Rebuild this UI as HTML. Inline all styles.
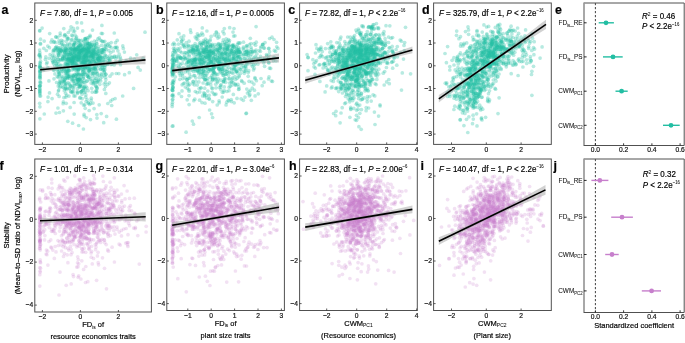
<!DOCTYPE html><html><head><meta charset="utf-8"><style>
html,body{margin:0;padding:0;background:#fff;}
svg{display:block;will-change:transform;filter:blur(0.25px);}
.t,.p{filter:blur(0.25px);}
text{font-family:"Liberation Sans",sans-serif;fill:#000;stroke:#000;stroke-width:0.18px;}
tspan.s{stroke-width:0.04px;}
.tk{font-size:6.7px;fill:#222;}
.an{font-size:8px;fill:#000;}
.at{font-size:7.5px;fill:#000;}
.lb{font-size:6.4px;fill:#111;stroke-width:0.06px;}
.pl{font-size:12.5px;font-weight:bold;fill:#000;}
.t circle{r:1.85px;fill:rgb(35,190,163);fill-opacity:0.33;}
.p circle{r:1.85px;fill:rgb(199,127,204);fill-opacity:0.23;}
</style></head><body>
<svg width="685" height="343" viewBox="0 0 685 343">
<g class="t">
<circle cx="55.5" cy="48.0"/><circle cx="85.4" cy="39.7"/><circle cx="65.6" cy="93.3"/><circle cx="83.6" cy="67.8"/><circle cx="78.6" cy="40.2"/><circle cx="96.9" cy="54.5"/><circle cx="67.1" cy="45.3"/><circle cx="85.6" cy="53.3"/><circle cx="81.2" cy="44.7"/><circle cx="114.9" cy="47.7"/><circle cx="87.1" cy="37.8"/><circle cx="88.5" cy="73.9"/><circle cx="76.9" cy="51.8"/><circle cx="85.0" cy="62.4"/><circle cx="104.7" cy="67.5"/><circle cx="71.4" cy="48.6"/><circle cx="89.2" cy="71.3"/><circle cx="109.4" cy="82.8"/><circle cx="77.2" cy="56.8"/><circle cx="70.2" cy="61.3"/><circle cx="118.2" cy="57.1"/><circle cx="88.3" cy="103.0"/><circle cx="42.1" cy="28.1"/><circle cx="69.3" cy="59.8"/><circle cx="71.7" cy="63.0"/><circle cx="77.1" cy="58.8"/><circle cx="80.6" cy="43.7"/><circle cx="80.5" cy="84.5"/><circle cx="64.4" cy="45.6"/><circle cx="73.3" cy="62.7"/><circle cx="97.1" cy="88.6"/><circle cx="85.6" cy="88.7"/><circle cx="40.2" cy="56.6"/><circle cx="98.1" cy="50.6"/><circle cx="95.6" cy="47.2"/><circle cx="82.0" cy="52.4"/><circle cx="90.4" cy="60.3"/><circle cx="58.6" cy="90.1"/><circle cx="81.5" cy="52.7"/><circle cx="101.6" cy="45.4"/><circle cx="60.2" cy="33.1"/><circle cx="59.2" cy="84.2"/><circle cx="80.8" cy="92.1"/><circle cx="59.0" cy="47.8"/><circle cx="71.1" cy="92.2"/><circle cx="84.1" cy="114.4"/><circle cx="47.1" cy="62.3"/><circle cx="61.3" cy="50.3"/><circle cx="57.4" cy="52.9"/><circle cx="67.1" cy="88.1"/><circle cx="101.3" cy="73.9"/><circle cx="44.3" cy="114.0"/><circle cx="58.8" cy="52.8"/><circle cx="82.6" cy="51.4"/><circle cx="68.1" cy="76.4"/><circle cx="82.1" cy="67.8"/><circle cx="82.7" cy="71.8"/><circle cx="65.1" cy="75.0"/><circle cx="78.4" cy="51.4"/><circle cx="80.0" cy="97.4"/><circle cx="70.4" cy="64.3"/><circle cx="87.6" cy="76.2"/><circle cx="66.1" cy="63.8"/><circle cx="124.4" cy="52.1"/><circle cx="72.7" cy="59.1"/><circle cx="78.9" cy="69.2"/><circle cx="78.0" cy="83.8"/><circle cx="82.9" cy="62.1"/><circle cx="85.3" cy="74.3"/><circle cx="86.7" cy="67.3"/><circle cx="115.3" cy="47.4"/><circle cx="88.0" cy="53.1"/><circle cx="78.1" cy="40.7"/><circle cx="103.9" cy="48.4"/><circle cx="67.4" cy="78.5"/><circle cx="88.7" cy="37.4"/><circle cx="77.2" cy="91.6"/><circle cx="82.5" cy="50.4"/><circle cx="88.2" cy="60.5"/><circle cx="81.2" cy="62.4"/><circle cx="112.0" cy="57.4"/><circle cx="99.6" cy="57.5"/><circle cx="91.6" cy="42.3"/><circle cx="39.9" cy="62.9"/><circle cx="53.8" cy="57.9"/><circle cx="50.1" cy="54.7"/><circle cx="53.1" cy="61.8"/><circle cx="101.0" cy="64.4"/><circle cx="110.8" cy="52.5"/><circle cx="68.9" cy="96.1"/><circle cx="84.6" cy="44.6"/><circle cx="85.8" cy="56.3"/><circle cx="105.2" cy="59.7"/><circle cx="73.1" cy="60.4"/><circle cx="75.1" cy="80.5"/><circle cx="98.3" cy="59.0"/><circle cx="101.9" cy="25.4"/><circle cx="59.7" cy="70.5"/><circle cx="75.1" cy="96.0"/><circle cx="72.3" cy="50.7"/><circle cx="71.7" cy="40.2"/><circle cx="136.7" cy="54.8"/><circle cx="76.1" cy="69.9"/><circle cx="79.9" cy="40.7"/><circle cx="60.2" cy="35.3"/><circle cx="101.3" cy="33.4"/><circle cx="87.3" cy="76.1"/><circle cx="87.4" cy="55.5"/><circle cx="83.3" cy="51.7"/><circle cx="88.8" cy="76.8"/><circle cx="63.9" cy="69.2"/><circle cx="40.3" cy="78.7"/><circle cx="85.3" cy="61.1"/><circle cx="77.4" cy="93.4"/><circle cx="61.7" cy="42.7"/><circle cx="63.1" cy="44.5"/><circle cx="75.9" cy="75.5"/><circle cx="87.4" cy="39.3"/><circle cx="92.2" cy="92.1"/><circle cx="102.8" cy="62.1"/><circle cx="89.1" cy="56.9"/><circle cx="64.1" cy="69.7"/><circle cx="40.3" cy="71.1"/><circle cx="64.0" cy="81.9"/><circle cx="72.6" cy="35.8"/><circle cx="117.9" cy="50.8"/><circle cx="73.4" cy="58.2"/><circle cx="47.8" cy="67.7"/><circle cx="97.8" cy="38.9"/><circle cx="63.4" cy="110.8"/><circle cx="93.8" cy="67.3"/><circle cx="87.8" cy="45.7"/><circle cx="89.2" cy="43.7"/><circle cx="72.0" cy="53.4"/><circle cx="86.6" cy="60.1"/><circle cx="54.6" cy="50.0"/><circle cx="89.6" cy="104.5"/><circle cx="114.3" cy="33.0"/><circle cx="88.6" cy="77.2"/><circle cx="77.9" cy="70.2"/><circle cx="88.7" cy="70.3"/><circle cx="77.0" cy="22.7"/><circle cx="90.5" cy="55.4"/><circle cx="87.4" cy="65.9"/><circle cx="89.9" cy="52.2"/><circle cx="77.2" cy="49.9"/><circle cx="78.7" cy="125.5"/><circle cx="45.4" cy="59.4"/><circle cx="81.2" cy="102.8"/><circle cx="95.6" cy="63.3"/><circle cx="60.6" cy="50.2"/><circle cx="106.6" cy="116.4"/><circle cx="82.7" cy="65.9"/><circle cx="84.6" cy="72.6"/><circle cx="87.9" cy="52.9"/><circle cx="71.9" cy="47.6"/><circle cx="71.9" cy="55.4"/><circle cx="102.2" cy="57.0"/><circle cx="83.5" cy="76.4"/><circle cx="74.9" cy="83.6"/><circle cx="95.1" cy="54.0"/><circle cx="86.1" cy="54.4"/><circle cx="114.2" cy="57.1"/><circle cx="84.7" cy="55.6"/><circle cx="67.5" cy="59.6"/><circle cx="57.0" cy="49.1"/><circle cx="110.0" cy="76.2"/><circle cx="66.0" cy="59.6"/><circle cx="102.7" cy="57.7"/><circle cx="79.7" cy="87.3"/><circle cx="98.8" cy="48.9"/><circle cx="72.9" cy="53.4"/><circle cx="40.3" cy="71.9"/><circle cx="86.6" cy="57.3"/><circle cx="65.9" cy="77.5"/><circle cx="49.4" cy="47.7"/><circle cx="91.5" cy="54.3"/><circle cx="109.2" cy="46.3"/><circle cx="66.0" cy="57.0"/><circle cx="42.5" cy="68.9"/><circle cx="89.1" cy="48.3"/><circle cx="59.2" cy="50.7"/><circle cx="86.9" cy="62.2"/><circle cx="72.8" cy="91.4"/><circle cx="104.9" cy="69.7"/><circle cx="57.7" cy="61.7"/><circle cx="62.7" cy="58.7"/><circle cx="91.3" cy="57.0"/><circle cx="39.7" cy="103.3"/><circle cx="71.1" cy="54.1"/><circle cx="116.3" cy="73.5"/><circle cx="71.9" cy="58.7"/><circle cx="62.5" cy="48.8"/><circle cx="39.8" cy="75.9"/><circle cx="95.2" cy="52.8"/><circle cx="81.2" cy="91.7"/><circle cx="64.6" cy="81.5"/><circle cx="75.1" cy="53.3"/><circle cx="73.5" cy="57.7"/><circle cx="75.7" cy="43.2"/><circle cx="39.6" cy="85.8"/><circle cx="80.3" cy="57.1"/><circle cx="40.4" cy="67.6"/><circle cx="78.9" cy="53.1"/><circle cx="98.1" cy="58.5"/><circle cx="87.6" cy="74.9"/><circle cx="95.0" cy="50.9"/><circle cx="72.9" cy="86.0"/><circle cx="40.2" cy="66.6"/><circle cx="75.8" cy="65.6"/><circle cx="88.1" cy="45.5"/><circle cx="90.7" cy="45.8"/><circle cx="97.1" cy="64.7"/><circle cx="94.0" cy="49.7"/><circle cx="77.0" cy="59.5"/><circle cx="83.7" cy="45.2"/><circle cx="103.3" cy="69.1"/><circle cx="74.8" cy="48.5"/><circle cx="100.8" cy="63.7"/><circle cx="78.8" cy="74.4"/><circle cx="71.7" cy="35.2"/><circle cx="96.8" cy="91.4"/><circle cx="93.3" cy="82.0"/><circle cx="100.9" cy="57.0"/><circle cx="101.7" cy="40.8"/><circle cx="89.6" cy="55.8"/><circle cx="59.6" cy="87.6"/><circle cx="65.7" cy="48.1"/><circle cx="88.4" cy="51.8"/><circle cx="81.5" cy="55.4"/><circle cx="108.1" cy="58.3"/><circle cx="67.3" cy="71.3"/><circle cx="62.6" cy="81.3"/><circle cx="83.5" cy="49.2"/><circle cx="88.0" cy="43.7"/><circle cx="97.7" cy="59.2"/><circle cx="69.6" cy="83.9"/><circle cx="79.2" cy="83.3"/><circle cx="76.4" cy="57.4"/><circle cx="74.3" cy="68.9"/><circle cx="89.9" cy="70.0"/><circle cx="68.8" cy="58.7"/><circle cx="69.3" cy="52.6"/><circle cx="91.6" cy="53.3"/><circle cx="84.8" cy="64.0"/><circle cx="80.6" cy="49.9"/><circle cx="89.9" cy="79.6"/><circle cx="72.7" cy="79.1"/><circle cx="92.7" cy="49.7"/><circle cx="91.2" cy="53.9"/><circle cx="80.6" cy="66.3"/><circle cx="56.5" cy="63.2"/><circle cx="39.6" cy="89.5"/><circle cx="82.2" cy="74.6"/><circle cx="97.1" cy="73.0"/><circle cx="97.1" cy="82.1"/><circle cx="65.9" cy="97.1"/><circle cx="104.6" cy="51.4"/><circle cx="43.8" cy="48.3"/><circle cx="95.2" cy="67.2"/><circle cx="69.9" cy="85.2"/><circle cx="72.6" cy="123.2"/><circle cx="112.1" cy="57.4"/><circle cx="71.5" cy="58.7"/><circle cx="79.8" cy="65.5"/><circle cx="39.8" cy="93.7"/><circle cx="143.1" cy="58.3"/><circle cx="122.7" cy="96.0"/><circle cx="62.8" cy="41.0"/><circle cx="88.1" cy="90.7"/><circle cx="87.6" cy="45.4"/><circle cx="87.5" cy="49.4"/><circle cx="83.3" cy="69.5"/><circle cx="88.4" cy="51.0"/><circle cx="72.8" cy="64.9"/><circle cx="70.0" cy="60.5"/><circle cx="87.3" cy="48.8"/><circle cx="95.4" cy="62.8"/><circle cx="99.2" cy="104.8"/><circle cx="58.3" cy="77.2"/><circle cx="78.6" cy="42.7"/><circle cx="39.8" cy="66.3"/><circle cx="83.7" cy="105.2"/><circle cx="52.3" cy="55.5"/><circle cx="89.0" cy="71.0"/><circle cx="78.0" cy="69.8"/><circle cx="83.7" cy="49.4"/><circle cx="104.8" cy="41.4"/><circle cx="83.8" cy="82.6"/><circle cx="73.2" cy="75.7"/><circle cx="54.0" cy="78.8"/><circle cx="94.6" cy="45.4"/><circle cx="94.4" cy="41.0"/><circle cx="60.1" cy="52.3"/><circle cx="81.3" cy="60.2"/><circle cx="91.2" cy="55.7"/><circle cx="72.4" cy="75.2"/><circle cx="74.2" cy="50.8"/><circle cx="59.5" cy="112.5"/><circle cx="73.4" cy="45.0"/><circle cx="70.3" cy="53.8"/><circle cx="71.0" cy="26.8"/><circle cx="83.8" cy="41.5"/><circle cx="64.8" cy="34.5"/><circle cx="78.0" cy="81.7"/><circle cx="89.2" cy="69.9"/><circle cx="45.8" cy="56.9"/><circle cx="97.3" cy="57.4"/><circle cx="98.7" cy="65.8"/><circle cx="81.1" cy="46.6"/><circle cx="120.7" cy="59.2"/><circle cx="85.1" cy="68.8"/><circle cx="97.1" cy="58.1"/><circle cx="71.8" cy="58.1"/><circle cx="97.1" cy="62.2"/><circle cx="59.5" cy="73.8"/><circle cx="73.3" cy="51.6"/><circle cx="94.1" cy="73.4"/><circle cx="68.3" cy="32.5"/><circle cx="78.2" cy="68.7"/><circle cx="76.0" cy="53.9"/><circle cx="77.9" cy="80.1"/><circle cx="83.0" cy="90.3"/><circle cx="57.7" cy="37.4"/><circle cx="94.7" cy="51.7"/><circle cx="57.5" cy="94.2"/><circle cx="102.5" cy="33.6"/><circle cx="79.2" cy="57.4"/><circle cx="66.8" cy="83.9"/><circle cx="80.1" cy="50.8"/><circle cx="83.1" cy="74.4"/><circle cx="73.0" cy="60.1"/><circle cx="102.0" cy="67.9"/><circle cx="67.5" cy="64.7"/><circle cx="67.0" cy="75.0"/><circle cx="87.9" cy="68.1"/><circle cx="82.1" cy="90.5"/><circle cx="62.7" cy="71.8"/><circle cx="102.0" cy="52.1"/><circle cx="76.1" cy="70.8"/><circle cx="82.1" cy="98.7"/><circle cx="91.4" cy="62.7"/><circle cx="70.2" cy="58.3"/><circle cx="80.4" cy="45.4"/><circle cx="81.8" cy="50.8"/><circle cx="59.2" cy="73.9"/><circle cx="82.8" cy="48.6"/><circle cx="94.0" cy="54.0"/><circle cx="99.2" cy="37.9"/><circle cx="47.9" cy="101.6"/><circle cx="70.7" cy="51.5"/><circle cx="93.7" cy="83.3"/><circle cx="83.4" cy="129.0"/><circle cx="40.1" cy="70.2"/><circle cx="75.5" cy="58.3"/><circle cx="93.2" cy="56.1"/><circle cx="80.2" cy="85.5"/><circle cx="85.6" cy="50.9"/><circle cx="61.3" cy="44.0"/><circle cx="73.6" cy="89.1"/><circle cx="104.3" cy="71.9"/><circle cx="107.7" cy="61.4"/><circle cx="69.4" cy="70.7"/><circle cx="89.0" cy="47.3"/><circle cx="73.2" cy="92.9"/><circle cx="87.3" cy="49.2"/><circle cx="75.8" cy="76.8"/><circle cx="74.6" cy="42.4"/><circle cx="66.3" cy="49.1"/><circle cx="69.1" cy="63.5"/><circle cx="84.3" cy="53.6"/><circle cx="83.2" cy="63.4"/><circle cx="78.6" cy="53.0"/><circle cx="111.4" cy="47.8"/><circle cx="90.3" cy="68.4"/><circle cx="106.3" cy="46.8"/><circle cx="58.2" cy="59.0"/><circle cx="84.9" cy="82.6"/><circle cx="107.7" cy="84.5"/><circle cx="99.4" cy="55.8"/><circle cx="80.0" cy="51.6"/><circle cx="85.9" cy="51.8"/><circle cx="80.2" cy="59.5"/><circle cx="57.3" cy="57.3"/><circle cx="46.3" cy="50.5"/><circle cx="65.5" cy="78.3"/><circle cx="104.1" cy="84.0"/><circle cx="72.2" cy="61.5"/><circle cx="84.9" cy="58.4"/><circle cx="68.3" cy="58.2"/><circle cx="62.3" cy="78.6"/><circle cx="71.2" cy="86.1"/><circle cx="75.3" cy="56.5"/><circle cx="105.0" cy="49.1"/><circle cx="81.7" cy="63.0"/><circle cx="70.2" cy="30.0"/><circle cx="103.8" cy="50.8"/><circle cx="87.3" cy="60.6"/><circle cx="58.8" cy="72.2"/><circle cx="68.2" cy="54.3"/><circle cx="83.7" cy="57.9"/><circle cx="75.2" cy="47.7"/><circle cx="76.2" cy="38.2"/><circle cx="118.8" cy="73.6"/><circle cx="52.9" cy="62.1"/><circle cx="87.2" cy="67.6"/><circle cx="80.6" cy="78.0"/><circle cx="92.1" cy="51.4"/><circle cx="105.8" cy="93.4"/><circle cx="109.0" cy="62.2"/><circle cx="52.3" cy="60.6"/><circle cx="57.9" cy="66.3"/><circle cx="88.1" cy="49.0"/><circle cx="82.4" cy="59.1"/><circle cx="66.2" cy="41.4"/><circle cx="85.3" cy="55.3"/><circle cx="95.2" cy="69.3"/><circle cx="84.5" cy="67.4"/><circle cx="86.0" cy="55.4"/><circle cx="83.3" cy="89.2"/><circle cx="88.7" cy="52.8"/><circle cx="100.7" cy="68.9"/><circle cx="85.9" cy="50.0"/><circle cx="83.0" cy="66.7"/><circle cx="56.1" cy="50.4"/><circle cx="95.5" cy="69.2"/><circle cx="129.3" cy="72.7"/><circle cx="40.7" cy="82.7"/><circle cx="97.8" cy="58.6"/><circle cx="82.7" cy="30.9"/><circle cx="123.3" cy="48.4"/><circle cx="86.8" cy="81.3"/><circle cx="65.0" cy="77.9"/><circle cx="114.2" cy="65.0"/><circle cx="78.0" cy="81.8"/><circle cx="91.3" cy="98.2"/><circle cx="82.6" cy="48.1"/><circle cx="107.6" cy="64.0"/><circle cx="67.7" cy="39.2"/><circle cx="63.1" cy="103.7"/><circle cx="113.3" cy="51.0"/><circle cx="95.6" cy="54.5"/><circle cx="83.5" cy="57.3"/><circle cx="84.8" cy="38.5"/><circle cx="93.6" cy="47.4"/><circle cx="88.9" cy="61.8"/><circle cx="76.1" cy="78.5"/><circle cx="39.8" cy="65.2"/><circle cx="54.3" cy="41.7"/><circle cx="73.9" cy="63.9"/><circle cx="64.6" cy="65.1"/><circle cx="102.4" cy="41.6"/><circle cx="56.5" cy="46.5"/><circle cx="60.4" cy="47.8"/><circle cx="91.2" cy="61.4"/><circle cx="87.3" cy="42.6"/><circle cx="75.7" cy="76.1"/><circle cx="74.0" cy="57.0"/><circle cx="82.4" cy="82.3"/><circle cx="85.5" cy="62.5"/><circle cx="101.0" cy="58.6"/><circle cx="78.2" cy="56.2"/><circle cx="66.3" cy="62.3"/><circle cx="104.5" cy="61.3"/><circle cx="73.5" cy="59.6"/><circle cx="80.4" cy="57.0"/><circle cx="93.6" cy="50.4"/><circle cx="100.3" cy="40.1"/><circle cx="40.3" cy="75.7"/><circle cx="84.1" cy="49.2"/><circle cx="138.1" cy="67.4"/><circle cx="68.7" cy="52.7"/><circle cx="85.8" cy="59.1"/><circle cx="78.6" cy="54.7"/><circle cx="83.4" cy="88.2"/><circle cx="74.6" cy="85.9"/><circle cx="86.2" cy="117.6"/><circle cx="79.7" cy="49.5"/><circle cx="59.0" cy="40.9"/><circle cx="62.3" cy="59.4"/><circle cx="77.0" cy="65.5"/><circle cx="58.8" cy="66.6"/><circle cx="92.6" cy="53.7"/><circle cx="79.8" cy="50.3"/><circle cx="74.7" cy="31.0"/><circle cx="99.7" cy="61.0"/><circle cx="59.2" cy="51.6"/><circle cx="80.0" cy="85.1"/><circle cx="86.7" cy="64.8"/><circle cx="78.5" cy="46.2"/><circle cx="57.3" cy="49.8"/><circle cx="72.9" cy="56.8"/><circle cx="92.2" cy="55.9"/><circle cx="72.0" cy="91.8"/><circle cx="86.1" cy="101.5"/><circle cx="78.2" cy="79.9"/><circle cx="68.3" cy="48.1"/><circle cx="58.4" cy="55.5"/><circle cx="114.5" cy="56.0"/><circle cx="40.0" cy="74.7"/><circle cx="101.2" cy="113.6"/><circle cx="78.5" cy="59.1"/><circle cx="60.6" cy="59.5"/><circle cx="92.4" cy="57.4"/><circle cx="84.4" cy="87.5"/><circle cx="79.3" cy="57.8"/><circle cx="77.1" cy="67.5"/><circle cx="89.0" cy="64.7"/><circle cx="85.6" cy="44.8"/><circle cx="64.7" cy="52.2"/><circle cx="73.3" cy="80.7"/><circle cx="102.4" cy="49.6"/><circle cx="77.5" cy="28.1"/><circle cx="93.1" cy="84.0"/><circle cx="94.8" cy="82.6"/><circle cx="71.3" cy="58.5"/><circle cx="108.5" cy="43.5"/><circle cx="62.2" cy="56.2"/><circle cx="94.1" cy="108.6"/><circle cx="89.2" cy="70.8"/><circle cx="74.7" cy="48.9"/><circle cx="73.5" cy="66.6"/><circle cx="90.2" cy="36.6"/><circle cx="63.8" cy="50.4"/><circle cx="75.9" cy="55.8"/><circle cx="40.4" cy="44.2"/><circle cx="99.5" cy="56.4"/><circle cx="110.2" cy="60.5"/><circle cx="70.2" cy="107.4"/><circle cx="85.4" cy="38.9"/><circle cx="90.0" cy="35.3"/><circle cx="97.9" cy="63.6"/><circle cx="56.8" cy="65.7"/><circle cx="100.6" cy="53.2"/><circle cx="66.9" cy="58.3"/><circle cx="39.7" cy="91.1"/><circle cx="64.8" cy="52.9"/><circle cx="76.7" cy="55.9"/><circle cx="66.2" cy="73.7"/><circle cx="116.9" cy="47.2"/><circle cx="63.8" cy="28.6"/><circle cx="61.5" cy="65.3"/><circle cx="73.3" cy="28.4"/><circle cx="76.1" cy="49.8"/><circle cx="93.5" cy="68.3"/><circle cx="95.1" cy="63.4"/><circle cx="87.0" cy="51.0"/><circle cx="103.4" cy="58.0"/><circle cx="74.8" cy="50.4"/><circle cx="68.1" cy="71.3"/><circle cx="98.2" cy="81.3"/><circle cx="39.7" cy="55.3"/><circle cx="57.7" cy="69.0"/><circle cx="78.3" cy="59.3"/><circle cx="100.4" cy="65.1"/><circle cx="98.2" cy="54.0"/><circle cx="39.9" cy="68.4"/><circle cx="73.7" cy="45.7"/><circle cx="105.5" cy="86.5"/><circle cx="40.0" cy="92.7"/><circle cx="79.9" cy="54.8"/><circle cx="58.8" cy="74.2"/><circle cx="74.6" cy="56.6"/><circle cx="120.2" cy="61.4"/><circle cx="95.2" cy="49.1"/><circle cx="62.9" cy="50.2"/><circle cx="65.1" cy="79.9"/><circle cx="72.4" cy="49.8"/><circle cx="100.7" cy="69.3"/><circle cx="95.8" cy="86.3"/><circle cx="72.9" cy="58.3"/><circle cx="95.1" cy="92.2"/><circle cx="89.9" cy="51.9"/><circle cx="76.6" cy="60.5"/><circle cx="71.7" cy="79.3"/><circle cx="86.7" cy="60.8"/><circle cx="100.2" cy="59.2"/><circle cx="40.5" cy="61.2"/><circle cx="101.6" cy="74.9"/><circle cx="77.8" cy="47.0"/><circle cx="65.7" cy="87.6"/><circle cx="96.7" cy="87.0"/><circle cx="68.2" cy="59.9"/><circle cx="87.1" cy="99.6"/><circle cx="96.8" cy="47.9"/><circle cx="83.3" cy="54.6"/><circle cx="105.8" cy="74.3"/><circle cx="87.2" cy="80.8"/><circle cx="64.5" cy="51.6"/><circle cx="83.3" cy="61.1"/><circle cx="77.6" cy="73.6"/><circle cx="91.7" cy="88.3"/><circle cx="68.3" cy="56.9"/><circle cx="119.2" cy="54.2"/><circle cx="68.9" cy="58.8"/><circle cx="84.4" cy="61.6"/><circle cx="40.0" cy="81.7"/><circle cx="74.5" cy="67.9"/><circle cx="96.1" cy="90.5"/><circle cx="55.5" cy="59.1"/><circle cx="91.1" cy="44.7"/><circle cx="60.0" cy="80.1"/><circle cx="61.3" cy="40.3"/><circle cx="72.4" cy="61.5"/><circle cx="96.3" cy="44.0"/><circle cx="65.5" cy="66.2"/><circle cx="58.4" cy="91.0"/><circle cx="79.6" cy="51.7"/><circle cx="78.5" cy="45.9"/><circle cx="90.8" cy="50.7"/><circle cx="71.2" cy="54.4"/><circle cx="74.1" cy="49.4"/><circle cx="48.1" cy="97.1"/><circle cx="105.8" cy="79.6"/><circle cx="59.0" cy="55.5"/><circle cx="79.5" cy="79.9"/><circle cx="39.9" cy="30.8"/><circle cx="91.1" cy="83.1"/><circle cx="72.3" cy="66.3"/><circle cx="39.6" cy="67.0"/><circle cx="97.0" cy="118.1"/><circle cx="105.4" cy="82.6"/><circle cx="104.4" cy="72.4"/><circle cx="88.5" cy="50.8"/><circle cx="57.9" cy="108.0"/><circle cx="77.5" cy="64.9"/><circle cx="102.8" cy="70.1"/><circle cx="78.4" cy="57.2"/><circle cx="62.7" cy="45.9"/><circle cx="83.5" cy="58.5"/><circle cx="62.4" cy="58.2"/><circle cx="140.3" cy="70.1"/><circle cx="67.3" cy="44.7"/><circle cx="93.0" cy="71.5"/><circle cx="98.3" cy="55.9"/><circle cx="79.9" cy="79.1"/><circle cx="85.1" cy="66.7"/><circle cx="83.4" cy="77.7"/><circle cx="57.1" cy="76.7"/><circle cx="115.1" cy="98.6"/><circle cx="72.0" cy="49.4"/><circle cx="40.1" cy="90.0"/><circle cx="66.6" cy="53.2"/><circle cx="68.6" cy="48.9"/><circle cx="78.6" cy="70.0"/><circle cx="86.5" cy="56.9"/><circle cx="98.8" cy="62.1"/><circle cx="55.4" cy="42.5"/><circle cx="88.3" cy="68.0"/><circle cx="92.5" cy="64.1"/><circle cx="94.0" cy="57.4"/><circle cx="49.5" cy="92.9"/><circle cx="116.9" cy="47.9"/><circle cx="94.3" cy="62.1"/><circle cx="39.8" cy="95.9"/><circle cx="85.1" cy="60.1"/><circle cx="70.3" cy="52.7"/><circle cx="74.0" cy="81.2"/><circle cx="88.4" cy="51.5"/><circle cx="59.1" cy="49.4"/><circle cx="78.5" cy="47.6"/><circle cx="90.7" cy="48.5"/><circle cx="74.4" cy="58.0"/><circle cx="119.3" cy="61.9"/><circle cx="56.0" cy="113.1"/><circle cx="39.9" cy="106.8"/><circle cx="88.2" cy="102.8"/><circle cx="79.6" cy="78.4"/><circle cx="87.3" cy="60.1"/><circle cx="97.9" cy="76.3"/><circle cx="51.0" cy="42.1"/><circle cx="72.0" cy="80.9"/><circle cx="98.5" cy="46.9"/><circle cx="61.5" cy="71.5"/><circle cx="81.1" cy="91.7"/><circle cx="66.7" cy="95.4"/><circle cx="78.7" cy="73.0"/><circle cx="69.2" cy="77.2"/><circle cx="85.0" cy="49.7"/><circle cx="69.4" cy="88.8"/><circle cx="77.0" cy="84.4"/><circle cx="77.6" cy="57.5"/><circle cx="97.1" cy="43.8"/><circle cx="39.9" cy="77.7"/><circle cx="92.9" cy="57.3"/><circle cx="72.7" cy="63.4"/><circle cx="93.5" cy="50.8"/><circle cx="68.7" cy="38.7"/><circle cx="87.6" cy="53.4"/><circle cx="70.5" cy="60.1"/><circle cx="76.0" cy="56.4"/><circle cx="64.3" cy="90.7"/><circle cx="40.2" cy="67.6"/><circle cx="81.1" cy="48.9"/><circle cx="81.8" cy="74.2"/><circle cx="83.0" cy="71.6"/><circle cx="84.1" cy="116.0"/><circle cx="72.1" cy="57.4"/><circle cx="83.8" cy="59.9"/><circle cx="53.7" cy="49.8"/><circle cx="77.6" cy="92.5"/><circle cx="64.3" cy="68.0"/><circle cx="96.7" cy="59.0"/><circle cx="77.6" cy="79.9"/><circle cx="53.3" cy="50.5"/><circle cx="105.4" cy="55.6"/><circle cx="73.3" cy="77.0"/><circle cx="80.1" cy="59.3"/><circle cx="81.9" cy="63.1"/><circle cx="105.8" cy="74.2"/><circle cx="115.7" cy="58.5"/><circle cx="71.0" cy="65.7"/><circle cx="98.2" cy="51.4"/><circle cx="94.6" cy="44.6"/><circle cx="97.6" cy="68.8"/><circle cx="74.4" cy="53.1"/><circle cx="86.8" cy="48.2"/><circle cx="68.2" cy="63.3"/><circle cx="79.0" cy="86.4"/><circle cx="69.6" cy="50.1"/><circle cx="91.4" cy="45.9"/><circle cx="40.3" cy="57.7"/><circle cx="69.1" cy="78.3"/><circle cx="49.0" cy="58.3"/><circle cx="66.2" cy="103.3"/><circle cx="67.1" cy="69.7"/><circle cx="85.4" cy="38.6"/><circle cx="66.4" cy="60.1"/><circle cx="91.1" cy="100.3"/><circle cx="77.6" cy="77.3"/><circle cx="78.4" cy="79.2"/><circle cx="61.2" cy="51.1"/><circle cx="95.0" cy="47.3"/><circle cx="91.8" cy="58.8"/><circle cx="61.7" cy="69.6"/><circle cx="89.2" cy="110.5"/><circle cx="76.7" cy="61.3"/><circle cx="101.8" cy="60.5"/><circle cx="73.1" cy="76.1"/><circle cx="89.4" cy="60.9"/><circle cx="120.5" cy="64.7"/><circle cx="103.3" cy="61.0"/><circle cx="99.8" cy="84.3"/><circle cx="80.0" cy="58.6"/><circle cx="54.2" cy="55.8"/><circle cx="107.5" cy="64.4"/><circle cx="73.6" cy="44.9"/><circle cx="59.1" cy="96.4"/><circle cx="108.6" cy="58.2"/><circle cx="89.3" cy="47.2"/><circle cx="85.8" cy="69.1"/><circle cx="74.0" cy="48.2"/><circle cx="115.5" cy="42.7"/><circle cx="89.2" cy="48.6"/><circle cx="70.2" cy="47.1"/><circle cx="67.0" cy="54.6"/><circle cx="69.3" cy="76.2"/><circle cx="115.5" cy="62.7"/><circle cx="84.3" cy="56.8"/><circle cx="94.4" cy="80.4"/><circle cx="96.3" cy="65.8"/><circle cx="93.6" cy="59.3"/><circle cx="92.7" cy="53.1"/><circle cx="67.4" cy="73.9"/><circle cx="69.9" cy="59.6"/><circle cx="65.6" cy="51.9"/><circle cx="64.5" cy="57.5"/><circle cx="98.7" cy="60.2"/><circle cx="73.8" cy="60.7"/><circle cx="85.3" cy="67.8"/><circle cx="89.2" cy="64.5"/><circle cx="82.9" cy="57.7"/><circle cx="122.8" cy="45.9"/><circle cx="95.8" cy="85.6"/><circle cx="68.0" cy="59.4"/><circle cx="63.8" cy="67.8"/><circle cx="57.5" cy="47.9"/><circle cx="68.1" cy="82.6"/><circle cx="84.3" cy="92.5"/><circle cx="90.6" cy="103.4"/><circle cx="89.4" cy="44.4"/><circle cx="65.9" cy="88.4"/><circle cx="39.9" cy="52.7"/><circle cx="79.2" cy="53.1"/><circle cx="60.3" cy="53.3"/><circle cx="69.3" cy="76.2"/><circle cx="69.7" cy="44.7"/><circle cx="84.7" cy="47.6"/><circle cx="64.4" cy="56.1"/><circle cx="60.4" cy="86.2"/><circle cx="70.7" cy="91.2"/><circle cx="39.7" cy="54.4"/><circle cx="68.9" cy="55.3"/><circle cx="92.7" cy="53.7"/><circle cx="72.1" cy="63.8"/><circle cx="51.9" cy="58.1"/><circle cx="65.8" cy="50.6"/><circle cx="39.9" cy="118.8"/><circle cx="76.8" cy="74.0"/><circle cx="62.3" cy="77.3"/><circle cx="79.6" cy="86.6"/><circle cx="77.0" cy="50.1"/><circle cx="81.6" cy="22.9"/><circle cx="78.4" cy="60.7"/><circle cx="87.0" cy="87.8"/><circle cx="68.4" cy="76.6"/><circle cx="79.2" cy="56.7"/><circle cx="58.2" cy="71.6"/><circle cx="39.8" cy="91.9"/><circle cx="85.2" cy="66.1"/><circle cx="97.3" cy="73.8"/><circle cx="80.4" cy="55.8"/><circle cx="102.5" cy="65.1"/><circle cx="67.2" cy="49.9"/><circle cx="96.5" cy="63.3"/><circle cx="70.7" cy="61.3"/><circle cx="84.3" cy="48.0"/><circle cx="89.5" cy="51.6"/><circle cx="81.5" cy="75.2"/><circle cx="81.6" cy="40.3"/><circle cx="84.2" cy="62.8"/><circle cx="86.3" cy="57.8"/><circle cx="64.3" cy="35.9"/><circle cx="78.0" cy="60.0"/><circle cx="105.2" cy="45.9"/><circle cx="39.0" cy="55.2"/><circle cx="61.4" cy="68.9"/><circle cx="93.8" cy="68.7"/><circle cx="90.5" cy="119.6"/><circle cx="130.6" cy="58.2"/><circle cx="67.3" cy="64.5"/><circle cx="88.3" cy="47.7"/><circle cx="40.6" cy="95.9"/><circle cx="59.2" cy="59.9"/><circle cx="88.2" cy="59.2"/><circle cx="90.6" cy="67.4"/><circle cx="92.3" cy="76.2"/><circle cx="61.7" cy="76.2"/><circle cx="73.7" cy="54.8"/><circle cx="95.9" cy="78.5"/><circle cx="47.8" cy="46.1"/><circle cx="72.8" cy="87.7"/><circle cx="74.2" cy="58.9"/><circle cx="65.7" cy="50.3"/><circle cx="66.9" cy="36.8"/><circle cx="133.6" cy="88.4"/><circle cx="43.9" cy="69.8"/><circle cx="111.2" cy="42.6"/><circle cx="54.2" cy="70.0"/><circle cx="98.7" cy="60.8"/><circle cx="60.2" cy="49.9"/><circle cx="86.1" cy="43.5"/><circle cx="65.2" cy="35.2"/><circle cx="80.5" cy="86.3"/><circle cx="100.7" cy="81.0"/><circle cx="81.2" cy="50.3"/><circle cx="104.5" cy="75.4"/><circle cx="74.9" cy="53.1"/><circle cx="75.2" cy="49.5"/><circle cx="83.1" cy="62.2"/><circle cx="75.1" cy="35.1"/><circle cx="82.4" cy="55.8"/><circle cx="100.6" cy="60.6"/><circle cx="92.8" cy="73.4"/><circle cx="92.9" cy="60.6"/><circle cx="80.4" cy="80.1"/><circle cx="59.2" cy="43.2"/><circle cx="40.1" cy="85.8"/><circle cx="111.7" cy="105.5"/><circle cx="101.7" cy="52.9"/><circle cx="39.6" cy="30.7"/><circle cx="70.5" cy="86.1"/><circle cx="93.9" cy="53.2"/><circle cx="84.0" cy="65.1"/><circle cx="74.9" cy="68.0"/><circle cx="90.0" cy="63.2"/><circle cx="145.0" cy="32.2"/><circle cx="84.0" cy="50.0"/><circle cx="91.4" cy="73.8"/><circle cx="104.9" cy="57.6"/><circle cx="69.3" cy="56.7"/><circle cx="78.2" cy="74.5"/><circle cx="52.1" cy="98.6"/><circle cx="94.4" cy="44.3"/><circle cx="55.9" cy="36.8"/><circle cx="97.4" cy="80.5"/><circle cx="81.5" cy="50.4"/><circle cx="64.1" cy="80.8"/><circle cx="101.6" cy="49.9"/><circle cx="97.7" cy="59.3"/><circle cx="104.7" cy="54.5"/><circle cx="85.9" cy="94.9"/><circle cx="82.1" cy="49.8"/><circle cx="82.1" cy="69.8"/><circle cx="69.6" cy="88.1"/><circle cx="103.5" cy="49.8"/><circle cx="74.2" cy="114.1"/><circle cx="77.0" cy="66.5"/><circle cx="106.3" cy="49.4"/><circle cx="77.4" cy="68.6"/><circle cx="76.5" cy="84.1"/><circle cx="97.4" cy="51.8"/><circle cx="91.2" cy="46.0"/><circle cx="101.7" cy="64.8"/><circle cx="74.8" cy="74.3"/><circle cx="75.7" cy="64.9"/><circle cx="85.7" cy="97.2"/><circle cx="81.9" cy="46.3"/><circle cx="93.5" cy="52.4"/><circle cx="66.9" cy="67.6"/><circle cx="86.8" cy="56.1"/><circle cx="46.6" cy="63.8"/><circle cx="99.0" cy="50.7"/><circle cx="81.6" cy="50.6"/><circle cx="66.3" cy="70.3"/><circle cx="93.9" cy="50.9"/><circle cx="74.9" cy="52.5"/><circle cx="53.4" cy="70.1"/><circle cx="94.1" cy="69.1"/><circle cx="40.3" cy="85.5"/><circle cx="66.7" cy="89.6"/><circle cx="75.5" cy="48.9"/><circle cx="84.1" cy="41.1"/><circle cx="65.0" cy="59.0"/><circle cx="62.9" cy="57.0"/><circle cx="76.1" cy="55.7"/><circle cx="93.6" cy="55.9"/><circle cx="79.4" cy="43.5"/><circle cx="96.5" cy="41.4"/><circle cx="79.7" cy="53.0"/><circle cx="124.6" cy="74.7"/><circle cx="39.9" cy="88.2"/><circle cx="111.9" cy="64.2"/><circle cx="85.4" cy="57.3"/><circle cx="63.4" cy="101.8"/><circle cx="80.5" cy="68.1"/><circle cx="59.3" cy="83.1"/><circle cx="77.8" cy="51.1"/><circle cx="40.3" cy="63.4"/><circle cx="98.9" cy="58.0"/><circle cx="55.6" cy="47.6"/><circle cx="80.1" cy="66.8"/><circle cx="85.5" cy="72.5"/><circle cx="72.6" cy="60.1"/><circle cx="68.4" cy="60.5"/><circle cx="76.4" cy="49.4"/><circle cx="91.0" cy="55.7"/><circle cx="74.8" cy="63.2"/><circle cx="77.3" cy="59.4"/><circle cx="100.5" cy="78.8"/><circle cx="53.6" cy="42.2"/><circle cx="65.0" cy="88.8"/><circle cx="94.6" cy="66.1"/><circle cx="86.3" cy="53.6"/><circle cx="73.1" cy="56.5"/><circle cx="85.0" cy="55.1"/><circle cx="90.0" cy="59.5"/><circle cx="103.9" cy="69.9"/><circle cx="69.9" cy="54.7"/><circle cx="74.5" cy="62.7"/><circle cx="67.5" cy="62.8"/><circle cx="82.2" cy="62.8"/><circle cx="78.0" cy="48.6"/><circle cx="86.7" cy="52.6"/><circle cx="96.8" cy="114.5"/><circle cx="64.7" cy="56.1"/><circle cx="116.4" cy="56.6"/><circle cx="65.3" cy="54.6"/><circle cx="117.2" cy="40.4"/><circle cx="78.1" cy="49.5"/><circle cx="65.8" cy="71.6"/><circle cx="98.4" cy="53.6"/><circle cx="85.8" cy="55.9"/><circle cx="109.8" cy="55.8"/><circle cx="89.8" cy="43.4"/><circle cx="61.0" cy="82.4"/><circle cx="108.3" cy="62.9"/><circle cx="67.1" cy="54.7"/><circle cx="112.6" cy="99.5"/><circle cx="68.3" cy="64.3"/><circle cx="88.4" cy="49.6"/><circle cx="39.6" cy="86.5"/><circle cx="91.7" cy="64.7"/><circle cx="70.4" cy="49.9"/><circle cx="82.6" cy="51.8"/><circle cx="92.5" cy="30.1"/><circle cx="62.7" cy="86.9"/><circle cx="103.8" cy="65.4"/><circle cx="96.6" cy="71.6"/><circle cx="84.7" cy="104.8"/><circle cx="69.0" cy="74.1"/><circle cx="91.4" cy="46.9"/><circle cx="63.2" cy="87.6"/><circle cx="95.9" cy="60.5"/><circle cx="109.6" cy="60.4"/><circle cx="84.6" cy="63.5"/><circle cx="87.3" cy="42.1"/><circle cx="55.8" cy="60.8"/><circle cx="81.5" cy="81.4"/><circle cx="86.4" cy="48.5"/><circle cx="80.3" cy="75.0"/><circle cx="91.7" cy="69.5"/><circle cx="85.3" cy="91.9"/><circle cx="78.6" cy="68.8"/><circle cx="75.7" cy="39.0"/><circle cx="40.1" cy="71.0"/><circle cx="68.5" cy="66.0"/><circle cx="56.9" cy="69.7"/><circle cx="69.2" cy="70.5"/><circle cx="86.3" cy="51.3"/><circle cx="73.0" cy="68.8"/><circle cx="104.9" cy="65.9"/><circle cx="75.3" cy="61.5"/><circle cx="126.1" cy="60.6"/><circle cx="77.8" cy="47.2"/><circle cx="56.6" cy="82.5"/><circle cx="85.9" cy="51.6"/><circle cx="105.6" cy="77.3"/><circle cx="76.3" cy="63.5"/><circle cx="74.0" cy="58.4"/><circle cx="79.3" cy="60.4"/><circle cx="90.3" cy="56.5"/><circle cx="92.3" cy="55.2"/><circle cx="72.4" cy="61.3"/><circle cx="99.3" cy="75.4"/><circle cx="67.7" cy="73.4"/><circle cx="83.9" cy="60.4"/><circle cx="102.2" cy="77.0"/><circle cx="110.6" cy="101.2"/><circle cx="67.4" cy="38.3"/><circle cx="88.6" cy="57.0"/><circle cx="59.2" cy="76.0"/><circle cx="100.1" cy="57.9"/><circle cx="54.6" cy="61.2"/><circle cx="89.5" cy="67.4"/><circle cx="72.1" cy="76.5"/><circle cx="68.2" cy="69.9"/><circle cx="39.8" cy="77.3"/><circle cx="78.9" cy="57.2"/><circle cx="77.4" cy="79.5"/><circle cx="100.2" cy="63.5"/><circle cx="103.7" cy="122.7"/><circle cx="65.5" cy="48.9"/><circle cx="80.0" cy="98.2"/><circle cx="107.8" cy="103.5"/><circle cx="72.4" cy="77.7"/><circle cx="104.4" cy="89.4"/><circle cx="68.7" cy="67.9"/><circle cx="65.0" cy="71.6"/><circle cx="97.0" cy="82.3"/><circle cx="73.5" cy="31.7"/><circle cx="98.4" cy="79.5"/><circle cx="39.6" cy="50.1"/><circle cx="61.3" cy="83.4"/><circle cx="75.0" cy="44.6"/><circle cx="83.5" cy="54.9"/><circle cx="93.1" cy="59.4"/><circle cx="101.9" cy="49.9"/><circle cx="105.5" cy="44.8"/><circle cx="65.3" cy="48.1"/><circle cx="95.0" cy="68.5"/><circle cx="116.4" cy="119.2"/><circle cx="111.0" cy="64.6"/><circle cx="95.5" cy="72.7"/><circle cx="53.3" cy="52.2"/><circle cx="76.1" cy="67.8"/><circle cx="63.9" cy="80.4"/><circle cx="65.5" cy="85.0"/><circle cx="76.1" cy="49.1"/><circle cx="106.6" cy="56.3"/><circle cx="72.0" cy="61.5"/><circle cx="63.9" cy="97.6"/><circle cx="97.0" cy="87.9"/><circle cx="74.1" cy="102.5"/><circle cx="74.4" cy="50.2"/><circle cx="54.9" cy="73.9"/><circle cx="83.6" cy="57.0"/><circle cx="65.7" cy="83.9"/><circle cx="39.9" cy="73.2"/><circle cx="75.2" cy="74.7"/><circle cx="83.9" cy="61.6"/><circle cx="73.1" cy="44.5"/><circle cx="80.2" cy="62.8"/><circle cx="66.4" cy="50.8"/><circle cx="91.9" cy="54.9"/><circle cx="80.7" cy="68.0"/><circle cx="75.9" cy="40.7"/><circle cx="72.8" cy="64.6"/><circle cx="112.1" cy="73.8"/><circle cx="80.3" cy="50.2"/><circle cx="80.4" cy="45.7"/><circle cx="76.7" cy="79.0"/><circle cx="92.2" cy="44.6"/><circle cx="120.3" cy="57.1"/><circle cx="88.4" cy="56.9"/><circle cx="82.3" cy="86.1"/><circle cx="77.5" cy="54.9"/><circle cx="91.6" cy="52.1"/><circle cx="85.2" cy="108.3"/><circle cx="79.5" cy="46.6"/><circle cx="90.9" cy="49.7"/><circle cx="71.8" cy="61.6"/><circle cx="108.9" cy="50.7"/><circle cx="102.1" cy="66.7"/><circle cx="101.2" cy="52.1"/><circle cx="68.4" cy="70.1"/><circle cx="110.0" cy="46.1"/><circle cx="71.9" cy="61.3"/><circle cx="83.3" cy="70.2"/><circle cx="85.8" cy="86.2"/><circle cx="76.1" cy="49.9"/><circle cx="84.1" cy="86.4"/><circle cx="58.7" cy="63.5"/><circle cx="91.0" cy="78.9"/><circle cx="81.2" cy="51.6"/><circle cx="85.0" cy="47.1"/><circle cx="54.7" cy="65.8"/><circle cx="73.1" cy="60.7"/><circle cx="83.0" cy="49.8"/><circle cx="67.8" cy="121.3"/><circle cx="90.9" cy="69.8"/><circle cx="82.1" cy="94.2"/><circle cx="73.1" cy="67.8"/><circle cx="87.8" cy="52.7"/><circle cx="77.5" cy="88.5"/><circle cx="93.0" cy="103.1"/><circle cx="51.9" cy="39.9"/><circle cx="92.9" cy="72.8"/><circle cx="60.7" cy="60.3"/><circle cx="79.8" cy="67.0"/><circle cx="109.6" cy="59.2"/><circle cx="102.8" cy="52.6"/><circle cx="73.9" cy="96.0"/><circle cx="94.3" cy="61.1"/><circle cx="94.8" cy="78.5"/><circle cx="94.9" cy="75.2"/><circle cx="44.2" cy="41.1"/><circle cx="49.7" cy="33.6"/><circle cx="69.9" cy="61.7"/><circle cx="90.7" cy="64.0"/><circle cx="96.1" cy="54.3"/><circle cx="85.9" cy="63.2"/><circle cx="74.0" cy="83.7"/><circle cx="48.9" cy="80.9"/><circle cx="63.5" cy="54.9"/><circle cx="79.1" cy="79.3"/><circle cx="80.1" cy="53.0"/><circle cx="94.2" cy="60.6"/><circle cx="78.4" cy="47.5"/><circle cx="58.5" cy="54.4"/><circle cx="67.5" cy="65.2"/><circle cx="40.4" cy="43.3"/><circle cx="70.8" cy="48.5"/><circle cx="70.0" cy="43.1"/><circle cx="83.7" cy="49.8"/><circle cx="40.1" cy="82.9"/><circle cx="105.0" cy="65.4"/><circle cx="62.7" cy="51.5"/><circle cx="90.9" cy="62.7"/><circle cx="84.3" cy="73.8"/><circle cx="60.4" cy="65.7"/><circle cx="84.5" cy="80.0"/><circle cx="66.2" cy="72.2"/><circle cx="39.7" cy="71.8"/><circle cx="74.4" cy="42.8"/><circle cx="100.2" cy="56.3"/><circle cx="67.4" cy="77.6"/><circle cx="84.9" cy="55.4"/><circle cx="65.3" cy="63.6"/><circle cx="74.4" cy="56.8"/><circle cx="92.4" cy="81.0"/><circle cx="76.7" cy="65.0"/><circle cx="79.2" cy="52.8"/><circle cx="81.1" cy="81.4"/><circle cx="96.2" cy="92.2"/><circle cx="63.6" cy="60.5"/><circle cx="56.3" cy="64.1"/><circle cx="72.2" cy="70.0"/><circle cx="80.2" cy="52.1"/><circle cx="96.9" cy="53.0"/><circle cx="64.4" cy="84.3"/><circle cx="86.0" cy="54.7"/><circle cx="80.2" cy="54.6"/><circle cx="82.8" cy="78.7"/><circle cx="97.5" cy="56.2"/><circle cx="56.0" cy="37.0"/><circle cx="78.5" cy="54.2"/><circle cx="107.6" cy="44.7"/><circle cx="134.4" cy="59.2"/><circle cx="88.9" cy="65.1"/><circle cx="40.5" cy="39.2"/><circle cx="76.6" cy="36.9"/><circle cx="88.6" cy="77.4"/><circle cx="72.2" cy="55.5"/><circle cx="78.8" cy="75.3"/><circle cx="72.1" cy="39.7"/><circle cx="59.8" cy="81.8"/><circle cx="58.2" cy="86.0"/><circle cx="103.4" cy="41.6"/><circle cx="83.1" cy="59.5"/><circle cx="78.4" cy="81.1"/><circle cx="53.5" cy="63.8"/><circle cx="99.4" cy="60.3"/><circle cx="62.9" cy="58.8"/><circle cx="93.8" cy="56.5"/><circle cx="89.8" cy="63.1"/><circle cx="94.1" cy="57.2"/><circle cx="88.2" cy="43.8"/>
</g>
<path d="M40.2 66.9 L44.6 66.7 L49.0 66.6 L53.4 66.4 L57.8 66.2 L62.1 65.9 L66.5 65.7 L70.9 65.4 L75.3 65.1 L79.7 64.7 L84.1 64.3 L88.5 63.8 L92.8 63.3 L97.2 62.7 L101.6 62.1 L106.0 61.5 L110.4 60.9 L114.8 60.2 L119.2 59.6 L123.6 58.9 L127.9 58.3 L132.3 57.6 L136.7 56.9 L141.1 56.3 L145.5 55.6 L145.5 64.2 L141.1 64.3 L136.7 64.5 L132.3 64.6 L127.9 64.8 L123.6 65.0 L119.2 65.1 L114.8 65.3 L110.4 65.5 L106.0 65.7 L101.6 65.9 L97.2 66.1 L92.8 66.3 L88.5 66.6 L84.1 66.9 L79.7 67.3 L75.3 67.8 L70.9 68.3 L66.5 68.8 L62.1 69.4 L57.8 70.0 L53.4 70.6 L49.0 71.2 L44.6 71.9 L40.2 72.5 Z" fill="#999" fill-opacity="0.45"/>
<line x1="40.2" y1="69.7" x2="145.5" y2="59.9" stroke="#000" stroke-width="1.6"/>
<rect x="34.8" y="3.0" width="116.6" height="141.4" fill="none" stroke="#505050" stroke-width="1"/>
<line x1="42.4" y1="144.4" x2="42.4" y2="142.4" stroke="#333" stroke-width="0.8"/>
<text class="tk" transform="translate(42.40,151.60) scale(1,1.080)" text-anchor="middle">−2</text>
<line x1="80.4" y1="144.4" x2="80.4" y2="142.4" stroke="#333" stroke-width="0.8"/>
<text class="tk" transform="translate(80.40,151.60) scale(1,1.080)" text-anchor="middle">0</text>
<line x1="118.4" y1="144.4" x2="118.4" y2="142.4" stroke="#333" stroke-width="0.8"/>
<text class="tk" transform="translate(118.40,151.60) scale(1,1.080)" text-anchor="middle">2</text>
<line x1="34.8" y1="20.3" x2="36.8" y2="20.3" stroke="#333" stroke-width="0.8"/>
<text class="tk" transform="translate(33.20,22.60) scale(1,1.080)" text-anchor="end">2</text>
<line x1="34.8" y1="43.0" x2="36.8" y2="43.0" stroke="#333" stroke-width="0.8"/>
<text class="tk" transform="translate(33.20,45.35) scale(1,1.080)" text-anchor="end">1</text>
<line x1="34.8" y1="65.8" x2="36.8" y2="65.8" stroke="#333" stroke-width="0.8"/>
<text class="tk" transform="translate(33.20,68.10) scale(1,1.080)" text-anchor="end">0</text>
<line x1="34.8" y1="88.5" x2="36.8" y2="88.5" stroke="#333" stroke-width="0.8"/>
<text class="tk" transform="translate(33.20,90.85) scale(1,1.080)" text-anchor="end">−1</text>
<line x1="34.8" y1="111.3" x2="36.8" y2="111.3" stroke="#333" stroke-width="0.8"/>
<text class="tk" transform="translate(33.20,113.60) scale(1,1.080)" text-anchor="end">−2</text>
<line x1="34.8" y1="134.1" x2="36.8" y2="134.1" stroke="#333" stroke-width="0.8"/>
<text class="tk" transform="translate(33.20,136.35) scale(1,1.080)" text-anchor="end">−3</text>
<g class="t">
<circle cx="233.1" cy="82.6"/><circle cx="203.4" cy="63.0"/><circle cx="231.4" cy="68.3"/><circle cx="197.1" cy="46.6"/><circle cx="183.8" cy="57.5"/><circle cx="274.0" cy="39.5"/><circle cx="206.8" cy="67.4"/><circle cx="265.0" cy="42.6"/><circle cx="173.4" cy="96.2"/><circle cx="237.8" cy="61.1"/><circle cx="193.8" cy="100.7"/><circle cx="207.5" cy="51.1"/><circle cx="203.0" cy="59.6"/><circle cx="223.0" cy="75.2"/><circle cx="194.5" cy="61.3"/><circle cx="217.4" cy="60.7"/><circle cx="181.7" cy="43.6"/><circle cx="222.8" cy="57.1"/><circle cx="210.0" cy="68.9"/><circle cx="206.6" cy="46.7"/><circle cx="182.7" cy="73.6"/><circle cx="201.6" cy="64.1"/><circle cx="223.8" cy="81.1"/><circle cx="252.5" cy="66.4"/><circle cx="186.6" cy="79.6"/><circle cx="178.5" cy="44.1"/><circle cx="205.5" cy="39.1"/><circle cx="220.5" cy="45.8"/><circle cx="216.3" cy="59.5"/><circle cx="238.7" cy="49.7"/><circle cx="241.1" cy="98.8"/><circle cx="220.4" cy="47.0"/><circle cx="216.0" cy="94.0"/><circle cx="199.3" cy="55.1"/><circle cx="229.7" cy="27.7"/><circle cx="246.0" cy="68.1"/><circle cx="246.8" cy="51.0"/><circle cx="199.3" cy="68.1"/><circle cx="233.5" cy="51.5"/><circle cx="229.6" cy="72.0"/><circle cx="208.0" cy="42.2"/><circle cx="172.4" cy="67.4"/><circle cx="212.7" cy="78.5"/><circle cx="199.0" cy="69.5"/><circle cx="174.7" cy="48.8"/><circle cx="219.5" cy="50.2"/><circle cx="200.9" cy="88.3"/><circle cx="253.5" cy="69.9"/><circle cx="176.8" cy="61.0"/><circle cx="226.2" cy="59.1"/><circle cx="192.5" cy="63.8"/><circle cx="251.8" cy="82.1"/><circle cx="173.0" cy="64.5"/><circle cx="253.9" cy="64.9"/><circle cx="217.4" cy="81.2"/><circle cx="238.3" cy="50.3"/><circle cx="176.0" cy="54.0"/><circle cx="193.6" cy="67.3"/><circle cx="232.3" cy="46.1"/><circle cx="218.2" cy="34.0"/><circle cx="200.8" cy="74.4"/><circle cx="172.2" cy="106.4"/><circle cx="223.3" cy="39.9"/><circle cx="189.3" cy="56.3"/><circle cx="201.5" cy="59.5"/><circle cx="251.5" cy="64.7"/><circle cx="197.4" cy="54.7"/><circle cx="246.3" cy="54.4"/><circle cx="199.0" cy="71.7"/><circle cx="236.1" cy="48.1"/><circle cx="220.8" cy="62.2"/><circle cx="237.3" cy="64.5"/><circle cx="226.7" cy="102.2"/><circle cx="182.7" cy="78.6"/><circle cx="264.6" cy="66.3"/><circle cx="179.1" cy="63.4"/><circle cx="248.2" cy="72.6"/><circle cx="180.5" cy="58.2"/><circle cx="202.0" cy="59.5"/><circle cx="264.0" cy="82.2"/><circle cx="195.6" cy="59.4"/><circle cx="182.5" cy="75.4"/><circle cx="225.6" cy="44.0"/><circle cx="210.7" cy="50.8"/><circle cx="204.9" cy="71.5"/><circle cx="204.5" cy="96.1"/><circle cx="193.9" cy="59.5"/><circle cx="228.8" cy="78.8"/><circle cx="176.9" cy="59.6"/><circle cx="224.0" cy="53.1"/><circle cx="230.3" cy="59.5"/><circle cx="241.6" cy="80.7"/><circle cx="205.9" cy="66.4"/><circle cx="275.6" cy="51.4"/><circle cx="225.1" cy="50.6"/><circle cx="215.3" cy="60.8"/><circle cx="207.2" cy="47.1"/><circle cx="219.2" cy="102.7"/><circle cx="181.1" cy="58.4"/><circle cx="209.9" cy="41.0"/><circle cx="209.6" cy="51.3"/><circle cx="179.0" cy="93.7"/><circle cx="271.4" cy="81.0"/><circle cx="232.8" cy="65.1"/><circle cx="241.5" cy="67.3"/><circle cx="213.5" cy="58.9"/><circle cx="200.3" cy="62.0"/><circle cx="201.8" cy="47.5"/><circle cx="194.0" cy="57.7"/><circle cx="204.6" cy="95.0"/><circle cx="203.8" cy="51.1"/><circle cx="222.2" cy="97.0"/><circle cx="203.2" cy="56.5"/><circle cx="195.9" cy="54.6"/><circle cx="186.0" cy="64.3"/><circle cx="181.6" cy="52.6"/><circle cx="258.3" cy="93.8"/><circle cx="210.3" cy="77.7"/><circle cx="276.7" cy="46.8"/><circle cx="223.4" cy="70.3"/><circle cx="240.9" cy="58.5"/><circle cx="215.1" cy="59.8"/><circle cx="260.5" cy="56.4"/><circle cx="193.5" cy="71.4"/><circle cx="233.5" cy="55.7"/><circle cx="207.1" cy="66.2"/><circle cx="189.0" cy="41.2"/><circle cx="219.0" cy="59.7"/><circle cx="232.3" cy="48.5"/><circle cx="189.1" cy="91.2"/><circle cx="235.2" cy="83.8"/><circle cx="220.7" cy="63.5"/><circle cx="221.5" cy="55.0"/><circle cx="192.9" cy="83.8"/><circle cx="229.1" cy="46.1"/><circle cx="218.7" cy="68.8"/><circle cx="204.2" cy="49.7"/><circle cx="182.0" cy="90.9"/><circle cx="172.2" cy="104.3"/><circle cx="243.4" cy="47.2"/><circle cx="223.5" cy="59.1"/><circle cx="201.0" cy="87.5"/><circle cx="202.9" cy="52.5"/><circle cx="225.1" cy="54.4"/><circle cx="198.2" cy="59.1"/><circle cx="231.6" cy="60.6"/><circle cx="172.1" cy="89.8"/><circle cx="239.1" cy="52.1"/><circle cx="205.0" cy="103.2"/><circle cx="218.3" cy="43.7"/><circle cx="230.3" cy="86.3"/><circle cx="215.0" cy="44.7"/><circle cx="202.9" cy="77.5"/><circle cx="216.3" cy="31.8"/><circle cx="256.9" cy="53.9"/><circle cx="194.3" cy="50.6"/><circle cx="198.7" cy="35.9"/><circle cx="236.4" cy="71.0"/><circle cx="221.6" cy="57.6"/><circle cx="207.8" cy="91.0"/><circle cx="185.4" cy="71.8"/><circle cx="172.4" cy="75.8"/><circle cx="186.1" cy="132.2"/><circle cx="235.9" cy="71.9"/><circle cx="192.9" cy="49.6"/><circle cx="253.8" cy="57.9"/><circle cx="196.1" cy="58.5"/><circle cx="203.8" cy="67.3"/><circle cx="232.9" cy="73.4"/><circle cx="206.9" cy="31.0"/><circle cx="210.5" cy="70.7"/><circle cx="190.8" cy="46.3"/><circle cx="203.5" cy="40.7"/><circle cx="182.1" cy="84.8"/><circle cx="243.8" cy="50.2"/><circle cx="197.4" cy="50.6"/><circle cx="200.0" cy="57.5"/><circle cx="231.8" cy="69.5"/><circle cx="238.4" cy="51.7"/><circle cx="259.1" cy="50.7"/><circle cx="198.1" cy="47.2"/><circle cx="226.4" cy="71.5"/><circle cx="201.4" cy="44.3"/><circle cx="195.1" cy="45.9"/><circle cx="233.9" cy="69.7"/><circle cx="268.7" cy="57.9"/><circle cx="209.8" cy="44.4"/><circle cx="235.1" cy="76.6"/><circle cx="235.0" cy="35.8"/><circle cx="211.7" cy="88.0"/><circle cx="224.3" cy="86.9"/><circle cx="185.4" cy="58.4"/><circle cx="237.9" cy="84.3"/><circle cx="193.8" cy="62.4"/><circle cx="187.3" cy="53.9"/><circle cx="222.7" cy="63.6"/><circle cx="219.7" cy="67.1"/><circle cx="209.0" cy="69.4"/><circle cx="237.7" cy="55.2"/><circle cx="237.7" cy="50.0"/><circle cx="188.9" cy="89.7"/><circle cx="206.5" cy="57.8"/><circle cx="213.2" cy="64.9"/><circle cx="202.0" cy="102.6"/><circle cx="209.3" cy="60.1"/><circle cx="225.0" cy="60.0"/><circle cx="172.9" cy="71.2"/><circle cx="260.0" cy="58.5"/><circle cx="206.0" cy="49.4"/><circle cx="232.0" cy="62.3"/><circle cx="256.3" cy="42.2"/><circle cx="210.9" cy="52.1"/><circle cx="199.0" cy="54.0"/><circle cx="188.1" cy="45.0"/><circle cx="236.6" cy="71.3"/><circle cx="204.6" cy="61.0"/><circle cx="237.3" cy="57.3"/><circle cx="215.9" cy="58.5"/><circle cx="221.1" cy="84.6"/><circle cx="177.7" cy="56.1"/><circle cx="232.8" cy="45.2"/><circle cx="202.3" cy="27.9"/><circle cx="204.4" cy="52.4"/><circle cx="262.2" cy="60.5"/><circle cx="207.2" cy="80.5"/><circle cx="225.2" cy="58.6"/><circle cx="232.5" cy="58.3"/><circle cx="262.8" cy="44.5"/><circle cx="212.5" cy="45.7"/><circle cx="174.2" cy="80.2"/><circle cx="243.4" cy="48.3"/><circle cx="196.7" cy="47.0"/><circle cx="216.5" cy="36.0"/><circle cx="174.8" cy="44.7"/><circle cx="225.4" cy="52.9"/><circle cx="241.0" cy="69.9"/><circle cx="227.3" cy="57.7"/><circle cx="209.1" cy="57.8"/><circle cx="246.4" cy="51.1"/><circle cx="234.7" cy="51.9"/><circle cx="219.2" cy="55.9"/><circle cx="243.5" cy="42.2"/><circle cx="251.4" cy="49.3"/><circle cx="245.2" cy="71.3"/><circle cx="214.4" cy="34.9"/><circle cx="190.9" cy="32.5"/><circle cx="250.2" cy="90.4"/><circle cx="208.1" cy="55.7"/><circle cx="209.6" cy="60.2"/><circle cx="188.7" cy="62.6"/><circle cx="229.5" cy="56.9"/><circle cx="172.2" cy="83.0"/><circle cx="235.0" cy="69.1"/><circle cx="214.3" cy="67.7"/><circle cx="236.1" cy="53.6"/><circle cx="231.5" cy="101.6"/><circle cx="173.4" cy="62.9"/><circle cx="210.8" cy="51.3"/><circle cx="203.2" cy="43.7"/><circle cx="201.7" cy="48.2"/><circle cx="248.4" cy="55.2"/><circle cx="172.2" cy="69.9"/><circle cx="191.4" cy="60.7"/><circle cx="195.8" cy="77.8"/><circle cx="203.3" cy="63.2"/><circle cx="232.2" cy="52.2"/><circle cx="202.8" cy="43.5"/><circle cx="234.2" cy="102.8"/><circle cx="220.0" cy="71.1"/><circle cx="211.8" cy="75.7"/><circle cx="224.3" cy="28.6"/><circle cx="208.3" cy="83.6"/><circle cx="178.3" cy="50.0"/><circle cx="232.0" cy="72.5"/><circle cx="247.9" cy="64.0"/><circle cx="230.9" cy="52.2"/><circle cx="223.2" cy="73.4"/><circle cx="249.3" cy="95.8"/><circle cx="199.1" cy="88.5"/><circle cx="172.8" cy="87.6"/><circle cx="172.2" cy="59.9"/><circle cx="195.2" cy="43.5"/><circle cx="196.4" cy="56.6"/><circle cx="212.5" cy="77.4"/><circle cx="232.5" cy="48.3"/><circle cx="212.9" cy="70.3"/><circle cx="214.7" cy="79.9"/><circle cx="233.6" cy="36.1"/><circle cx="233.9" cy="60.1"/><circle cx="172.7" cy="73.7"/><circle cx="216.2" cy="58.9"/><circle cx="202.2" cy="67.3"/><circle cx="228.6" cy="64.1"/><circle cx="218.0" cy="51.9"/><circle cx="211.2" cy="59.8"/><circle cx="238.9" cy="55.0"/><circle cx="269.7" cy="38.5"/><circle cx="194.6" cy="84.9"/><circle cx="183.2" cy="39.3"/><circle cx="181.7" cy="69.4"/><circle cx="217.5" cy="55.4"/><circle cx="246.4" cy="113.2"/><circle cx="190.8" cy="70.4"/><circle cx="210.8" cy="46.1"/><circle cx="229.6" cy="78.6"/><circle cx="216.0" cy="66.9"/><circle cx="237.8" cy="57.3"/><circle cx="211.9" cy="58.6"/><circle cx="220.0" cy="48.0"/><circle cx="173.9" cy="50.6"/><circle cx="201.6" cy="45.0"/><circle cx="229.0" cy="55.2"/><circle cx="196.3" cy="38.7"/><circle cx="220.9" cy="53.8"/><circle cx="172.6" cy="68.3"/><circle cx="238.2" cy="56.9"/><circle cx="239.1" cy="75.8"/><circle cx="183.8" cy="35.9"/><circle cx="195.9" cy="50.9"/><circle cx="172.8" cy="88.2"/><circle cx="267.5" cy="59.4"/><circle cx="207.3" cy="78.4"/><circle cx="184.5" cy="83.1"/><circle cx="216.2" cy="49.8"/><circle cx="193.5" cy="48.0"/><circle cx="172.8" cy="70.5"/><circle cx="193.5" cy="124.2"/><circle cx="236.3" cy="56.0"/><circle cx="249.9" cy="94.7"/><circle cx="175.3" cy="76.8"/><circle cx="226.0" cy="47.7"/><circle cx="189.6" cy="84.1"/><circle cx="203.1" cy="83.0"/><circle cx="209.1" cy="98.6"/><circle cx="237.1" cy="71.2"/><circle cx="216.6" cy="74.1"/><circle cx="191.4" cy="48.7"/><circle cx="237.5" cy="44.4"/><circle cx="196.6" cy="66.9"/><circle cx="245.7" cy="51.9"/><circle cx="225.4" cy="63.1"/><circle cx="272.5" cy="81.4"/><circle cx="225.0" cy="45.0"/><circle cx="246.4" cy="62.2"/><circle cx="222.7" cy="71.6"/><circle cx="188.8" cy="51.6"/><circle cx="261.0" cy="78.5"/><circle cx="262.9" cy="59.4"/><circle cx="255.2" cy="56.4"/><circle cx="192.8" cy="62.8"/><circle cx="243.4" cy="54.1"/><circle cx="209.2" cy="95.3"/><circle cx="209.6" cy="110.0"/><circle cx="195.5" cy="59.8"/><circle cx="195.7" cy="67.1"/><circle cx="201.7" cy="53.2"/><circle cx="196.2" cy="63.7"/><circle cx="172.3" cy="90.1"/><circle cx="231.3" cy="82.3"/><circle cx="220.7" cy="69.5"/><circle cx="208.6" cy="71.5"/><circle cx="214.4" cy="72.1"/><circle cx="172.8" cy="54.9"/><circle cx="177.8" cy="48.5"/><circle cx="197.6" cy="66.0"/><circle cx="204.9" cy="58.0"/><circle cx="222.4" cy="92.3"/><circle cx="238.6" cy="47.7"/><circle cx="219.0" cy="69.0"/><circle cx="212.5" cy="79.5"/><circle cx="200.1" cy="52.6"/><circle cx="268.5" cy="48.5"/><circle cx="269.0" cy="62.9"/><circle cx="173.5" cy="58.8"/><circle cx="192.4" cy="46.0"/><circle cx="213.3" cy="68.2"/><circle cx="207.1" cy="42.5"/><circle cx="186.2" cy="42.7"/><circle cx="240.9" cy="63.9"/><circle cx="212.8" cy="79.8"/><circle cx="208.7" cy="53.4"/><circle cx="174.5" cy="60.2"/><circle cx="221.4" cy="59.2"/><circle cx="197.1" cy="59.9"/><circle cx="255.1" cy="95.9"/><circle cx="172.8" cy="99.2"/><circle cx="180.6" cy="57.4"/><circle cx="210.4" cy="55.3"/><circle cx="247.7" cy="57.9"/><circle cx="201.7" cy="68.8"/><circle cx="189.4" cy="78.2"/><circle cx="264.4" cy="61.1"/><circle cx="185.0" cy="59.0"/><circle cx="223.9" cy="75.5"/><circle cx="204.0" cy="52.1"/><circle cx="199.7" cy="60.3"/><circle cx="205.1" cy="79.8"/><circle cx="172.3" cy="95.7"/><circle cx="227.1" cy="69.4"/><circle cx="248.1" cy="52.3"/><circle cx="179.7" cy="69.5"/><circle cx="240.0" cy="51.7"/><circle cx="199.9" cy="63.3"/><circle cx="267.5" cy="59.5"/><circle cx="256.4" cy="80.7"/><circle cx="232.7" cy="77.8"/><circle cx="269.5" cy="68.2"/><circle cx="209.9" cy="56.7"/><circle cx="198.8" cy="73.8"/><circle cx="195.2" cy="37.0"/><circle cx="208.1" cy="58.9"/><circle cx="172.6" cy="84.3"/><circle cx="228.9" cy="53.4"/><circle cx="248.2" cy="76.3"/><circle cx="199.3" cy="53.4"/><circle cx="207.1" cy="65.4"/><circle cx="179.6" cy="71.4"/><circle cx="219.7" cy="61.9"/><circle cx="235.2" cy="84.9"/><circle cx="209.7" cy="62.8"/><circle cx="254.0" cy="43.7"/><circle cx="173.1" cy="55.4"/><circle cx="229.5" cy="59.0"/><circle cx="247.0" cy="45.5"/><circle cx="190.0" cy="60.8"/><circle cx="203.3" cy="73.8"/><circle cx="221.1" cy="51.9"/><circle cx="222.1" cy="73.5"/><circle cx="206.3" cy="95.4"/><circle cx="239.6" cy="49.2"/><circle cx="239.1" cy="88.9"/><circle cx="180.3" cy="75.4"/><circle cx="211.0" cy="61.9"/><circle cx="195.7" cy="52.4"/><circle cx="194.4" cy="60.2"/><circle cx="175.1" cy="52.2"/><circle cx="173.7" cy="82.6"/><circle cx="243.4" cy="65.7"/><circle cx="229.0" cy="45.0"/><circle cx="229.9" cy="52.4"/><circle cx="190.8" cy="50.8"/><circle cx="188.8" cy="66.0"/><circle cx="194.9" cy="52.1"/><circle cx="181.4" cy="41.3"/><circle cx="239.7" cy="63.6"/><circle cx="244.2" cy="67.8"/><circle cx="205.4" cy="52.9"/><circle cx="198.4" cy="51.4"/><circle cx="264.3" cy="48.1"/><circle cx="217.5" cy="50.6"/><circle cx="269.0" cy="76.9"/><circle cx="186.0" cy="52.6"/><circle cx="194.0" cy="66.6"/><circle cx="190.4" cy="51.7"/><circle cx="206.9" cy="57.5"/><circle cx="225.6" cy="74.5"/><circle cx="188.7" cy="85.5"/><circle cx="234.0" cy="59.6"/><circle cx="219.8" cy="64.9"/><circle cx="173.5" cy="48.3"/><circle cx="255.1" cy="78.7"/><circle cx="193.4" cy="54.2"/><circle cx="214.9" cy="94.6"/><circle cx="213.5" cy="67.9"/><circle cx="179.4" cy="73.4"/><circle cx="204.9" cy="75.7"/><circle cx="201.1" cy="69.5"/><circle cx="186.8" cy="68.1"/><circle cx="250.3" cy="38.3"/><circle cx="192.0" cy="62.7"/><circle cx="196.0" cy="81.7"/><circle cx="179.0" cy="33.7"/><circle cx="218.6" cy="52.8"/><circle cx="224.2" cy="58.4"/><circle cx="210.8" cy="44.8"/><circle cx="247.0" cy="47.2"/><circle cx="254.4" cy="90.2"/><circle cx="237.2" cy="49.5"/><circle cx="188.5" cy="62.6"/><circle cx="188.0" cy="66.8"/><circle cx="224.2" cy="79.7"/><circle cx="222.9" cy="51.9"/><circle cx="207.0" cy="51.1"/><circle cx="211.5" cy="50.4"/><circle cx="187.0" cy="46.3"/><circle cx="208.5" cy="49.8"/><circle cx="224.2" cy="90.5"/><circle cx="199.6" cy="69.9"/><circle cx="233.7" cy="57.8"/><circle cx="212.2" cy="92.0"/><circle cx="240.5" cy="73.5"/><circle cx="173.0" cy="58.7"/><circle cx="222.1" cy="69.2"/><circle cx="238.8" cy="86.9"/><circle cx="203.8" cy="73.2"/><circle cx="234.2" cy="64.5"/><circle cx="245.1" cy="54.7"/><circle cx="268.6" cy="62.5"/><circle cx="205.5" cy="45.6"/><circle cx="242.0" cy="81.5"/><circle cx="218.4" cy="62.5"/><circle cx="213.5" cy="52.2"/><circle cx="200.8" cy="54.0"/><circle cx="198.2" cy="49.4"/><circle cx="200.1" cy="35.2"/><circle cx="172.3" cy="126.2"/><circle cx="220.0" cy="54.1"/><circle cx="198.9" cy="81.9"/><circle cx="222.0" cy="48.0"/><circle cx="231.2" cy="99.6"/><circle cx="187.7" cy="84.4"/><circle cx="243.0" cy="55.6"/><circle cx="203.6" cy="50.3"/><circle cx="183.3" cy="83.7"/><circle cx="246.8" cy="51.6"/><circle cx="201.5" cy="50.0"/><circle cx="262.2" cy="85.7"/><circle cx="200.5" cy="42.4"/><circle cx="224.4" cy="49.0"/><circle cx="190.4" cy="29.9"/><circle cx="249.1" cy="81.3"/><circle cx="192.3" cy="121.0"/><circle cx="240.3" cy="52.5"/><circle cx="211.0" cy="81.8"/><circle cx="228.9" cy="60.7"/><circle cx="173.5" cy="73.2"/><circle cx="174.0" cy="61.4"/><circle cx="188.2" cy="78.3"/><circle cx="238.2" cy="62.9"/><circle cx="216.4" cy="49.3"/><circle cx="217.9" cy="38.1"/><circle cx="211.4" cy="53.6"/><circle cx="233.0" cy="58.6"/><circle cx="237.0" cy="98.4"/><circle cx="262.6" cy="44.4"/><circle cx="210.4" cy="56.4"/><circle cx="172.7" cy="44.4"/><circle cx="172.5" cy="74.0"/><circle cx="246.3" cy="46.0"/><circle cx="174.7" cy="60.5"/><circle cx="217.6" cy="82.3"/><circle cx="233.8" cy="45.2"/><circle cx="172.9" cy="80.9"/><circle cx="199.4" cy="77.7"/><circle cx="250.2" cy="51.9"/><circle cx="236.0" cy="85.0"/><circle cx="226.2" cy="38.8"/><circle cx="239.5" cy="56.6"/><circle cx="269.0" cy="54.8"/><circle cx="172.2" cy="71.9"/><circle cx="176.8" cy="61.0"/><circle cx="201.0" cy="55.9"/><circle cx="224.5" cy="78.6"/><circle cx="220.8" cy="80.2"/><circle cx="223.4" cy="67.6"/><circle cx="204.3" cy="62.7"/><circle cx="193.2" cy="60.6"/><circle cx="215.4" cy="73.9"/><circle cx="217.5" cy="57.4"/><circle cx="183.3" cy="67.5"/><circle cx="244.7" cy="58.7"/><circle cx="212.2" cy="53.2"/><circle cx="219.2" cy="64.1"/><circle cx="230.6" cy="61.3"/><circle cx="207.1" cy="40.6"/><circle cx="260.7" cy="47.8"/><circle cx="210.6" cy="47.0"/><circle cx="206.3" cy="51.6"/><circle cx="193.1" cy="81.9"/><circle cx="227.2" cy="47.6"/><circle cx="234.0" cy="57.9"/><circle cx="222.1" cy="53.4"/><circle cx="199.7" cy="63.9"/><circle cx="219.1" cy="100.8"/><circle cx="200.4" cy="63.9"/><circle cx="187.3" cy="79.7"/><circle cx="209.8" cy="51.1"/><circle cx="201.1" cy="60.5"/><circle cx="207.7" cy="68.5"/><circle cx="246.8" cy="89.1"/><circle cx="225.4" cy="64.3"/><circle cx="228.9" cy="100.9"/><circle cx="191.2" cy="64.5"/><circle cx="225.6" cy="78.9"/><circle cx="226.9" cy="91.5"/><circle cx="207.7" cy="51.4"/><circle cx="218.9" cy="46.9"/><circle cx="246.6" cy="64.0"/><circle cx="211.9" cy="52.8"/><circle cx="260.4" cy="51.3"/><circle cx="266.6" cy="55.9"/><circle cx="188.6" cy="61.2"/><circle cx="226.1" cy="104.9"/><circle cx="248.6" cy="53.3"/><circle cx="196.0" cy="62.1"/><circle cx="251.7" cy="54.1"/><circle cx="215.9" cy="79.1"/><circle cx="205.5" cy="55.7"/><circle cx="226.7" cy="73.5"/><circle cx="235.1" cy="65.3"/><circle cx="194.7" cy="59.9"/><circle cx="228.8" cy="60.3"/><circle cx="207.0" cy="61.9"/><circle cx="223.2" cy="58.7"/><circle cx="253.3" cy="59.1"/><circle cx="217.8" cy="44.8"/><circle cx="227.3" cy="49.1"/><circle cx="211.1" cy="36.4"/><circle cx="243.9" cy="71.3"/><circle cx="208.6" cy="46.2"/><circle cx="274.1" cy="57.3"/><circle cx="251.0" cy="47.3"/><circle cx="231.8" cy="50.6"/><circle cx="211.6" cy="113.8"/><circle cx="172.5" cy="102.4"/><circle cx="204.9" cy="79.7"/><circle cx="205.4" cy="75.5"/><circle cx="211.0" cy="61.8"/><circle cx="222.5" cy="56.5"/><circle cx="223.6" cy="92.1"/><circle cx="262.9" cy="44.7"/><circle cx="204.6" cy="55.2"/><circle cx="188.2" cy="49.0"/><circle cx="245.0" cy="97.1"/><circle cx="219.6" cy="57.0"/><circle cx="194.6" cy="59.2"/><circle cx="214.0" cy="74.2"/><circle cx="173.1" cy="67.6"/><circle cx="206.7" cy="52.8"/><circle cx="237.9" cy="62.0"/><circle cx="218.3" cy="78.9"/><circle cx="172.9" cy="94.5"/><circle cx="192.9" cy="53.0"/><circle cx="213.6" cy="52.1"/><circle cx="219.2" cy="61.8"/><circle cx="208.5" cy="53.0"/><circle cx="222.1" cy="69.2"/><circle cx="199.0" cy="62.4"/><circle cx="213.5" cy="58.2"/><circle cx="217.2" cy="105.0"/><circle cx="254.2" cy="51.7"/><circle cx="214.3" cy="65.1"/><circle cx="229.0" cy="90.7"/><circle cx="190.5" cy="65.6"/><circle cx="237.1" cy="63.5"/><circle cx="240.7" cy="59.2"/><circle cx="202.6" cy="95.9"/><circle cx="256.5" cy="57.9"/><circle cx="221.8" cy="53.8"/><circle cx="199.5" cy="43.2"/><circle cx="218.7" cy="62.2"/><circle cx="236.7" cy="57.9"/><circle cx="220.2" cy="72.4"/><circle cx="234.0" cy="68.7"/><circle cx="192.8" cy="51.3"/><circle cx="177.4" cy="57.8"/><circle cx="232.0" cy="85.0"/><circle cx="228.1" cy="48.2"/><circle cx="208.5" cy="63.7"/><circle cx="221.9" cy="67.6"/><circle cx="199.8" cy="91.9"/><circle cx="244.3" cy="58.5"/><circle cx="187.7" cy="71.7"/><circle cx="198.1" cy="50.3"/><circle cx="219.5" cy="58.2"/><circle cx="248.0" cy="53.8"/><circle cx="175.9" cy="58.0"/><circle cx="199.6" cy="100.2"/><circle cx="227.7" cy="49.6"/><circle cx="172.3" cy="68.3"/><circle cx="205.8" cy="61.8"/><circle cx="231.1" cy="49.4"/><circle cx="256.1" cy="26.6"/><circle cx="196.0" cy="71.0"/><circle cx="205.8" cy="79.2"/><circle cx="210.3" cy="46.7"/><circle cx="237.5" cy="73.1"/><circle cx="211.3" cy="62.7"/><circle cx="189.5" cy="74.0"/><circle cx="184.3" cy="45.7"/><circle cx="197.0" cy="71.0"/><circle cx="195.9" cy="49.0"/><circle cx="251.3" cy="100.3"/><circle cx="256.0" cy="50.1"/><circle cx="193.2" cy="50.0"/><circle cx="203.5" cy="69.5"/><circle cx="252.1" cy="62.2"/><circle cx="229.0" cy="42.2"/><circle cx="228.9" cy="67.6"/><circle cx="179.2" cy="67.1"/><circle cx="220.5" cy="44.9"/><circle cx="211.7" cy="61.7"/><circle cx="227.1" cy="54.1"/><circle cx="222.5" cy="54.7"/><circle cx="240.2" cy="42.8"/><circle cx="236.0" cy="50.6"/><circle cx="234.7" cy="47.8"/><circle cx="172.6" cy="90.4"/><circle cx="269.0" cy="48.4"/><circle cx="212.6" cy="117.5"/><circle cx="213.0" cy="69.4"/><circle cx="246.3" cy="54.7"/><circle cx="172.9" cy="52.6"/><circle cx="212.4" cy="44.4"/><circle cx="236.3" cy="61.9"/><circle cx="229.1" cy="87.2"/><circle cx="213.3" cy="47.3"/><circle cx="172.3" cy="74.7"/><circle cx="213.9" cy="53.7"/><circle cx="252.3" cy="88.1"/><circle cx="230.1" cy="56.0"/><circle cx="209.0" cy="64.1"/><circle cx="194.4" cy="66.4"/><circle cx="213.4" cy="64.4"/><circle cx="246.0" cy="113.6"/><circle cx="172.9" cy="86.9"/><circle cx="246.2" cy="60.4"/><circle cx="236.1" cy="65.5"/><circle cx="224.7" cy="49.4"/><circle cx="173.1" cy="81.8"/><circle cx="182.3" cy="63.3"/><circle cx="172.7" cy="66.1"/><circle cx="219.3" cy="87.5"/><circle cx="253.9" cy="84.1"/><circle cx="201.2" cy="64.0"/><circle cx="187.0" cy="69.2"/><circle cx="172.8" cy="65.5"/><circle cx="194.5" cy="69.4"/><circle cx="233.1" cy="54.1"/><circle cx="205.8" cy="56.9"/><circle cx="217.2" cy="66.5"/><circle cx="216.3" cy="32.7"/><circle cx="188.8" cy="68.9"/><circle cx="229.9" cy="54.4"/><circle cx="236.5" cy="61.2"/><circle cx="250.5" cy="56.1"/><circle cx="224.1" cy="33.8"/><circle cx="187.2" cy="99.8"/><circle cx="206.8" cy="66.7"/><circle cx="218.8" cy="58.1"/><circle cx="209.8" cy="52.4"/><circle cx="210.8" cy="84.9"/><circle cx="194.7" cy="69.2"/><circle cx="238.7" cy="68.3"/><circle cx="223.6" cy="81.9"/><circle cx="214.1" cy="51.2"/><circle cx="207.8" cy="47.1"/><circle cx="215.4" cy="77.7"/><circle cx="173.1" cy="58.9"/><circle cx="235.9" cy="60.7"/><circle cx="220.5" cy="85.5"/><circle cx="212.6" cy="88.4"/><circle cx="207.7" cy="83.7"/><circle cx="223.6" cy="65.4"/><circle cx="241.2" cy="54.0"/><circle cx="243.3" cy="100.3"/><circle cx="199.2" cy="117.5"/><circle cx="233.8" cy="46.7"/><circle cx="266.5" cy="54.6"/><circle cx="213.8" cy="93.9"/><circle cx="268.5" cy="79.0"/><circle cx="222.5" cy="42.6"/><circle cx="193.6" cy="45.8"/><circle cx="228.2" cy="100.2"/><circle cx="176.5" cy="65.6"/><circle cx="240.4" cy="59.6"/><circle cx="201.2" cy="72.1"/><circle cx="233.2" cy="46.1"/><circle cx="225.8" cy="60.0"/><circle cx="227.8" cy="49.7"/><circle cx="215.3" cy="54.7"/><circle cx="254.9" cy="77.7"/><circle cx="238.0" cy="63.0"/><circle cx="236.3" cy="46.7"/><circle cx="217.9" cy="49.0"/><circle cx="209.9" cy="53.1"/><circle cx="184.2" cy="57.2"/><circle cx="232.4" cy="45.4"/><circle cx="238.2" cy="42.8"/><circle cx="219.1" cy="68.4"/><circle cx="202.1" cy="59.6"/><circle cx="213.2" cy="52.9"/><circle cx="192.2" cy="49.7"/><circle cx="223.0" cy="60.9"/><circle cx="237.5" cy="60.8"/><circle cx="206.5" cy="49.4"/><circle cx="224.7" cy="59.8"/><circle cx="173.0" cy="125.9"/><circle cx="219.3" cy="50.7"/><circle cx="220.2" cy="48.2"/><circle cx="212.2" cy="66.1"/><circle cx="202.6" cy="72.0"/><circle cx="255.6" cy="45.2"/><circle cx="206.1" cy="45.2"/><circle cx="250.9" cy="43.6"/><circle cx="177.3" cy="39.8"/><circle cx="172.3" cy="62.9"/><circle cx="214.1" cy="68.0"/><circle cx="242.1" cy="63.3"/><circle cx="207.4" cy="73.0"/><circle cx="222.4" cy="65.9"/><circle cx="205.8" cy="67.4"/><circle cx="277.9" cy="48.4"/><circle cx="225.2" cy="53.3"/><circle cx="172.2" cy="95.4"/><circle cx="188.1" cy="52.1"/><circle cx="175.6" cy="70.4"/><circle cx="193.6" cy="49.7"/><circle cx="172.1" cy="72.4"/><circle cx="244.2" cy="83.2"/><circle cx="235.0" cy="54.6"/><circle cx="197.4" cy="33.8"/><circle cx="225.2" cy="55.6"/><circle cx="203.4" cy="71.1"/><circle cx="173.7" cy="64.9"/><circle cx="258.2" cy="58.9"/><circle cx="187.9" cy="62.1"/><circle cx="228.7" cy="75.6"/><circle cx="215.4" cy="54.5"/><circle cx="220.8" cy="86.9"/><circle cx="248.8" cy="70.7"/><circle cx="215.9" cy="46.6"/><circle cx="231.8" cy="81.2"/><circle cx="199.2" cy="72.5"/><circle cx="231.7" cy="53.4"/><circle cx="180.1" cy="48.0"/><circle cx="207.4" cy="54.1"/><circle cx="227.0" cy="71.5"/><circle cx="229.2" cy="61.1"/><circle cx="219.5" cy="48.2"/><circle cx="209.9" cy="58.8"/><circle cx="206.2" cy="70.8"/><circle cx="172.4" cy="60.3"/><circle cx="225.5" cy="64.7"/><circle cx="239.1" cy="43.2"/><circle cx="224.9" cy="70.1"/><circle cx="187.5" cy="59.6"/><circle cx="212.7" cy="101.6"/><circle cx="226.3" cy="43.4"/><circle cx="210.3" cy="39.7"/><circle cx="238.3" cy="63.7"/><circle cx="203.4" cy="51.7"/><circle cx="185.2" cy="77.9"/><circle cx="264.1" cy="58.6"/><circle cx="234.0" cy="28.5"/><circle cx="209.4" cy="99.2"/><circle cx="224.0" cy="44.7"/><circle cx="208.2" cy="64.2"/><circle cx="222.9" cy="31.6"/><circle cx="187.5" cy="82.0"/><circle cx="197.1" cy="92.6"/><circle cx="202.2" cy="74.1"/><circle cx="229.4" cy="72.5"/><circle cx="211.2" cy="64.2"/><circle cx="244.7" cy="52.7"/><circle cx="199.8" cy="52.3"/><circle cx="199.0" cy="53.4"/><circle cx="213.4" cy="61.9"/><circle cx="273.4" cy="60.8"/><circle cx="249.0" cy="91.8"/><circle cx="233.3" cy="94.4"/><circle cx="228.4" cy="39.7"/><circle cx="263.7" cy="62.8"/><circle cx="270.7" cy="68.4"/><circle cx="215.8" cy="84.2"/><circle cx="220.9" cy="44.9"/><circle cx="226.5" cy="61.9"/><circle cx="227.4" cy="49.0"/><circle cx="208.0" cy="53.6"/><circle cx="209.0" cy="56.7"/><circle cx="205.5" cy="42.2"/><circle cx="189.1" cy="55.0"/><circle cx="227.3" cy="58.2"/><circle cx="179.9" cy="79.3"/><circle cx="195.8" cy="49.4"/><circle cx="194.5" cy="67.7"/><circle cx="249.4" cy="44.7"/><circle cx="186.7" cy="57.8"/><circle cx="257.5" cy="60.3"/><circle cx="199.2" cy="59.0"/><circle cx="204.2" cy="52.7"/><circle cx="172.4" cy="69.5"/><circle cx="255.3" cy="64.1"/><circle cx="236.2" cy="53.1"/><circle cx="233.0" cy="32.1"/><circle cx="172.9" cy="90.6"/><circle cx="192.5" cy="49.1"/><circle cx="231.2" cy="51.0"/><circle cx="276.0" cy="61.0"/><circle cx="179.0" cy="55.8"/><circle cx="181.3" cy="71.9"/><circle cx="186.7" cy="62.7"/><circle cx="172.7" cy="84.2"/><circle cx="214.7" cy="56.6"/><circle cx="227.7" cy="60.2"/><circle cx="218.6" cy="66.7"/><circle cx="178.7" cy="67.1"/><circle cx="233.9" cy="58.7"/><circle cx="227.2" cy="50.9"/><circle cx="207.8" cy="55.7"/><circle cx="234.1" cy="66.1"/><circle cx="194.9" cy="66.6"/><circle cx="192.0" cy="59.7"/><circle cx="197.1" cy="36.3"/><circle cx="224.8" cy="41.9"/><circle cx="238.9" cy="52.3"/><circle cx="194.7" cy="75.6"/><circle cx="210.7" cy="61.9"/><circle cx="238.6" cy="89.5"/><circle cx="201.9" cy="33.2"/><circle cx="189.5" cy="51.0"/><circle cx="172.4" cy="99.8"/><circle cx="219.3" cy="36.9"/><circle cx="180.2" cy="57.4"/><circle cx="194.8" cy="99.2"/><circle cx="193.8" cy="75.6"/><circle cx="172.3" cy="72.0"/><circle cx="203.4" cy="70.2"/><circle cx="245.7" cy="66.2"/><circle cx="220.5" cy="69.7"/><circle cx="180.5" cy="64.8"/><circle cx="206.6" cy="84.2"/><circle cx="276.6" cy="42.3"/><circle cx="239.1" cy="56.9"/><circle cx="233.8" cy="56.0"/><circle cx="244.3" cy="73.3"/><circle cx="199.6" cy="44.9"/><circle cx="217.4" cy="49.7"/><circle cx="178.1" cy="58.1"/><circle cx="202.5" cy="62.1"/><circle cx="251.2" cy="59.5"/><circle cx="220.8" cy="89.6"/><circle cx="204.5" cy="79.0"/><circle cx="196.6" cy="64.3"/><circle cx="227.9" cy="45.9"/><circle cx="209.3" cy="55.0"/><circle cx="272.0" cy="37.2"/><circle cx="204.1" cy="48.8"/><circle cx="191.0" cy="59.3"/><circle cx="193.1" cy="65.3"/><circle cx="195.3" cy="63.1"/><circle cx="211.9" cy="69.0"/><circle cx="248.3" cy="50.8"/><circle cx="219.7" cy="63.3"/><circle cx="203.1" cy="56.5"/><circle cx="191.8" cy="52.5"/><circle cx="255.2" cy="51.4"/><circle cx="274.3" cy="50.4"/><circle cx="236.6" cy="52.5"/><circle cx="213.4" cy="71.1"/><circle cx="172.5" cy="56.0"/><circle cx="197.3" cy="85.1"/><circle cx="238.5" cy="51.8"/><circle cx="181.5" cy="96.5"/><circle cx="254.2" cy="68.2"/><circle cx="213.7" cy="72.6"/><circle cx="190.9" cy="76.7"/><circle cx="251.2" cy="60.7"/><circle cx="213.9" cy="48.9"/><circle cx="220.1" cy="59.3"/><circle cx="181.1" cy="37.3"/><circle cx="202.6" cy="50.9"/><circle cx="185.3" cy="87.0"/><circle cx="227.1" cy="46.4"/><circle cx="191.9" cy="62.8"/><circle cx="203.6" cy="65.1"/><circle cx="204.5" cy="41.5"/><circle cx="232.2" cy="79.0"/><circle cx="203.0" cy="77.1"/><circle cx="212.3" cy="61.5"/><circle cx="212.9" cy="73.8"/><circle cx="198.1" cy="49.4"/><circle cx="183.1" cy="59.9"/><circle cx="217.9" cy="52.0"/><circle cx="174.6" cy="51.2"/><circle cx="189.0" cy="95.6"/><circle cx="217.7" cy="74.6"/><circle cx="216.0" cy="62.7"/><circle cx="213.8" cy="66.6"/><circle cx="226.7" cy="53.8"/><circle cx="269.6" cy="51.7"/><circle cx="258.0" cy="64.1"/><circle cx="229.5" cy="83.1"/><circle cx="234.8" cy="68.1"/><circle cx="187.3" cy="88.4"/><circle cx="172.7" cy="63.7"/><circle cx="226.9" cy="56.5"/><circle cx="226.1" cy="74.1"/><circle cx="225.0" cy="47.0"/><circle cx="180.2" cy="51.4"/><circle cx="204.7" cy="93.6"/><circle cx="252.2" cy="52.3"/><circle cx="181.8" cy="40.5"/><circle cx="240.0" cy="69.7"/><circle cx="201.0" cy="55.3"/><circle cx="229.5" cy="40.5"/><circle cx="227.0" cy="41.3"/><circle cx="260.7" cy="60.6"/><circle cx="233.1" cy="53.8"/><circle cx="200.1" cy="56.8"/><circle cx="261.2" cy="46.6"/><circle cx="249.7" cy="59.0"/><circle cx="251.3" cy="51.7"/><circle cx="183.3" cy="46.1"/><circle cx="206.7" cy="97.9"/><circle cx="235.1" cy="65.6"/><circle cx="192.8" cy="69.7"/><circle cx="225.6" cy="82.3"/><circle cx="217.6" cy="61.1"/><circle cx="188.7" cy="46.0"/><circle cx="204.8" cy="58.2"/><circle cx="245.2" cy="66.2"/><circle cx="205.2" cy="48.4"/><circle cx="189.0" cy="59.8"/><circle cx="208.7" cy="58.8"/><circle cx="205.7" cy="49.2"/><circle cx="218.9" cy="68.8"/><circle cx="208.9" cy="56.0"/><circle cx="229.1" cy="46.0"/><circle cx="197.6" cy="70.6"/><circle cx="180.8" cy="58.1"/><circle cx="187.6" cy="70.4"/><circle cx="202.9" cy="34.9"/><circle cx="207.6" cy="43.6"/><circle cx="176.7" cy="50.8"/><circle cx="212.8" cy="55.7"/><circle cx="209.6" cy="55.5"/><circle cx="240.0" cy="52.2"/><circle cx="237.1" cy="78.2"/><circle cx="200.0" cy="60.7"/><circle cx="213.5" cy="57.8"/><circle cx="203.0" cy="42.7"/><circle cx="252.7" cy="51.2"/><circle cx="183.5" cy="44.6"/><circle cx="172.6" cy="70.7"/><circle cx="223.3" cy="81.5"/><circle cx="184.3" cy="54.4"/><circle cx="204.7" cy="88.2"/><circle cx="239.0" cy="76.8"/><circle cx="231.0" cy="50.6"/><circle cx="195.2" cy="60.2"/><circle cx="172.5" cy="66.7"/><circle cx="214.1" cy="72.1"/><circle cx="195.3" cy="91.5"/><circle cx="236.2" cy="51.9"/><circle cx="172.9" cy="87.1"/><circle cx="235.7" cy="79.5"/><circle cx="193.2" cy="81.4"/><circle cx="206.5" cy="75.1"/><circle cx="202.0" cy="58.5"/><circle cx="245.9" cy="70.1"/><circle cx="199.5" cy="59.1"/><circle cx="206.2" cy="56.5"/><circle cx="197.7" cy="39.6"/><circle cx="225.9" cy="52.6"/><circle cx="173.5" cy="74.3"/><circle cx="174.6" cy="62.1"/><circle cx="226.7" cy="66.1"/><circle cx="203.5" cy="61.0"/><circle cx="197.7" cy="70.7"/><circle cx="219.1" cy="44.2"/><circle cx="184.6" cy="52.5"/><circle cx="209.6" cy="69.6"/><circle cx="223.0" cy="48.6"/><circle cx="203.8" cy="92.8"/><circle cx="214.5" cy="64.4"/><circle cx="173.9" cy="43.0"/><circle cx="225.7" cy="61.8"/><circle cx="247.4" cy="93.1"/><circle cx="211.2" cy="69.7"/><circle cx="216.0" cy="87.8"/><circle cx="189.1" cy="104.6"/><circle cx="184.7" cy="47.4"/><circle cx="249.3" cy="62.0"/><circle cx="263.8" cy="47.9"/><circle cx="234.8" cy="51.5"/><circle cx="188.6" cy="61.4"/><circle cx="214.0" cy="50.7"/><circle cx="197.1" cy="46.2"/><circle cx="210.2" cy="49.8"/>
</g>
<path d="M172.2 67.5 L176.6 67.3 L181.1 67.0 L185.5 66.7 L190.0 66.4 L194.4 66.1 L198.9 65.8 L203.3 65.4 L207.8 65.0 L212.2 64.5 L216.7 64.0 L221.1 63.4 L225.6 62.7 L230.0 62.0 L234.5 61.3 L238.9 60.6 L243.4 59.8 L247.8 59.0 L252.3 58.2 L256.8 57.4 L261.2 56.6 L265.6 55.8 L270.1 55.0 L274.6 54.2 L279.0 53.4 L279.0 62.4 L274.6 62.6 L270.1 62.9 L265.6 63.2 L261.2 63.4 L256.8 63.7 L252.3 63.9 L247.8 64.2 L243.4 64.5 L238.9 64.8 L234.5 65.1 L230.0 65.4 L225.6 65.8 L221.1 66.2 L216.7 66.6 L212.2 67.1 L207.8 67.7 L203.3 68.4 L198.9 69.1 L194.4 69.8 L190.0 70.5 L185.5 71.3 L181.1 72.1 L176.6 72.9 L172.2 73.6 Z" fill="#999" fill-opacity="0.45"/>
<line x1="172.2" y1="70.6" x2="279.0" y2="57.9" stroke="#000" stroke-width="1.6"/>
<rect x="166.8" y="3.0" width="117.6" height="141.4" fill="none" stroke="#505050" stroke-width="1"/>
<line x1="187.8" y1="144.4" x2="187.8" y2="142.4" stroke="#333" stroke-width="0.8"/>
<text class="tk" transform="translate(187.80,151.60) scale(1,1.080)" text-anchor="middle">−1</text>
<line x1="211.2" y1="144.4" x2="211.2" y2="142.4" stroke="#333" stroke-width="0.8"/>
<text class="tk" transform="translate(211.20,151.60) scale(1,1.080)" text-anchor="middle">0</text>
<line x1="234.6" y1="144.4" x2="234.6" y2="142.4" stroke="#333" stroke-width="0.8"/>
<text class="tk" transform="translate(234.60,151.60) scale(1,1.080)" text-anchor="middle">1</text>
<line x1="258.0" y1="144.4" x2="258.0" y2="142.4" stroke="#333" stroke-width="0.8"/>
<text class="tk" transform="translate(258.00,151.60) scale(1,1.080)" text-anchor="middle">2</text>
<line x1="281.4" y1="144.4" x2="281.4" y2="142.4" stroke="#333" stroke-width="0.8"/>
<text class="tk" transform="translate(281.40,151.60) scale(1,1.080)" text-anchor="middle">3</text>
<line x1="166.8" y1="20.3" x2="168.8" y2="20.3" stroke="#333" stroke-width="0.8"/>
<text class="tk" transform="translate(165.20,22.60) scale(1,1.080)" text-anchor="end">2</text>
<line x1="166.8" y1="43.0" x2="168.8" y2="43.0" stroke="#333" stroke-width="0.8"/>
<text class="tk" transform="translate(165.20,45.35) scale(1,1.080)" text-anchor="end">1</text>
<line x1="166.8" y1="65.8" x2="168.8" y2="65.8" stroke="#333" stroke-width="0.8"/>
<text class="tk" transform="translate(165.20,68.10) scale(1,1.080)" text-anchor="end">0</text>
<line x1="166.8" y1="88.5" x2="168.8" y2="88.5" stroke="#333" stroke-width="0.8"/>
<text class="tk" transform="translate(165.20,90.85) scale(1,1.080)" text-anchor="end">−1</text>
<line x1="166.8" y1="111.3" x2="168.8" y2="111.3" stroke="#333" stroke-width="0.8"/>
<text class="tk" transform="translate(165.20,113.60) scale(1,1.080)" text-anchor="end">−2</text>
<line x1="166.8" y1="134.1" x2="168.8" y2="134.1" stroke="#333" stroke-width="0.8"/>
<text class="tk" transform="translate(165.20,136.35) scale(1,1.080)" text-anchor="end">−3</text>
<g class="t">
<circle cx="374.5" cy="53.3"/><circle cx="348.7" cy="88.6"/><circle cx="388.6" cy="37.1"/><circle cx="353.1" cy="90.3"/><circle cx="359.4" cy="52.1"/><circle cx="349.5" cy="55.6"/><circle cx="350.7" cy="107.4"/><circle cx="353.8" cy="61.2"/><circle cx="337.7" cy="63.9"/><circle cx="375.0" cy="57.5"/><circle cx="351.4" cy="56.7"/><circle cx="346.3" cy="60.9"/><circle cx="368.8" cy="27.2"/><circle cx="373.9" cy="24.5"/><circle cx="363.0" cy="49.4"/><circle cx="374.6" cy="42.2"/><circle cx="357.4" cy="59.4"/><circle cx="374.4" cy="35.9"/><circle cx="365.5" cy="56.8"/><circle cx="355.6" cy="52.7"/><circle cx="308.0" cy="57.6"/><circle cx="361.2" cy="50.2"/><circle cx="356.0" cy="50.0"/><circle cx="367.8" cy="59.7"/><circle cx="360.9" cy="95.5"/><circle cx="360.3" cy="62.5"/><circle cx="365.2" cy="62.6"/><circle cx="327.8" cy="70.5"/><circle cx="368.9" cy="64.5"/><circle cx="365.0" cy="56.1"/><circle cx="356.1" cy="64.2"/><circle cx="365.6" cy="66.1"/><circle cx="357.7" cy="59.0"/><circle cx="335.1" cy="52.8"/><circle cx="351.5" cy="84.8"/><circle cx="354.8" cy="67.7"/><circle cx="337.6" cy="65.7"/><circle cx="365.1" cy="60.6"/><circle cx="325.3" cy="63.5"/><circle cx="368.7" cy="49.6"/><circle cx="370.1" cy="81.4"/><circle cx="363.2" cy="52.0"/><circle cx="353.4" cy="41.9"/><circle cx="366.5" cy="47.1"/><circle cx="340.9" cy="37.0"/><circle cx="370.1" cy="59.0"/><circle cx="349.8" cy="42.3"/><circle cx="362.1" cy="58.8"/><circle cx="371.8" cy="27.5"/><circle cx="340.6" cy="69.6"/><circle cx="336.7" cy="70.3"/><circle cx="345.9" cy="55.3"/><circle cx="343.2" cy="71.8"/><circle cx="357.5" cy="66.8"/><circle cx="372.0" cy="50.5"/><circle cx="365.7" cy="71.8"/><circle cx="369.1" cy="63.9"/><circle cx="371.8" cy="27.4"/><circle cx="373.1" cy="53.3"/><circle cx="380.1" cy="62.2"/><circle cx="351.4" cy="79.5"/><circle cx="354.9" cy="41.0"/><circle cx="361.9" cy="75.9"/><circle cx="346.0" cy="64.9"/><circle cx="369.9" cy="47.5"/><circle cx="388.8" cy="79.5"/><circle cx="358.5" cy="83.8"/><circle cx="327.6" cy="69.8"/><circle cx="308.0" cy="70.7"/><circle cx="351.8" cy="45.7"/><circle cx="376.4" cy="49.1"/><circle cx="371.8" cy="28.5"/><circle cx="388.6" cy="42.5"/><circle cx="353.8" cy="53.4"/><circle cx="376.1" cy="61.3"/><circle cx="369.4" cy="57.9"/><circle cx="331.2" cy="68.0"/><circle cx="365.1" cy="64.2"/><circle cx="323.7" cy="64.6"/><circle cx="318.8" cy="51.1"/><circle cx="361.4" cy="86.0"/><circle cx="361.9" cy="60.3"/><circle cx="382.0" cy="48.9"/><circle cx="346.5" cy="66.8"/><circle cx="365.6" cy="88.9"/><circle cx="361.5" cy="51.4"/><circle cx="356.8" cy="60.3"/><circle cx="365.7" cy="49.9"/><circle cx="396.1" cy="49.5"/><circle cx="371.6" cy="47.6"/><circle cx="377.7" cy="54.8"/><circle cx="321.1" cy="49.3"/><circle cx="358.6" cy="58.5"/><circle cx="360.1" cy="75.1"/><circle cx="344.2" cy="61.8"/><circle cx="358.6" cy="53.6"/><circle cx="352.2" cy="39.4"/><circle cx="366.4" cy="50.1"/><circle cx="347.0" cy="79.9"/><circle cx="367.0" cy="56.7"/><circle cx="330.8" cy="41.8"/><circle cx="361.8" cy="84.8"/><circle cx="340.7" cy="71.0"/><circle cx="371.7" cy="26.7"/><circle cx="370.3" cy="26.5"/><circle cx="381.2" cy="43.4"/><circle cx="385.3" cy="53.5"/><circle cx="360.8" cy="86.3"/><circle cx="360.2" cy="46.0"/><circle cx="341.8" cy="69.7"/><circle cx="365.8" cy="51.0"/><circle cx="366.2" cy="73.8"/><circle cx="361.1" cy="34.9"/><circle cx="359.0" cy="95.8"/><circle cx="315.4" cy="68.1"/><circle cx="343.0" cy="53.1"/><circle cx="356.8" cy="67.7"/><circle cx="338.0" cy="72.4"/><circle cx="361.9" cy="61.8"/><circle cx="343.0" cy="76.7"/><circle cx="367.5" cy="80.7"/><circle cx="361.4" cy="64.4"/><circle cx="350.1" cy="75.5"/><circle cx="371.0" cy="71.0"/><circle cx="340.6" cy="88.9"/><circle cx="358.0" cy="79.0"/><circle cx="385.1" cy="38.5"/><circle cx="345.7" cy="102.8"/><circle cx="367.5" cy="59.3"/><circle cx="397.3" cy="46.5"/><circle cx="355.2" cy="57.9"/><circle cx="360.9" cy="52.4"/><circle cx="349.5" cy="73.1"/><circle cx="357.9" cy="63.3"/><circle cx="348.0" cy="75.2"/><circle cx="371.4" cy="80.1"/><circle cx="346.1" cy="59.0"/><circle cx="341.8" cy="63.0"/><circle cx="356.7" cy="75.4"/><circle cx="352.2" cy="54.6"/><circle cx="359.0" cy="48.2"/><circle cx="367.7" cy="61.7"/><circle cx="355.7" cy="80.5"/><circle cx="336.4" cy="50.7"/><circle cx="353.6" cy="47.3"/><circle cx="353.7" cy="47.1"/><circle cx="368.7" cy="56.1"/><circle cx="365.6" cy="43.5"/><circle cx="353.4" cy="50.1"/><circle cx="331.3" cy="88.0"/><circle cx="338.5" cy="58.3"/><circle cx="349.7" cy="58.9"/><circle cx="357.3" cy="60.5"/><circle cx="363.8" cy="60.6"/><circle cx="331.2" cy="47.2"/><circle cx="368.4" cy="56.3"/><circle cx="353.7" cy="76.5"/><circle cx="379.8" cy="51.5"/><circle cx="364.2" cy="44.8"/><circle cx="369.4" cy="65.0"/><circle cx="363.2" cy="27.0"/><circle cx="360.6" cy="68.0"/><circle cx="348.5" cy="45.9"/><circle cx="359.8" cy="67.3"/><circle cx="316.5" cy="60.7"/><circle cx="343.2" cy="67.3"/><circle cx="364.8" cy="86.1"/><circle cx="356.3" cy="61.4"/><circle cx="345.9" cy="57.6"/><circle cx="340.9" cy="82.3"/><circle cx="360.4" cy="57.0"/><circle cx="357.9" cy="49.5"/><circle cx="338.7" cy="91.6"/><circle cx="371.2" cy="47.6"/><circle cx="355.0" cy="73.4"/><circle cx="366.5" cy="59.0"/><circle cx="357.3" cy="41.3"/><circle cx="354.3" cy="71.6"/><circle cx="341.1" cy="72.3"/><circle cx="373.9" cy="62.6"/><circle cx="364.5" cy="61.4"/><circle cx="373.4" cy="42.0"/><circle cx="336.0" cy="111.3"/><circle cx="357.8" cy="67.7"/><circle cx="361.8" cy="69.5"/><circle cx="341.9" cy="66.7"/><circle cx="366.9" cy="51.3"/><circle cx="381.7" cy="58.4"/><circle cx="357.0" cy="76.2"/><circle cx="313.8" cy="63.5"/><circle cx="361.5" cy="73.3"/><circle cx="394.6" cy="57.7"/><circle cx="374.3" cy="58.8"/><circle cx="367.9" cy="58.8"/><circle cx="351.2" cy="59.9"/><circle cx="358.9" cy="56.4"/><circle cx="363.8" cy="81.3"/><circle cx="372.7" cy="52.8"/><circle cx="348.3" cy="52.7"/><circle cx="339.2" cy="42.9"/><circle cx="333.3" cy="81.4"/><circle cx="358.4" cy="117.6"/><circle cx="365.5" cy="49.3"/><circle cx="379.7" cy="35.9"/><circle cx="352.7" cy="60.8"/><circle cx="397.5" cy="56.8"/><circle cx="374.8" cy="69.1"/><circle cx="366.3" cy="76.0"/><circle cx="392.6" cy="51.5"/><circle cx="377.1" cy="39.0"/><circle cx="351.0" cy="48.1"/><circle cx="346.9" cy="65.4"/><circle cx="337.1" cy="77.1"/><circle cx="362.8" cy="75.0"/><circle cx="386.9" cy="54.3"/><circle cx="342.4" cy="58.3"/><circle cx="359.8" cy="113.3"/><circle cx="348.8" cy="76.5"/><circle cx="341.8" cy="88.7"/><circle cx="347.2" cy="62.6"/><circle cx="351.6" cy="68.1"/><circle cx="354.8" cy="58.1"/><circle cx="366.4" cy="51.1"/><circle cx="355.9" cy="60.3"/><circle cx="339.6" cy="46.8"/><circle cx="327.9" cy="56.5"/><circle cx="362.1" cy="99.2"/><circle cx="375.7" cy="75.2"/><circle cx="374.3" cy="65.3"/><circle cx="330.7" cy="56.6"/><circle cx="374.4" cy="44.2"/><circle cx="389.8" cy="57.1"/><circle cx="364.6" cy="62.7"/><circle cx="352.7" cy="63.0"/><circle cx="378.8" cy="69.2"/><circle cx="379.2" cy="38.1"/><circle cx="378.6" cy="43.6"/><circle cx="342.0" cy="78.1"/><circle cx="357.6" cy="43.3"/><circle cx="358.0" cy="71.8"/><circle cx="343.3" cy="68.2"/><circle cx="368.3" cy="57.4"/><circle cx="344.0" cy="68.4"/><circle cx="382.8" cy="54.9"/><circle cx="340.2" cy="72.9"/><circle cx="374.4" cy="112.1"/><circle cx="357.7" cy="77.8"/><circle cx="346.4" cy="71.4"/><circle cx="332.6" cy="54.5"/><circle cx="360.7" cy="52.1"/><circle cx="345.9" cy="67.0"/><circle cx="370.6" cy="34.3"/><circle cx="384.0" cy="52.1"/><circle cx="375.5" cy="72.6"/><circle cx="355.9" cy="73.3"/><circle cx="376.2" cy="35.1"/><circle cx="320.1" cy="48.6"/><circle cx="360.2" cy="64.3"/><circle cx="338.6" cy="47.4"/><circle cx="357.4" cy="74.9"/><circle cx="374.5" cy="42.8"/><circle cx="351.0" cy="93.5"/><circle cx="332.8" cy="46.4"/><circle cx="368.0" cy="49.7"/><circle cx="345.9" cy="62.5"/><circle cx="359.5" cy="85.1"/><circle cx="365.1" cy="83.9"/><circle cx="367.5" cy="88.4"/><circle cx="402.3" cy="72.9"/><circle cx="376.2" cy="70.0"/><circle cx="387.8" cy="63.4"/><circle cx="366.9" cy="53.2"/><circle cx="356.5" cy="61.7"/><circle cx="371.8" cy="49.6"/><circle cx="357.3" cy="75.6"/><circle cx="371.1" cy="70.3"/><circle cx="351.6" cy="51.6"/><circle cx="383.9" cy="34.8"/><circle cx="356.6" cy="120.3"/><circle cx="361.2" cy="56.1"/><circle cx="359.3" cy="84.9"/><circle cx="346.7" cy="50.7"/><circle cx="356.3" cy="46.6"/><circle cx="357.1" cy="70.6"/><circle cx="372.7" cy="38.2"/><circle cx="360.0" cy="50.7"/><circle cx="356.9" cy="79.8"/><circle cx="361.5" cy="37.1"/><circle cx="375.3" cy="49.5"/><circle cx="377.9" cy="43.0"/><circle cx="341.3" cy="61.7"/><circle cx="350.3" cy="77.3"/><circle cx="351.2" cy="52.7"/><circle cx="358.9" cy="78.8"/><circle cx="349.7" cy="99.8"/><circle cx="373.8" cy="29.0"/><circle cx="378.6" cy="27.9"/><circle cx="374.9" cy="57.7"/><circle cx="366.2" cy="107.5"/><circle cx="355.0" cy="52.4"/><circle cx="338.3" cy="75.7"/><circle cx="354.1" cy="57.9"/><circle cx="349.8" cy="78.2"/><circle cx="353.6" cy="59.8"/><circle cx="361.6" cy="50.7"/><circle cx="335.5" cy="88.3"/><circle cx="368.8" cy="46.1"/><circle cx="356.3" cy="52.4"/><circle cx="339.6" cy="53.9"/><circle cx="350.6" cy="57.4"/><circle cx="348.4" cy="89.7"/><circle cx="355.7" cy="51.4"/><circle cx="307.1" cy="54.6"/><circle cx="365.7" cy="53.8"/><circle cx="331.2" cy="80.6"/><circle cx="340.1" cy="122.8"/><circle cx="365.9" cy="73.0"/><circle cx="355.5" cy="83.1"/><circle cx="344.3" cy="88.0"/><circle cx="346.3" cy="49.7"/><circle cx="370.5" cy="55.0"/><circle cx="361.4" cy="71.0"/><circle cx="351.0" cy="61.9"/><circle cx="354.8" cy="44.8"/><circle cx="347.7" cy="37.0"/><circle cx="360.6" cy="45.7"/><circle cx="352.1" cy="45.7"/><circle cx="349.3" cy="42.1"/><circle cx="382.5" cy="54.5"/><circle cx="339.1" cy="58.4"/><circle cx="361.7" cy="55.8"/><circle cx="364.6" cy="65.0"/><circle cx="370.9" cy="50.2"/><circle cx="353.8" cy="46.8"/><circle cx="348.3" cy="72.3"/><circle cx="346.2" cy="59.7"/><circle cx="365.7" cy="34.5"/><circle cx="356.7" cy="46.4"/><circle cx="353.4" cy="66.4"/><circle cx="355.5" cy="50.3"/><circle cx="378.1" cy="61.4"/><circle cx="360.6" cy="57.8"/><circle cx="384.6" cy="57.7"/><circle cx="383.0" cy="56.2"/><circle cx="319.3" cy="57.5"/><circle cx="344.0" cy="56.4"/><circle cx="362.4" cy="99.1"/><circle cx="350.4" cy="54.5"/><circle cx="322.6" cy="56.7"/><circle cx="354.8" cy="64.9"/><circle cx="368.2" cy="57.1"/><circle cx="364.9" cy="53.2"/><circle cx="371.6" cy="52.4"/><circle cx="350.4" cy="57.3"/><circle cx="340.8" cy="65.9"/><circle cx="334.8" cy="62.2"/><circle cx="336.5" cy="51.2"/><circle cx="368.6" cy="68.2"/><circle cx="360.0" cy="53.2"/><circle cx="351.1" cy="65.3"/><circle cx="362.1" cy="80.2"/><circle cx="356.7" cy="110.3"/><circle cx="347.8" cy="74.3"/><circle cx="377.8" cy="54.7"/><circle cx="356.3" cy="80.2"/><circle cx="393.4" cy="61.3"/><circle cx="354.9" cy="51.3"/><circle cx="361.5" cy="42.9"/><circle cx="340.8" cy="87.9"/><circle cx="363.6" cy="59.3"/><circle cx="329.2" cy="73.9"/><circle cx="370.9" cy="52.6"/><circle cx="359.1" cy="81.6"/><circle cx="339.9" cy="55.7"/><circle cx="367.9" cy="48.3"/><circle cx="360.1" cy="58.9"/><circle cx="372.9" cy="73.1"/><circle cx="345.0" cy="62.6"/><circle cx="355.7" cy="68.3"/><circle cx="347.4" cy="89.9"/><circle cx="337.6" cy="54.8"/><circle cx="371.8" cy="64.7"/><circle cx="357.9" cy="75.6"/><circle cx="378.7" cy="50.0"/><circle cx="356.8" cy="64.8"/><circle cx="365.3" cy="55.6"/><circle cx="354.1" cy="50.0"/><circle cx="362.2" cy="54.8"/><circle cx="338.1" cy="62.9"/><circle cx="368.1" cy="65.3"/><circle cx="387.4" cy="62.5"/><circle cx="354.9" cy="43.1"/><circle cx="358.8" cy="72.7"/><circle cx="351.2" cy="55.2"/><circle cx="325.4" cy="48.6"/><circle cx="379.9" cy="39.8"/><circle cx="359.7" cy="44.0"/><circle cx="342.8" cy="62.6"/><circle cx="347.9" cy="58.7"/><circle cx="375.4" cy="54.4"/><circle cx="358.8" cy="57.7"/><circle cx="367.4" cy="96.5"/><circle cx="332.6" cy="54.1"/><circle cx="339.6" cy="61.2"/><circle cx="371.1" cy="50.0"/><circle cx="353.4" cy="71.9"/><circle cx="353.0" cy="51.1"/><circle cx="371.2" cy="101.1"/><circle cx="369.1" cy="45.8"/><circle cx="371.4" cy="32.4"/><circle cx="334.5" cy="67.8"/><circle cx="380.3" cy="55.6"/><circle cx="337.0" cy="87.5"/><circle cx="353.8" cy="92.1"/><circle cx="340.1" cy="53.1"/><circle cx="362.6" cy="47.8"/><circle cx="366.4" cy="47.7"/><circle cx="373.9" cy="49.7"/><circle cx="349.9" cy="68.9"/><circle cx="380.7" cy="50.0"/><circle cx="341.3" cy="50.1"/><circle cx="345.1" cy="63.4"/><circle cx="334.3" cy="74.4"/><circle cx="337.3" cy="73.8"/><circle cx="358.0" cy="53.6"/><circle cx="347.3" cy="87.2"/><circle cx="359.3" cy="86.9"/><circle cx="349.1" cy="70.1"/><circle cx="363.3" cy="69.5"/><circle cx="343.8" cy="51.2"/><circle cx="362.3" cy="64.3"/><circle cx="384.2" cy="85.0"/><circle cx="370.4" cy="85.1"/><circle cx="368.0" cy="72.0"/><circle cx="358.6" cy="53.3"/><circle cx="353.8" cy="50.5"/><circle cx="349.8" cy="52.5"/><circle cx="362.5" cy="38.3"/><circle cx="372.7" cy="26.6"/><circle cx="373.1" cy="68.6"/><circle cx="366.2" cy="48.7"/><circle cx="354.2" cy="59.9"/><circle cx="355.3" cy="46.9"/><circle cx="382.6" cy="48.3"/><circle cx="350.9" cy="49.4"/><circle cx="356.2" cy="54.4"/><circle cx="342.9" cy="57.6"/><circle cx="347.7" cy="69.1"/><circle cx="382.2" cy="41.8"/><circle cx="356.2" cy="54.3"/><circle cx="361.8" cy="25.9"/><circle cx="339.2" cy="60.6"/><circle cx="353.7" cy="54.1"/><circle cx="331.2" cy="45.5"/><circle cx="374.1" cy="28.7"/><circle cx="347.7" cy="52.1"/><circle cx="361.8" cy="45.8"/><circle cx="349.2" cy="87.9"/><circle cx="361.5" cy="53.0"/><circle cx="359.1" cy="42.3"/><circle cx="348.2" cy="98.8"/><circle cx="331.7" cy="60.9"/><circle cx="355.7" cy="55.2"/><circle cx="364.0" cy="97.9"/><circle cx="366.0" cy="56.8"/><circle cx="367.2" cy="59.3"/><circle cx="376.2" cy="84.6"/><circle cx="365.1" cy="60.2"/><circle cx="382.0" cy="42.4"/><circle cx="353.5" cy="65.4"/><circle cx="375.8" cy="54.9"/><circle cx="357.3" cy="51.1"/><circle cx="393.8" cy="57.9"/><circle cx="354.4" cy="85.6"/><circle cx="331.6" cy="47.2"/><circle cx="359.1" cy="50.2"/><circle cx="374.7" cy="61.0"/><circle cx="346.0" cy="43.6"/><circle cx="349.5" cy="54.6"/><circle cx="348.9" cy="57.7"/><circle cx="361.8" cy="54.6"/><circle cx="329.4" cy="63.2"/><circle cx="349.4" cy="56.1"/><circle cx="354.3" cy="46.4"/><circle cx="358.1" cy="69.5"/><circle cx="327.7" cy="43.6"/><circle cx="365.4" cy="73.7"/><circle cx="410.6" cy="73.8"/><circle cx="354.2" cy="48.8"/><circle cx="347.5" cy="56.8"/><circle cx="345.0" cy="90.8"/><circle cx="354.7" cy="40.7"/><circle cx="340.9" cy="55.5"/><circle cx="374.3" cy="58.3"/><circle cx="365.7" cy="82.9"/><circle cx="336.2" cy="60.8"/><circle cx="342.6" cy="70.0"/><circle cx="354.7" cy="77.4"/><circle cx="381.4" cy="42.2"/><circle cx="353.7" cy="38.0"/><circle cx="358.9" cy="51.1"/><circle cx="342.4" cy="93.0"/><circle cx="367.2" cy="59.2"/><circle cx="377.1" cy="54.5"/><circle cx="393.4" cy="52.7"/><circle cx="350.4" cy="71.0"/><circle cx="378.6" cy="39.7"/><circle cx="346.7" cy="71.3"/><circle cx="366.4" cy="74.4"/><circle cx="359.2" cy="75.9"/><circle cx="354.9" cy="52.6"/><circle cx="373.7" cy="51.0"/><circle cx="382.0" cy="44.4"/><circle cx="368.7" cy="63.0"/><circle cx="364.7" cy="57.9"/><circle cx="365.2" cy="53.3"/><circle cx="367.9" cy="51.2"/><circle cx="353.7" cy="66.1"/><circle cx="352.5" cy="46.5"/><circle cx="358.9" cy="126.7"/><circle cx="342.4" cy="60.3"/><circle cx="355.0" cy="48.5"/><circle cx="404.3" cy="50.6"/><circle cx="316.9" cy="48.4"/><circle cx="357.1" cy="79.8"/><circle cx="349.9" cy="117.3"/><circle cx="364.5" cy="47.3"/><circle cx="348.7" cy="76.7"/><circle cx="368.8" cy="26.6"/><circle cx="376.3" cy="41.6"/><circle cx="335.7" cy="115.7"/><circle cx="359.4" cy="44.0"/><circle cx="369.1" cy="84.4"/><circle cx="348.0" cy="49.4"/><circle cx="377.4" cy="59.3"/><circle cx="373.6" cy="44.4"/><circle cx="396.8" cy="65.2"/><circle cx="358.4" cy="48.7"/><circle cx="362.5" cy="45.8"/><circle cx="372.3" cy="79.4"/><circle cx="378.9" cy="41.7"/><circle cx="366.3" cy="44.9"/><circle cx="368.6" cy="39.1"/><circle cx="371.7" cy="51.9"/><circle cx="364.0" cy="64.5"/><circle cx="329.9" cy="52.2"/><circle cx="363.0" cy="26.0"/><circle cx="335.5" cy="69.7"/><circle cx="336.7" cy="72.1"/><circle cx="326.2" cy="67.5"/><circle cx="315.3" cy="62.2"/><circle cx="345.4" cy="83.4"/><circle cx="338.7" cy="71.5"/><circle cx="358.8" cy="86.9"/><circle cx="370.7" cy="67.6"/><circle cx="361.2" cy="32.6"/><circle cx="342.7" cy="52.6"/><circle cx="356.3" cy="104.2"/><circle cx="359.6" cy="69.4"/><circle cx="373.1" cy="94.8"/><circle cx="401.4" cy="41.2"/><circle cx="375.8" cy="34.6"/><circle cx="312.9" cy="59.7"/><circle cx="343.6" cy="53.5"/><circle cx="376.0" cy="46.6"/><circle cx="352.3" cy="65.3"/><circle cx="356.5" cy="115.3"/><circle cx="356.1" cy="85.9"/><circle cx="360.2" cy="54.2"/><circle cx="344.8" cy="41.7"/><circle cx="364.6" cy="73.9"/><circle cx="355.3" cy="48.3"/><circle cx="351.0" cy="98.4"/><circle cx="348.9" cy="59.8"/><circle cx="373.4" cy="53.3"/><circle cx="354.0" cy="86.6"/><circle cx="403.5" cy="59.1"/><circle cx="365.3" cy="53.4"/><circle cx="339.0" cy="55.6"/><circle cx="374.0" cy="54.3"/><circle cx="368.3" cy="27.4"/><circle cx="315.0" cy="74.4"/><circle cx="357.4" cy="62.5"/><circle cx="362.0" cy="51.6"/><circle cx="361.8" cy="67.5"/><circle cx="352.1" cy="46.4"/><circle cx="333.8" cy="61.3"/><circle cx="368.0" cy="47.1"/><circle cx="378.1" cy="38.9"/><circle cx="351.8" cy="49.9"/><circle cx="345.8" cy="59.4"/><circle cx="357.3" cy="58.3"/><circle cx="358.9" cy="54.4"/><circle cx="372.5" cy="69.6"/><circle cx="357.4" cy="51.1"/><circle cx="370.4" cy="34.3"/><circle cx="346.5" cy="74.8"/><circle cx="368.7" cy="53.4"/><circle cx="338.6" cy="62.6"/><circle cx="374.0" cy="45.2"/><circle cx="378.0" cy="41.6"/><circle cx="359.8" cy="105.1"/><circle cx="365.0" cy="40.9"/><circle cx="356.6" cy="50.9"/><circle cx="361.7" cy="55.2"/><circle cx="359.4" cy="70.4"/><circle cx="362.9" cy="66.5"/><circle cx="350.8" cy="87.4"/><circle cx="375.3" cy="52.2"/><circle cx="365.4" cy="66.3"/><circle cx="338.5" cy="56.8"/><circle cx="373.7" cy="50.8"/><circle cx="372.2" cy="49.5"/><circle cx="360.5" cy="67.7"/><circle cx="361.3" cy="93.9"/><circle cx="333.6" cy="113.5"/><circle cx="354.6" cy="69.3"/><circle cx="336.0" cy="54.2"/><circle cx="374.8" cy="40.9"/><circle cx="335.4" cy="57.3"/><circle cx="345.9" cy="80.4"/><circle cx="321.0" cy="47.2"/><circle cx="354.8" cy="66.9"/><circle cx="361.8" cy="76.4"/><circle cx="347.4" cy="74.4"/><circle cx="348.5" cy="50.5"/><circle cx="372.9" cy="24.9"/><circle cx="373.7" cy="52.4"/><circle cx="376.4" cy="23.6"/><circle cx="330.4" cy="56.1"/><circle cx="342.7" cy="49.4"/><circle cx="376.0" cy="43.3"/><circle cx="372.2" cy="49.7"/><circle cx="346.9" cy="57.9"/><circle cx="332.7" cy="54.5"/><circle cx="368.0" cy="60.1"/><circle cx="332.1" cy="86.9"/><circle cx="375.2" cy="63.9"/><circle cx="383.4" cy="61.4"/><circle cx="352.3" cy="68.0"/><circle cx="338.1" cy="59.8"/><circle cx="339.8" cy="64.6"/><circle cx="373.5" cy="61.4"/><circle cx="345.8" cy="80.4"/><circle cx="363.3" cy="86.5"/><circle cx="371.7" cy="63.3"/><circle cx="340.2" cy="59.3"/><circle cx="372.1" cy="45.5"/><circle cx="352.0" cy="46.4"/><circle cx="378.8" cy="38.5"/><circle cx="354.0" cy="98.1"/><circle cx="355.6" cy="51.6"/><circle cx="361.2" cy="129.3"/><circle cx="344.9" cy="45.7"/><circle cx="367.3" cy="31.5"/><circle cx="392.0" cy="51.3"/><circle cx="372.3" cy="71.9"/><circle cx="356.5" cy="74.0"/><circle cx="361.2" cy="50.3"/><circle cx="338.3" cy="80.9"/><circle cx="346.8" cy="93.3"/><circle cx="378.5" cy="63.6"/><circle cx="384.6" cy="58.7"/><circle cx="342.1" cy="78.1"/><circle cx="401.5" cy="90.1"/><circle cx="361.4" cy="109.6"/><circle cx="376.5" cy="65.1"/><circle cx="364.7" cy="82.6"/><circle cx="349.7" cy="101.8"/><circle cx="343.0" cy="50.6"/><circle cx="355.6" cy="87.0"/><circle cx="332.2" cy="67.0"/><circle cx="352.7" cy="98.3"/><circle cx="352.7" cy="53.3"/><circle cx="371.5" cy="39.1"/><circle cx="372.3" cy="54.2"/><circle cx="352.0" cy="63.0"/><circle cx="372.3" cy="62.2"/><circle cx="360.7" cy="65.8"/><circle cx="358.5" cy="61.3"/><circle cx="384.7" cy="71.5"/><circle cx="366.2" cy="49.3"/><circle cx="344.8" cy="72.3"/><circle cx="373.3" cy="60.7"/><circle cx="349.9" cy="50.4"/><circle cx="342.2" cy="107.7"/><circle cx="360.7" cy="45.8"/><circle cx="346.7" cy="67.4"/><circle cx="366.9" cy="72.4"/><circle cx="372.0" cy="56.1"/><circle cx="351.7" cy="49.9"/><circle cx="372.6" cy="63.9"/><circle cx="369.8" cy="54.6"/><circle cx="334.2" cy="78.5"/><circle cx="347.4" cy="85.9"/><circle cx="345.2" cy="49.6"/><circle cx="332.0" cy="56.9"/><circle cx="358.9" cy="73.0"/><circle cx="348.0" cy="48.7"/><circle cx="366.3" cy="34.7"/><circle cx="354.6" cy="73.5"/><circle cx="343.0" cy="51.1"/><circle cx="352.5" cy="67.4"/><circle cx="365.7" cy="62.5"/><circle cx="342.4" cy="66.3"/><circle cx="348.8" cy="80.1"/><circle cx="349.3" cy="95.7"/><circle cx="392.3" cy="50.2"/><circle cx="357.2" cy="92.0"/><circle cx="388.1" cy="58.8"/><circle cx="354.7" cy="52.7"/><circle cx="339.8" cy="53.4"/><circle cx="359.7" cy="33.2"/><circle cx="352.3" cy="56.6"/><circle cx="351.5" cy="60.8"/><circle cx="357.1" cy="77.2"/><circle cx="369.1" cy="39.1"/><circle cx="339.6" cy="74.1"/><circle cx="356.3" cy="49.7"/><circle cx="350.5" cy="40.0"/><circle cx="358.6" cy="98.6"/><circle cx="376.0" cy="73.9"/><circle cx="354.5" cy="79.5"/><circle cx="366.4" cy="90.0"/><circle cx="382.9" cy="33.7"/><circle cx="366.7" cy="49.7"/><circle cx="386.6" cy="62.9"/><circle cx="342.7" cy="65.3"/><circle cx="365.3" cy="85.3"/><circle cx="361.6" cy="50.4"/><circle cx="354.5" cy="68.9"/><circle cx="378.6" cy="116.1"/><circle cx="341.9" cy="84.3"/><circle cx="348.7" cy="95.2"/><circle cx="373.6" cy="53.9"/><circle cx="364.9" cy="88.1"/><circle cx="363.4" cy="80.9"/><circle cx="329.5" cy="72.4"/><circle cx="371.0" cy="28.0"/><circle cx="355.8" cy="81.0"/><circle cx="353.6" cy="64.9"/><circle cx="358.1" cy="50.2"/><circle cx="347.8" cy="62.7"/><circle cx="374.8" cy="95.9"/><circle cx="353.3" cy="95.2"/><circle cx="359.8" cy="61.9"/><circle cx="366.4" cy="37.0"/><circle cx="358.8" cy="90.2"/><circle cx="380.7" cy="56.7"/><circle cx="359.3" cy="82.5"/><circle cx="353.9" cy="58.2"/><circle cx="368.6" cy="108.0"/><circle cx="361.8" cy="58.7"/><circle cx="360.0" cy="53.3"/><circle cx="343.2" cy="85.5"/><circle cx="376.3" cy="54.6"/><circle cx="347.3" cy="59.9"/><circle cx="359.7" cy="61.9"/><circle cx="382.6" cy="48.5"/><circle cx="378.7" cy="74.0"/><circle cx="315.5" cy="53.0"/><circle cx="356.9" cy="103.2"/><circle cx="373.0" cy="59.9"/><circle cx="369.1" cy="53.4"/><circle cx="355.4" cy="60.4"/><circle cx="361.4" cy="72.3"/><circle cx="358.7" cy="63.3"/><circle cx="339.7" cy="56.4"/><circle cx="363.0" cy="55.5"/><circle cx="371.3" cy="52.3"/><circle cx="336.1" cy="53.7"/><circle cx="392.0" cy="61.9"/><circle cx="364.7" cy="71.1"/><circle cx="359.6" cy="51.8"/><circle cx="380.2" cy="39.4"/><circle cx="363.5" cy="64.2"/><circle cx="326.7" cy="85.9"/><circle cx="365.5" cy="48.4"/><circle cx="382.1" cy="53.7"/><circle cx="353.8" cy="108.4"/><circle cx="351.2" cy="92.3"/><circle cx="343.4" cy="84.7"/><circle cx="367.7" cy="59.2"/><circle cx="324.3" cy="63.4"/><circle cx="347.0" cy="61.7"/><circle cx="372.7" cy="54.9"/><circle cx="355.1" cy="75.2"/><circle cx="354.8" cy="52.1"/><circle cx="355.1" cy="54.8"/><circle cx="351.3" cy="76.8"/><circle cx="340.4" cy="86.9"/><circle cx="384.9" cy="52.7"/><circle cx="369.9" cy="52.1"/><circle cx="377.4" cy="72.1"/><circle cx="355.2" cy="119.8"/><circle cx="354.0" cy="71.8"/><circle cx="351.4" cy="55.6"/><circle cx="370.5" cy="75.6"/><circle cx="368.0" cy="40.1"/><circle cx="365.0" cy="91.0"/><circle cx="346.9" cy="75.4"/><circle cx="346.1" cy="52.3"/><circle cx="335.8" cy="57.6"/><circle cx="341.7" cy="85.5"/><circle cx="358.0" cy="109.2"/><circle cx="360.3" cy="34.3"/><circle cx="347.5" cy="77.3"/><circle cx="372.0" cy="61.1"/><circle cx="374.4" cy="57.5"/><circle cx="379.1" cy="56.1"/><circle cx="335.5" cy="53.6"/><circle cx="367.1" cy="51.5"/><circle cx="345.2" cy="90.8"/><circle cx="358.8" cy="58.0"/><circle cx="358.1" cy="82.0"/><circle cx="356.4" cy="79.8"/><circle cx="364.0" cy="59.6"/><circle cx="338.7" cy="48.9"/><circle cx="363.7" cy="56.1"/><circle cx="354.7" cy="80.6"/><circle cx="356.2" cy="81.2"/><circle cx="391.1" cy="38.2"/><circle cx="351.5" cy="65.5"/><circle cx="361.8" cy="42.4"/><circle cx="346.4" cy="94.5"/><circle cx="371.9" cy="45.6"/><circle cx="359.0" cy="30.7"/><circle cx="359.5" cy="69.7"/><circle cx="342.0" cy="47.8"/><circle cx="328.8" cy="70.2"/><circle cx="368.1" cy="60.5"/><circle cx="354.6" cy="72.1"/><circle cx="345.5" cy="65.7"/><circle cx="371.8" cy="68.4"/><circle cx="388.0" cy="56.7"/><circle cx="368.7" cy="49.6"/><circle cx="359.1" cy="73.1"/><circle cx="348.1" cy="55.5"/><circle cx="350.2" cy="37.1"/><circle cx="363.9" cy="50.0"/><circle cx="362.1" cy="59.3"/><circle cx="359.3" cy="46.5"/><circle cx="369.4" cy="64.2"/><circle cx="338.3" cy="59.1"/><circle cx="358.7" cy="48.6"/><circle cx="336.9" cy="88.6"/><circle cx="352.7" cy="100.6"/><circle cx="365.6" cy="72.3"/><circle cx="354.6" cy="68.2"/><circle cx="323.1" cy="67.9"/><circle cx="332.0" cy="70.1"/><circle cx="359.0" cy="62.0"/><circle cx="370.8" cy="72.6"/><circle cx="349.0" cy="43.6"/><circle cx="388.3" cy="51.6"/><circle cx="379.9" cy="43.2"/><circle cx="374.0" cy="49.0"/><circle cx="358.9" cy="58.9"/><circle cx="357.0" cy="94.9"/><circle cx="335.5" cy="51.9"/><circle cx="363.6" cy="60.6"/><circle cx="358.8" cy="57.5"/><circle cx="344.6" cy="78.5"/><circle cx="327.7" cy="60.8"/><circle cx="386.6" cy="81.9"/><circle cx="392.7" cy="68.2"/><circle cx="350.1" cy="57.0"/><circle cx="343.5" cy="59.2"/><circle cx="359.7" cy="53.8"/><circle cx="352.7" cy="79.2"/><circle cx="355.9" cy="68.8"/><circle cx="354.2" cy="67.2"/><circle cx="358.4" cy="55.4"/><circle cx="363.8" cy="48.9"/><circle cx="365.1" cy="52.8"/><circle cx="370.6" cy="62.4"/><circle cx="343.3" cy="72.4"/><circle cx="359.6" cy="40.7"/><circle cx="367.2" cy="58.7"/><circle cx="372.0" cy="57.2"/><circle cx="353.0" cy="77.9"/><circle cx="348.1" cy="53.3"/><circle cx="343.8" cy="63.2"/><circle cx="354.0" cy="73.0"/><circle cx="354.7" cy="83.9"/><circle cx="372.0" cy="51.0"/><circle cx="369.7" cy="96.6"/><circle cx="363.5" cy="59.0"/><circle cx="339.2" cy="62.1"/><circle cx="347.8" cy="74.1"/><circle cx="359.7" cy="68.3"/><circle cx="355.4" cy="53.8"/><circle cx="356.8" cy="32.1"/><circle cx="360.3" cy="55.9"/><circle cx="351.5" cy="48.8"/><circle cx="358.0" cy="68.7"/><circle cx="340.2" cy="82.9"/><circle cx="333.9" cy="50.6"/><circle cx="369.2" cy="52.8"/><circle cx="361.0" cy="54.0"/><circle cx="375.2" cy="56.1"/><circle cx="352.9" cy="48.4"/><circle cx="371.4" cy="77.2"/><circle cx="364.4" cy="36.6"/><circle cx="360.6" cy="34.9"/><circle cx="354.4" cy="58.1"/><circle cx="404.7" cy="42.6"/><circle cx="405.5" cy="27.3"/><circle cx="357.9" cy="94.6"/><circle cx="367.7" cy="61.6"/><circle cx="392.6" cy="37.5"/><circle cx="323.9" cy="64.1"/><circle cx="376.2" cy="66.2"/><circle cx="380.1" cy="106.0"/><circle cx="385.2" cy="45.2"/><circle cx="371.0" cy="82.6"/><circle cx="321.3" cy="54.9"/><circle cx="350.8" cy="108.8"/><circle cx="328.6" cy="60.1"/><circle cx="364.6" cy="38.0"/><circle cx="360.4" cy="68.4"/><circle cx="353.0" cy="56.4"/><circle cx="377.9" cy="63.2"/><circle cx="355.0" cy="47.2"/><circle cx="352.2" cy="90.4"/><circle cx="386.0" cy="25.7"/><circle cx="353.6" cy="47.4"/><circle cx="360.1" cy="55.4"/><circle cx="350.0" cy="85.4"/><circle cx="336.4" cy="59.7"/><circle cx="337.5" cy="66.4"/><circle cx="400.7" cy="52.6"/><circle cx="368.0" cy="48.7"/><circle cx="357.9" cy="105.6"/><circle cx="342.6" cy="55.8"/><circle cx="364.0" cy="70.8"/><circle cx="368.5" cy="80.4"/><circle cx="344.7" cy="103.6"/><circle cx="349.3" cy="53.6"/><circle cx="367.4" cy="44.6"/><circle cx="350.9" cy="79.2"/><circle cx="308.1" cy="57.4"/><circle cx="351.4" cy="41.6"/><circle cx="366.9" cy="68.9"/><circle cx="343.4" cy="65.6"/><circle cx="349.8" cy="54.1"/><circle cx="389.8" cy="25.8"/><circle cx="361.9" cy="55.5"/><circle cx="342.9" cy="49.3"/><circle cx="339.6" cy="53.9"/><circle cx="365.4" cy="71.2"/><circle cx="368.8" cy="48.7"/><circle cx="335.9" cy="68.2"/><circle cx="331.0" cy="48.1"/><circle cx="359.6" cy="57.3"/><circle cx="351.0" cy="84.0"/><circle cx="369.3" cy="82.0"/><circle cx="320.5" cy="55.9"/><circle cx="348.7" cy="55.2"/><circle cx="345.5" cy="62.9"/><circle cx="351.9" cy="77.2"/><circle cx="350.3" cy="51.5"/><circle cx="359.2" cy="49.2"/><circle cx="360.0" cy="44.7"/><circle cx="333.3" cy="47.4"/><circle cx="351.8" cy="46.2"/><circle cx="367.2" cy="99.0"/><circle cx="362.9" cy="38.8"/><circle cx="355.6" cy="86.2"/><circle cx="346.0" cy="68.6"/><circle cx="377.1" cy="27.9"/><circle cx="350.5" cy="55.9"/><circle cx="352.8" cy="75.1"/><circle cx="343.9" cy="60.8"/><circle cx="322.3" cy="51.5"/><circle cx="383.3" cy="73.2"/><circle cx="355.3" cy="56.8"/><circle cx="356.6" cy="43.6"/><circle cx="343.3" cy="68.5"/><circle cx="367.3" cy="73.9"/><circle cx="325.7" cy="58.2"/><circle cx="355.3" cy="48.3"/><circle cx="364.3" cy="69.7"/><circle cx="363.7" cy="70.2"/><circle cx="346.8" cy="55.7"/><circle cx="331.7" cy="61.6"/><circle cx="357.2" cy="79.3"/><circle cx="316.0" cy="44.7"/><circle cx="331.2" cy="59.3"/><circle cx="363.7" cy="40.4"/><circle cx="384.5" cy="52.7"/><circle cx="347.9" cy="73.1"/><circle cx="354.7" cy="69.7"/><circle cx="334.9" cy="60.1"/><circle cx="365.5" cy="83.9"/><circle cx="371.7" cy="29.4"/><circle cx="359.2" cy="92.9"/><circle cx="367.5" cy="67.4"/><circle cx="356.0" cy="81.5"/><circle cx="361.4" cy="47.7"/><circle cx="361.2" cy="49.3"/><circle cx="371.0" cy="42.2"/><circle cx="389.9" cy="47.8"/><circle cx="366.5" cy="73.2"/><circle cx="358.6" cy="57.3"/><circle cx="340.9" cy="82.4"/><circle cx="360.2" cy="49.8"/><circle cx="356.7" cy="66.4"/><circle cx="375.1" cy="83.7"/><circle cx="353.6" cy="58.6"/><circle cx="366.1" cy="78.5"/><circle cx="333.3" cy="59.6"/><circle cx="385.5" cy="59.7"/><circle cx="393.4" cy="53.5"/><circle cx="360.0" cy="49.1"/><circle cx="366.3" cy="55.2"/><circle cx="340.0" cy="68.2"/><circle cx="367.9" cy="90.3"/><circle cx="366.7" cy="60.8"/><circle cx="377.8" cy="59.7"/><circle cx="374.5" cy="51.9"/><circle cx="361.7" cy="78.0"/><circle cx="368.9" cy="53.7"/><circle cx="350.8" cy="109.4"/><circle cx="384.0" cy="31.7"/><circle cx="344.9" cy="69.3"/><circle cx="364.7" cy="46.0"/><circle cx="371.0" cy="45.8"/><circle cx="373.3" cy="59.9"/><circle cx="346.1" cy="78.2"/><circle cx="367.4" cy="67.9"/><circle cx="356.3" cy="71.1"/><circle cx="314.0" cy="66.8"/><circle cx="377.1" cy="75.9"/><circle cx="389.3" cy="83.7"/><circle cx="354.6" cy="61.3"/><circle cx="349.3" cy="71.4"/><circle cx="353.5" cy="56.0"/><circle cx="358.7" cy="50.5"/><circle cx="370.0" cy="74.3"/><circle cx="369.0" cy="72.8"/><circle cx="351.9" cy="66.6"/><circle cx="338.2" cy="68.6"/><circle cx="347.5" cy="60.7"/><circle cx="344.1" cy="86.1"/><circle cx="344.0" cy="79.0"/><circle cx="329.2" cy="48.4"/><circle cx="368.0" cy="41.6"/><circle cx="350.0" cy="69.4"/><circle cx="366.2" cy="52.6"/><circle cx="333.9" cy="77.4"/><circle cx="340.2" cy="39.2"/><circle cx="347.8" cy="58.1"/><circle cx="348.3" cy="64.7"/><circle cx="350.7" cy="98.2"/><circle cx="366.1" cy="110.7"/><circle cx="368.5" cy="53.7"/><circle cx="335.6" cy="53.4"/><circle cx="347.9" cy="72.2"/><circle cx="362.6" cy="61.5"/><circle cx="365.4" cy="45.3"/><circle cx="372.9" cy="79.6"/><circle cx="325.5" cy="65.5"/><circle cx="319.9" cy="81.4"/><circle cx="345.1" cy="76.9"/><circle cx="370.6" cy="55.1"/><circle cx="355.8" cy="60.7"/><circle cx="362.2" cy="57.7"/><circle cx="385.3" cy="43.5"/><circle cx="340.2" cy="45.3"/><circle cx="368.9" cy="49.3"/><circle cx="353.2" cy="60.4"/><circle cx="326.3" cy="57.3"/><circle cx="371.9" cy="64.3"/><circle cx="365.6" cy="48.3"/><circle cx="343.1" cy="59.9"/><circle cx="347.9" cy="74.4"/><circle cx="344.0" cy="65.3"/><circle cx="358.4" cy="84.5"/><circle cx="360.9" cy="58.2"/><circle cx="377.0" cy="49.7"/><circle cx="368.3" cy="66.3"/><circle cx="353.2" cy="37.2"/><circle cx="353.6" cy="61.7"/><circle cx="375.0" cy="124.5"/><circle cx="357.7" cy="89.9"/><circle cx="374.0" cy="38.5"/><circle cx="379.0" cy="34.6"/><circle cx="368.3" cy="73.2"/><circle cx="352.7" cy="77.4"/><circle cx="361.4" cy="93.2"/><circle cx="349.2" cy="88.0"/><circle cx="362.2" cy="76.4"/><circle cx="355.1" cy="49.6"/><circle cx="356.9" cy="50.6"/><circle cx="351.4" cy="60.0"/><circle cx="378.5" cy="28.7"/><circle cx="358.4" cy="29.1"/><circle cx="371.1" cy="46.1"/><circle cx="336.8" cy="42.6"/><circle cx="361.3" cy="53.9"/><circle cx="389.1" cy="47.8"/><circle cx="358.0" cy="52.4"/><circle cx="354.0" cy="68.0"/><circle cx="345.8" cy="69.4"/><circle cx="370.0" cy="81.2"/><circle cx="363.1" cy="84.1"/><circle cx="346.6" cy="64.6"/><circle cx="365.1" cy="54.7"/><circle cx="354.9" cy="39.4"/><circle cx="361.0" cy="44.4"/><circle cx="350.5" cy="52.4"/><circle cx="376.8" cy="79.4"/><circle cx="357.5" cy="86.7"/><circle cx="358.6" cy="78.4"/><circle cx="378.4" cy="62.0"/><circle cx="378.5" cy="48.0"/><circle cx="384.0" cy="46.9"/><circle cx="367.6" cy="57.3"/><circle cx="400.2" cy="40.0"/><circle cx="380.5" cy="63.4"/><circle cx="345.9" cy="84.3"/><circle cx="374.0" cy="64.8"/><circle cx="376.8" cy="47.6"/><circle cx="359.9" cy="33.4"/><circle cx="391.7" cy="62.3"/><circle cx="350.3" cy="52.3"/><circle cx="351.4" cy="80.1"/><circle cx="373.4" cy="56.4"/><circle cx="357.6" cy="42.9"/><circle cx="356.0" cy="30.1"/><circle cx="344.9" cy="52.9"/><circle cx="350.3" cy="49.1"/><circle cx="369.0" cy="60.2"/><circle cx="318.8" cy="49.5"/><circle cx="376.1" cy="51.1"/><circle cx="371.2" cy="42.1"/><circle cx="360.8" cy="48.8"/><circle cx="378.4" cy="54.2"/><circle cx="343.1" cy="65.9"/><circle cx="366.6" cy="53.7"/><circle cx="347.3" cy="66.0"/><circle cx="345.5" cy="96.5"/><circle cx="343.5" cy="47.9"/><circle cx="370.1" cy="51.7"/><circle cx="361.6" cy="62.9"/><circle cx="365.3" cy="52.5"/><circle cx="363.3" cy="45.3"/><circle cx="355.0" cy="76.0"/><circle cx="345.1" cy="65.4"/><circle cx="385.5" cy="45.2"/><circle cx="357.1" cy="82.3"/><circle cx="339.5" cy="62.6"/><circle cx="360.5" cy="44.8"/><circle cx="361.5" cy="63.9"/><circle cx="363.4" cy="50.5"/><circle cx="363.8" cy="55.2"/><circle cx="367.2" cy="101.8"/><circle cx="341.0" cy="113.0"/><circle cx="351.5" cy="66.2"/><circle cx="346.0" cy="69.9"/><circle cx="375.6" cy="47.4"/><circle cx="353.0" cy="53.3"/><circle cx="343.6" cy="62.2"/><circle cx="404.0" cy="45.4"/><circle cx="362.2" cy="54.6"/><circle cx="345.7" cy="88.4"/><circle cx="367.8" cy="46.2"/><circle cx="369.2" cy="43.5"/><circle cx="383.2" cy="44.9"/><circle cx="385.3" cy="52.4"/><circle cx="368.2" cy="34.9"/><circle cx="371.9" cy="36.1"/><circle cx="371.0" cy="59.6"/><circle cx="358.1" cy="52.5"/><circle cx="366.3" cy="57.9"/><circle cx="366.3" cy="73.4"/><circle cx="366.6" cy="40.5"/><circle cx="349.1" cy="65.3"/><circle cx="341.5" cy="88.9"/><circle cx="380.0" cy="104.8"/><circle cx="347.6" cy="68.0"/><circle cx="348.8" cy="70.9"/><circle cx="369.0" cy="72.6"/><circle cx="319.0" cy="65.0"/><circle cx="392.2" cy="46.4"/><circle cx="360.2" cy="73.1"/><circle cx="380.1" cy="55.7"/><circle cx="329.0" cy="64.4"/><circle cx="342.7" cy="55.4"/><circle cx="348.8" cy="48.1"/><circle cx="354.2" cy="72.1"/><circle cx="370.5" cy="39.7"/><circle cx="368.4" cy="64.4"/><circle cx="371.4" cy="66.0"/><circle cx="344.8" cy="67.5"/><circle cx="359.7" cy="55.7"/><circle cx="362.7" cy="62.4"/><circle cx="393.8" cy="55.7"/><circle cx="360.8" cy="46.3"/><circle cx="344.2" cy="57.9"/><circle cx="372.1" cy="48.5"/><circle cx="374.0" cy="50.4"/><circle cx="382.5" cy="56.6"/><circle cx="376.1" cy="42.8"/><circle cx="386.4" cy="67.5"/><circle cx="348.9" cy="84.6"/><circle cx="354.6" cy="35.7"/><circle cx="360.3" cy="51.4"/><circle cx="358.7" cy="62.5"/><circle cx="385.5" cy="41.7"/><circle cx="371.6" cy="60.9"/><circle cx="358.0" cy="62.0"/><circle cx="376.3" cy="53.8"/><circle cx="351.8" cy="83.4"/><circle cx="325.1" cy="91.9"/><circle cx="345.7" cy="62.9"/><circle cx="348.1" cy="83.5"/><circle cx="351.5" cy="73.5"/><circle cx="319.9" cy="64.5"/><circle cx="360.9" cy="99.9"/><circle cx="360.4" cy="44.2"/><circle cx="345.2" cy="77.2"/><circle cx="362.8" cy="58.3"/><circle cx="347.6" cy="67.2"/><circle cx="355.9" cy="69.4"/><circle cx="348.1" cy="66.2"/><circle cx="356.3" cy="66.6"/><circle cx="382.2" cy="43.9"/><circle cx="358.2" cy="84.2"/><circle cx="355.3" cy="66.0"/><circle cx="346.2" cy="88.0"/><circle cx="361.1" cy="55.1"/><circle cx="351.5" cy="76.8"/><circle cx="368.2" cy="91.0"/>
</g>
<path d="M305.2 76.8 L309.7 75.8 L314.1 74.8 L318.6 73.8 L323.1 72.7 L327.5 71.7 L332.0 70.7 L336.5 69.6 L340.9 68.6 L345.4 67.5 L349.9 66.4 L354.3 65.2 L358.8 64.0 L363.3 62.7 L367.7 61.4 L372.2 60.0 L376.7 58.6 L381.1 57.1 L385.6 55.6 L390.1 54.1 L394.5 52.6 L399.0 51.1 L403.5 49.6 L407.9 48.1 L412.4 46.6 L412.4 53.2 L407.9 54.2 L403.5 55.2 L399.0 56.3 L394.5 57.3 L390.1 58.3 L385.6 59.4 L381.1 60.4 L376.7 61.5 L372.2 62.6 L367.7 63.7 L363.3 64.9 L358.8 66.2 L354.3 67.5 L349.9 68.9 L345.4 70.3 L340.9 71.8 L336.5 73.3 L332.0 74.7 L327.5 76.2 L323.1 77.7 L318.6 79.2 L314.1 80.8 L309.7 82.3 L305.2 83.8 Z" fill="#999" fill-opacity="0.45"/>
<line x1="305.2" y1="80.3" x2="412.4" y2="49.9" stroke="#000" stroke-width="1.6"/>
<rect x="299.6" y="3.0" width="117.7" height="141.4" fill="none" stroke="#505050" stroke-width="1"/>
<line x1="326.7" y1="144.4" x2="326.7" y2="142.4" stroke="#333" stroke-width="0.8"/>
<text class="tk" transform="translate(326.70,151.60) scale(1,1.080)" text-anchor="middle">−2</text>
<line x1="356.7" y1="144.4" x2="356.7" y2="142.4" stroke="#333" stroke-width="0.8"/>
<text class="tk" transform="translate(356.70,151.60) scale(1,1.080)" text-anchor="middle">0</text>
<line x1="386.7" y1="144.4" x2="386.7" y2="142.4" stroke="#333" stroke-width="0.8"/>
<text class="tk" transform="translate(386.70,151.60) scale(1,1.080)" text-anchor="middle">2</text>
<line x1="416.7" y1="144.4" x2="416.7" y2="142.4" stroke="#333" stroke-width="0.8"/>
<text class="tk" transform="translate(416.70,151.60) scale(1,1.080)" text-anchor="middle">4</text>
<line x1="299.6" y1="20.3" x2="301.6" y2="20.3" stroke="#333" stroke-width="0.8"/>
<text class="tk" transform="translate(298.00,22.60) scale(1,1.080)" text-anchor="end">2</text>
<line x1="299.6" y1="43.0" x2="301.6" y2="43.0" stroke="#333" stroke-width="0.8"/>
<text class="tk" transform="translate(298.00,45.35) scale(1,1.080)" text-anchor="end">1</text>
<line x1="299.6" y1="65.8" x2="301.6" y2="65.8" stroke="#333" stroke-width="0.8"/>
<text class="tk" transform="translate(298.00,68.10) scale(1,1.080)" text-anchor="end">0</text>
<line x1="299.6" y1="88.5" x2="301.6" y2="88.5" stroke="#333" stroke-width="0.8"/>
<text class="tk" transform="translate(298.00,90.85) scale(1,1.080)" text-anchor="end">−1</text>
<line x1="299.6" y1="111.3" x2="301.6" y2="111.3" stroke="#333" stroke-width="0.8"/>
<text class="tk" transform="translate(298.00,113.60) scale(1,1.080)" text-anchor="end">−2</text>
<line x1="299.6" y1="134.1" x2="301.6" y2="134.1" stroke="#333" stroke-width="0.8"/>
<text class="tk" transform="translate(298.00,136.35) scale(1,1.080)" text-anchor="end">−3</text>
<g class="t">
<circle cx="469.7" cy="81.0"/><circle cx="486.5" cy="57.6"/><circle cx="487.4" cy="43.8"/><circle cx="474.2" cy="107.6"/><circle cx="490.4" cy="41.8"/><circle cx="482.1" cy="71.9"/><circle cx="495.6" cy="78.2"/><circle cx="474.6" cy="64.1"/><circle cx="498.0" cy="25.0"/><circle cx="474.1" cy="39.5"/><circle cx="497.7" cy="46.8"/><circle cx="482.7" cy="60.7"/><circle cx="500.8" cy="68.4"/><circle cx="497.2" cy="68.5"/><circle cx="512.7" cy="46.4"/><circle cx="480.5" cy="52.8"/><circle cx="469.8" cy="88.4"/><circle cx="522.5" cy="48.1"/><circle cx="477.3" cy="97.8"/><circle cx="469.4" cy="98.9"/><circle cx="501.8" cy="54.1"/><circle cx="503.0" cy="47.1"/><circle cx="459.2" cy="108.5"/><circle cx="472.6" cy="84.6"/><circle cx="467.7" cy="94.4"/><circle cx="477.6" cy="56.8"/><circle cx="470.3" cy="68.8"/><circle cx="460.9" cy="99.2"/><circle cx="487.9" cy="60.9"/><circle cx="485.1" cy="54.5"/><circle cx="498.6" cy="49.5"/><circle cx="459.6" cy="104.8"/><circle cx="490.1" cy="55.5"/><circle cx="467.6" cy="76.5"/><circle cx="468.3" cy="83.4"/><circle cx="474.3" cy="75.0"/><circle cx="469.1" cy="87.2"/><circle cx="487.3" cy="55.2"/><circle cx="482.0" cy="119.9"/><circle cx="488.2" cy="57.5"/><circle cx="467.3" cy="89.6"/><circle cx="534.2" cy="41.7"/><circle cx="479.8" cy="94.6"/><circle cx="493.5" cy="63.7"/><circle cx="462.9" cy="55.0"/><circle cx="488.8" cy="54.4"/><circle cx="505.0" cy="50.3"/><circle cx="466.9" cy="101.4"/><circle cx="483.0" cy="64.2"/><circle cx="500.4" cy="49.5"/><circle cx="479.0" cy="77.7"/><circle cx="473.3" cy="119.1"/><circle cx="472.6" cy="100.4"/><circle cx="477.0" cy="30.5"/><circle cx="449.9" cy="94.4"/><circle cx="477.2" cy="64.4"/><circle cx="497.4" cy="60.6"/><circle cx="479.6" cy="90.3"/><circle cx="491.8" cy="42.6"/><circle cx="474.7" cy="100.7"/><circle cx="470.4" cy="99.6"/><circle cx="478.0" cy="79.9"/><circle cx="480.8" cy="90.4"/><circle cx="480.1" cy="91.6"/><circle cx="478.6" cy="63.9"/><circle cx="474.7" cy="102.2"/><circle cx="512.4" cy="53.6"/><circle cx="456.7" cy="31.1"/><circle cx="467.1" cy="84.5"/><circle cx="495.2" cy="40.0"/><circle cx="476.6" cy="113.8"/><circle cx="496.5" cy="45.5"/><circle cx="499.9" cy="46.2"/><circle cx="456.6" cy="93.0"/><circle cx="482.8" cy="76.2"/><circle cx="484.5" cy="66.2"/><circle cx="515.8" cy="41.7"/><circle cx="478.2" cy="74.6"/><circle cx="510.0" cy="29.4"/><circle cx="507.8" cy="51.1"/><circle cx="483.9" cy="42.6"/><circle cx="477.3" cy="80.8"/><circle cx="493.9" cy="56.3"/><circle cx="460.5" cy="36.7"/><circle cx="477.5" cy="43.8"/><circle cx="505.3" cy="48.7"/><circle cx="481.8" cy="60.3"/><circle cx="475.4" cy="79.3"/><circle cx="528.7" cy="48.4"/><circle cx="460.3" cy="73.9"/><circle cx="534.6" cy="49.1"/><circle cx="469.7" cy="85.3"/><circle cx="472.3" cy="88.7"/><circle cx="482.7" cy="109.2"/><circle cx="476.0" cy="67.7"/><circle cx="484.8" cy="61.3"/><circle cx="463.9" cy="125.6"/><circle cx="478.1" cy="87.6"/><circle cx="490.7" cy="87.2"/><circle cx="467.3" cy="64.0"/><circle cx="526.6" cy="59.8"/><circle cx="500.3" cy="47.2"/><circle cx="489.6" cy="99.9"/><circle cx="481.6" cy="90.8"/><circle cx="513.9" cy="44.9"/><circle cx="455.2" cy="69.9"/><circle cx="530.0" cy="62.5"/><circle cx="476.4" cy="53.1"/><circle cx="484.2" cy="81.8"/><circle cx="473.2" cy="39.9"/><circle cx="479.9" cy="75.4"/><circle cx="466.7" cy="42.9"/><circle cx="492.2" cy="50.6"/><circle cx="458.5" cy="74.6"/><circle cx="466.7" cy="84.3"/><circle cx="515.8" cy="46.3"/><circle cx="520.7" cy="40.1"/><circle cx="476.0" cy="68.9"/><circle cx="465.0" cy="96.8"/><circle cx="491.9" cy="85.7"/><circle cx="520.1" cy="44.6"/><circle cx="473.6" cy="100.1"/><circle cx="476.6" cy="35.1"/><circle cx="474.5" cy="48.0"/><circle cx="475.5" cy="93.5"/><circle cx="457.1" cy="58.5"/><circle cx="459.4" cy="69.4"/><circle cx="471.3" cy="79.2"/><circle cx="512.5" cy="65.0"/><circle cx="480.5" cy="80.2"/><circle cx="458.0" cy="83.9"/><circle cx="494.6" cy="48.3"/><circle cx="503.6" cy="56.6"/><circle cx="498.3" cy="58.3"/><circle cx="504.0" cy="52.8"/><circle cx="485.6" cy="67.2"/><circle cx="468.0" cy="26.9"/><circle cx="489.1" cy="53.9"/><circle cx="496.5" cy="49.6"/><circle cx="501.4" cy="41.6"/><circle cx="472.8" cy="105.8"/><circle cx="508.3" cy="62.4"/><circle cx="488.6" cy="53.1"/><circle cx="460.1" cy="60.3"/><circle cx="497.1" cy="45.1"/><circle cx="471.6" cy="81.1"/><circle cx="493.3" cy="80.0"/><circle cx="509.2" cy="56.0"/><circle cx="446.4" cy="62.7"/><circle cx="525.6" cy="29.9"/><circle cx="485.2" cy="46.2"/><circle cx="503.8" cy="62.4"/><circle cx="474.1" cy="97.4"/><circle cx="483.3" cy="64.5"/><circle cx="490.4" cy="43.3"/><circle cx="470.9" cy="83.7"/><circle cx="464.4" cy="58.3"/><circle cx="477.3" cy="93.4"/><circle cx="466.9" cy="92.6"/><circle cx="466.8" cy="74.4"/><circle cx="479.5" cy="59.2"/><circle cx="477.8" cy="64.4"/><circle cx="452.1" cy="60.3"/><circle cx="503.3" cy="63.7"/><circle cx="513.6" cy="55.2"/><circle cx="513.0" cy="60.7"/><circle cx="488.9" cy="51.2"/><circle cx="456.2" cy="87.5"/><circle cx="456.8" cy="96.2"/><circle cx="502.1" cy="54.4"/><circle cx="478.9" cy="49.5"/><circle cx="467.7" cy="50.6"/><circle cx="463.1" cy="97.7"/><circle cx="501.3" cy="35.0"/><circle cx="490.7" cy="40.3"/><circle cx="494.0" cy="72.4"/><circle cx="495.2" cy="68.1"/><circle cx="511.2" cy="40.0"/><circle cx="531.0" cy="60.6"/><circle cx="468.9" cy="77.5"/><circle cx="462.0" cy="68.1"/><circle cx="495.0" cy="88.4"/><circle cx="473.4" cy="104.3"/><circle cx="497.9" cy="62.8"/><circle cx="521.6" cy="61.6"/><circle cx="484.9" cy="41.8"/><circle cx="484.1" cy="63.0"/><circle cx="498.0" cy="31.3"/><circle cx="475.0" cy="64.5"/><circle cx="468.8" cy="87.7"/><circle cx="492.6" cy="31.5"/><circle cx="496.0" cy="48.3"/><circle cx="470.9" cy="80.1"/><circle cx="475.6" cy="63.8"/><circle cx="451.7" cy="90.8"/><circle cx="473.2" cy="61.2"/><circle cx="526.7" cy="63.4"/><circle cx="490.6" cy="45.7"/><circle cx="470.5" cy="69.0"/><circle cx="504.0" cy="44.5"/><circle cx="482.4" cy="54.6"/><circle cx="487.7" cy="101.3"/><circle cx="503.8" cy="47.7"/><circle cx="482.2" cy="97.1"/><circle cx="504.6" cy="48.9"/><circle cx="476.3" cy="46.8"/><circle cx="479.4" cy="88.8"/><circle cx="467.2" cy="68.1"/><circle cx="456.9" cy="87.9"/><circle cx="483.0" cy="76.9"/><circle cx="531.8" cy="33.9"/><circle cx="510.8" cy="41.6"/><circle cx="497.1" cy="56.0"/><circle cx="478.5" cy="96.6"/><circle cx="457.9" cy="71.0"/><circle cx="478.5" cy="70.3"/><circle cx="492.1" cy="46.9"/><circle cx="476.1" cy="51.8"/><circle cx="459.9" cy="59.6"/><circle cx="493.1" cy="45.4"/><circle cx="471.2" cy="79.1"/><circle cx="454.1" cy="77.3"/><circle cx="459.8" cy="96.6"/><circle cx="485.5" cy="53.8"/><circle cx="473.6" cy="94.2"/><circle cx="509.1" cy="51.9"/><circle cx="524.6" cy="56.4"/><circle cx="482.8" cy="81.5"/><circle cx="492.6" cy="51.5"/><circle cx="503.9" cy="51.8"/><circle cx="473.7" cy="71.0"/><circle cx="490.6" cy="56.0"/><circle cx="506.0" cy="49.3"/><circle cx="490.7" cy="61.6"/><circle cx="489.7" cy="64.4"/><circle cx="467.4" cy="95.8"/><circle cx="468.0" cy="91.3"/><circle cx="469.5" cy="77.5"/><circle cx="506.1" cy="40.1"/><circle cx="490.4" cy="48.3"/><circle cx="459.3" cy="93.9"/><circle cx="514.9" cy="63.3"/><circle cx="500.5" cy="47.5"/><circle cx="509.3" cy="30.9"/><circle cx="485.8" cy="41.8"/><circle cx="481.2" cy="68.5"/><circle cx="476.9" cy="41.0"/><circle cx="488.2" cy="83.0"/><circle cx="458.9" cy="87.4"/><circle cx="494.4" cy="56.9"/><circle cx="493.6" cy="52.4"/><circle cx="501.4" cy="52.8"/><circle cx="493.5" cy="63.1"/><circle cx="511.1" cy="30.7"/><circle cx="493.5" cy="83.6"/><circle cx="489.8" cy="52.9"/><circle cx="466.3" cy="95.7"/><circle cx="465.5" cy="31.6"/><circle cx="471.1" cy="82.6"/><circle cx="468.9" cy="116.8"/><circle cx="501.2" cy="49.4"/><circle cx="488.1" cy="79.6"/><circle cx="474.3" cy="84.2"/><circle cx="463.8" cy="93.6"/><circle cx="471.5" cy="49.7"/><circle cx="464.6" cy="75.3"/><circle cx="478.3" cy="42.2"/><circle cx="495.2" cy="38.4"/><circle cx="511.5" cy="41.5"/><circle cx="496.7" cy="37.3"/><circle cx="481.7" cy="56.8"/><circle cx="490.5" cy="57.1"/><circle cx="478.5" cy="35.2"/><circle cx="464.7" cy="102.6"/><circle cx="503.2" cy="33.7"/><circle cx="514.2" cy="41.5"/><circle cx="478.0" cy="94.1"/><circle cx="476.0" cy="73.6"/><circle cx="487.7" cy="60.7"/><circle cx="481.7" cy="84.8"/><circle cx="460.5" cy="76.9"/><circle cx="498.0" cy="49.7"/><circle cx="469.5" cy="47.8"/><circle cx="468.4" cy="83.4"/><circle cx="502.2" cy="43.3"/><circle cx="471.3" cy="80.0"/><circle cx="461.4" cy="92.1"/><circle cx="479.9" cy="62.3"/><circle cx="487.6" cy="62.1"/><circle cx="491.5" cy="64.3"/><circle cx="482.3" cy="32.1"/><circle cx="479.7" cy="105.1"/><circle cx="467.8" cy="132.5"/><circle cx="487.3" cy="56.6"/><circle cx="462.4" cy="112.8"/><circle cx="484.4" cy="90.4"/><circle cx="488.1" cy="48.0"/><circle cx="494.0" cy="62.1"/><circle cx="472.5" cy="60.7"/><circle cx="499.8" cy="24.4"/><circle cx="478.9" cy="94.8"/><circle cx="478.5" cy="78.3"/><circle cx="480.5" cy="55.6"/><circle cx="488.7" cy="84.4"/><circle cx="507.3" cy="49.6"/><circle cx="470.1" cy="72.2"/><circle cx="473.2" cy="51.7"/><circle cx="486.7" cy="77.0"/><circle cx="483.0" cy="73.0"/><circle cx="482.3" cy="51.6"/><circle cx="466.5" cy="82.9"/><circle cx="495.6" cy="89.2"/><circle cx="491.8" cy="62.9"/><circle cx="459.4" cy="54.8"/><circle cx="501.6" cy="46.0"/><circle cx="473.8" cy="63.6"/><circle cx="465.0" cy="62.1"/><circle cx="489.4" cy="74.8"/><circle cx="476.8" cy="50.3"/><circle cx="494.8" cy="60.8"/><circle cx="481.6" cy="46.4"/><circle cx="489.0" cy="101.7"/><circle cx="511.6" cy="41.5"/><circle cx="479.3" cy="79.9"/><circle cx="483.3" cy="52.2"/><circle cx="505.9" cy="64.8"/><circle cx="482.7" cy="71.5"/><circle cx="486.8" cy="79.1"/><circle cx="468.5" cy="82.5"/><circle cx="475.5" cy="68.1"/><circle cx="453.9" cy="57.7"/><circle cx="489.8" cy="44.0"/><circle cx="511.2" cy="45.0"/><circle cx="501.1" cy="39.0"/><circle cx="498.3" cy="57.0"/><circle cx="471.5" cy="95.4"/><circle cx="447.6" cy="96.4"/><circle cx="495.5" cy="53.9"/><circle cx="465.0" cy="53.5"/><circle cx="501.1" cy="42.1"/><circle cx="517.6" cy="28.0"/><circle cx="524.9" cy="35.8"/><circle cx="486.7" cy="50.5"/><circle cx="498.4" cy="64.3"/><circle cx="483.8" cy="61.7"/><circle cx="473.0" cy="79.1"/><circle cx="488.1" cy="56.1"/><circle cx="462.6" cy="79.3"/><circle cx="481.4" cy="97.3"/><circle cx="490.5" cy="57.1"/><circle cx="495.9" cy="57.4"/><circle cx="490.0" cy="46.0"/><circle cx="483.0" cy="82.1"/><circle cx="474.8" cy="95.3"/><circle cx="501.7" cy="40.5"/><circle cx="489.0" cy="77.3"/><circle cx="518.7" cy="41.8"/><circle cx="472.8" cy="84.7"/><circle cx="482.5" cy="71.1"/><circle cx="499.8" cy="43.0"/><circle cx="475.7" cy="60.9"/><circle cx="487.1" cy="56.1"/><circle cx="499.5" cy="45.9"/><circle cx="475.3" cy="80.3"/><circle cx="510.2" cy="40.2"/><circle cx="452.8" cy="78.1"/><circle cx="481.9" cy="43.2"/><circle cx="474.8" cy="101.6"/><circle cx="509.4" cy="41.1"/><circle cx="488.1" cy="58.0"/><circle cx="499.8" cy="27.9"/><circle cx="473.4" cy="82.9"/><circle cx="464.7" cy="74.4"/><circle cx="508.1" cy="43.0"/><circle cx="469.8" cy="63.2"/><circle cx="505.8" cy="62.4"/><circle cx="475.5" cy="83.5"/><circle cx="469.1" cy="92.4"/><circle cx="497.0" cy="47.1"/><circle cx="470.0" cy="85.2"/><circle cx="489.4" cy="63.9"/><circle cx="499.1" cy="97.8"/><circle cx="455.1" cy="95.7"/><circle cx="500.7" cy="42.9"/><circle cx="503.5" cy="63.7"/><circle cx="511.1" cy="26.2"/><circle cx="467.9" cy="95.8"/><circle cx="494.9" cy="49.2"/><circle cx="475.4" cy="92.6"/><circle cx="490.7" cy="53.2"/><circle cx="477.1" cy="97.7"/><circle cx="476.8" cy="95.7"/><circle cx="483.8" cy="53.3"/><circle cx="475.6" cy="86.9"/><circle cx="454.8" cy="84.8"/><circle cx="519.4" cy="61.4"/><circle cx="532.5" cy="38.2"/><circle cx="485.0" cy="52.2"/><circle cx="480.0" cy="40.2"/><circle cx="474.0" cy="67.1"/><circle cx="486.8" cy="33.8"/><circle cx="468.2" cy="83.6"/><circle cx="469.9" cy="84.9"/><circle cx="482.5" cy="53.6"/><circle cx="486.9" cy="36.9"/><circle cx="471.7" cy="98.8"/><circle cx="468.7" cy="57.5"/><circle cx="497.1" cy="37.0"/><circle cx="502.1" cy="54.0"/><circle cx="490.8" cy="31.3"/><circle cx="510.5" cy="45.4"/><circle cx="498.8" cy="39.0"/><circle cx="493.6" cy="56.2"/><circle cx="482.5" cy="65.4"/><circle cx="461.1" cy="88.8"/><circle cx="478.2" cy="82.4"/><circle cx="492.4" cy="44.0"/><circle cx="469.1" cy="97.9"/><circle cx="481.5" cy="67.1"/><circle cx="498.6" cy="60.2"/><circle cx="473.1" cy="75.7"/><circle cx="489.5" cy="90.8"/><circle cx="481.5" cy="55.4"/><circle cx="469.1" cy="87.2"/><circle cx="530.2" cy="59.1"/><circle cx="483.1" cy="77.9"/><circle cx="486.8" cy="67.2"/><circle cx="528.7" cy="46.6"/><circle cx="468.2" cy="84.5"/><circle cx="476.6" cy="84.3"/><circle cx="533.9" cy="54.7"/><circle cx="509.9" cy="44.0"/><circle cx="485.2" cy="42.1"/><circle cx="518.0" cy="46.9"/><circle cx="485.8" cy="51.1"/><circle cx="476.1" cy="50.2"/><circle cx="523.6" cy="40.0"/><circle cx="475.3" cy="95.5"/><circle cx="488.8" cy="53.3"/><circle cx="493.0" cy="52.9"/><circle cx="448.8" cy="86.8"/><circle cx="500.0" cy="40.5"/><circle cx="508.5" cy="63.5"/><circle cx="457.5" cy="86.6"/><circle cx="491.2" cy="66.3"/><circle cx="489.3" cy="66.4"/><circle cx="492.7" cy="36.5"/><circle cx="478.7" cy="84.5"/><circle cx="470.0" cy="68.6"/><circle cx="487.9" cy="85.6"/><circle cx="524.2" cy="50.6"/><circle cx="507.8" cy="35.7"/><circle cx="479.1" cy="43.8"/><circle cx="486.9" cy="34.9"/><circle cx="500.0" cy="46.2"/><circle cx="506.9" cy="48.8"/><circle cx="481.4" cy="87.5"/><circle cx="449.1" cy="90.7"/><circle cx="475.2" cy="106.8"/><circle cx="488.8" cy="53.5"/><circle cx="484.4" cy="59.7"/><circle cx="475.8" cy="89.0"/><circle cx="513.2" cy="51.0"/><circle cx="503.0" cy="42.1"/><circle cx="482.1" cy="73.9"/><circle cx="497.6" cy="58.0"/><circle cx="483.0" cy="87.0"/><circle cx="468.6" cy="34.3"/><circle cx="486.9" cy="62.0"/><circle cx="501.7" cy="54.5"/><circle cx="496.8" cy="63.8"/><circle cx="508.0" cy="49.3"/><circle cx="495.2" cy="51.0"/><circle cx="473.1" cy="60.4"/><circle cx="519.2" cy="43.5"/><circle cx="511.0" cy="50.3"/><circle cx="446.6" cy="84.1"/><circle cx="521.1" cy="37.0"/><circle cx="508.7" cy="31.3"/><circle cx="500.0" cy="32.0"/><circle cx="468.9" cy="70.6"/><circle cx="484.1" cy="69.3"/><circle cx="495.8" cy="42.0"/><circle cx="446.7" cy="82.8"/><circle cx="467.7" cy="107.7"/><circle cx="484.1" cy="40.0"/><circle cx="453.4" cy="79.9"/><circle cx="493.9" cy="52.8"/><circle cx="492.0" cy="42.6"/><circle cx="514.4" cy="46.3"/><circle cx="495.3" cy="60.4"/><circle cx="479.6" cy="44.7"/><circle cx="450.5" cy="86.3"/><circle cx="476.7" cy="75.9"/><circle cx="477.4" cy="53.6"/><circle cx="460.8" cy="109.5"/><circle cx="469.6" cy="70.3"/><circle cx="482.6" cy="76.8"/><circle cx="475.6" cy="80.8"/><circle cx="497.2" cy="47.9"/><circle cx="477.6" cy="89.0"/><circle cx="471.5" cy="67.3"/><circle cx="498.7" cy="36.4"/><circle cx="496.4" cy="63.2"/><circle cx="494.3" cy="49.5"/><circle cx="469.0" cy="67.7"/><circle cx="492.8" cy="63.7"/><circle cx="483.9" cy="24.9"/><circle cx="519.6" cy="45.1"/><circle cx="467.6" cy="75.1"/><circle cx="469.3" cy="52.9"/><circle cx="454.0" cy="65.0"/><circle cx="486.5" cy="51.6"/><circle cx="487.8" cy="98.0"/><circle cx="501.3" cy="46.9"/><circle cx="481.5" cy="75.0"/><circle cx="483.1" cy="44.8"/><circle cx="470.6" cy="74.4"/><circle cx="473.7" cy="89.3"/><circle cx="454.0" cy="98.2"/><circle cx="496.5" cy="64.6"/><circle cx="464.9" cy="113.4"/><circle cx="519.1" cy="46.5"/><circle cx="518.6" cy="33.4"/><circle cx="489.7" cy="39.3"/><circle cx="540.1" cy="58.1"/><circle cx="475.3" cy="67.3"/><circle cx="468.8" cy="62.2"/><circle cx="522.0" cy="50.2"/><circle cx="486.6" cy="27.0"/><circle cx="478.3" cy="87.0"/><circle cx="473.3" cy="93.0"/><circle cx="495.1" cy="71.2"/><circle cx="480.2" cy="60.5"/><circle cx="457.0" cy="88.5"/><circle cx="479.2" cy="82.7"/><circle cx="457.4" cy="56.7"/><circle cx="493.5" cy="52.7"/><circle cx="484.3" cy="59.4"/><circle cx="509.4" cy="50.1"/><circle cx="523.7" cy="49.7"/><circle cx="465.1" cy="68.5"/><circle cx="494.9" cy="42.8"/><circle cx="456.4" cy="99.2"/><circle cx="497.0" cy="36.6"/><circle cx="498.6" cy="55.5"/><circle cx="483.6" cy="59.8"/><circle cx="467.5" cy="55.8"/><circle cx="493.7" cy="58.0"/><circle cx="465.9" cy="71.0"/><circle cx="487.8" cy="42.7"/><circle cx="473.0" cy="66.7"/><circle cx="471.9" cy="91.1"/><circle cx="470.2" cy="58.1"/><circle cx="505.7" cy="39.8"/><circle cx="530.7" cy="41.5"/><circle cx="477.0" cy="125.9"/><circle cx="485.4" cy="49.3"/><circle cx="483.3" cy="56.6"/><circle cx="481.1" cy="71.0"/><circle cx="466.8" cy="51.6"/><circle cx="542.1" cy="46.9"/><circle cx="478.1" cy="96.7"/><circle cx="475.6" cy="58.8"/><circle cx="487.6" cy="100.1"/><circle cx="485.3" cy="86.3"/><circle cx="494.3" cy="63.9"/><circle cx="487.1" cy="38.0"/><circle cx="489.6" cy="57.0"/><circle cx="474.1" cy="62.6"/><circle cx="492.9" cy="61.8"/><circle cx="496.5" cy="71.0"/><circle cx="495.0" cy="54.8"/><circle cx="467.9" cy="68.6"/><circle cx="471.8" cy="64.6"/><circle cx="496.3" cy="71.3"/><circle cx="469.7" cy="77.5"/><circle cx="482.9" cy="61.0"/><circle cx="473.8" cy="88.2"/><circle cx="481.5" cy="52.6"/><circle cx="507.0" cy="32.8"/><circle cx="476.9" cy="75.9"/><circle cx="474.3" cy="71.4"/><circle cx="494.5" cy="64.2"/><circle cx="491.2" cy="68.7"/><circle cx="475.4" cy="69.5"/><circle cx="471.8" cy="57.4"/><circle cx="488.9" cy="56.3"/><circle cx="497.3" cy="53.5"/><circle cx="472.5" cy="46.2"/><circle cx="467.3" cy="74.8"/><circle cx="470.8" cy="45.9"/><circle cx="501.9" cy="60.9"/><circle cx="475.7" cy="81.1"/><circle cx="510.9" cy="37.0"/><circle cx="456.5" cy="35.3"/><circle cx="486.6" cy="81.3"/><circle cx="522.9" cy="51.8"/><circle cx="495.3" cy="52.0"/><circle cx="486.2" cy="57.9"/><circle cx="473.0" cy="66.0"/><circle cx="485.5" cy="54.6"/><circle cx="492.7" cy="39.1"/><circle cx="477.4" cy="58.1"/><circle cx="503.5" cy="47.9"/><circle cx="486.0" cy="73.7"/><circle cx="493.9" cy="58.0"/><circle cx="500.2" cy="61.5"/><circle cx="488.5" cy="86.5"/><circle cx="475.2" cy="84.7"/><circle cx="521.2" cy="43.5"/><circle cx="472.3" cy="68.9"/><circle cx="525.0" cy="42.4"/><circle cx="473.0" cy="52.2"/><circle cx="501.1" cy="69.4"/><circle cx="508.3" cy="38.9"/><circle cx="456.5" cy="72.1"/><circle cx="454.8" cy="106.2"/><circle cx="462.4" cy="71.7"/><circle cx="460.3" cy="101.3"/><circle cx="491.9" cy="53.9"/><circle cx="490.1" cy="65.4"/><circle cx="463.8" cy="44.5"/><circle cx="519.7" cy="46.8"/><circle cx="454.8" cy="96.4"/><circle cx="531.3" cy="60.9"/><circle cx="495.8" cy="74.2"/><circle cx="522.1" cy="57.9"/><circle cx="486.1" cy="85.0"/><circle cx="471.5" cy="64.6"/><circle cx="456.6" cy="76.6"/><circle cx="501.6" cy="47.8"/><circle cx="484.4" cy="48.8"/><circle cx="497.9" cy="25.8"/><circle cx="518.1" cy="75.5"/><circle cx="493.9" cy="43.7"/><circle cx="453.9" cy="84.2"/><circle cx="498.6" cy="32.8"/><circle cx="499.7" cy="56.4"/><circle cx="478.8" cy="36.2"/><circle cx="473.5" cy="54.8"/><circle cx="492.2" cy="39.1"/><circle cx="463.9" cy="69.9"/><circle cx="495.1" cy="48.4"/><circle cx="457.3" cy="88.7"/><circle cx="480.5" cy="87.8"/><circle cx="496.1" cy="61.3"/><circle cx="533.5" cy="47.5"/><circle cx="497.0" cy="46.3"/><circle cx="488.0" cy="80.1"/><circle cx="459.8" cy="61.6"/><circle cx="531.8" cy="50.4"/><circle cx="511.0" cy="53.6"/><circle cx="497.8" cy="77.0"/><circle cx="480.6" cy="60.0"/><circle cx="484.5" cy="71.9"/><circle cx="490.2" cy="51.4"/><circle cx="484.5" cy="49.8"/><circle cx="477.6" cy="101.4"/><circle cx="492.0" cy="76.0"/><circle cx="472.4" cy="85.3"/><circle cx="475.0" cy="44.4"/><circle cx="498.1" cy="29.2"/><circle cx="498.6" cy="58.3"/><circle cx="512.9" cy="44.1"/><circle cx="471.4" cy="91.6"/><circle cx="470.0" cy="48.4"/><circle cx="483.9" cy="68.4"/><circle cx="479.2" cy="74.9"/><circle cx="500.4" cy="51.9"/><circle cx="474.0" cy="89.8"/><circle cx="503.4" cy="47.7"/><circle cx="475.3" cy="99.2"/><circle cx="470.3" cy="99.5"/><circle cx="463.1" cy="90.0"/><circle cx="496.7" cy="42.7"/><circle cx="498.3" cy="47.0"/><circle cx="487.6" cy="56.0"/><circle cx="478.1" cy="47.6"/><circle cx="503.5" cy="37.9"/><circle cx="491.4" cy="44.8"/><circle cx="484.8" cy="73.1"/><circle cx="496.8" cy="65.6"/><circle cx="522.8" cy="55.2"/><circle cx="477.3" cy="62.8"/><circle cx="461.3" cy="96.0"/><circle cx="458.3" cy="60.1"/><circle cx="495.9" cy="45.7"/><circle cx="515.2" cy="31.0"/><circle cx="470.3" cy="70.1"/><circle cx="464.2" cy="87.8"/><circle cx="494.4" cy="63.5"/><circle cx="531.9" cy="95.3"/><circle cx="517.9" cy="39.1"/><circle cx="472.8" cy="37.0"/><circle cx="457.6" cy="95.9"/><circle cx="486.1" cy="71.2"/><circle cx="473.6" cy="50.5"/><circle cx="466.3" cy="53.1"/><circle cx="511.2" cy="48.5"/><circle cx="463.5" cy="59.6"/><circle cx="492.5" cy="41.7"/><circle cx="469.1" cy="105.2"/><circle cx="493.3" cy="58.0"/><circle cx="466.0" cy="107.6"/><circle cx="491.3" cy="44.0"/><circle cx="482.5" cy="61.5"/><circle cx="480.0" cy="108.6"/><circle cx="465.4" cy="92.2"/><circle cx="480.8" cy="89.5"/><circle cx="484.0" cy="39.7"/><circle cx="459.9" cy="85.5"/><circle cx="467.3" cy="108.6"/><circle cx="515.9" cy="48.7"/><circle cx="492.2" cy="55.0"/><circle cx="509.7" cy="45.3"/><circle cx="473.9" cy="87.3"/><circle cx="488.6" cy="66.0"/><circle cx="480.4" cy="91.9"/><circle cx="492.6" cy="42.3"/><circle cx="477.3" cy="107.3"/><circle cx="484.3" cy="43.0"/><circle cx="464.3" cy="81.6"/><circle cx="465.9" cy="79.1"/><circle cx="480.9" cy="89.2"/><circle cx="502.6" cy="57.0"/><circle cx="484.2" cy="87.1"/><circle cx="493.3" cy="53.3"/><circle cx="476.3" cy="72.3"/><circle cx="481.5" cy="42.0"/><circle cx="487.0" cy="63.4"/><circle cx="483.3" cy="50.5"/><circle cx="485.0" cy="39.4"/><circle cx="485.0" cy="38.6"/><circle cx="460.4" cy="52.9"/><circle cx="522.9" cy="67.0"/><circle cx="525.5" cy="41.5"/><circle cx="490.9" cy="64.7"/><circle cx="471.9" cy="56.3"/><circle cx="445.0" cy="53.5"/><circle cx="513.8" cy="44.0"/><circle cx="508.5" cy="56.5"/><circle cx="493.4" cy="69.0"/><circle cx="471.5" cy="74.5"/><circle cx="490.3" cy="66.1"/><circle cx="478.2" cy="61.1"/><circle cx="495.9" cy="42.9"/><circle cx="480.2" cy="45.6"/><circle cx="474.9" cy="69.6"/><circle cx="472.1" cy="61.4"/><circle cx="487.7" cy="64.0"/><circle cx="511.3" cy="41.3"/><circle cx="491.6" cy="56.9"/><circle cx="490.2" cy="66.4"/><circle cx="471.5" cy="68.7"/><circle cx="489.5" cy="71.1"/><circle cx="480.7" cy="110.0"/><circle cx="499.0" cy="74.0"/><circle cx="445.3" cy="83.2"/><circle cx="513.4" cy="44.7"/><circle cx="474.7" cy="78.0"/><circle cx="488.8" cy="63.5"/><circle cx="518.7" cy="45.8"/><circle cx="495.6" cy="46.5"/><circle cx="515.6" cy="38.5"/><circle cx="473.0" cy="68.2"/><circle cx="474.0" cy="99.0"/><circle cx="473.1" cy="115.2"/><circle cx="475.6" cy="48.1"/><circle cx="476.8" cy="83.7"/><circle cx="475.4" cy="98.4"/><circle cx="523.1" cy="61.3"/><circle cx="497.2" cy="50.0"/><circle cx="486.6" cy="50.4"/><circle cx="452.0" cy="81.8"/><circle cx="460.1" cy="105.8"/><circle cx="461.8" cy="82.4"/><circle cx="504.2" cy="46.4"/><circle cx="478.8" cy="47.9"/><circle cx="488.7" cy="49.8"/><circle cx="468.4" cy="55.7"/><circle cx="514.5" cy="62.2"/><circle cx="489.5" cy="50.7"/><circle cx="468.3" cy="74.2"/><circle cx="469.3" cy="84.2"/><circle cx="519.9" cy="42.5"/><circle cx="488.3" cy="50.6"/><circle cx="518.9" cy="58.8"/><circle cx="482.5" cy="63.2"/><circle cx="506.5" cy="64.2"/><circle cx="489.3" cy="36.5"/><circle cx="464.0" cy="98.0"/><circle cx="470.4" cy="87.4"/><circle cx="470.5" cy="102.0"/><circle cx="481.2" cy="107.3"/><circle cx="495.6" cy="75.4"/><circle cx="479.4" cy="68.9"/><circle cx="473.1" cy="103.3"/><circle cx="488.2" cy="58.6"/><circle cx="494.2" cy="49.6"/><circle cx="447.1" cy="92.7"/><circle cx="484.3" cy="43.1"/><circle cx="468.4" cy="104.0"/><circle cx="464.0" cy="87.1"/><circle cx="467.3" cy="85.0"/><circle cx="486.2" cy="73.6"/><circle cx="477.4" cy="62.5"/><circle cx="516.0" cy="44.5"/><circle cx="503.7" cy="58.9"/><circle cx="531.9" cy="71.3"/><circle cx="489.0" cy="67.0"/><circle cx="493.1" cy="60.0"/><circle cx="508.6" cy="59.1"/><circle cx="465.5" cy="102.0"/><circle cx="503.4" cy="55.0"/><circle cx="488.6" cy="26.4"/><circle cx="463.0" cy="92.6"/><circle cx="460.3" cy="119.7"/><circle cx="468.0" cy="103.8"/><circle cx="480.3" cy="69.9"/><circle cx="476.7" cy="64.7"/><circle cx="464.8" cy="104.8"/><circle cx="493.6" cy="73.0"/><circle cx="529.5" cy="43.3"/><circle cx="481.0" cy="63.3"/><circle cx="495.4" cy="55.5"/><circle cx="458.2" cy="107.2"/><circle cx="531.5" cy="74.5"/><circle cx="502.5" cy="37.6"/><circle cx="485.7" cy="73.1"/><circle cx="464.0" cy="43.4"/><circle cx="493.0" cy="75.1"/><circle cx="485.5" cy="76.5"/><circle cx="475.4" cy="44.3"/><circle cx="476.3" cy="93.4"/><circle cx="472.3" cy="76.8"/><circle cx="514.8" cy="47.1"/><circle cx="464.7" cy="83.8"/><circle cx="481.5" cy="48.2"/><circle cx="518.2" cy="60.1"/><circle cx="470.3" cy="51.8"/><circle cx="450.0" cy="96.5"/><circle cx="456.4" cy="60.4"/><circle cx="501.8" cy="41.5"/><circle cx="464.0" cy="110.4"/><circle cx="497.2" cy="43.0"/><circle cx="469.6" cy="47.3"/><circle cx="474.8" cy="60.6"/><circle cx="502.1" cy="49.2"/><circle cx="476.9" cy="41.6"/><circle cx="492.2" cy="84.1"/><circle cx="462.9" cy="46.0"/><circle cx="479.6" cy="69.3"/><circle cx="496.8" cy="57.9"/><circle cx="509.4" cy="45.8"/><circle cx="484.6" cy="47.6"/><circle cx="515.7" cy="64.8"/><circle cx="492.5" cy="62.1"/><circle cx="525.6" cy="52.5"/><circle cx="489.8" cy="55.1"/><circle cx="473.7" cy="93.5"/><circle cx="475.4" cy="82.8"/><circle cx="499.8" cy="59.9"/><circle cx="478.1" cy="73.1"/><circle cx="481.3" cy="84.3"/><circle cx="484.6" cy="86.7"/><circle cx="481.3" cy="118.8"/><circle cx="487.3" cy="62.8"/><circle cx="507.1" cy="33.4"/><circle cx="460.2" cy="74.1"/><circle cx="485.4" cy="61.7"/><circle cx="483.3" cy="36.4"/><circle cx="479.2" cy="78.7"/><circle cx="472.1" cy="71.5"/><circle cx="490.2" cy="67.4"/><circle cx="476.8" cy="76.6"/><circle cx="500.8" cy="56.9"/><circle cx="517.3" cy="36.1"/><circle cx="460.9" cy="43.8"/><circle cx="492.9" cy="40.8"/><circle cx="501.6" cy="63.1"/><circle cx="466.8" cy="61.2"/><circle cx="458.2" cy="64.0"/><circle cx="447.6" cy="46.6"/><circle cx="469.2" cy="70.2"/><circle cx="494.7" cy="36.1"/><circle cx="490.4" cy="47.9"/><circle cx="476.2" cy="102.9"/><circle cx="474.1" cy="65.5"/><circle cx="460.2" cy="106.3"/><circle cx="473.8" cy="75.3"/><circle cx="467.6" cy="111.1"/><circle cx="491.5" cy="44.3"/><circle cx="478.5" cy="78.6"/><circle cx="488.5" cy="93.7"/><circle cx="481.4" cy="90.0"/><circle cx="501.7" cy="49.3"/><circle cx="513.4" cy="65.0"/><circle cx="488.5" cy="52.8"/><circle cx="449.8" cy="70.0"/><circle cx="471.6" cy="91.1"/><circle cx="485.6" cy="117.3"/><circle cx="490.5" cy="51.8"/><circle cx="492.3" cy="34.4"/><circle cx="459.9" cy="97.1"/><circle cx="493.1" cy="39.8"/><circle cx="467.9" cy="94.1"/><circle cx="514.8" cy="52.3"/><circle cx="489.3" cy="61.0"/><circle cx="516.2" cy="64.1"/><circle cx="485.8" cy="89.4"/><circle cx="495.8" cy="40.3"/><circle cx="512.4" cy="30.7"/><circle cx="493.1" cy="32.5"/><circle cx="505.2" cy="56.5"/><circle cx="473.0" cy="92.1"/><circle cx="513.5" cy="30.1"/><circle cx="473.1" cy="87.7"/><circle cx="524.4" cy="40.6"/><circle cx="499.3" cy="66.3"/><circle cx="491.7" cy="51.2"/><circle cx="522.5" cy="44.8"/><circle cx="461.5" cy="73.6"/><circle cx="471.7" cy="105.9"/><circle cx="474.0" cy="96.9"/><circle cx="489.2" cy="70.0"/><circle cx="459.7" cy="99.1"/><circle cx="478.9" cy="83.5"/><circle cx="473.4" cy="106.5"/><circle cx="470.2" cy="79.5"/><circle cx="481.3" cy="52.2"/><circle cx="528.8" cy="40.7"/><circle cx="500.3" cy="49.4"/><circle cx="451.7" cy="85.1"/><circle cx="507.4" cy="55.7"/><circle cx="458.9" cy="38.7"/><circle cx="465.4" cy="91.6"/><circle cx="495.0" cy="56.5"/><circle cx="475.2" cy="74.7"/><circle cx="469.3" cy="101.5"/><circle cx="463.4" cy="82.7"/><circle cx="487.6" cy="39.0"/><circle cx="478.9" cy="93.4"/><circle cx="495.7" cy="57.5"/><circle cx="491.0" cy="63.8"/><circle cx="467.5" cy="56.4"/><circle cx="476.9" cy="63.2"/><circle cx="484.3" cy="63.5"/><circle cx="475.9" cy="75.9"/><circle cx="500.6" cy="29.4"/><circle cx="470.6" cy="74.5"/><circle cx="503.6" cy="55.8"/><circle cx="462.2" cy="102.6"/><circle cx="484.7" cy="58.8"/><circle cx="496.1" cy="81.1"/><circle cx="485.2" cy="66.6"/><circle cx="498.6" cy="44.9"/><circle cx="482.7" cy="55.7"/><circle cx="470.4" cy="77.5"/><circle cx="460.1" cy="119.8"/><circle cx="462.8" cy="95.9"/><circle cx="513.0" cy="37.5"/><circle cx="459.9" cy="72.2"/><circle cx="477.0" cy="31.7"/><circle cx="481.1" cy="80.1"/><circle cx="489.8" cy="65.3"/><circle cx="474.5" cy="91.9"/><circle cx="463.3" cy="98.9"/><circle cx="497.7" cy="76.5"/><circle cx="492.3" cy="72.6"/><circle cx="506.3" cy="66.8"/><circle cx="488.6" cy="66.9"/><circle cx="474.1" cy="84.2"/><circle cx="483.7" cy="52.3"/><circle cx="483.5" cy="47.2"/><circle cx="472.5" cy="123.7"/><circle cx="480.1" cy="55.5"/><circle cx="511.2" cy="73.7"/><circle cx="492.5" cy="46.7"/><circle cx="473.6" cy="75.5"/><circle cx="453.8" cy="95.3"/><circle cx="470.3" cy="74.5"/><circle cx="512.9" cy="48.3"/><circle cx="475.8" cy="103.2"/><circle cx="492.2" cy="55.1"/><circle cx="483.4" cy="38.5"/><circle cx="458.5" cy="88.4"/><circle cx="476.6" cy="80.1"/><circle cx="505.7" cy="38.5"/><circle cx="482.8" cy="52.0"/><circle cx="495.3" cy="27.4"/><circle cx="511.4" cy="52.4"/><circle cx="474.2" cy="74.3"/><circle cx="493.8" cy="55.4"/><circle cx="467.2" cy="82.0"/><circle cx="500.0" cy="34.3"/><circle cx="481.9" cy="75.6"/><circle cx="523.8" cy="38.4"/><circle cx="473.1" cy="108.0"/><circle cx="473.3" cy="103.7"/><circle cx="483.3" cy="84.4"/><circle cx="493.4" cy="53.4"/><circle cx="479.1" cy="96.2"/><circle cx="496.3" cy="37.5"/><circle cx="508.4" cy="48.7"/><circle cx="480.3" cy="93.4"/><circle cx="507.9" cy="40.1"/><circle cx="498.2" cy="32.3"/><circle cx="475.6" cy="78.1"/><circle cx="474.5" cy="70.3"/><circle cx="471.9" cy="56.9"/><circle cx="510.5" cy="63.1"/><circle cx="469.3" cy="102.5"/><circle cx="467.6" cy="70.2"/><circle cx="491.8" cy="41.5"/><circle cx="487.3" cy="65.2"/><circle cx="495.1" cy="68.5"/><circle cx="504.7" cy="51.9"/><circle cx="449.8" cy="66.6"/><circle cx="472.1" cy="82.3"/><circle cx="472.1" cy="62.3"/><circle cx="472.1" cy="74.6"/><circle cx="487.4" cy="45.9"/><circle cx="471.2" cy="72.3"/><circle cx="460.0" cy="84.0"/><circle cx="475.0" cy="87.6"/><circle cx="483.1" cy="83.5"/><circle cx="492.2" cy="62.0"/><circle cx="464.1" cy="86.8"/><circle cx="481.1" cy="59.9"/><circle cx="506.8" cy="58.7"/><circle cx="461.0" cy="86.2"/><circle cx="501.7" cy="46.2"/><circle cx="468.0" cy="74.6"/><circle cx="501.6" cy="56.0"/><circle cx="530.4" cy="56.5"/><circle cx="464.3" cy="85.3"/><circle cx="487.7" cy="79.1"/><circle cx="498.1" cy="70.0"/><circle cx="455.6" cy="90.6"/><circle cx="498.0" cy="113.6"/><circle cx="492.1" cy="39.8"/><circle cx="466.5" cy="119.3"/><circle cx="483.0" cy="88.8"/><circle cx="469.6" cy="73.7"/><circle cx="481.5" cy="117.8"/><circle cx="480.4" cy="66.4"/><circle cx="489.2" cy="47.8"/><circle cx="478.9" cy="87.4"/><circle cx="467.4" cy="102.0"/><circle cx="494.2" cy="50.2"/><circle cx="490.8" cy="52.1"/><circle cx="467.2" cy="109.0"/><circle cx="480.8" cy="48.6"/><circle cx="472.0" cy="55.3"/><circle cx="467.7" cy="90.4"/><circle cx="509.0" cy="60.7"/><circle cx="486.0" cy="39.6"/><circle cx="491.9" cy="44.1"/><circle cx="485.8" cy="61.4"/><circle cx="476.3" cy="55.8"/><circle cx="484.0" cy="56.1"/><circle cx="460.5" cy="46.1"/><circle cx="457.9" cy="67.6"/><circle cx="468.5" cy="29.9"/><circle cx="473.8" cy="77.0"/><circle cx="511.9" cy="33.9"/><circle cx="526.5" cy="54.8"/><circle cx="497.5" cy="47.4"/><circle cx="470.6" cy="71.2"/><circle cx="457.5" cy="57.5"/><circle cx="453.9" cy="109.5"/><circle cx="485.1" cy="44.0"/><circle cx="472.3" cy="53.7"/><circle cx="496.2" cy="45.3"/><circle cx="533.5" cy="66.3"/><circle cx="476.8" cy="57.1"/><circle cx="491.4" cy="54.8"/><circle cx="466.5" cy="63.9"/><circle cx="527.8" cy="38.7"/><circle cx="483.9" cy="47.2"/><circle cx="484.5" cy="64.1"/><circle cx="492.6" cy="53.8"/><circle cx="493.1" cy="44.0"/><circle cx="465.6" cy="75.8"/><circle cx="474.9" cy="51.1"/><circle cx="463.1" cy="110.3"/><circle cx="456.9" cy="61.2"/>
</g>
<path d="M438.8 95.1 L443.3 92.3 L447.7 89.5 L452.2 86.8 L456.7 83.9 L461.1 81.1 L465.6 78.3 L470.1 75.5 L474.5 72.6 L479.0 69.6 L483.5 66.6 L487.9 63.5 L492.4 60.3 L496.9 57.1 L501.3 53.8 L505.8 50.4 L510.3 47.0 L514.7 43.6 L519.2 40.2 L523.7 36.8 L528.1 33.4 L532.6 30.0 L537.1 26.5 L541.5 23.1 L546.0 19.7 L546.0 28.9 L541.5 31.7 L537.1 34.5 L532.6 37.3 L528.1 40.0 L523.7 42.8 L519.2 45.6 L514.7 48.4 L510.3 51.3 L505.8 54.1 L501.3 56.9 L496.9 59.8 L492.4 62.8 L487.9 65.8 L483.5 68.9 L479.0 72.1 L474.5 75.4 L470.1 78.7 L465.6 82.0 L461.1 85.4 L456.7 88.8 L452.2 92.2 L447.7 95.6 L443.3 99.1 L438.8 102.5 Z" fill="#999" fill-opacity="0.45"/>
<line x1="438.8" y1="98.8" x2="546.0" y2="24.3" stroke="#000" stroke-width="1.6"/>
<rect x="433.6" y="3.0" width="117.7" height="141.4" fill="none" stroke="#505050" stroke-width="1"/>
<line x1="451.5" y1="144.4" x2="451.5" y2="142.4" stroke="#333" stroke-width="0.8"/>
<text class="tk" transform="translate(451.50,151.60) scale(1,1.080)" text-anchor="middle">−2</text>
<line x1="486.3" y1="144.4" x2="486.3" y2="142.4" stroke="#333" stroke-width="0.8"/>
<text class="tk" transform="translate(486.30,151.60) scale(1,1.080)" text-anchor="middle">0</text>
<line x1="521.1" y1="144.4" x2="521.1" y2="142.4" stroke="#333" stroke-width="0.8"/>
<text class="tk" transform="translate(521.10,151.60) scale(1,1.080)" text-anchor="middle">2</text>
<line x1="433.6" y1="20.3" x2="435.6" y2="20.3" stroke="#333" stroke-width="0.8"/>
<text class="tk" transform="translate(432.00,22.60) scale(1,1.080)" text-anchor="end">2</text>
<line x1="433.6" y1="43.0" x2="435.6" y2="43.0" stroke="#333" stroke-width="0.8"/>
<text class="tk" transform="translate(432.00,45.35) scale(1,1.080)" text-anchor="end">1</text>
<line x1="433.6" y1="65.8" x2="435.6" y2="65.8" stroke="#333" stroke-width="0.8"/>
<text class="tk" transform="translate(432.00,68.10) scale(1,1.080)" text-anchor="end">0</text>
<line x1="433.6" y1="88.5" x2="435.6" y2="88.5" stroke="#333" stroke-width="0.8"/>
<text class="tk" transform="translate(432.00,90.85) scale(1,1.080)" text-anchor="end">−1</text>
<line x1="433.6" y1="111.3" x2="435.6" y2="111.3" stroke="#333" stroke-width="0.8"/>
<text class="tk" transform="translate(432.00,113.60) scale(1,1.080)" text-anchor="end">−2</text>
<line x1="433.6" y1="134.1" x2="435.6" y2="134.1" stroke="#333" stroke-width="0.8"/>
<text class="tk" transform="translate(432.00,136.35) scale(1,1.080)" text-anchor="end">−3</text>
<g class="p">
<circle cx="88.4" cy="188.1"/><circle cx="93.4" cy="233.5"/><circle cx="50.0" cy="207.5"/><circle cx="111.5" cy="207.3"/><circle cx="67.3" cy="208.7"/><circle cx="87.9" cy="210.4"/><circle cx="68.6" cy="233.6"/><circle cx="90.5" cy="214.4"/><circle cx="53.7" cy="229.9"/><circle cx="81.6" cy="198.0"/><circle cx="78.7" cy="216.5"/><circle cx="93.8" cy="208.6"/><circle cx="101.2" cy="217.7"/><circle cx="80.7" cy="212.0"/><circle cx="104.7" cy="206.1"/><circle cx="73.7" cy="232.1"/><circle cx="86.2" cy="228.9"/><circle cx="108.6" cy="208.6"/><circle cx="54.7" cy="203.7"/><circle cx="54.0" cy="231.3"/><circle cx="68.2" cy="209.5"/><circle cx="88.6" cy="216.4"/><circle cx="90.5" cy="188.8"/><circle cx="80.3" cy="222.8"/><circle cx="54.3" cy="258.4"/><circle cx="71.5" cy="211.8"/><circle cx="104.1" cy="230.9"/><circle cx="51.0" cy="247.1"/><circle cx="93.5" cy="258.4"/><circle cx="76.0" cy="192.3"/><circle cx="79.2" cy="227.4"/><circle cx="93.0" cy="217.8"/><circle cx="39.9" cy="219.9"/><circle cx="108.2" cy="210.0"/><circle cx="86.8" cy="213.3"/><circle cx="97.6" cy="227.2"/><circle cx="125.5" cy="217.6"/><circle cx="112.3" cy="195.1"/><circle cx="125.7" cy="215.2"/><circle cx="76.3" cy="220.7"/><circle cx="73.5" cy="234.8"/><circle cx="94.3" cy="232.4"/><circle cx="106.9" cy="225.2"/><circle cx="85.0" cy="232.7"/><circle cx="80.1" cy="236.6"/><circle cx="94.5" cy="207.0"/><circle cx="66.7" cy="226.2"/><circle cx="81.5" cy="231.5"/><circle cx="95.3" cy="221.0"/><circle cx="73.9" cy="223.5"/><circle cx="96.5" cy="233.6"/><circle cx="95.2" cy="198.3"/><circle cx="40.3" cy="217.4"/><circle cx="66.4" cy="231.3"/><circle cx="84.9" cy="235.6"/><circle cx="70.2" cy="215.0"/><circle cx="81.9" cy="189.3"/><circle cx="40.1" cy="244.2"/><circle cx="97.1" cy="204.3"/><circle cx="61.2" cy="245.1"/><circle cx="103.5" cy="232.8"/><circle cx="101.8" cy="200.6"/><circle cx="39.4" cy="231.9"/><circle cx="100.4" cy="196.5"/><circle cx="72.0" cy="223.3"/><circle cx="66.2" cy="285.3"/><circle cx="94.2" cy="204.1"/><circle cx="71.0" cy="254.7"/><circle cx="114.7" cy="192.7"/><circle cx="111.1" cy="187.3"/><circle cx="95.9" cy="208.4"/><circle cx="85.8" cy="266.5"/><circle cx="97.0" cy="222.1"/><circle cx="71.5" cy="219.7"/><circle cx="61.2" cy="187.9"/><circle cx="82.8" cy="211.1"/><circle cx="80.9" cy="186.0"/><circle cx="76.7" cy="216.5"/><circle cx="88.3" cy="230.6"/><circle cx="40.8" cy="216.7"/><circle cx="82.4" cy="224.8"/><circle cx="39.6" cy="234.3"/><circle cx="89.6" cy="214.5"/><circle cx="109.2" cy="193.7"/><circle cx="39.8" cy="267.6"/><circle cx="82.1" cy="216.8"/><circle cx="71.9" cy="216.5"/><circle cx="77.0" cy="216.6"/><circle cx="81.5" cy="218.1"/><circle cx="112.3" cy="214.1"/><circle cx="108.2" cy="236.4"/><circle cx="88.4" cy="223.7"/><circle cx="108.5" cy="203.4"/><circle cx="66.5" cy="198.0"/><circle cx="70.5" cy="218.8"/><circle cx="81.0" cy="212.1"/><circle cx="110.7" cy="214.5"/><circle cx="40.2" cy="250.1"/><circle cx="93.5" cy="198.3"/><circle cx="104.1" cy="215.2"/><circle cx="86.2" cy="207.3"/><circle cx="96.1" cy="225.2"/><circle cx="125.7" cy="243.1"/><circle cx="85.4" cy="217.4"/><circle cx="99.0" cy="239.9"/><circle cx="80.3" cy="195.4"/><circle cx="84.7" cy="218.0"/><circle cx="89.0" cy="224.0"/><circle cx="74.8" cy="237.7"/><circle cx="54.8" cy="228.2"/><circle cx="83.3" cy="222.2"/><circle cx="117.1" cy="229.4"/><circle cx="91.3" cy="187.2"/><circle cx="82.4" cy="241.9"/><circle cx="100.4" cy="240.3"/><circle cx="89.5" cy="239.5"/><circle cx="92.8" cy="208.4"/><circle cx="82.0" cy="200.3"/><circle cx="79.3" cy="227.9"/><circle cx="65.1" cy="194.4"/><circle cx="86.2" cy="212.4"/><circle cx="112.1" cy="247.2"/><circle cx="87.9" cy="199.9"/><circle cx="74.9" cy="211.7"/><circle cx="88.2" cy="199.0"/><circle cx="63.0" cy="234.4"/><circle cx="75.9" cy="188.9"/><circle cx="146.2" cy="226.3"/><circle cx="87.3" cy="206.1"/><circle cx="73.2" cy="231.4"/><circle cx="39.7" cy="240.9"/><circle cx="62.3" cy="210.3"/><circle cx="69.9" cy="192.9"/><circle cx="88.5" cy="201.2"/><circle cx="69.6" cy="217.4"/><circle cx="93.6" cy="239.8"/><circle cx="65.2" cy="231.5"/><circle cx="78.9" cy="240.6"/><circle cx="121.4" cy="194.1"/><circle cx="101.3" cy="213.1"/><circle cx="86.0" cy="226.7"/><circle cx="51.5" cy="194.7"/><circle cx="64.7" cy="218.7"/><circle cx="93.6" cy="202.9"/><circle cx="74.1" cy="244.4"/><circle cx="94.6" cy="183.4"/><circle cx="91.2" cy="199.9"/><circle cx="83.3" cy="227.2"/><circle cx="39.6" cy="215.8"/><circle cx="75.7" cy="211.3"/><circle cx="98.0" cy="237.4"/><circle cx="40.2" cy="209.7"/><circle cx="97.7" cy="220.0"/><circle cx="86.1" cy="213.1"/><circle cx="79.1" cy="241.1"/><circle cx="63.5" cy="256.4"/><circle cx="95.6" cy="227.2"/><circle cx="99.4" cy="201.1"/><circle cx="78.7" cy="201.7"/><circle cx="88.2" cy="243.2"/><circle cx="65.8" cy="224.0"/><circle cx="93.8" cy="193.6"/><circle cx="82.4" cy="214.4"/><circle cx="70.8" cy="226.4"/><circle cx="119.5" cy="206.4"/><circle cx="49.1" cy="215.5"/><circle cx="84.7" cy="237.6"/><circle cx="40.2" cy="209.4"/><circle cx="69.8" cy="198.7"/><circle cx="69.5" cy="240.4"/><circle cx="118.4" cy="212.8"/><circle cx="67.8" cy="221.9"/><circle cx="78.7" cy="263.8"/><circle cx="88.7" cy="217.0"/><circle cx="103.8" cy="193.8"/><circle cx="72.7" cy="208.0"/><circle cx="117.0" cy="200.8"/><circle cx="85.5" cy="282.5"/><circle cx="67.1" cy="226.6"/><circle cx="60.1" cy="209.6"/><circle cx="93.1" cy="198.6"/><circle cx="83.6" cy="198.1"/><circle cx="102.0" cy="228.8"/><circle cx="78.7" cy="227.8"/><circle cx="70.3" cy="188.2"/><circle cx="94.3" cy="191.3"/><circle cx="99.1" cy="217.6"/><circle cx="73.7" cy="214.2"/><circle cx="54.8" cy="225.2"/><circle cx="94.2" cy="194.8"/><circle cx="99.0" cy="230.2"/><circle cx="96.5" cy="227.2"/><circle cx="89.9" cy="206.5"/><circle cx="80.5" cy="236.9"/><circle cx="115.9" cy="210.2"/><circle cx="86.2" cy="236.7"/><circle cx="97.4" cy="255.9"/><circle cx="74.2" cy="197.6"/><circle cx="80.0" cy="206.9"/><circle cx="78.2" cy="194.3"/><circle cx="98.9" cy="212.5"/><circle cx="98.2" cy="219.1"/><circle cx="85.7" cy="252.3"/><circle cx="75.6" cy="218.1"/><circle cx="48.9" cy="241.5"/><circle cx="92.8" cy="214.0"/><circle cx="77.5" cy="220.7"/><circle cx="106.3" cy="221.6"/><circle cx="121.2" cy="218.5"/><circle cx="108.8" cy="209.3"/><circle cx="69.5" cy="241.9"/><circle cx="81.5" cy="234.8"/><circle cx="77.7" cy="231.1"/><circle cx="127.9" cy="246.4"/><circle cx="40.0" cy="216.4"/><circle cx="75.7" cy="217.9"/><circle cx="80.0" cy="192.6"/><circle cx="95.4" cy="207.4"/><circle cx="72.9" cy="225.3"/><circle cx="81.7" cy="211.9"/><circle cx="97.0" cy="204.2"/><circle cx="81.0" cy="223.5"/><circle cx="79.8" cy="180.0"/><circle cx="81.4" cy="215.5"/><circle cx="97.4" cy="209.5"/><circle cx="74.7" cy="205.8"/><circle cx="83.3" cy="195.1"/><circle cx="88.9" cy="199.8"/><circle cx="88.4" cy="233.5"/><circle cx="69.1" cy="204.4"/><circle cx="68.4" cy="204.9"/><circle cx="76.3" cy="207.7"/><circle cx="104.5" cy="268.3"/><circle cx="81.0" cy="190.8"/><circle cx="79.3" cy="243.3"/><circle cx="67.3" cy="242.4"/><circle cx="45.8" cy="194.9"/><circle cx="83.3" cy="209.9"/><circle cx="135.0" cy="213.9"/><circle cx="73.4" cy="209.4"/><circle cx="91.6" cy="251.3"/><circle cx="62.3" cy="202.4"/><circle cx="64.9" cy="181.2"/><circle cx="46.1" cy="211.2"/><circle cx="97.3" cy="237.1"/><circle cx="87.4" cy="224.4"/><circle cx="93.3" cy="200.1"/><circle cx="69.2" cy="237.1"/><circle cx="73.4" cy="213.9"/><circle cx="95.0" cy="221.0"/><circle cx="72.3" cy="216.9"/><circle cx="83.7" cy="222.0"/><circle cx="40.1" cy="241.6"/><circle cx="68.9" cy="210.6"/><circle cx="101.3" cy="218.9"/><circle cx="94.6" cy="221.0"/><circle cx="73.6" cy="224.0"/><circle cx="93.5" cy="230.7"/><circle cx="81.0" cy="226.1"/><circle cx="96.6" cy="280.3"/><circle cx="88.0" cy="226.5"/><circle cx="115.0" cy="200.8"/><circle cx="90.8" cy="212.4"/><circle cx="63.5" cy="222.2"/><circle cx="99.6" cy="199.9"/><circle cx="71.7" cy="194.9"/><circle cx="92.7" cy="196.0"/><circle cx="79.4" cy="207.8"/><circle cx="92.2" cy="195.0"/><circle cx="89.0" cy="210.6"/><circle cx="86.3" cy="239.3"/><circle cx="76.8" cy="233.7"/><circle cx="69.0" cy="200.8"/><circle cx="82.1" cy="221.0"/><circle cx="51.5" cy="231.3"/><circle cx="59.0" cy="295.0"/><circle cx="110.9" cy="212.1"/><circle cx="114.2" cy="226.8"/><circle cx="107.0" cy="228.3"/><circle cx="91.8" cy="222.1"/><circle cx="88.2" cy="220.8"/><circle cx="91.5" cy="239.5"/><circle cx="84.9" cy="232.2"/><circle cx="80.0" cy="192.6"/><circle cx="80.8" cy="218.6"/><circle cx="83.7" cy="199.0"/><circle cx="89.6" cy="205.1"/><circle cx="55.3" cy="233.5"/><circle cx="67.2" cy="206.2"/><circle cx="79.2" cy="187.1"/><circle cx="108.4" cy="251.2"/><circle cx="91.7" cy="208.8"/><circle cx="54.3" cy="223.4"/><circle cx="87.1" cy="195.5"/><circle cx="105.6" cy="188.1"/><circle cx="125.1" cy="198.9"/><circle cx="46.7" cy="222.5"/><circle cx="40.1" cy="235.9"/><circle cx="87.5" cy="232.2"/><circle cx="68.4" cy="210.3"/><circle cx="59.2" cy="209.8"/><circle cx="40.6" cy="244.6"/><circle cx="50.7" cy="208.5"/><circle cx="73.3" cy="202.6"/><circle cx="46.2" cy="224.7"/><circle cx="41.5" cy="229.5"/><circle cx="67.9" cy="197.7"/><circle cx="99.8" cy="197.5"/><circle cx="40.0" cy="212.9"/><circle cx="63.4" cy="232.9"/><circle cx="60.5" cy="221.9"/><circle cx="106.1" cy="185.8"/><circle cx="102.0" cy="206.7"/><circle cx="102.1" cy="206.0"/><circle cx="100.6" cy="216.0"/><circle cx="75.4" cy="204.0"/><circle cx="73.1" cy="207.8"/><circle cx="67.0" cy="221.4"/><circle cx="88.5" cy="233.3"/><circle cx="93.5" cy="193.6"/><circle cx="88.9" cy="233.3"/><circle cx="86.6" cy="189.2"/><circle cx="43.6" cy="231.6"/><circle cx="45.4" cy="198.4"/><circle cx="113.4" cy="204.6"/><circle cx="50.8" cy="239.9"/><circle cx="99.9" cy="195.0"/><circle cx="40.0" cy="246.1"/><circle cx="64.3" cy="204.2"/><circle cx="43.5" cy="226.3"/><circle cx="50.4" cy="211.1"/><circle cx="85.3" cy="209.1"/><circle cx="70.2" cy="215.6"/><circle cx="114.2" cy="205.8"/><circle cx="127.2" cy="242.5"/><circle cx="99.1" cy="203.3"/><circle cx="84.6" cy="181.6"/><circle cx="75.6" cy="234.1"/><circle cx="77.8" cy="189.4"/><circle cx="90.0" cy="218.6"/><circle cx="76.2" cy="223.4"/><circle cx="94.8" cy="207.1"/><circle cx="73.5" cy="276.6"/><circle cx="40.3" cy="226.6"/><circle cx="77.3" cy="210.1"/><circle cx="63.0" cy="221.8"/><circle cx="76.0" cy="192.9"/><circle cx="114.9" cy="197.5"/><circle cx="121.7" cy="202.7"/><circle cx="109.6" cy="199.3"/><circle cx="65.8" cy="201.2"/><circle cx="61.0" cy="219.1"/><circle cx="81.1" cy="197.2"/><circle cx="75.3" cy="226.2"/><circle cx="79.7" cy="195.1"/><circle cx="101.6" cy="204.3"/><circle cx="78.2" cy="191.5"/><circle cx="49.5" cy="209.1"/><circle cx="68.1" cy="248.4"/><circle cx="65.3" cy="214.4"/><circle cx="84.1" cy="204.5"/><circle cx="60.6" cy="200.7"/><circle cx="75.1" cy="212.5"/><circle cx="117.0" cy="227.0"/><circle cx="95.3" cy="195.3"/><circle cx="95.6" cy="227.9"/><circle cx="90.9" cy="196.6"/><circle cx="73.6" cy="223.5"/><circle cx="80.1" cy="179.8"/><circle cx="84.4" cy="205.9"/><circle cx="76.8" cy="213.9"/><circle cx="104.7" cy="242.6"/><circle cx="91.6" cy="246.3"/><circle cx="75.1" cy="230.1"/><circle cx="101.2" cy="199.3"/><circle cx="100.3" cy="207.0"/><circle cx="63.1" cy="242.2"/><circle cx="96.7" cy="224.9"/><circle cx="83.2" cy="244.5"/><circle cx="40.2" cy="215.1"/><circle cx="40.6" cy="232.7"/><circle cx="86.1" cy="204.6"/><circle cx="39.7" cy="198.2"/><circle cx="71.2" cy="205.4"/><circle cx="56.0" cy="222.3"/><circle cx="109.8" cy="197.7"/><circle cx="57.7" cy="214.3"/><circle cx="39.8" cy="286.1"/><circle cx="52.8" cy="250.1"/><circle cx="59.6" cy="231.1"/><circle cx="60.2" cy="227.5"/><circle cx="40.2" cy="240.7"/><circle cx="71.8" cy="204.6"/><circle cx="49.2" cy="212.7"/><circle cx="51.7" cy="179.2"/><circle cx="93.1" cy="207.8"/><circle cx="75.9" cy="216.3"/><circle cx="94.2" cy="230.8"/><circle cx="99.1" cy="206.4"/><circle cx="86.0" cy="231.3"/><circle cx="78.2" cy="220.2"/><circle cx="40.4" cy="233.8"/><circle cx="143.3" cy="218.2"/><circle cx="67.9" cy="219.1"/><circle cx="84.5" cy="200.8"/><circle cx="126.1" cy="228.5"/><circle cx="65.8" cy="232.5"/><circle cx="99.3" cy="222.9"/><circle cx="113.8" cy="220.2"/><circle cx="98.6" cy="264.8"/><circle cx="63.5" cy="216.0"/><circle cx="82.1" cy="197.9"/><circle cx="84.0" cy="208.1"/><circle cx="58.3" cy="245.5"/><circle cx="54.8" cy="194.7"/><circle cx="82.9" cy="234.8"/><circle cx="98.1" cy="252.3"/><circle cx="75.6" cy="211.0"/><circle cx="89.3" cy="226.8"/><circle cx="72.4" cy="241.4"/><circle cx="87.6" cy="222.8"/><circle cx="57.5" cy="218.4"/><circle cx="88.8" cy="205.4"/><circle cx="109.0" cy="225.7"/><circle cx="92.5" cy="194.9"/><circle cx="58.7" cy="198.4"/><circle cx="79.6" cy="221.9"/><circle cx="63.6" cy="217.9"/><circle cx="94.9" cy="208.7"/><circle cx="68.8" cy="206.1"/><circle cx="71.4" cy="188.8"/><circle cx="61.8" cy="215.9"/><circle cx="72.1" cy="192.4"/><circle cx="93.3" cy="183.2"/><circle cx="78.7" cy="275.8"/><circle cx="104.0" cy="196.2"/><circle cx="107.5" cy="226.7"/><circle cx="60.5" cy="198.6"/><circle cx="80.4" cy="229.5"/><circle cx="125.0" cy="220.8"/><circle cx="83.6" cy="183.8"/><circle cx="40.6" cy="262.7"/><circle cx="121.2" cy="214.7"/><circle cx="121.8" cy="200.7"/><circle cx="57.8" cy="199.9"/><circle cx="90.2" cy="212.8"/><circle cx="84.6" cy="210.2"/><circle cx="40.1" cy="215.6"/><circle cx="98.8" cy="230.9"/><circle cx="102.5" cy="257.8"/><circle cx="92.9" cy="226.9"/><circle cx="77.6" cy="203.9"/><circle cx="71.5" cy="216.9"/><circle cx="79.1" cy="217.7"/><circle cx="90.6" cy="223.7"/><circle cx="102.9" cy="198.3"/><circle cx="91.2" cy="220.8"/><circle cx="79.2" cy="179.3"/><circle cx="88.4" cy="221.4"/><circle cx="107.1" cy="223.4"/><circle cx="70.8" cy="230.3"/><circle cx="70.8" cy="221.2"/><circle cx="40.2" cy="208.7"/><circle cx="106.2" cy="211.4"/><circle cx="72.4" cy="193.2"/><circle cx="78.2" cy="277.3"/><circle cx="99.0" cy="240.8"/><circle cx="44.7" cy="229.7"/><circle cx="110.6" cy="228.0"/><circle cx="57.7" cy="209.0"/><circle cx="86.6" cy="238.1"/><circle cx="97.5" cy="224.2"/><circle cx="80.1" cy="242.5"/><circle cx="81.5" cy="244.1"/><circle cx="80.7" cy="200.3"/><circle cx="69.3" cy="198.1"/><circle cx="71.4" cy="215.3"/><circle cx="76.2" cy="223.1"/><circle cx="95.7" cy="221.8"/><circle cx="67.3" cy="214.8"/><circle cx="122.5" cy="207.2"/><circle cx="118.8" cy="196.4"/><circle cx="95.7" cy="199.6"/><circle cx="64.6" cy="222.5"/><circle cx="59.0" cy="215.3"/><circle cx="63.2" cy="203.1"/><circle cx="58.0" cy="224.6"/><circle cx="101.3" cy="205.4"/><circle cx="89.4" cy="181.1"/><circle cx="65.8" cy="204.6"/><circle cx="88.9" cy="248.5"/><circle cx="84.2" cy="225.7"/><circle cx="110.1" cy="182.2"/><circle cx="81.5" cy="188.5"/><circle cx="56.0" cy="251.9"/><circle cx="94.1" cy="203.7"/><circle cx="61.0" cy="209.8"/><circle cx="110.1" cy="207.9"/><circle cx="66.3" cy="225.2"/><circle cx="89.3" cy="212.7"/><circle cx="76.5" cy="217.3"/><circle cx="64.7" cy="206.1"/><circle cx="131.6" cy="219.4"/><circle cx="107.4" cy="199.4"/><circle cx="69.8" cy="213.9"/><circle cx="91.7" cy="214.1"/><circle cx="88.8" cy="224.8"/><circle cx="73.4" cy="240.1"/><circle cx="61.3" cy="192.0"/><circle cx="93.8" cy="232.9"/><circle cx="92.3" cy="263.9"/><circle cx="75.0" cy="237.0"/><circle cx="96.6" cy="189.9"/><circle cx="85.4" cy="210.6"/><circle cx="94.5" cy="206.8"/><circle cx="117.8" cy="219.7"/><circle cx="69.3" cy="190.2"/><circle cx="93.1" cy="189.1"/><circle cx="79.4" cy="210.7"/><circle cx="75.7" cy="217.6"/><circle cx="69.8" cy="223.3"/><circle cx="92.7" cy="217.7"/><circle cx="82.3" cy="208.5"/><circle cx="74.5" cy="205.9"/><circle cx="92.9" cy="191.4"/><circle cx="88.9" cy="217.7"/><circle cx="55.7" cy="204.7"/><circle cx="63.0" cy="240.9"/><circle cx="56.6" cy="206.4"/><circle cx="70.1" cy="194.9"/><circle cx="40.3" cy="233.4"/><circle cx="59.5" cy="220.4"/><circle cx="61.8" cy="195.7"/><circle cx="84.9" cy="215.1"/><circle cx="88.3" cy="223.0"/><circle cx="88.7" cy="199.0"/><circle cx="68.3" cy="224.7"/><circle cx="95.8" cy="206.5"/><circle cx="40.5" cy="239.8"/><circle cx="104.2" cy="209.5"/><circle cx="90.6" cy="183.9"/><circle cx="40.3" cy="272.0"/><circle cx="40.4" cy="223.5"/><circle cx="48.2" cy="198.5"/><circle cx="134.3" cy="198.2"/><circle cx="106.9" cy="203.0"/><circle cx="109.6" cy="225.9"/><circle cx="90.6" cy="207.8"/><circle cx="98.2" cy="262.7"/><circle cx="81.6" cy="198.3"/><circle cx="83.5" cy="214.0"/><circle cx="106.6" cy="197.6"/><circle cx="80.2" cy="204.7"/><circle cx="83.7" cy="230.2"/><circle cx="81.1" cy="214.5"/><circle cx="39.9" cy="246.3"/><circle cx="40.6" cy="218.5"/><circle cx="87.2" cy="221.2"/><circle cx="137.8" cy="235.6"/><circle cx="62.5" cy="210.2"/><circle cx="97.2" cy="242.2"/><circle cx="82.6" cy="220.0"/><circle cx="96.9" cy="206.1"/><circle cx="86.6" cy="216.0"/><circle cx="104.0" cy="200.1"/><circle cx="110.8" cy="209.1"/><circle cx="55.5" cy="213.0"/><circle cx="44.7" cy="215.1"/><circle cx="109.8" cy="208.4"/><circle cx="98.6" cy="204.1"/><circle cx="102.7" cy="222.2"/><circle cx="79.6" cy="225.8"/><circle cx="110.3" cy="235.6"/><circle cx="78.0" cy="184.8"/><circle cx="78.4" cy="206.3"/><circle cx="78.8" cy="223.7"/><circle cx="82.3" cy="249.2"/><circle cx="67.0" cy="225.2"/><circle cx="71.9" cy="191.4"/><circle cx="97.8" cy="214.4"/><circle cx="87.1" cy="206.0"/><circle cx="81.7" cy="196.6"/><circle cx="93.3" cy="223.6"/><circle cx="74.1" cy="204.8"/><circle cx="80.8" cy="212.9"/><circle cx="138.5" cy="219.5"/><circle cx="91.1" cy="223.6"/><circle cx="94.5" cy="220.8"/><circle cx="75.3" cy="213.4"/><circle cx="103.4" cy="181.5"/><circle cx="73.1" cy="274.5"/><circle cx="121.5" cy="235.9"/><circle cx="51.3" cy="194.8"/><circle cx="75.0" cy="225.8"/><circle cx="48.4" cy="187.7"/><circle cx="74.3" cy="235.8"/><circle cx="96.0" cy="213.8"/><circle cx="108.2" cy="225.4"/><circle cx="39.6" cy="248.4"/><circle cx="65.0" cy="242.6"/><circle cx="114.0" cy="215.1"/><circle cx="78.7" cy="205.5"/><circle cx="68.7" cy="204.5"/><circle cx="94.3" cy="194.7"/><circle cx="109.5" cy="210.3"/><circle cx="79.6" cy="226.5"/><circle cx="73.9" cy="210.2"/><circle cx="62.7" cy="220.0"/><circle cx="106.5" cy="232.6"/><circle cx="61.6" cy="251.0"/><circle cx="81.2" cy="230.3"/><circle cx="71.5" cy="210.4"/><circle cx="72.8" cy="232.0"/><circle cx="49.9" cy="220.6"/><circle cx="75.6" cy="213.9"/><circle cx="118.0" cy="195.8"/><circle cx="39.8" cy="274.7"/><circle cx="78.7" cy="206.1"/><circle cx="44.9" cy="235.6"/><circle cx="83.1" cy="238.3"/><circle cx="91.2" cy="257.2"/><circle cx="78.7" cy="210.5"/><circle cx="71.5" cy="224.9"/><circle cx="40.3" cy="189.9"/><circle cx="49.7" cy="224.0"/><circle cx="90.3" cy="183.4"/><circle cx="69.2" cy="194.8"/><circle cx="40.0" cy="217.4"/><circle cx="44.5" cy="217.4"/><circle cx="78.4" cy="192.5"/><circle cx="86.1" cy="214.9"/><circle cx="80.8" cy="235.5"/><circle cx="73.6" cy="202.2"/><circle cx="86.1" cy="213.5"/><circle cx="70.5" cy="246.2"/><circle cx="109.0" cy="215.3"/><circle cx="104.1" cy="189.4"/><circle cx="100.7" cy="222.3"/><circle cx="67.7" cy="202.7"/><circle cx="67.0" cy="238.2"/><circle cx="94.4" cy="200.3"/><circle cx="68.5" cy="204.9"/><circle cx="83.3" cy="239.1"/><circle cx="42.6" cy="191.2"/><circle cx="60.0" cy="272.1"/><circle cx="72.4" cy="216.9"/><circle cx="83.7" cy="196.9"/><circle cx="62.2" cy="203.1"/><circle cx="69.3" cy="207.7"/><circle cx="96.4" cy="226.5"/><circle cx="99.9" cy="189.6"/><circle cx="87.5" cy="196.1"/><circle cx="93.6" cy="175.6"/><circle cx="77.7" cy="256.8"/><circle cx="106.6" cy="193.2"/><circle cx="51.8" cy="183.0"/><circle cx="103.7" cy="232.5"/><circle cx="74.8" cy="189.8"/><circle cx="79.8" cy="203.2"/><circle cx="136.8" cy="221.0"/><circle cx="97.7" cy="202.2"/><circle cx="102.5" cy="202.4"/><circle cx="123.7" cy="229.0"/><circle cx="63.2" cy="246.7"/><circle cx="114.2" cy="222.4"/><circle cx="39.8" cy="219.1"/><circle cx="39.7" cy="210.2"/><circle cx="51.9" cy="229.4"/><circle cx="69.5" cy="192.4"/><circle cx="99.8" cy="201.8"/><circle cx="121.7" cy="211.3"/><circle cx="64.0" cy="229.5"/><circle cx="85.1" cy="227.9"/><circle cx="77.5" cy="262.8"/><circle cx="91.2" cy="198.6"/><circle cx="87.2" cy="223.3"/><circle cx="62.5" cy="221.2"/><circle cx="51.4" cy="247.8"/><circle cx="111.7" cy="227.2"/><circle cx="56.9" cy="222.9"/><circle cx="68.8" cy="250.1"/><circle cx="65.3" cy="204.2"/><circle cx="49.3" cy="227.6"/><circle cx="86.6" cy="218.1"/><circle cx="98.9" cy="234.4"/><circle cx="89.7" cy="233.6"/><circle cx="66.2" cy="202.8"/><circle cx="86.2" cy="230.8"/><circle cx="106.5" cy="219.0"/><circle cx="94.0" cy="191.5"/><circle cx="91.3" cy="220.8"/><circle cx="127.5" cy="244.7"/><circle cx="128.2" cy="242.5"/><circle cx="73.1" cy="190.2"/><circle cx="72.5" cy="209.0"/><circle cx="96.4" cy="216.3"/><circle cx="84.9" cy="231.7"/><circle cx="94.9" cy="194.6"/><circle cx="127.1" cy="191.0"/><circle cx="55.4" cy="217.1"/><circle cx="40.2" cy="261.9"/><circle cx="76.9" cy="207.0"/><circle cx="90.5" cy="203.1"/><circle cx="119.8" cy="219.9"/><circle cx="131.6" cy="210.8"/><circle cx="64.3" cy="244.8"/><circle cx="72.0" cy="197.1"/><circle cx="45.1" cy="211.5"/><circle cx="60.2" cy="207.0"/><circle cx="59.3" cy="187.0"/><circle cx="79.2" cy="192.5"/><circle cx="62.4" cy="187.6"/><circle cx="65.6" cy="242.0"/><circle cx="78.6" cy="211.3"/><circle cx="91.1" cy="253.0"/><circle cx="74.8" cy="175.9"/><circle cx="118.2" cy="209.1"/><circle cx="121.4" cy="230.4"/><circle cx="82.7" cy="211.4"/><circle cx="84.6" cy="221.3"/><circle cx="104.3" cy="240.2"/><circle cx="73.9" cy="190.7"/><circle cx="93.7" cy="224.2"/><circle cx="65.7" cy="227.5"/><circle cx="91.8" cy="213.9"/><circle cx="39.6" cy="222.1"/><circle cx="72.0" cy="218.0"/><circle cx="75.7" cy="223.9"/><circle cx="87.2" cy="238.6"/><circle cx="82.8" cy="224.1"/><circle cx="97.5" cy="233.7"/><circle cx="80.9" cy="279.0"/><circle cx="83.3" cy="251.8"/><circle cx="83.8" cy="184.9"/><circle cx="109.0" cy="211.2"/><circle cx="46.2" cy="223.9"/><circle cx="90.0" cy="202.7"/><circle cx="63.6" cy="205.2"/><circle cx="76.5" cy="226.4"/><circle cx="61.1" cy="224.4"/><circle cx="112.4" cy="200.8"/><circle cx="74.3" cy="237.0"/><circle cx="52.7" cy="231.3"/><circle cx="90.2" cy="206.5"/><circle cx="59.6" cy="185.3"/><circle cx="78.4" cy="218.3"/><circle cx="115.9" cy="213.6"/><circle cx="89.9" cy="223.0"/><circle cx="59.6" cy="221.2"/><circle cx="58.2" cy="188.9"/><circle cx="98.4" cy="191.9"/><circle cx="80.3" cy="233.5"/><circle cx="74.9" cy="229.8"/><circle cx="69.0" cy="201.9"/><circle cx="66.3" cy="217.1"/><circle cx="75.0" cy="219.0"/><circle cx="85.7" cy="218.6"/><circle cx="39.9" cy="231.4"/><circle cx="71.2" cy="283.9"/><circle cx="67.2" cy="254.8"/><circle cx="39.6" cy="229.2"/><circle cx="77.3" cy="208.0"/><circle cx="78.6" cy="221.0"/><circle cx="112.5" cy="203.6"/><circle cx="81.8" cy="229.7"/><circle cx="78.2" cy="207.6"/><circle cx="92.3" cy="189.2"/><circle cx="94.5" cy="178.9"/><circle cx="76.7" cy="246.8"/><circle cx="96.5" cy="243.7"/><circle cx="124.1" cy="185.6"/><circle cx="42.6" cy="189.9"/><circle cx="71.3" cy="234.5"/><circle cx="103.5" cy="195.1"/><circle cx="39.7" cy="240.2"/><circle cx="72.6" cy="239.2"/><circle cx="102.5" cy="216.1"/><circle cx="73.4" cy="239.9"/><circle cx="101.0" cy="213.9"/><circle cx="86.2" cy="192.2"/><circle cx="88.0" cy="216.5"/><circle cx="63.9" cy="202.4"/><circle cx="39.7" cy="218.5"/><circle cx="97.5" cy="212.4"/><circle cx="40.5" cy="268.2"/><circle cx="74.1" cy="220.4"/><circle cx="40.7" cy="202.0"/><circle cx="39.6" cy="230.1"/><circle cx="96.7" cy="190.2"/><circle cx="135.4" cy="227.4"/><circle cx="39.9" cy="226.1"/><circle cx="91.8" cy="184.4"/><circle cx="120.3" cy="245.1"/><circle cx="117.0" cy="190.0"/><circle cx="100.8" cy="192.1"/><circle cx="63.7" cy="179.9"/><circle cx="90.4" cy="241.8"/><circle cx="72.4" cy="221.9"/><circle cx="89.7" cy="199.3"/><circle cx="79.4" cy="195.7"/><circle cx="85.8" cy="194.7"/><circle cx="85.6" cy="199.6"/><circle cx="55.3" cy="207.5"/><circle cx="70.3" cy="225.0"/><circle cx="55.1" cy="246.5"/><circle cx="88.5" cy="231.9"/><circle cx="71.9" cy="225.4"/><circle cx="70.4" cy="233.7"/><circle cx="55.8" cy="218.6"/><circle cx="79.9" cy="199.0"/><circle cx="39.6" cy="199.7"/><circle cx="48.2" cy="224.2"/><circle cx="100.1" cy="221.7"/><circle cx="45.8" cy="197.9"/><circle cx="75.2" cy="229.7"/><circle cx="102.8" cy="176.1"/><circle cx="79.6" cy="209.0"/><circle cx="79.2" cy="224.3"/><circle cx="72.6" cy="201.7"/><circle cx="108.4" cy="228.2"/><circle cx="71.1" cy="249.3"/><circle cx="65.8" cy="208.4"/><circle cx="80.5" cy="208.8"/><circle cx="129.2" cy="207.3"/><circle cx="67.5" cy="177.6"/><circle cx="39.6" cy="225.6"/><circle cx="86.9" cy="219.8"/><circle cx="106.4" cy="208.7"/><circle cx="89.1" cy="246.8"/><circle cx="86.7" cy="229.1"/><circle cx="83.0" cy="233.2"/><circle cx="91.7" cy="214.7"/><circle cx="100.2" cy="211.8"/><circle cx="80.3" cy="218.0"/><circle cx="95.8" cy="223.8"/><circle cx="81.6" cy="213.4"/><circle cx="84.1" cy="248.2"/><circle cx="92.3" cy="182.3"/><circle cx="43.0" cy="232.4"/><circle cx="85.0" cy="208.2"/><circle cx="76.0" cy="221.8"/><circle cx="79.9" cy="215.0"/><circle cx="39.7" cy="239.3"/><circle cx="49.0" cy="211.7"/><circle cx="91.1" cy="218.8"/><circle cx="107.7" cy="249.9"/><circle cx="101.4" cy="225.0"/><circle cx="86.0" cy="206.0"/><circle cx="54.2" cy="200.1"/><circle cx="79.2" cy="246.3"/><circle cx="90.5" cy="200.4"/><circle cx="96.0" cy="191.6"/><circle cx="101.7" cy="190.4"/><circle cx="98.6" cy="203.4"/><circle cx="96.5" cy="202.0"/><circle cx="47.9" cy="265.1"/><circle cx="70.9" cy="242.2"/><circle cx="70.0" cy="201.1"/><circle cx="81.8" cy="260.8"/><circle cx="88.9" cy="217.2"/><circle cx="39.6" cy="217.2"/><circle cx="40.8" cy="207.8"/><circle cx="41.1" cy="222.2"/><circle cx="78.0" cy="197.9"/><circle cx="78.3" cy="227.5"/><circle cx="52.9" cy="203.1"/><circle cx="99.1" cy="212.9"/><circle cx="82.3" cy="213.2"/><circle cx="71.9" cy="222.0"/><circle cx="105.9" cy="195.7"/><circle cx="57.6" cy="218.1"/><circle cx="92.3" cy="207.0"/><circle cx="64.6" cy="215.2"/><circle cx="64.1" cy="200.1"/><circle cx="94.6" cy="222.2"/><circle cx="74.2" cy="207.6"/><circle cx="77.4" cy="213.8"/><circle cx="40.0" cy="271.0"/><circle cx="67.4" cy="241.2"/><circle cx="64.4" cy="253.6"/><circle cx="107.5" cy="202.4"/><circle cx="99.3" cy="203.3"/><circle cx="101.6" cy="210.3"/><circle cx="114.2" cy="207.7"/><circle cx="97.7" cy="221.5"/><circle cx="76.1" cy="236.9"/><circle cx="51.6" cy="218.1"/><circle cx="78.0" cy="266.8"/><circle cx="89.4" cy="217.8"/><circle cx="110.0" cy="190.5"/><circle cx="104.0" cy="219.6"/><circle cx="68.2" cy="204.4"/><circle cx="72.7" cy="208.4"/><circle cx="89.8" cy="219.5"/><circle cx="65.7" cy="221.1"/><circle cx="72.6" cy="193.9"/><circle cx="70.7" cy="192.4"/><circle cx="93.7" cy="228.7"/><circle cx="62.0" cy="216.2"/><circle cx="85.0" cy="220.4"/><circle cx="84.7" cy="218.3"/><circle cx="92.8" cy="199.5"/><circle cx="89.4" cy="200.6"/><circle cx="82.6" cy="226.2"/><circle cx="99.1" cy="198.3"/><circle cx="107.8" cy="213.3"/><circle cx="72.1" cy="231.6"/><circle cx="81.9" cy="248.6"/><circle cx="77.9" cy="209.6"/><circle cx="94.7" cy="215.6"/><circle cx="114.6" cy="192.3"/><circle cx="55.4" cy="225.9"/><circle cx="61.9" cy="221.7"/><circle cx="67.1" cy="221.4"/><circle cx="70.5" cy="228.5"/><circle cx="85.7" cy="184.9"/><circle cx="81.7" cy="204.9"/><circle cx="89.4" cy="240.2"/><circle cx="81.3" cy="207.2"/><circle cx="133.6" cy="228.1"/><circle cx="86.8" cy="185.4"/><circle cx="84.0" cy="224.1"/><circle cx="90.1" cy="198.3"/><circle cx="67.6" cy="223.5"/><circle cx="86.7" cy="243.7"/><circle cx="81.0" cy="230.6"/><circle cx="72.2" cy="225.5"/><circle cx="61.1" cy="206.3"/><circle cx="54.4" cy="217.2"/><circle cx="99.6" cy="209.0"/><circle cx="104.1" cy="239.7"/><circle cx="77.4" cy="245.2"/><circle cx="92.5" cy="212.4"/><circle cx="65.5" cy="223.9"/><circle cx="85.6" cy="206.1"/><circle cx="96.5" cy="205.2"/><circle cx="128.6" cy="223.4"/><circle cx="60.4" cy="224.4"/><circle cx="68.1" cy="204.4"/><circle cx="130.4" cy="205.7"/><circle cx="66.8" cy="209.9"/><circle cx="82.0" cy="252.0"/><circle cx="78.2" cy="208.0"/><circle cx="69.8" cy="222.3"/><circle cx="89.0" cy="229.3"/><circle cx="94.3" cy="184.0"/><circle cx="84.7" cy="218.8"/><circle cx="62.9" cy="222.3"/><circle cx="91.6" cy="199.6"/><circle cx="83.7" cy="197.6"/><circle cx="90.1" cy="195.4"/><circle cx="65.0" cy="193.8"/><circle cx="54.4" cy="216.2"/><circle cx="39.6" cy="232.1"/><circle cx="96.7" cy="211.2"/><circle cx="81.0" cy="210.0"/><circle cx="90.7" cy="201.7"/><circle cx="106.4" cy="213.3"/><circle cx="39.7" cy="236.4"/><circle cx="80.7" cy="228.6"/><circle cx="73.0" cy="232.4"/><circle cx="94.0" cy="196.0"/><circle cx="64.9" cy="229.3"/><circle cx="52.1" cy="198.6"/><circle cx="83.6" cy="269.4"/><circle cx="67.1" cy="216.5"/><circle cx="84.5" cy="219.9"/><circle cx="88.6" cy="232.3"/><circle cx="106.2" cy="244.6"/><circle cx="95.6" cy="249.7"/><circle cx="61.2" cy="209.3"/><circle cx="76.8" cy="231.3"/><circle cx="80.8" cy="236.7"/><circle cx="82.2" cy="186.1"/><circle cx="79.5" cy="237.5"/><circle cx="64.6" cy="209.4"/><circle cx="81.4" cy="215.5"/><circle cx="87.1" cy="187.5"/><circle cx="69.4" cy="220.9"/><circle cx="64.1" cy="227.1"/><circle cx="52.1" cy="188.3"/><circle cx="63.7" cy="215.1"/><circle cx="100.6" cy="230.8"/><circle cx="78.5" cy="222.9"/><circle cx="100.4" cy="217.7"/><circle cx="99.2" cy="222.5"/><circle cx="71.6" cy="235.4"/><circle cx="85.4" cy="186.4"/><circle cx="70.7" cy="198.5"/><circle cx="56.3" cy="212.2"/><circle cx="85.6" cy="205.5"/><circle cx="108.5" cy="225.8"/><circle cx="92.3" cy="208.2"/><circle cx="89.2" cy="184.7"/><circle cx="69.9" cy="193.9"/><circle cx="98.3" cy="204.4"/><circle cx="94.4" cy="214.8"/><circle cx="39.9" cy="242.5"/><circle cx="82.6" cy="219.6"/><circle cx="74.0" cy="206.0"/><circle cx="40.0" cy="219.0"/><circle cx="78.4" cy="222.8"/><circle cx="60.4" cy="216.9"/><circle cx="93.6" cy="208.3"/><circle cx="97.9" cy="204.1"/><circle cx="85.7" cy="222.7"/><circle cx="75.3" cy="187.7"/><circle cx="45.6" cy="222.7"/><circle cx="39.8" cy="208.0"/><circle cx="82.3" cy="184.9"/><circle cx="86.7" cy="238.4"/><circle cx="110.4" cy="218.6"/><circle cx="64.0" cy="215.3"/><circle cx="62.7" cy="194.5"/><circle cx="78.5" cy="215.6"/><circle cx="68.3" cy="228.4"/><circle cx="129.6" cy="225.7"/><circle cx="81.6" cy="234.8"/><circle cx="124.5" cy="206.1"/><circle cx="92.0" cy="211.4"/><circle cx="39.8" cy="224.3"/><circle cx="75.5" cy="223.9"/><circle cx="65.5" cy="247.7"/><circle cx="78.0" cy="202.3"/><circle cx="97.0" cy="218.4"/><circle cx="109.3" cy="230.3"/><circle cx="85.0" cy="189.2"/><circle cx="47.8" cy="197.5"/><circle cx="122.5" cy="217.8"/><circle cx="75.5" cy="213.7"/><circle cx="95.7" cy="230.0"/><circle cx="83.1" cy="230.0"/><circle cx="46.4" cy="250.1"/><circle cx="93.9" cy="231.5"/><circle cx="88.2" cy="203.7"/><circle cx="69.4" cy="223.6"/><circle cx="68.6" cy="235.2"/><circle cx="80.9" cy="214.4"/><circle cx="68.2" cy="219.4"/><circle cx="79.5" cy="225.9"/><circle cx="72.7" cy="212.9"/><circle cx="67.4" cy="216.4"/><circle cx="72.1" cy="209.5"/><circle cx="96.9" cy="202.6"/><circle cx="85.8" cy="203.5"/><circle cx="114.4" cy="262.0"/><circle cx="67.2" cy="191.4"/><circle cx="107.9" cy="234.3"/><circle cx="128.0" cy="234.7"/><circle cx="114.1" cy="195.2"/><circle cx="65.6" cy="197.5"/><circle cx="75.9" cy="214.1"/><circle cx="89.4" cy="238.3"/><circle cx="101.2" cy="223.7"/><circle cx="84.7" cy="207.0"/><circle cx="75.5" cy="196.3"/><circle cx="62.6" cy="212.6"/><circle cx="39.7" cy="219.3"/><circle cx="81.3" cy="234.0"/><circle cx="113.1" cy="205.5"/><circle cx="63.2" cy="208.8"/><circle cx="88.5" cy="224.4"/><circle cx="111.2" cy="204.7"/><circle cx="76.5" cy="211.1"/><circle cx="83.5" cy="226.4"/><circle cx="59.2" cy="200.6"/><circle cx="39.6" cy="242.0"/><circle cx="101.6" cy="219.8"/><circle cx="106.9" cy="215.8"/><circle cx="81.0" cy="243.8"/><circle cx="80.9" cy="186.4"/><circle cx="73.9" cy="218.9"/><circle cx="89.2" cy="249.3"/><circle cx="83.7" cy="237.3"/><circle cx="67.9" cy="262.7"/><circle cx="79.6" cy="227.5"/><circle cx="44.5" cy="224.9"/><circle cx="92.7" cy="215.5"/><circle cx="93.0" cy="220.7"/><circle cx="79.7" cy="232.7"/><circle cx="59.5" cy="241.8"/><circle cx="62.4" cy="219.3"/><circle cx="93.0" cy="191.4"/><circle cx="91.3" cy="225.1"/><circle cx="87.7" cy="194.7"/><circle cx="86.8" cy="195.8"/><circle cx="115.0" cy="234.1"/><circle cx="50.4" cy="192.5"/><circle cx="63.9" cy="205.5"/><circle cx="139.3" cy="264.1"/><circle cx="69.8" cy="227.4"/><circle cx="62.0" cy="239.9"/><circle cx="40.2" cy="222.8"/><circle cx="83.3" cy="224.6"/><circle cx="76.9" cy="188.9"/><circle cx="87.5" cy="225.4"/><circle cx="120.7" cy="209.4"/><circle cx="87.8" cy="209.8"/><circle cx="82.8" cy="225.5"/><circle cx="40.1" cy="232.8"/><circle cx="97.1" cy="204.3"/><circle cx="76.7" cy="267.1"/><circle cx="91.8" cy="198.4"/><circle cx="96.0" cy="246.9"/><circle cx="113.8" cy="230.4"/><circle cx="58.1" cy="223.3"/><circle cx="67.9" cy="214.2"/><circle cx="98.3" cy="213.9"/><circle cx="69.6" cy="191.1"/><circle cx="46.9" cy="254.7"/><circle cx="93.6" cy="199.0"/><circle cx="103.0" cy="230.0"/><circle cx="69.1" cy="235.5"/><circle cx="72.1" cy="252.5"/><circle cx="95.3" cy="244.6"/><circle cx="94.0" cy="222.7"/><circle cx="79.6" cy="187.7"/><circle cx="46.1" cy="254.0"/><circle cx="82.5" cy="204.9"/><circle cx="51.3" cy="201.0"/><circle cx="83.7" cy="177.9"/><circle cx="57.9" cy="221.9"/><circle cx="82.3" cy="212.9"/><circle cx="83.1" cy="208.2"/><circle cx="89.2" cy="215.2"/><circle cx="71.5" cy="228.2"/><circle cx="96.1" cy="208.0"/><circle cx="69.9" cy="218.1"/><circle cx="61.5" cy="235.7"/><circle cx="113.6" cy="190.2"/><circle cx="114.9" cy="197.0"/><circle cx="40.4" cy="238.9"/><circle cx="99.6" cy="211.5"/><circle cx="63.6" cy="196.4"/><circle cx="101.9" cy="239.3"/><circle cx="58.0" cy="240.6"/><circle cx="77.5" cy="198.2"/><circle cx="114.3" cy="177.8"/><circle cx="66.7" cy="238.0"/><circle cx="80.0" cy="214.3"/><circle cx="82.4" cy="209.1"/><circle cx="87.9" cy="213.2"/><circle cx="40.1" cy="248.4"/><circle cx="63.8" cy="231.4"/><circle cx="105.6" cy="225.9"/><circle cx="68.5" cy="224.4"/><circle cx="113.0" cy="220.8"/><circle cx="78.3" cy="259.5"/><circle cx="39.7" cy="222.3"/><circle cx="119.1" cy="244.1"/><circle cx="86.2" cy="227.4"/><circle cx="89.6" cy="198.3"/><circle cx="102.8" cy="212.1"/><circle cx="119.3" cy="232.1"/><circle cx="85.6" cy="213.3"/><circle cx="81.1" cy="211.4"/><circle cx="91.8" cy="211.9"/><circle cx="80.3" cy="206.0"/><circle cx="70.3" cy="215.6"/><circle cx="95.4" cy="216.9"/><circle cx="129.2" cy="210.6"/><circle cx="86.8" cy="208.6"/><circle cx="44.6" cy="239.9"/><circle cx="83.5" cy="215.0"/><circle cx="110.0" cy="222.3"/><circle cx="83.7" cy="197.4"/><circle cx="47.6" cy="251.2"/><circle cx="67.0" cy="213.9"/><circle cx="85.2" cy="221.3"/><circle cx="84.4" cy="220.3"/><circle cx="106.5" cy="288.8"/><circle cx="106.2" cy="213.4"/><circle cx="40.3" cy="241.1"/><circle cx="77.5" cy="200.3"/><circle cx="126.7" cy="220.6"/><circle cx="99.7" cy="203.1"/><circle cx="77.7" cy="226.6"/><circle cx="97.9" cy="214.4"/><circle cx="108.0" cy="233.4"/><circle cx="135.2" cy="228.6"/><circle cx="40.2" cy="259.8"/><circle cx="69.6" cy="223.3"/><circle cx="129.5" cy="198.4"/><circle cx="80.2" cy="182.1"/><circle cx="95.4" cy="230.4"/><circle cx="60.6" cy="201.8"/><circle cx="82.4" cy="206.9"/><circle cx="89.5" cy="215.8"/><circle cx="77.0" cy="202.5"/><circle cx="77.4" cy="232.3"/><circle cx="98.9" cy="215.2"/><circle cx="78.6" cy="209.0"/><circle cx="82.8" cy="218.9"/><circle cx="64.1" cy="190.2"/><circle cx="66.1" cy="221.5"/><circle cx="66.3" cy="215.4"/><circle cx="146.1" cy="232.0"/><circle cx="66.5" cy="210.2"/><circle cx="86.4" cy="211.1"/><circle cx="82.8" cy="226.4"/><circle cx="74.9" cy="222.7"/><circle cx="101.4" cy="227.1"/><circle cx="115.0" cy="221.1"/><circle cx="74.8" cy="189.9"/><circle cx="73.1" cy="211.7"/><circle cx="85.8" cy="196.1"/><circle cx="97.0" cy="222.8"/><circle cx="90.8" cy="220.9"/><circle cx="80.0" cy="222.5"/><circle cx="134.6" cy="213.2"/><circle cx="80.8" cy="227.1"/><circle cx="81.3" cy="228.7"/><circle cx="39.7" cy="227.9"/><circle cx="82.3" cy="190.4"/><circle cx="100.7" cy="242.5"/><circle cx="93.1" cy="223.3"/><circle cx="79.0" cy="221.9"/><circle cx="87.8" cy="281.7"/><circle cx="122.7" cy="210.4"/><circle cx="129.2" cy="220.7"/><circle cx="61.5" cy="214.4"/><circle cx="74.8" cy="236.4"/><circle cx="92.7" cy="216.8"/><circle cx="78.1" cy="228.6"/><circle cx="110.1" cy="203.8"/><circle cx="62.9" cy="241.2"/><circle cx="76.4" cy="215.9"/><circle cx="67.7" cy="210.3"/><circle cx="89.2" cy="219.8"/><circle cx="87.6" cy="244.8"/><circle cx="88.6" cy="225.6"/><circle cx="70.1" cy="218.0"/><circle cx="113.0" cy="207.1"/><circle cx="102.5" cy="205.5"/><circle cx="80.4" cy="239.8"/><circle cx="69.3" cy="223.0"/>
</g>
<path d="M40.0 217.7 L44.4 217.8 L48.8 217.9 L53.2 218.0 L57.6 218.0 L62.0 218.1 L66.4 218.1 L70.8 218.0 L75.2 218.0 L79.6 217.8 L84.0 217.6 L88.4 217.4 L92.8 217.1 L97.3 216.8 L101.7 216.4 L106.1 216.0 L110.5 215.6 L114.9 215.2 L119.3 214.8 L123.7 214.4 L128.1 213.9 L132.5 213.5 L136.9 213.1 L141.3 212.6 L145.7 212.2 L145.7 221.4 L141.3 221.3 L136.9 221.2 L132.5 221.1 L128.1 221.0 L123.7 220.8 L119.3 220.7 L114.9 220.7 L110.5 220.6 L106.1 220.5 L101.7 220.4 L97.3 220.4 L92.8 220.4 L88.4 220.4 L84.0 220.5 L79.6 220.6 L75.2 220.8 L70.8 221.1 L66.4 221.4 L62.0 221.7 L57.6 222.1 L53.2 222.5 L48.8 222.9 L44.4 223.3 L40.0 223.7 Z" fill="#999" fill-opacity="0.45"/>
<line x1="40.0" y1="220.7" x2="145.7" y2="216.8" stroke="#000" stroke-width="1.6"/>
<rect x="34.8" y="159.0" width="116.6" height="153.0" fill="none" stroke="#505050" stroke-width="1"/>
<line x1="42.4" y1="312.0" x2="42.4" y2="310.0" stroke="#333" stroke-width="0.8"/>
<text class="tk" transform="translate(42.40,319.20) scale(1,1.080)" text-anchor="middle">−2</text>
<line x1="80.4" y1="312.0" x2="80.4" y2="310.0" stroke="#333" stroke-width="0.8"/>
<text class="tk" transform="translate(80.40,319.20) scale(1,1.080)" text-anchor="middle">0</text>
<line x1="118.4" y1="312.0" x2="118.4" y2="310.0" stroke="#333" stroke-width="0.8"/>
<text class="tk" transform="translate(118.40,319.20) scale(1,1.080)" text-anchor="middle">2</text>
<line x1="34.8" y1="176.3" x2="36.8" y2="176.3" stroke="#333" stroke-width="0.8"/>
<text class="tk" transform="translate(33.20,178.56) scale(1,1.080)" text-anchor="end">2</text>
<line x1="34.8" y1="219.2" x2="36.8" y2="219.2" stroke="#333" stroke-width="0.8"/>
<text class="tk" transform="translate(33.20,221.50) scale(1,1.080)" text-anchor="end">0</text>
<line x1="34.8" y1="262.1" x2="36.8" y2="262.1" stroke="#333" stroke-width="0.8"/>
<text class="tk" transform="translate(33.20,264.44) scale(1,1.080)" text-anchor="end">−2</text>
<line x1="34.8" y1="305.1" x2="36.8" y2="305.1" stroke="#333" stroke-width="0.8"/>
<text class="tk" transform="translate(33.20,307.38) scale(1,1.080)" text-anchor="end">−4</text>
<g class="p">
<circle cx="241.3" cy="207.9"/><circle cx="199.4" cy="185.6"/><circle cx="210.7" cy="233.9"/><circle cx="172.5" cy="242.0"/><circle cx="192.7" cy="258.5"/><circle cx="207.8" cy="209.4"/><circle cx="220.3" cy="204.3"/><circle cx="193.4" cy="222.6"/><circle cx="208.3" cy="219.8"/><circle cx="215.9" cy="205.9"/><circle cx="217.7" cy="246.0"/><circle cx="200.1" cy="208.6"/><circle cx="244.3" cy="196.9"/><circle cx="212.6" cy="236.5"/><circle cx="210.7" cy="237.3"/><circle cx="255.2" cy="209.8"/><circle cx="235.8" cy="211.8"/><circle cx="175.9" cy="187.8"/><circle cx="173.2" cy="208.5"/><circle cx="251.5" cy="232.9"/><circle cx="238.3" cy="214.9"/><circle cx="201.8" cy="220.1"/><circle cx="202.4" cy="221.2"/><circle cx="202.2" cy="197.6"/><circle cx="256.5" cy="222.3"/><circle cx="202.0" cy="203.3"/><circle cx="181.8" cy="182.9"/><circle cx="194.7" cy="203.7"/><circle cx="212.3" cy="216.4"/><circle cx="187.9" cy="194.0"/><circle cx="214.3" cy="217.6"/><circle cx="194.5" cy="191.9"/><circle cx="211.1" cy="198.6"/><circle cx="243.9" cy="228.5"/><circle cx="203.7" cy="214.7"/><circle cx="216.0" cy="218.6"/><circle cx="224.0" cy="237.4"/><circle cx="235.9" cy="243.6"/><circle cx="226.2" cy="181.4"/><circle cx="218.9" cy="217.1"/><circle cx="241.4" cy="229.1"/><circle cx="216.1" cy="209.0"/><circle cx="230.4" cy="203.0"/><circle cx="220.1" cy="240.8"/><circle cx="218.6" cy="214.4"/><circle cx="261.4" cy="196.1"/><circle cx="234.7" cy="253.4"/><circle cx="201.7" cy="200.7"/><circle cx="172.9" cy="197.3"/><circle cx="209.0" cy="227.7"/><circle cx="215.6" cy="241.4"/><circle cx="191.5" cy="218.6"/><circle cx="222.7" cy="203.0"/><circle cx="200.6" cy="215.5"/><circle cx="195.7" cy="205.4"/><circle cx="189.7" cy="191.6"/><circle cx="217.3" cy="228.7"/><circle cx="255.8" cy="196.4"/><circle cx="241.0" cy="180.6"/><circle cx="219.9" cy="215.1"/><circle cx="235.9" cy="204.2"/><circle cx="233.4" cy="210.4"/><circle cx="216.9" cy="218.9"/><circle cx="202.3" cy="197.2"/><circle cx="210.3" cy="217.2"/><circle cx="202.6" cy="222.7"/><circle cx="244.1" cy="192.2"/><circle cx="250.8" cy="196.8"/><circle cx="270.0" cy="219.0"/><circle cx="255.2" cy="244.6"/><circle cx="257.7" cy="213.7"/><circle cx="214.7" cy="239.3"/><circle cx="186.2" cy="195.8"/><circle cx="199.7" cy="242.6"/><circle cx="250.2" cy="202.3"/><circle cx="209.4" cy="224.3"/><circle cx="239.3" cy="233.1"/><circle cx="219.5" cy="244.1"/><circle cx="193.5" cy="205.7"/><circle cx="216.6" cy="193.2"/><circle cx="228.6" cy="237.6"/><circle cx="186.9" cy="199.7"/><circle cx="172.5" cy="254.6"/><circle cx="218.4" cy="228.5"/><circle cx="206.2" cy="211.1"/><circle cx="208.6" cy="205.2"/><circle cx="192.4" cy="196.6"/><circle cx="202.9" cy="205.0"/><circle cx="226.6" cy="191.8"/><circle cx="206.5" cy="228.9"/><circle cx="231.3" cy="206.6"/><circle cx="227.9" cy="237.8"/><circle cx="211.8" cy="221.6"/><circle cx="248.0" cy="247.1"/><circle cx="191.9" cy="258.1"/><circle cx="210.9" cy="240.2"/><circle cx="221.7" cy="195.9"/><circle cx="222.8" cy="213.0"/><circle cx="271.4" cy="218.4"/><circle cx="270.2" cy="223.8"/><circle cx="207.7" cy="202.0"/><circle cx="196.2" cy="237.6"/><circle cx="227.4" cy="225.3"/><circle cx="217.8" cy="211.6"/><circle cx="212.7" cy="222.2"/><circle cx="172.8" cy="247.9"/><circle cx="208.8" cy="213.9"/><circle cx="177.9" cy="251.3"/><circle cx="251.6" cy="244.2"/><circle cx="190.8" cy="216.5"/><circle cx="253.5" cy="192.5"/><circle cx="195.0" cy="213.0"/><circle cx="215.6" cy="216.0"/><circle cx="222.7" cy="220.5"/><circle cx="204.0" cy="240.1"/><circle cx="192.3" cy="189.2"/><circle cx="222.4" cy="217.5"/><circle cx="230.1" cy="191.3"/><circle cx="200.1" cy="198.9"/><circle cx="263.3" cy="217.6"/><circle cx="202.1" cy="255.1"/><circle cx="250.7" cy="209.8"/><circle cx="234.4" cy="206.7"/><circle cx="225.9" cy="212.7"/><circle cx="221.7" cy="213.5"/><circle cx="197.7" cy="228.8"/><circle cx="231.7" cy="215.7"/><circle cx="243.5" cy="205.4"/><circle cx="217.1" cy="218.2"/><circle cx="195.7" cy="217.9"/><circle cx="190.6" cy="220.4"/><circle cx="209.2" cy="247.2"/><circle cx="214.8" cy="196.9"/><circle cx="172.7" cy="239.6"/><circle cx="194.2" cy="220.7"/><circle cx="226.7" cy="227.9"/><circle cx="188.6" cy="225.6"/><circle cx="207.6" cy="242.3"/><circle cx="196.9" cy="209.3"/><circle cx="173.5" cy="220.3"/><circle cx="228.2" cy="209.1"/><circle cx="186.6" cy="219.7"/><circle cx="198.2" cy="202.8"/><circle cx="183.9" cy="230.9"/><circle cx="206.8" cy="214.8"/><circle cx="223.4" cy="187.5"/><circle cx="228.3" cy="224.3"/><circle cx="200.6" cy="205.0"/><circle cx="220.1" cy="228.1"/><circle cx="231.0" cy="232.7"/><circle cx="207.6" cy="195.0"/><circle cx="204.4" cy="249.3"/><circle cx="242.2" cy="212.5"/><circle cx="247.8" cy="227.9"/><circle cx="262.3" cy="209.3"/><circle cx="239.6" cy="235.0"/><circle cx="236.8" cy="223.8"/><circle cx="212.7" cy="221.0"/><circle cx="215.9" cy="201.5"/><circle cx="226.5" cy="212.4"/><circle cx="211.8" cy="210.7"/><circle cx="226.3" cy="235.6"/><circle cx="215.2" cy="210.4"/><circle cx="226.5" cy="194.3"/><circle cx="188.7" cy="195.8"/><circle cx="209.4" cy="205.1"/><circle cx="240.8" cy="214.4"/><circle cx="217.8" cy="204.4"/><circle cx="221.1" cy="215.0"/><circle cx="186.8" cy="182.5"/><circle cx="217.3" cy="228.7"/><circle cx="210.5" cy="220.0"/><circle cx="216.9" cy="227.9"/><circle cx="178.2" cy="226.4"/><circle cx="216.9" cy="223.8"/><circle cx="210.4" cy="198.5"/><circle cx="172.7" cy="225.4"/><circle cx="231.9" cy="218.4"/><circle cx="234.7" cy="209.6"/><circle cx="226.0" cy="194.3"/><circle cx="172.2" cy="227.2"/><circle cx="206.2" cy="237.3"/><circle cx="216.1" cy="216.5"/><circle cx="275.7" cy="209.8"/><circle cx="204.2" cy="211.2"/><circle cx="213.3" cy="203.0"/><circle cx="215.2" cy="238.8"/><circle cx="172.8" cy="224.0"/><circle cx="210.5" cy="271.2"/><circle cx="200.0" cy="240.1"/><circle cx="177.6" cy="178.8"/><circle cx="260.9" cy="242.8"/><circle cx="207.3" cy="195.9"/><circle cx="205.3" cy="231.9"/><circle cx="172.4" cy="241.5"/><circle cx="177.8" cy="278.7"/><circle cx="248.8" cy="198.0"/><circle cx="229.6" cy="220.5"/><circle cx="251.0" cy="201.2"/><circle cx="244.5" cy="212.7"/><circle cx="172.3" cy="258.7"/><circle cx="191.0" cy="214.9"/><circle cx="203.9" cy="193.8"/><circle cx="205.7" cy="215.6"/><circle cx="192.0" cy="194.7"/><circle cx="212.0" cy="213.9"/><circle cx="209.1" cy="214.2"/><circle cx="210.2" cy="210.0"/><circle cx="276.2" cy="230.5"/><circle cx="226.7" cy="282.1"/><circle cx="212.5" cy="205.4"/><circle cx="235.4" cy="229.4"/><circle cx="273.8" cy="200.2"/><circle cx="227.8" cy="249.2"/><circle cx="206.0" cy="212.9"/><circle cx="207.6" cy="206.8"/><circle cx="228.8" cy="210.7"/><circle cx="213.0" cy="197.4"/><circle cx="242.3" cy="227.0"/><circle cx="236.9" cy="200.5"/><circle cx="212.0" cy="209.4"/><circle cx="214.9" cy="208.2"/><circle cx="223.7" cy="259.4"/><circle cx="212.2" cy="177.0"/><circle cx="238.7" cy="192.7"/><circle cx="215.5" cy="266.9"/><circle cx="246.5" cy="266.0"/><circle cx="232.5" cy="218.4"/><circle cx="247.2" cy="192.9"/><circle cx="241.8" cy="255.3"/><circle cx="224.3" cy="233.5"/><circle cx="235.1" cy="217.2"/><circle cx="229.9" cy="232.8"/><circle cx="190.9" cy="225.6"/><circle cx="189.8" cy="201.8"/><circle cx="178.7" cy="217.1"/><circle cx="186.3" cy="223.7"/><circle cx="206.2" cy="199.2"/><circle cx="199.0" cy="235.4"/><circle cx="210.5" cy="210.4"/><circle cx="245.5" cy="230.0"/><circle cx="227.1" cy="218.7"/><circle cx="243.5" cy="210.4"/><circle cx="220.0" cy="196.9"/><circle cx="258.0" cy="244.1"/><circle cx="198.7" cy="189.0"/><circle cx="208.9" cy="223.7"/><circle cx="202.6" cy="185.9"/><circle cx="213.1" cy="210.8"/><circle cx="260.0" cy="240.7"/><circle cx="204.1" cy="235.3"/><circle cx="235.3" cy="212.3"/><circle cx="210.4" cy="201.1"/><circle cx="196.8" cy="207.9"/><circle cx="261.0" cy="203.7"/><circle cx="212.1" cy="205.5"/><circle cx="186.7" cy="223.6"/><circle cx="256.9" cy="224.2"/><circle cx="203.8" cy="220.9"/><circle cx="203.4" cy="192.6"/><circle cx="186.2" cy="234.1"/><circle cx="229.3" cy="201.3"/><circle cx="202.0" cy="216.5"/><circle cx="195.9" cy="200.9"/><circle cx="204.6" cy="232.4"/><circle cx="205.4" cy="276.2"/><circle cx="195.5" cy="215.2"/><circle cx="254.8" cy="256.4"/><circle cx="226.8" cy="215.4"/><circle cx="212.7" cy="219.8"/><circle cx="172.7" cy="215.9"/><circle cx="206.7" cy="213.3"/><circle cx="217.0" cy="204.1"/><circle cx="251.2" cy="193.3"/><circle cx="248.0" cy="206.6"/><circle cx="187.8" cy="234.0"/><circle cx="210.0" cy="234.7"/><circle cx="195.1" cy="202.5"/><circle cx="187.9" cy="194.4"/><circle cx="203.5" cy="227.5"/><circle cx="225.0" cy="193.3"/><circle cx="212.9" cy="233.2"/><circle cx="218.7" cy="211.1"/><circle cx="219.3" cy="192.4"/><circle cx="202.9" cy="194.7"/><circle cx="203.3" cy="224.4"/><circle cx="230.7" cy="239.9"/><circle cx="243.5" cy="209.1"/><circle cx="221.8" cy="207.0"/><circle cx="229.3" cy="239.9"/><circle cx="173.9" cy="243.7"/><circle cx="200.2" cy="212.2"/><circle cx="200.1" cy="208.2"/><circle cx="231.4" cy="200.5"/><circle cx="181.8" cy="243.3"/><circle cx="252.9" cy="204.8"/><circle cx="172.2" cy="221.2"/><circle cx="187.1" cy="212.8"/><circle cx="242.5" cy="218.9"/><circle cx="214.3" cy="244.6"/><circle cx="210.2" cy="203.2"/><circle cx="227.8" cy="195.2"/><circle cx="198.9" cy="222.7"/><circle cx="173.2" cy="244.4"/><circle cx="275.1" cy="192.6"/><circle cx="198.8" cy="199.0"/><circle cx="203.5" cy="241.3"/><circle cx="235.1" cy="200.2"/><circle cx="209.7" cy="212.6"/><circle cx="221.3" cy="235.6"/><circle cx="179.6" cy="217.8"/><circle cx="219.4" cy="220.7"/><circle cx="258.7" cy="214.8"/><circle cx="226.1" cy="227.1"/><circle cx="217.8" cy="265.5"/><circle cx="229.1" cy="220.2"/><circle cx="191.5" cy="242.9"/><circle cx="190.4" cy="215.2"/><circle cx="233.5" cy="196.5"/><circle cx="195.9" cy="200.7"/><circle cx="228.6" cy="217.4"/><circle cx="222.5" cy="235.4"/><circle cx="195.5" cy="265.4"/><circle cx="179.6" cy="240.8"/><circle cx="221.2" cy="198.9"/><circle cx="223.9" cy="213.7"/><circle cx="229.0" cy="205.4"/><circle cx="208.0" cy="226.6"/><circle cx="231.5" cy="219.9"/><circle cx="201.3" cy="222.1"/><circle cx="204.5" cy="249.3"/><circle cx="234.1" cy="219.8"/><circle cx="213.5" cy="259.5"/><circle cx="196.1" cy="216.5"/><circle cx="206.0" cy="231.9"/><circle cx="212.4" cy="217.6"/><circle cx="203.4" cy="220.7"/><circle cx="243.2" cy="213.4"/><circle cx="172.4" cy="238.9"/><circle cx="182.6" cy="207.8"/><circle cx="221.1" cy="206.5"/><circle cx="213.6" cy="215.9"/><circle cx="189.0" cy="201.0"/><circle cx="197.8" cy="190.5"/><circle cx="244.8" cy="251.0"/><circle cx="201.8" cy="178.9"/><circle cx="205.4" cy="204.8"/><circle cx="207.6" cy="182.0"/><circle cx="217.2" cy="187.6"/><circle cx="196.3" cy="220.1"/><circle cx="204.8" cy="212.3"/><circle cx="214.2" cy="202.8"/><circle cx="221.3" cy="193.1"/><circle cx="203.6" cy="250.5"/><circle cx="235.2" cy="206.9"/><circle cx="217.3" cy="208.5"/><circle cx="227.8" cy="189.0"/><circle cx="246.4" cy="226.5"/><circle cx="212.9" cy="187.4"/><circle cx="277.1" cy="229.9"/><circle cx="211.5" cy="236.8"/><circle cx="178.5" cy="193.2"/><circle cx="220.6" cy="201.0"/><circle cx="198.1" cy="204.2"/><circle cx="278.0" cy="209.4"/><circle cx="219.6" cy="244.4"/><circle cx="204.4" cy="205.6"/><circle cx="198.3" cy="192.4"/><circle cx="204.5" cy="182.3"/><circle cx="211.9" cy="242.1"/><circle cx="239.1" cy="181.0"/><circle cx="219.1" cy="206.8"/><circle cx="216.1" cy="210.9"/><circle cx="196.2" cy="199.9"/><circle cx="225.7" cy="223.8"/><circle cx="230.1" cy="220.3"/><circle cx="191.5" cy="235.7"/><circle cx="189.0" cy="202.3"/><circle cx="241.2" cy="259.2"/><circle cx="204.9" cy="199.5"/><circle cx="242.8" cy="210.4"/><circle cx="212.6" cy="234.3"/><circle cx="263.7" cy="247.6"/><circle cx="203.6" cy="225.7"/><circle cx="221.9" cy="203.2"/><circle cx="263.2" cy="192.3"/><circle cx="218.4" cy="240.7"/><circle cx="198.1" cy="194.5"/><circle cx="201.9" cy="182.7"/><circle cx="173.2" cy="232.8"/><circle cx="212.4" cy="208.1"/><circle cx="257.1" cy="184.9"/><circle cx="218.4" cy="254.2"/><circle cx="258.3" cy="185.6"/><circle cx="228.5" cy="193.6"/><circle cx="236.3" cy="215.9"/><circle cx="182.9" cy="229.8"/><circle cx="230.0" cy="234.2"/><circle cx="190.1" cy="188.1"/><circle cx="219.5" cy="182.4"/><circle cx="240.5" cy="216.2"/><circle cx="223.4" cy="199.8"/><circle cx="187.7" cy="184.6"/><circle cx="213.6" cy="210.9"/><circle cx="232.0" cy="184.4"/><circle cx="172.6" cy="187.8"/><circle cx="220.9" cy="215.2"/><circle cx="211.6" cy="208.4"/><circle cx="255.2" cy="206.3"/><circle cx="221.0" cy="204.1"/><circle cx="172.5" cy="261.7"/><circle cx="220.5" cy="193.1"/><circle cx="209.2" cy="225.8"/><circle cx="174.0" cy="227.3"/><circle cx="172.1" cy="231.0"/><circle cx="233.0" cy="187.5"/><circle cx="207.6" cy="204.4"/><circle cx="216.6" cy="210.4"/><circle cx="231.5" cy="206.7"/><circle cx="199.6" cy="191.1"/><circle cx="254.7" cy="246.7"/><circle cx="172.8" cy="245.1"/><circle cx="234.7" cy="244.1"/><circle cx="240.9" cy="208.6"/><circle cx="202.7" cy="207.1"/><circle cx="210.2" cy="223.6"/><circle cx="229.3" cy="200.3"/><circle cx="247.1" cy="219.3"/><circle cx="214.8" cy="242.6"/><circle cx="215.3" cy="267.6"/><circle cx="200.4" cy="204.3"/><circle cx="197.3" cy="211.9"/><circle cx="188.9" cy="213.6"/><circle cx="236.7" cy="230.6"/><circle cx="260.3" cy="200.8"/><circle cx="192.0" cy="214.1"/><circle cx="177.3" cy="247.8"/><circle cx="204.1" cy="208.1"/><circle cx="200.7" cy="230.7"/><circle cx="199.7" cy="213.3"/><circle cx="198.3" cy="208.4"/><circle cx="203.6" cy="262.6"/><circle cx="275.6" cy="202.6"/><circle cx="172.1" cy="229.2"/><circle cx="215.6" cy="215.9"/><circle cx="198.5" cy="200.4"/><circle cx="213.6" cy="240.6"/><circle cx="225.0" cy="208.7"/><circle cx="222.6" cy="255.9"/><circle cx="236.5" cy="256.6"/><circle cx="233.2" cy="214.0"/><circle cx="172.9" cy="218.6"/><circle cx="252.1" cy="222.0"/><circle cx="195.1" cy="227.1"/><circle cx="192.5" cy="229.4"/><circle cx="211.6" cy="241.2"/><circle cx="202.3" cy="205.5"/><circle cx="215.5" cy="197.0"/><circle cx="224.3" cy="203.0"/><circle cx="256.7" cy="218.6"/><circle cx="264.3" cy="188.7"/><circle cx="207.4" cy="213.7"/><circle cx="232.6" cy="217.8"/><circle cx="231.3" cy="243.6"/><circle cx="175.2" cy="239.9"/><circle cx="213.9" cy="222.6"/><circle cx="211.0" cy="206.0"/><circle cx="269.6" cy="177.8"/><circle cx="208.6" cy="247.3"/><circle cx="235.9" cy="192.6"/><circle cx="195.7" cy="242.5"/><circle cx="221.5" cy="232.2"/><circle cx="201.7" cy="205.1"/><circle cx="173.2" cy="221.4"/><circle cx="208.8" cy="248.6"/><circle cx="173.2" cy="267.1"/><circle cx="210.3" cy="209.7"/><circle cx="234.7" cy="202.9"/><circle cx="204.3" cy="207.3"/><circle cx="246.6" cy="215.8"/><circle cx="190.4" cy="213.6"/><circle cx="207.3" cy="201.8"/><circle cx="211.1" cy="210.7"/><circle cx="214.2" cy="207.5"/><circle cx="198.5" cy="252.1"/><circle cx="218.3" cy="217.3"/><circle cx="209.4" cy="212.5"/><circle cx="197.0" cy="222.7"/><circle cx="228.7" cy="193.9"/><circle cx="223.4" cy="194.5"/><circle cx="242.0" cy="187.6"/><circle cx="181.2" cy="213.0"/><circle cx="233.1" cy="209.0"/><circle cx="215.9" cy="209.4"/><circle cx="223.7" cy="191.7"/><circle cx="188.8" cy="226.2"/><circle cx="256.9" cy="203.3"/><circle cx="238.0" cy="207.1"/><circle cx="264.8" cy="204.8"/><circle cx="228.4" cy="200.7"/><circle cx="244.4" cy="265.9"/><circle cx="230.9" cy="236.0"/><circle cx="230.4" cy="222.8"/><circle cx="172.7" cy="225.4"/><circle cx="204.6" cy="254.9"/><circle cx="211.0" cy="224.0"/><circle cx="172.3" cy="235.0"/><circle cx="210.4" cy="233.8"/><circle cx="241.0" cy="204.1"/><circle cx="172.9" cy="252.1"/><circle cx="245.3" cy="211.8"/><circle cx="175.5" cy="222.4"/><circle cx="203.3" cy="228.7"/><circle cx="229.3" cy="201.7"/><circle cx="200.7" cy="197.9"/><circle cx="181.7" cy="228.5"/><circle cx="230.6" cy="234.4"/><circle cx="175.6" cy="218.1"/><circle cx="222.5" cy="192.0"/><circle cx="277.1" cy="220.9"/><circle cx="197.6" cy="236.4"/><circle cx="197.8" cy="222.3"/><circle cx="198.7" cy="208.6"/><circle cx="249.9" cy="213.5"/><circle cx="233.2" cy="238.7"/><circle cx="204.2" cy="227.7"/><circle cx="204.3" cy="196.7"/><circle cx="220.0" cy="238.1"/><circle cx="189.5" cy="207.2"/><circle cx="179.8" cy="225.4"/><circle cx="185.0" cy="198.5"/><circle cx="208.3" cy="209.1"/><circle cx="213.5" cy="218.2"/><circle cx="196.8" cy="199.5"/><circle cx="205.0" cy="252.0"/><circle cx="208.9" cy="233.9"/><circle cx="213.4" cy="193.2"/><circle cx="197.3" cy="207.5"/><circle cx="230.1" cy="202.4"/><circle cx="251.2" cy="205.1"/><circle cx="223.4" cy="212.2"/><circle cx="173.2" cy="244.5"/><circle cx="260.9" cy="212.3"/><circle cx="222.9" cy="194.4"/><circle cx="237.1" cy="221.2"/><circle cx="237.5" cy="231.7"/><circle cx="242.2" cy="230.5"/><circle cx="185.6" cy="200.4"/><circle cx="204.2" cy="265.7"/><circle cx="222.4" cy="199.2"/><circle cx="191.9" cy="186.3"/><circle cx="194.8" cy="226.8"/><circle cx="180.0" cy="230.5"/><circle cx="239.0" cy="211.2"/><circle cx="233.6" cy="234.1"/><circle cx="194.5" cy="191.2"/><circle cx="242.6" cy="217.6"/><circle cx="241.1" cy="224.6"/><circle cx="182.0" cy="205.0"/><circle cx="214.3" cy="244.6"/><circle cx="253.5" cy="206.1"/><circle cx="221.5" cy="264.9"/><circle cx="204.5" cy="208.9"/><circle cx="233.7" cy="196.9"/><circle cx="219.2" cy="213.5"/><circle cx="196.9" cy="240.5"/><circle cx="270.3" cy="194.1"/><circle cx="177.7" cy="214.4"/><circle cx="231.9" cy="214.8"/><circle cx="190.1" cy="200.5"/><circle cx="218.7" cy="189.4"/><circle cx="228.2" cy="236.7"/><circle cx="216.7" cy="185.5"/><circle cx="242.9" cy="221.3"/><circle cx="221.5" cy="235.5"/><circle cx="198.6" cy="242.6"/><circle cx="211.6" cy="216.9"/><circle cx="217.6" cy="206.7"/><circle cx="209.0" cy="232.2"/><circle cx="187.6" cy="205.0"/><circle cx="193.5" cy="194.4"/><circle cx="180.4" cy="218.7"/><circle cx="172.7" cy="212.0"/><circle cx="206.1" cy="203.5"/><circle cx="219.8" cy="196.6"/><circle cx="210.7" cy="201.0"/><circle cx="195.9" cy="220.1"/><circle cx="216.0" cy="229.9"/><circle cx="195.0" cy="211.5"/><circle cx="212.8" cy="233.1"/><circle cx="182.7" cy="236.5"/><circle cx="201.9" cy="197.4"/><circle cx="172.4" cy="257.5"/><circle cx="188.3" cy="224.7"/><circle cx="240.6" cy="233.0"/><circle cx="208.7" cy="205.6"/><circle cx="218.0" cy="191.9"/><circle cx="172.6" cy="229.2"/><circle cx="209.2" cy="236.1"/><circle cx="223.2" cy="206.5"/><circle cx="196.2" cy="187.5"/><circle cx="192.4" cy="228.9"/><circle cx="231.0" cy="181.1"/><circle cx="229.2" cy="229.4"/><circle cx="205.8" cy="211.9"/><circle cx="206.6" cy="197.1"/><circle cx="259.7" cy="219.3"/><circle cx="258.8" cy="206.4"/><circle cx="208.8" cy="193.9"/><circle cx="240.6" cy="223.2"/><circle cx="214.2" cy="224.3"/><circle cx="194.2" cy="219.0"/><circle cx="187.9" cy="235.4"/><circle cx="252.1" cy="220.8"/><circle cx="221.6" cy="215.3"/><circle cx="202.5" cy="216.3"/><circle cx="212.8" cy="237.0"/><circle cx="245.5" cy="202.3"/><circle cx="231.2" cy="226.8"/><circle cx="270.9" cy="232.9"/><circle cx="213.2" cy="224.0"/><circle cx="202.9" cy="243.7"/><circle cx="184.8" cy="219.2"/><circle cx="226.7" cy="202.2"/><circle cx="198.1" cy="233.6"/><circle cx="212.9" cy="251.8"/><circle cx="246.5" cy="251.0"/><circle cx="268.8" cy="217.4"/><circle cx="196.3" cy="202.6"/><circle cx="195.1" cy="203.7"/><circle cx="203.0" cy="223.2"/><circle cx="225.7" cy="225.0"/><circle cx="211.9" cy="209.7"/><circle cx="235.8" cy="219.9"/><circle cx="235.9" cy="211.9"/><circle cx="220.3" cy="199.5"/><circle cx="248.3" cy="244.5"/><circle cx="196.4" cy="207.9"/><circle cx="219.5" cy="214.9"/><circle cx="213.1" cy="212.0"/><circle cx="218.4" cy="220.9"/><circle cx="218.4" cy="200.1"/><circle cx="204.1" cy="195.2"/><circle cx="266.8" cy="194.8"/><circle cx="217.9" cy="188.0"/><circle cx="175.2" cy="226.0"/><circle cx="232.6" cy="216.0"/><circle cx="225.8" cy="191.6"/><circle cx="235.1" cy="222.4"/><circle cx="237.2" cy="205.8"/><circle cx="234.3" cy="242.1"/><circle cx="172.7" cy="240.2"/><circle cx="172.4" cy="241.5"/><circle cx="210.5" cy="213.3"/><circle cx="215.1" cy="193.1"/><circle cx="222.4" cy="223.1"/><circle cx="185.5" cy="190.1"/><circle cx="219.9" cy="227.9"/><circle cx="211.8" cy="207.3"/><circle cx="236.6" cy="207.6"/><circle cx="201.5" cy="203.2"/><circle cx="245.5" cy="212.7"/><circle cx="176.0" cy="211.9"/><circle cx="177.9" cy="205.7"/><circle cx="218.1" cy="187.6"/><circle cx="216.6" cy="243.1"/><circle cx="227.3" cy="209.6"/><circle cx="240.7" cy="198.6"/><circle cx="215.8" cy="180.0"/><circle cx="204.4" cy="199.4"/><circle cx="199.7" cy="200.1"/><circle cx="206.8" cy="216.3"/><circle cx="218.0" cy="206.7"/><circle cx="223.6" cy="197.0"/><circle cx="257.9" cy="249.5"/><circle cx="213.3" cy="234.5"/><circle cx="253.7" cy="247.3"/><circle cx="214.6" cy="198.2"/><circle cx="270.8" cy="213.3"/><circle cx="209.4" cy="197.4"/><circle cx="213.2" cy="226.4"/><circle cx="202.6" cy="233.0"/><circle cx="219.0" cy="224.9"/><circle cx="186.3" cy="209.9"/><circle cx="213.7" cy="205.2"/><circle cx="214.8" cy="204.3"/><circle cx="223.7" cy="206.9"/><circle cx="222.7" cy="210.2"/><circle cx="245.8" cy="249.0"/><circle cx="186.9" cy="202.6"/><circle cx="223.8" cy="207.5"/><circle cx="243.9" cy="241.5"/><circle cx="209.3" cy="237.9"/><circle cx="249.2" cy="211.6"/><circle cx="192.5" cy="214.2"/><circle cx="242.1" cy="193.0"/><circle cx="201.1" cy="198.6"/><circle cx="188.0" cy="214.5"/><circle cx="197.6" cy="227.2"/><circle cx="173.4" cy="231.2"/><circle cx="186.8" cy="212.7"/><circle cx="264.4" cy="217.2"/><circle cx="211.8" cy="245.7"/><circle cx="194.6" cy="204.5"/><circle cx="174.0" cy="226.2"/><circle cx="264.7" cy="234.7"/><circle cx="224.0" cy="203.2"/><circle cx="225.6" cy="226.6"/><circle cx="220.3" cy="230.7"/><circle cx="201.0" cy="215.9"/><circle cx="203.5" cy="216.1"/><circle cx="232.3" cy="212.1"/><circle cx="221.0" cy="212.3"/><circle cx="226.1" cy="224.0"/><circle cx="220.4" cy="205.4"/><circle cx="229.4" cy="232.6"/><circle cx="235.0" cy="202.3"/><circle cx="186.9" cy="229.3"/><circle cx="210.5" cy="208.9"/><circle cx="236.6" cy="205.3"/><circle cx="207.4" cy="202.0"/><circle cx="222.6" cy="236.8"/><circle cx="203.8" cy="191.8"/><circle cx="188.9" cy="219.2"/><circle cx="192.7" cy="217.1"/><circle cx="198.5" cy="236.0"/><circle cx="172.4" cy="252.1"/><circle cx="205.9" cy="246.2"/><circle cx="197.0" cy="183.9"/><circle cx="207.5" cy="207.5"/><circle cx="233.7" cy="235.6"/><circle cx="172.7" cy="214.7"/><circle cx="201.0" cy="217.4"/><circle cx="260.2" cy="200.5"/><circle cx="172.3" cy="234.1"/><circle cx="220.6" cy="214.7"/><circle cx="221.4" cy="231.2"/><circle cx="195.9" cy="182.7"/><circle cx="218.1" cy="229.9"/><circle cx="206.9" cy="214.7"/><circle cx="239.4" cy="208.3"/><circle cx="233.7" cy="251.8"/><circle cx="245.6" cy="199.7"/><circle cx="212.1" cy="205.5"/><circle cx="227.7" cy="227.7"/><circle cx="209.5" cy="196.7"/><circle cx="221.7" cy="221.7"/><circle cx="239.8" cy="207.6"/><circle cx="226.3" cy="216.3"/><circle cx="241.9" cy="214.5"/><circle cx="228.6" cy="224.5"/><circle cx="199.3" cy="277.0"/><circle cx="236.6" cy="254.0"/><circle cx="224.2" cy="183.7"/><circle cx="172.6" cy="214.8"/><circle cx="239.0" cy="244.9"/><circle cx="222.3" cy="257.0"/><circle cx="247.7" cy="201.4"/><circle cx="202.5" cy="215.0"/><circle cx="236.2" cy="220.9"/><circle cx="192.9" cy="204.0"/><circle cx="267.3" cy="193.9"/><circle cx="278.0" cy="206.3"/><circle cx="211.0" cy="208.1"/><circle cx="210.4" cy="217.0"/><circle cx="253.9" cy="185.0"/><circle cx="200.8" cy="251.9"/><circle cx="172.8" cy="207.4"/><circle cx="173.6" cy="234.8"/><circle cx="193.0" cy="192.5"/><circle cx="202.2" cy="244.7"/><circle cx="250.9" cy="211.3"/><circle cx="226.3" cy="208.6"/><circle cx="209.8" cy="235.8"/><circle cx="186.3" cy="291.8"/><circle cx="212.5" cy="232.9"/><circle cx="181.2" cy="258.7"/><circle cx="273.3" cy="207.5"/><circle cx="217.5" cy="200.7"/><circle cx="238.8" cy="220.9"/><circle cx="214.5" cy="196.0"/><circle cx="232.4" cy="205.1"/><circle cx="209.4" cy="220.2"/><circle cx="173.1" cy="242.6"/><circle cx="182.0" cy="224.5"/><circle cx="193.8" cy="216.8"/><circle cx="198.5" cy="225.7"/><circle cx="194.2" cy="220.8"/><circle cx="192.5" cy="239.9"/><circle cx="228.1" cy="215.8"/><circle cx="229.3" cy="250.6"/><circle cx="213.5" cy="203.5"/><circle cx="241.2" cy="200.3"/><circle cx="177.1" cy="220.6"/><circle cx="191.8" cy="213.5"/><circle cx="239.0" cy="201.5"/><circle cx="210.2" cy="235.3"/><circle cx="235.5" cy="228.9"/><circle cx="221.4" cy="211.1"/><circle cx="230.9" cy="221.1"/><circle cx="226.7" cy="210.6"/><circle cx="180.8" cy="185.2"/><circle cx="215.7" cy="210.8"/><circle cx="213.2" cy="210.2"/><circle cx="193.4" cy="225.0"/><circle cx="220.5" cy="232.2"/><circle cx="269.6" cy="232.5"/><circle cx="255.4" cy="210.5"/><circle cx="230.6" cy="241.9"/><circle cx="259.0" cy="205.7"/><circle cx="203.3" cy="204.0"/><circle cx="231.7" cy="228.9"/><circle cx="193.2" cy="206.5"/><circle cx="210.0" cy="242.5"/><circle cx="200.3" cy="213.2"/><circle cx="260.2" cy="278.1"/><circle cx="172.9" cy="218.2"/><circle cx="214.7" cy="216.3"/><circle cx="255.1" cy="201.3"/><circle cx="231.1" cy="214.9"/><circle cx="178.4" cy="240.2"/><circle cx="213.3" cy="243.1"/><circle cx="172.7" cy="233.7"/><circle cx="232.3" cy="234.4"/><circle cx="200.6" cy="207.3"/><circle cx="209.0" cy="210.1"/><circle cx="224.3" cy="190.2"/><circle cx="245.3" cy="197.0"/><circle cx="234.1" cy="215.2"/><circle cx="172.6" cy="246.0"/><circle cx="200.3" cy="220.6"/><circle cx="204.1" cy="241.9"/><circle cx="231.6" cy="245.7"/><circle cx="203.8" cy="234.1"/><circle cx="191.6" cy="214.7"/><circle cx="173.0" cy="249.8"/><circle cx="172.9" cy="231.7"/><circle cx="172.5" cy="209.8"/><circle cx="204.1" cy="183.8"/><circle cx="222.6" cy="246.6"/><circle cx="230.2" cy="241.4"/><circle cx="189.6" cy="224.5"/><circle cx="209.9" cy="285.5"/><circle cx="217.1" cy="232.2"/><circle cx="204.3" cy="243.0"/><circle cx="232.1" cy="218.1"/><circle cx="215.2" cy="232.4"/><circle cx="194.2" cy="229.2"/><circle cx="248.6" cy="198.9"/><circle cx="204.7" cy="204.8"/><circle cx="259.0" cy="214.3"/><circle cx="217.8" cy="245.5"/><circle cx="214.1" cy="201.5"/><circle cx="204.4" cy="212.2"/><circle cx="214.1" cy="198.3"/><circle cx="223.6" cy="204.3"/><circle cx="211.1" cy="223.7"/><circle cx="199.8" cy="189.3"/><circle cx="199.7" cy="243.2"/><circle cx="230.6" cy="202.4"/><circle cx="203.4" cy="230.4"/><circle cx="235.4" cy="271.0"/><circle cx="259.0" cy="197.9"/><circle cx="228.6" cy="228.8"/><circle cx="222.3" cy="223.2"/><circle cx="260.5" cy="201.3"/><circle cx="219.6" cy="217.2"/><circle cx="245.7" cy="184.0"/><circle cx="239.2" cy="215.1"/><circle cx="200.7" cy="208.7"/><circle cx="227.1" cy="208.0"/><circle cx="199.9" cy="221.2"/><circle cx="225.3" cy="221.5"/><circle cx="245.1" cy="237.7"/><circle cx="199.7" cy="198.5"/><circle cx="218.4" cy="197.2"/><circle cx="201.6" cy="208.7"/><circle cx="203.9" cy="187.9"/><circle cx="200.0" cy="224.7"/><circle cx="194.3" cy="221.4"/><circle cx="252.0" cy="228.0"/><circle cx="186.5" cy="228.7"/><circle cx="187.9" cy="221.9"/><circle cx="220.6" cy="212.2"/><circle cx="186.7" cy="206.5"/><circle cx="214.3" cy="271.2"/><circle cx="231.2" cy="219.2"/><circle cx="179.3" cy="206.9"/><circle cx="194.3" cy="205.0"/><circle cx="220.5" cy="208.0"/><circle cx="204.3" cy="226.9"/><circle cx="220.0" cy="200.8"/><circle cx="177.1" cy="230.6"/><circle cx="273.7" cy="229.1"/><circle cx="210.7" cy="205.6"/><circle cx="172.5" cy="207.6"/><circle cx="220.9" cy="192.6"/><circle cx="209.5" cy="222.2"/><circle cx="262.3" cy="225.2"/><circle cx="232.8" cy="197.4"/><circle cx="201.1" cy="191.5"/><circle cx="172.6" cy="229.6"/><circle cx="213.1" cy="199.5"/><circle cx="225.9" cy="216.0"/><circle cx="247.6" cy="193.8"/><circle cx="220.7" cy="210.1"/><circle cx="247.2" cy="247.8"/><circle cx="173.6" cy="234.4"/><circle cx="223.7" cy="235.1"/><circle cx="207.1" cy="197.5"/><circle cx="217.9" cy="206.9"/><circle cx="238.2" cy="256.1"/><circle cx="216.6" cy="238.2"/><circle cx="256.3" cy="209.9"/><circle cx="206.3" cy="217.3"/><circle cx="197.0" cy="221.8"/><circle cx="246.4" cy="189.6"/><circle cx="213.5" cy="213.9"/><circle cx="207.9" cy="227.8"/><circle cx="221.4" cy="212.8"/><circle cx="225.8" cy="254.1"/><circle cx="230.2" cy="216.1"/><circle cx="219.1" cy="199.9"/><circle cx="201.9" cy="234.0"/><circle cx="172.5" cy="228.2"/><circle cx="235.8" cy="226.7"/><circle cx="192.9" cy="218.1"/><circle cx="220.7" cy="207.6"/><circle cx="185.6" cy="197.5"/><circle cx="173.3" cy="256.2"/><circle cx="215.5" cy="210.7"/><circle cx="219.0" cy="199.9"/><circle cx="219.6" cy="214.4"/><circle cx="255.8" cy="201.9"/><circle cx="198.5" cy="206.2"/><circle cx="210.9" cy="180.0"/><circle cx="226.2" cy="183.5"/><circle cx="203.5" cy="225.8"/><circle cx="215.0" cy="199.7"/><circle cx="172.7" cy="234.1"/><circle cx="207.3" cy="281.3"/><circle cx="225.3" cy="191.6"/><circle cx="209.8" cy="185.8"/><circle cx="216.8" cy="234.0"/><circle cx="172.5" cy="258.8"/><circle cx="260.7" cy="225.8"/><circle cx="184.6" cy="244.6"/><circle cx="213.6" cy="218.7"/><circle cx="208.6" cy="198.0"/><circle cx="237.6" cy="198.3"/><circle cx="202.3" cy="217.2"/><circle cx="231.0" cy="221.6"/><circle cx="210.5" cy="236.3"/><circle cx="220.8" cy="224.0"/><circle cx="201.2" cy="224.6"/><circle cx="257.1" cy="203.3"/><circle cx="189.9" cy="264.6"/><circle cx="234.2" cy="216.4"/><circle cx="189.2" cy="203.8"/><circle cx="253.6" cy="209.8"/><circle cx="225.8" cy="231.0"/><circle cx="197.5" cy="235.3"/><circle cx="206.0" cy="191.4"/><circle cx="192.0" cy="225.9"/><circle cx="248.8" cy="183.8"/><circle cx="199.4" cy="209.9"/><circle cx="246.0" cy="216.0"/><circle cx="190.9" cy="192.6"/><circle cx="219.4" cy="222.0"/><circle cx="206.5" cy="209.4"/><circle cx="249.1" cy="242.2"/><circle cx="204.3" cy="231.9"/><circle cx="186.6" cy="212.8"/><circle cx="172.4" cy="242.4"/><circle cx="278.3" cy="213.7"/><circle cx="193.1" cy="226.4"/><circle cx="212.2" cy="205.3"/><circle cx="172.1" cy="235.1"/><circle cx="175.6" cy="225.2"/><circle cx="261.8" cy="191.2"/><circle cx="210.9" cy="236.6"/><circle cx="204.7" cy="229.8"/><circle cx="198.1" cy="222.1"/><circle cx="202.9" cy="191.3"/><circle cx="209.2" cy="248.3"/><circle cx="231.4" cy="223.9"/><circle cx="212.7" cy="233.9"/><circle cx="218.2" cy="250.4"/><circle cx="172.4" cy="232.0"/><circle cx="221.2" cy="196.6"/><circle cx="231.7" cy="246.8"/><circle cx="215.8" cy="216.8"/><circle cx="183.5" cy="204.0"/><circle cx="258.1" cy="210.5"/><circle cx="224.6" cy="222.0"/><circle cx="218.8" cy="219.6"/><circle cx="224.5" cy="198.5"/><circle cx="272.3" cy="219.3"/><circle cx="235.2" cy="225.7"/><circle cx="172.4" cy="263.2"/><circle cx="212.7" cy="239.1"/><circle cx="219.6" cy="200.0"/><circle cx="172.8" cy="250.0"/><circle cx="194.1" cy="227.6"/><circle cx="213.0" cy="221.2"/><circle cx="223.0" cy="202.4"/><circle cx="214.0" cy="242.6"/><circle cx="203.7" cy="212.8"/><circle cx="219.9" cy="220.5"/><circle cx="221.9" cy="221.8"/><circle cx="207.5" cy="224.6"/><circle cx="196.9" cy="197.8"/><circle cx="223.8" cy="198.4"/><circle cx="202.7" cy="240.5"/><circle cx="239.9" cy="230.5"/><circle cx="173.0" cy="253.3"/><circle cx="195.0" cy="218.5"/><circle cx="269.0" cy="197.6"/><circle cx="215.2" cy="239.6"/><circle cx="188.4" cy="212.3"/><circle cx="233.9" cy="222.5"/><circle cx="216.5" cy="207.1"/><circle cx="227.7" cy="200.1"/><circle cx="212.8" cy="270.8"/><circle cx="240.6" cy="200.8"/><circle cx="188.9" cy="194.3"/><circle cx="212.9" cy="205.2"/><circle cx="239.2" cy="220.4"/><circle cx="174.9" cy="196.1"/><circle cx="213.9" cy="216.1"/><circle cx="220.7" cy="259.5"/><circle cx="219.0" cy="212.3"/><circle cx="172.5" cy="225.3"/><circle cx="172.8" cy="198.3"/><circle cx="238.6" cy="281.8"/><circle cx="206.5" cy="214.9"/><circle cx="206.5" cy="226.1"/><circle cx="217.5" cy="213.7"/><circle cx="196.0" cy="202.9"/><circle cx="202.2" cy="221.2"/><circle cx="194.5" cy="191.7"/><circle cx="210.0" cy="227.4"/><circle cx="208.1" cy="208.4"/><circle cx="219.7" cy="225.2"/><circle cx="213.0" cy="215.6"/><circle cx="223.3" cy="204.1"/><circle cx="204.6" cy="222.4"/><circle cx="239.9" cy="232.1"/><circle cx="172.1" cy="233.3"/><circle cx="202.0" cy="207.8"/><circle cx="199.2" cy="201.6"/><circle cx="237.0" cy="238.5"/><circle cx="172.2" cy="251.9"/><circle cx="218.3" cy="196.3"/><circle cx="198.9" cy="256.1"/><circle cx="196.7" cy="245.6"/><circle cx="172.2" cy="230.2"/><circle cx="223.9" cy="251.2"/><circle cx="217.4" cy="205.6"/><circle cx="238.7" cy="205.9"/><circle cx="217.1" cy="230.2"/><circle cx="205.8" cy="209.5"/><circle cx="205.9" cy="185.8"/><circle cx="206.3" cy="219.3"/><circle cx="218.8" cy="220.3"/><circle cx="221.0" cy="258.9"/><circle cx="225.3" cy="189.0"/><circle cx="181.9" cy="213.9"/><circle cx="188.3" cy="235.4"/><circle cx="215.3" cy="224.3"/><circle cx="202.8" cy="215.6"/><circle cx="218.8" cy="218.7"/><circle cx="216.0" cy="199.2"/><circle cx="220.1" cy="204.5"/><circle cx="188.1" cy="205.5"/><circle cx="201.3" cy="210.8"/><circle cx="250.7" cy="219.9"/><circle cx="218.9" cy="209.1"/><circle cx="195.7" cy="202.6"/><circle cx="259.9" cy="209.0"/><circle cx="203.0" cy="178.9"/><circle cx="232.5" cy="194.0"/><circle cx="273.0" cy="200.3"/><circle cx="233.4" cy="189.7"/><circle cx="224.0" cy="202.8"/><circle cx="206.8" cy="202.6"/><circle cx="241.7" cy="197.3"/><circle cx="221.7" cy="204.7"/><circle cx="220.6" cy="231.3"/><circle cx="210.3" cy="239.7"/><circle cx="183.2" cy="218.4"/><circle cx="209.8" cy="191.6"/><circle cx="235.3" cy="183.8"/><circle cx="172.8" cy="220.7"/><circle cx="192.0" cy="226.8"/><circle cx="231.4" cy="216.2"/><circle cx="271.4" cy="199.2"/><circle cx="199.6" cy="188.8"/><circle cx="241.1" cy="230.0"/><circle cx="207.5" cy="197.6"/><circle cx="173.0" cy="252.1"/><circle cx="224.7" cy="189.7"/><circle cx="227.3" cy="211.8"/><circle cx="180.6" cy="245.6"/><circle cx="228.1" cy="200.2"/><circle cx="232.3" cy="226.9"/><circle cx="229.6" cy="198.4"/><circle cx="263.4" cy="216.3"/><circle cx="213.2" cy="214.6"/><circle cx="252.8" cy="228.5"/><circle cx="219.8" cy="195.5"/><circle cx="210.6" cy="232.1"/><circle cx="204.6" cy="209.9"/><circle cx="242.1" cy="220.2"/><circle cx="237.6" cy="225.7"/><circle cx="221.8" cy="193.6"/><circle cx="185.7" cy="216.7"/><circle cx="221.8" cy="248.4"/><circle cx="235.5" cy="233.5"/><circle cx="257.8" cy="211.9"/><circle cx="258.2" cy="207.6"/><circle cx="188.3" cy="216.4"/><circle cx="222.2" cy="215.2"/><circle cx="214.7" cy="251.7"/><circle cx="229.8" cy="209.2"/><circle cx="212.3" cy="214.5"/><circle cx="238.5" cy="212.8"/><circle cx="192.1" cy="212.7"/><circle cx="231.3" cy="197.2"/><circle cx="239.3" cy="189.8"/><circle cx="217.6" cy="229.4"/><circle cx="238.7" cy="214.9"/><circle cx="215.2" cy="200.9"/><circle cx="232.3" cy="180.7"/><circle cx="232.5" cy="197.2"/><circle cx="199.0" cy="243.2"/><circle cx="207.9" cy="235.4"/><circle cx="223.5" cy="218.6"/><circle cx="255.9" cy="216.4"/><circle cx="198.7" cy="211.0"/><circle cx="207.5" cy="215.3"/><circle cx="216.4" cy="209.6"/><circle cx="205.0" cy="216.2"/><circle cx="239.7" cy="199.8"/><circle cx="193.2" cy="225.3"/><circle cx="269.7" cy="209.4"/><circle cx="241.4" cy="205.4"/><circle cx="248.1" cy="219.2"/><circle cx="218.1" cy="211.7"/><circle cx="270.7" cy="196.5"/><circle cx="186.2" cy="176.6"/><circle cx="267.0" cy="247.6"/><circle cx="235.0" cy="211.2"/><circle cx="172.5" cy="244.3"/><circle cx="178.7" cy="206.6"/><circle cx="211.9" cy="244.3"/><circle cx="255.0" cy="206.4"/><circle cx="211.0" cy="198.8"/><circle cx="242.4" cy="214.2"/><circle cx="182.5" cy="227.4"/><circle cx="229.3" cy="205.9"/><circle cx="214.7" cy="225.3"/><circle cx="236.3" cy="180.3"/><circle cx="242.6" cy="220.2"/><circle cx="192.1" cy="185.6"/><circle cx="236.6" cy="213.5"/><circle cx="188.4" cy="178.6"/><circle cx="200.3" cy="250.8"/><circle cx="179.0" cy="200.9"/><circle cx="260.3" cy="226.6"/><circle cx="260.1" cy="244.6"/><circle cx="261.7" cy="189.2"/><circle cx="262.5" cy="176.3"/><circle cx="233.2" cy="197.8"/><circle cx="230.6" cy="191.7"/><circle cx="225.9" cy="222.2"/><circle cx="242.2" cy="215.7"/><circle cx="190.2" cy="203.5"/><circle cx="235.2" cy="247.2"/><circle cx="183.2" cy="209.9"/><circle cx="219.6" cy="257.8"/><circle cx="172.4" cy="189.1"/><circle cx="172.6" cy="263.0"/><circle cx="231.5" cy="206.9"/><circle cx="186.8" cy="219.7"/><circle cx="203.8" cy="222.8"/><circle cx="218.0" cy="178.9"/><circle cx="214.2" cy="181.5"/><circle cx="200.2" cy="189.2"/>
</g>
<path d="M172.2 222.0 L176.6 221.5 L181.1 221.1 L185.5 220.6 L190.0 220.1 L194.4 219.6 L198.9 219.0 L203.3 218.5 L207.8 217.8 L212.2 217.1 L216.7 216.4 L221.1 215.6 L225.6 214.7 L230.0 213.7 L234.5 212.8 L238.9 211.8 L243.4 210.8 L247.8 209.8 L252.3 208.7 L256.8 207.7 L261.2 206.6 L265.6 205.6 L270.1 204.6 L274.6 203.5 L279.0 202.5 L279.0 212.2 L274.6 212.6 L270.1 213.0 L265.6 213.5 L261.2 214.0 L256.8 214.4 L252.3 214.9 L247.8 215.3 L243.4 215.8 L238.9 216.3 L234.5 216.8 L230.0 217.4 L225.6 217.9 L221.1 218.5 L216.7 219.2 L212.2 220.0 L207.8 220.8 L203.3 221.6 L198.9 222.6 L194.4 223.5 L190.0 224.5 L185.5 225.5 L181.1 226.5 L176.6 227.6 L172.2 228.6 Z" fill="#999" fill-opacity="0.45"/>
<line x1="172.2" y1="225.3" x2="279.0" y2="207.3" stroke="#000" stroke-width="1.6"/>
<rect x="166.8" y="159.0" width="117.6" height="151.5" fill="none" stroke="#505050" stroke-width="1"/>
<line x1="187.8" y1="310.5" x2="187.8" y2="308.5" stroke="#333" stroke-width="0.8"/>
<text class="tk" transform="translate(187.80,317.70) scale(1,1.080)" text-anchor="middle">−1</text>
<line x1="211.2" y1="310.5" x2="211.2" y2="308.5" stroke="#333" stroke-width="0.8"/>
<text class="tk" transform="translate(211.20,317.70) scale(1,1.080)" text-anchor="middle">0</text>
<line x1="234.6" y1="310.5" x2="234.6" y2="308.5" stroke="#333" stroke-width="0.8"/>
<text class="tk" transform="translate(234.60,317.70) scale(1,1.080)" text-anchor="middle">1</text>
<line x1="258.0" y1="310.5" x2="258.0" y2="308.5" stroke="#333" stroke-width="0.8"/>
<text class="tk" transform="translate(258.00,317.70) scale(1,1.080)" text-anchor="middle">2</text>
<line x1="281.4" y1="310.5" x2="281.4" y2="308.5" stroke="#333" stroke-width="0.8"/>
<text class="tk" transform="translate(281.40,317.70) scale(1,1.080)" text-anchor="middle">3</text>
<line x1="166.8" y1="176.0" x2="168.8" y2="176.0" stroke="#333" stroke-width="0.8"/>
<text class="tk" transform="translate(165.20,178.26) scale(1,1.080)" text-anchor="end">2</text>
<line x1="166.8" y1="218.5" x2="168.8" y2="218.5" stroke="#333" stroke-width="0.8"/>
<text class="tk" transform="translate(165.20,220.80) scale(1,1.080)" text-anchor="end">0</text>
<line x1="166.8" y1="261.0" x2="168.8" y2="261.0" stroke="#333" stroke-width="0.8"/>
<text class="tk" transform="translate(165.20,263.34) scale(1,1.080)" text-anchor="end">−2</text>
<line x1="166.8" y1="303.6" x2="168.8" y2="303.6" stroke="#333" stroke-width="0.8"/>
<text class="tk" transform="translate(165.20,305.88) scale(1,1.080)" text-anchor="end">−4</text>
<g class="p">
<circle cx="351.9" cy="209.8"/><circle cx="360.4" cy="206.7"/><circle cx="329.3" cy="219.6"/><circle cx="362.0" cy="251.6"/><circle cx="365.5" cy="244.0"/><circle cx="365.0" cy="217.1"/><circle cx="354.5" cy="257.3"/><circle cx="350.8" cy="219.2"/><circle cx="360.0" cy="209.6"/><circle cx="371.0" cy="203.0"/><circle cx="348.6" cy="236.1"/><circle cx="353.3" cy="234.3"/><circle cx="358.0" cy="218.9"/><circle cx="352.9" cy="226.3"/><circle cx="368.7" cy="237.9"/><circle cx="355.5" cy="219.2"/><circle cx="324.0" cy="217.4"/><circle cx="379.5" cy="216.2"/><circle cx="353.3" cy="188.1"/><circle cx="378.2" cy="192.2"/><circle cx="373.0" cy="205.7"/><circle cx="352.5" cy="193.0"/><circle cx="383.8" cy="215.1"/><circle cx="348.9" cy="197.9"/><circle cx="332.1" cy="263.6"/><circle cx="331.7" cy="212.5"/><circle cx="349.1" cy="228.0"/><circle cx="353.4" cy="231.0"/><circle cx="348.7" cy="193.5"/><circle cx="378.0" cy="203.1"/><circle cx="354.3" cy="230.3"/><circle cx="332.6" cy="206.1"/><circle cx="369.7" cy="196.8"/><circle cx="338.0" cy="221.5"/><circle cx="351.5" cy="208.5"/><circle cx="371.1" cy="222.7"/><circle cx="364.8" cy="219.3"/><circle cx="380.7" cy="229.7"/><circle cx="362.9" cy="194.1"/><circle cx="361.9" cy="216.7"/><circle cx="361.6" cy="204.2"/><circle cx="351.5" cy="229.1"/><circle cx="349.9" cy="215.7"/><circle cx="361.1" cy="204.7"/><circle cx="343.8" cy="194.0"/><circle cx="343.0" cy="227.8"/><circle cx="365.5" cy="218.9"/><circle cx="365.2" cy="190.3"/><circle cx="381.1" cy="205.5"/><circle cx="355.6" cy="199.4"/><circle cx="353.5" cy="245.5"/><circle cx="312.5" cy="203.7"/><circle cx="368.4" cy="208.1"/><circle cx="340.6" cy="251.2"/><circle cx="352.1" cy="199.0"/><circle cx="341.6" cy="216.3"/><circle cx="356.0" cy="230.5"/><circle cx="392.7" cy="212.2"/><circle cx="395.3" cy="223.5"/><circle cx="363.7" cy="230.8"/><circle cx="337.4" cy="228.6"/><circle cx="349.6" cy="206.4"/><circle cx="409.6" cy="177.7"/><circle cx="361.9" cy="218.4"/><circle cx="377.1" cy="192.4"/><circle cx="351.6" cy="215.2"/><circle cx="349.7" cy="223.6"/><circle cx="370.1" cy="206.9"/><circle cx="367.6" cy="272.1"/><circle cx="349.5" cy="208.1"/><circle cx="315.3" cy="215.9"/><circle cx="347.7" cy="203.2"/><circle cx="349.8" cy="204.6"/><circle cx="361.2" cy="242.4"/><circle cx="354.1" cy="210.3"/><circle cx="364.8" cy="230.8"/><circle cx="350.7" cy="183.9"/><circle cx="360.0" cy="236.5"/><circle cx="355.3" cy="219.2"/><circle cx="351.7" cy="234.9"/><circle cx="346.5" cy="207.7"/><circle cx="370.1" cy="213.7"/><circle cx="358.8" cy="219.7"/><circle cx="358.9" cy="220.9"/><circle cx="374.9" cy="240.6"/><circle cx="342.7" cy="223.7"/><circle cx="350.4" cy="198.9"/><circle cx="393.6" cy="196.8"/><circle cx="357.3" cy="219.4"/><circle cx="345.1" cy="241.7"/><circle cx="363.0" cy="219.4"/><circle cx="357.2" cy="216.6"/><circle cx="387.9" cy="207.7"/><circle cx="346.6" cy="199.4"/><circle cx="354.0" cy="237.5"/><circle cx="327.6" cy="215.1"/><circle cx="391.0" cy="194.7"/><circle cx="356.5" cy="220.8"/><circle cx="371.3" cy="198.8"/><circle cx="365.7" cy="189.0"/><circle cx="377.7" cy="270.1"/><circle cx="359.0" cy="209.8"/><circle cx="363.7" cy="255.8"/><circle cx="360.5" cy="203.2"/><circle cx="358.7" cy="223.2"/><circle cx="341.9" cy="209.7"/><circle cx="364.1" cy="223.5"/><circle cx="332.2" cy="218.0"/><circle cx="342.7" cy="211.1"/><circle cx="348.2" cy="246.4"/><circle cx="342.7" cy="246.9"/><circle cx="362.0" cy="244.9"/><circle cx="367.8" cy="243.4"/><circle cx="368.9" cy="188.7"/><circle cx="352.0" cy="250.1"/><circle cx="354.4" cy="248.3"/><circle cx="365.4" cy="207.9"/><circle cx="355.8" cy="244.5"/><circle cx="349.3" cy="191.0"/><circle cx="357.9" cy="235.5"/><circle cx="371.7" cy="220.6"/><circle cx="316.0" cy="210.8"/><circle cx="361.4" cy="200.6"/><circle cx="352.2" cy="185.5"/><circle cx="317.8" cy="213.9"/><circle cx="345.9" cy="223.4"/><circle cx="349.9" cy="192.0"/><circle cx="371.0" cy="211.7"/><circle cx="373.3" cy="229.6"/><circle cx="360.7" cy="231.0"/><circle cx="354.7" cy="215.0"/><circle cx="346.8" cy="241.9"/><circle cx="372.9" cy="189.2"/><circle cx="339.1" cy="275.9"/><circle cx="357.4" cy="279.8"/><circle cx="357.3" cy="204.6"/><circle cx="361.2" cy="236.3"/><circle cx="368.5" cy="222.9"/><circle cx="385.2" cy="205.0"/><circle cx="358.7" cy="227.5"/><circle cx="356.6" cy="213.3"/><circle cx="366.8" cy="215.4"/><circle cx="342.8" cy="198.1"/><circle cx="384.3" cy="239.5"/><circle cx="363.4" cy="205.8"/><circle cx="368.4" cy="229.3"/><circle cx="322.1" cy="210.4"/><circle cx="345.9" cy="216.6"/><circle cx="351.5" cy="204.2"/><circle cx="357.7" cy="225.5"/><circle cx="361.3" cy="195.5"/><circle cx="371.4" cy="210.3"/><circle cx="378.7" cy="206.4"/><circle cx="367.3" cy="209.1"/><circle cx="378.6" cy="226.4"/><circle cx="353.2" cy="202.3"/><circle cx="344.6" cy="211.0"/><circle cx="364.5" cy="214.8"/><circle cx="345.7" cy="224.2"/><circle cx="370.4" cy="235.7"/><circle cx="352.1" cy="221.4"/><circle cx="359.3" cy="196.0"/><circle cx="369.7" cy="224.7"/><circle cx="368.5" cy="178.4"/><circle cx="358.9" cy="212.3"/><circle cx="348.7" cy="224.2"/><circle cx="386.0" cy="224.9"/><circle cx="391.1" cy="217.6"/><circle cx="372.3" cy="225.4"/><circle cx="364.2" cy="216.6"/><circle cx="330.7" cy="185.9"/><circle cx="401.9" cy="191.6"/><circle cx="358.2" cy="201.4"/><circle cx="339.5" cy="216.2"/><circle cx="359.9" cy="221.4"/><circle cx="364.5" cy="188.4"/><circle cx="357.8" cy="218.1"/><circle cx="362.0" cy="202.2"/><circle cx="373.7" cy="208.1"/><circle cx="354.7" cy="198.8"/><circle cx="371.3" cy="230.9"/><circle cx="360.1" cy="211.0"/><circle cx="367.6" cy="195.2"/><circle cx="358.0" cy="212.7"/><circle cx="348.8" cy="213.9"/><circle cx="365.1" cy="210.6"/><circle cx="376.7" cy="208.8"/><circle cx="378.1" cy="204.7"/><circle cx="365.0" cy="189.7"/><circle cx="303.5" cy="229.2"/><circle cx="346.5" cy="210.3"/><circle cx="346.2" cy="208.1"/><circle cx="360.1" cy="192.2"/><circle cx="335.9" cy="204.4"/><circle cx="349.1" cy="209.0"/><circle cx="373.0" cy="213.8"/><circle cx="336.4" cy="230.8"/><circle cx="361.9" cy="221.6"/><circle cx="355.1" cy="236.5"/><circle cx="359.1" cy="230.7"/><circle cx="350.5" cy="243.5"/><circle cx="368.6" cy="197.8"/><circle cx="359.8" cy="210.4"/><circle cx="354.8" cy="207.2"/><circle cx="370.1" cy="226.7"/><circle cx="380.2" cy="228.3"/><circle cx="355.0" cy="188.8"/><circle cx="331.5" cy="223.4"/><circle cx="363.2" cy="188.3"/><circle cx="355.4" cy="223.3"/><circle cx="368.1" cy="231.8"/><circle cx="357.9" cy="241.3"/><circle cx="359.8" cy="212.2"/><circle cx="356.9" cy="188.6"/><circle cx="357.6" cy="235.8"/><circle cx="383.9" cy="210.7"/><circle cx="385.8" cy="213.1"/><circle cx="374.1" cy="231.1"/><circle cx="357.0" cy="239.6"/><circle cx="350.7" cy="224.9"/><circle cx="402.2" cy="203.4"/><circle cx="358.4" cy="228.7"/><circle cx="313.2" cy="227.3"/><circle cx="367.8" cy="195.4"/><circle cx="346.7" cy="228.9"/><circle cx="354.8" cy="211.2"/><circle cx="350.5" cy="205.3"/><circle cx="367.3" cy="231.4"/><circle cx="370.2" cy="200.6"/><circle cx="377.1" cy="205.5"/><circle cx="356.9" cy="235.0"/><circle cx="346.6" cy="203.2"/><circle cx="348.8" cy="205.1"/><circle cx="385.0" cy="206.5"/><circle cx="380.2" cy="220.8"/><circle cx="326.4" cy="235.9"/><circle cx="355.3" cy="199.9"/><circle cx="375.7" cy="197.3"/><circle cx="352.4" cy="198.3"/><circle cx="380.4" cy="187.7"/><circle cx="392.6" cy="224.7"/><circle cx="353.1" cy="208.1"/><circle cx="318.7" cy="225.2"/><circle cx="347.8" cy="209.0"/><circle cx="368.4" cy="235.0"/><circle cx="341.8" cy="214.8"/><circle cx="341.0" cy="201.3"/><circle cx="343.3" cy="244.9"/><circle cx="337.7" cy="214.9"/><circle cx="359.7" cy="231.2"/><circle cx="358.9" cy="210.7"/><circle cx="389.4" cy="214.9"/><circle cx="352.2" cy="188.8"/><circle cx="361.1" cy="195.5"/><circle cx="365.5" cy="221.7"/><circle cx="348.3" cy="221.9"/><circle cx="354.1" cy="208.4"/><circle cx="350.1" cy="200.0"/><circle cx="409.9" cy="234.9"/><circle cx="367.4" cy="197.6"/><circle cx="355.6" cy="254.2"/><circle cx="360.4" cy="200.0"/><circle cx="338.6" cy="212.4"/><circle cx="359.0" cy="228.6"/><circle cx="346.0" cy="195.8"/><circle cx="366.4" cy="220.9"/><circle cx="391.0" cy="184.4"/><circle cx="353.1" cy="198.3"/><circle cx="354.6" cy="220.0"/><circle cx="369.6" cy="201.7"/><circle cx="354.4" cy="200.4"/><circle cx="359.2" cy="256.2"/><circle cx="369.4" cy="185.9"/><circle cx="368.8" cy="200.8"/><circle cx="365.8" cy="228.4"/><circle cx="380.8" cy="215.5"/><circle cx="362.7" cy="217.5"/><circle cx="370.2" cy="180.6"/><circle cx="371.1" cy="224.3"/><circle cx="370.4" cy="218.3"/><circle cx="342.2" cy="250.6"/><circle cx="358.5" cy="243.2"/><circle cx="370.5" cy="212.4"/><circle cx="335.7" cy="219.6"/><circle cx="371.5" cy="219.8"/><circle cx="343.7" cy="218.3"/><circle cx="355.4" cy="211.9"/><circle cx="348.2" cy="194.8"/><circle cx="355.8" cy="232.6"/><circle cx="373.9" cy="203.6"/><circle cx="339.6" cy="244.3"/><circle cx="349.3" cy="211.8"/><circle cx="331.5" cy="210.0"/><circle cx="361.2" cy="206.4"/><circle cx="361.9" cy="232.3"/><circle cx="344.4" cy="203.0"/><circle cx="364.7" cy="217.4"/><circle cx="385.1" cy="204.2"/><circle cx="383.5" cy="240.8"/><circle cx="357.4" cy="215.9"/><circle cx="372.4" cy="190.6"/><circle cx="356.2" cy="232.8"/><circle cx="347.0" cy="191.5"/><circle cx="313.7" cy="216.1"/><circle cx="360.0" cy="225.7"/><circle cx="377.6" cy="205.9"/><circle cx="362.7" cy="230.1"/><circle cx="354.4" cy="209.8"/><circle cx="358.9" cy="242.9"/><circle cx="352.5" cy="222.7"/><circle cx="370.2" cy="226.8"/><circle cx="365.1" cy="199.9"/><circle cx="354.4" cy="202.1"/><circle cx="354.3" cy="197.4"/><circle cx="376.7" cy="212.3"/><circle cx="360.4" cy="190.9"/><circle cx="371.4" cy="215.5"/><circle cx="356.0" cy="218.4"/><circle cx="354.6" cy="201.9"/><circle cx="355.9" cy="205.3"/><circle cx="355.2" cy="242.9"/><circle cx="374.5" cy="206.2"/><circle cx="388.9" cy="219.8"/><circle cx="352.5" cy="240.1"/><circle cx="364.2" cy="247.7"/><circle cx="400.5" cy="253.5"/><circle cx="372.3" cy="213.6"/><circle cx="339.5" cy="197.7"/><circle cx="348.2" cy="216.1"/><circle cx="351.6" cy="201.2"/><circle cx="350.4" cy="178.3"/><circle cx="370.1" cy="208.4"/><circle cx="353.0" cy="204.3"/><circle cx="374.7" cy="186.4"/><circle cx="375.7" cy="283.8"/><circle cx="359.3" cy="201.3"/><circle cx="345.3" cy="210.0"/><circle cx="356.0" cy="227.5"/><circle cx="367.6" cy="245.8"/><circle cx="376.7" cy="188.4"/><circle cx="341.2" cy="201.7"/><circle cx="375.1" cy="206.2"/><circle cx="329.7" cy="199.3"/><circle cx="348.4" cy="230.6"/><circle cx="342.3" cy="209.9"/><circle cx="365.2" cy="203.5"/><circle cx="344.3" cy="225.2"/><circle cx="353.3" cy="234.9"/><circle cx="352.1" cy="234.3"/><circle cx="362.4" cy="207.1"/><circle cx="353.9" cy="226.1"/><circle cx="377.9" cy="179.8"/><circle cx="358.9" cy="212.2"/><circle cx="339.0" cy="235.0"/><circle cx="366.7" cy="202.4"/><circle cx="367.1" cy="221.4"/><circle cx="353.8" cy="226.4"/><circle cx="341.2" cy="217.7"/><circle cx="363.8" cy="197.9"/><circle cx="339.2" cy="199.1"/><circle cx="371.5" cy="209.8"/><circle cx="348.1" cy="234.9"/><circle cx="333.9" cy="244.0"/><circle cx="356.8" cy="179.5"/><circle cx="369.8" cy="201.6"/><circle cx="370.7" cy="213.2"/><circle cx="340.0" cy="212.8"/><circle cx="324.3" cy="194.8"/><circle cx="367.0" cy="224.1"/><circle cx="323.6" cy="209.5"/><circle cx="371.9" cy="199.5"/><circle cx="378.0" cy="190.0"/><circle cx="350.0" cy="227.4"/><circle cx="368.5" cy="234.9"/><circle cx="357.8" cy="200.5"/><circle cx="362.3" cy="204.0"/><circle cx="359.0" cy="212.5"/><circle cx="351.7" cy="196.6"/><circle cx="377.2" cy="190.3"/><circle cx="358.9" cy="187.6"/><circle cx="363.4" cy="197.2"/><circle cx="357.5" cy="181.3"/><circle cx="347.8" cy="212.1"/><circle cx="338.2" cy="230.0"/><circle cx="358.5" cy="200.0"/><circle cx="367.3" cy="237.2"/><circle cx="356.8" cy="225.2"/><circle cx="320.8" cy="221.2"/><circle cx="358.6" cy="182.1"/><circle cx="317.5" cy="218.7"/><circle cx="361.3" cy="211.3"/><circle cx="354.3" cy="230.7"/><circle cx="372.8" cy="242.2"/><circle cx="368.9" cy="217.4"/><circle cx="354.9" cy="200.8"/><circle cx="342.0" cy="227.8"/><circle cx="364.4" cy="182.8"/><circle cx="359.5" cy="211.2"/><circle cx="358.2" cy="195.0"/><circle cx="339.7" cy="220.3"/><circle cx="376.7" cy="181.2"/><circle cx="361.7" cy="219.8"/><circle cx="384.0" cy="202.9"/><circle cx="326.1" cy="204.9"/><circle cx="359.2" cy="219.1"/><circle cx="361.1" cy="196.7"/><circle cx="357.6" cy="217.4"/><circle cx="342.7" cy="242.1"/><circle cx="339.2" cy="245.3"/><circle cx="391.6" cy="204.0"/><circle cx="350.7" cy="242.1"/><circle cx="338.7" cy="261.5"/><circle cx="370.0" cy="253.9"/><circle cx="347.7" cy="211.9"/><circle cx="358.1" cy="185.8"/><circle cx="357.5" cy="194.8"/><circle cx="314.5" cy="213.6"/><circle cx="369.5" cy="220.3"/><circle cx="364.2" cy="196.3"/><circle cx="368.3" cy="193.3"/><circle cx="361.5" cy="209.2"/><circle cx="382.0" cy="206.6"/><circle cx="333.4" cy="222.4"/><circle cx="357.7" cy="184.6"/><circle cx="357.2" cy="223.1"/><circle cx="349.4" cy="205.8"/><circle cx="344.5" cy="229.7"/><circle cx="347.7" cy="218.9"/><circle cx="354.5" cy="229.1"/><circle cx="368.4" cy="230.2"/><circle cx="372.7" cy="202.6"/><circle cx="376.7" cy="238.8"/><circle cx="365.7" cy="192.6"/><circle cx="360.8" cy="187.2"/><circle cx="356.2" cy="207.0"/><circle cx="392.1" cy="231.0"/><circle cx="378.2" cy="205.8"/><circle cx="372.6" cy="189.6"/><circle cx="354.0" cy="202.6"/><circle cx="365.9" cy="243.9"/><circle cx="388.2" cy="216.0"/><circle cx="365.2" cy="196.2"/><circle cx="367.5" cy="212.5"/><circle cx="375.1" cy="220.6"/><circle cx="394.7" cy="213.6"/><circle cx="367.1" cy="207.7"/><circle cx="359.3" cy="196.6"/><circle cx="338.9" cy="210.2"/><circle cx="357.3" cy="193.4"/><circle cx="357.0" cy="229.1"/><circle cx="356.2" cy="204.8"/><circle cx="364.3" cy="203.5"/><circle cx="373.3" cy="236.3"/><circle cx="376.2" cy="214.2"/><circle cx="319.3" cy="211.2"/><circle cx="359.6" cy="217.0"/><circle cx="371.4" cy="221.6"/><circle cx="367.4" cy="215.0"/><circle cx="350.4" cy="248.9"/><circle cx="364.6" cy="202.0"/><circle cx="368.7" cy="269.1"/><circle cx="366.8" cy="212.4"/><circle cx="401.9" cy="201.3"/><circle cx="369.6" cy="249.3"/><circle cx="382.9" cy="215.1"/><circle cx="385.6" cy="198.0"/><circle cx="399.3" cy="191.1"/><circle cx="365.6" cy="235.7"/><circle cx="354.6" cy="204.4"/><circle cx="357.4" cy="200.6"/><circle cx="358.2" cy="197.6"/><circle cx="362.0" cy="213.3"/><circle cx="378.8" cy="244.6"/><circle cx="342.8" cy="219.7"/><circle cx="368.0" cy="227.7"/><circle cx="348.9" cy="211.3"/><circle cx="348.9" cy="221.7"/><circle cx="358.0" cy="219.4"/><circle cx="387.9" cy="183.5"/><circle cx="357.0" cy="223.3"/><circle cx="360.8" cy="204.3"/><circle cx="359.4" cy="206.2"/><circle cx="361.0" cy="221.7"/><circle cx="357.7" cy="220.7"/><circle cx="369.4" cy="228.0"/><circle cx="358.7" cy="221.9"/><circle cx="348.9" cy="231.4"/><circle cx="376.3" cy="261.6"/><circle cx="364.7" cy="192.8"/><circle cx="377.4" cy="231.9"/><circle cx="353.7" cy="217.4"/><circle cx="352.1" cy="203.6"/><circle cx="339.4" cy="191.1"/><circle cx="367.8" cy="217.3"/><circle cx="374.4" cy="220.0"/><circle cx="397.2" cy="197.2"/><circle cx="331.7" cy="228.1"/><circle cx="340.4" cy="215.8"/><circle cx="335.1" cy="200.2"/><circle cx="364.8" cy="219.3"/><circle cx="361.6" cy="231.9"/><circle cx="337.6" cy="236.0"/><circle cx="363.7" cy="224.8"/><circle cx="384.7" cy="223.8"/><circle cx="381.1" cy="219.5"/><circle cx="360.2" cy="222.7"/><circle cx="386.2" cy="214.8"/><circle cx="346.6" cy="226.3"/><circle cx="386.0" cy="219.7"/><circle cx="355.2" cy="215.1"/><circle cx="382.6" cy="176.0"/><circle cx="356.0" cy="244.0"/><circle cx="352.0" cy="214.6"/><circle cx="390.3" cy="228.1"/><circle cx="380.6" cy="182.1"/><circle cx="389.8" cy="191.5"/><circle cx="361.5" cy="194.7"/><circle cx="339.6" cy="199.6"/><circle cx="347.4" cy="233.4"/><circle cx="378.8" cy="197.6"/><circle cx="385.6" cy="196.4"/><circle cx="362.1" cy="235.3"/><circle cx="338.4" cy="224.0"/><circle cx="372.7" cy="229.0"/><circle cx="313.7" cy="221.9"/><circle cx="388.6" cy="270.4"/><circle cx="369.3" cy="209.5"/><circle cx="359.2" cy="201.8"/><circle cx="380.3" cy="212.1"/><circle cx="357.7" cy="202.1"/><circle cx="351.8" cy="217.4"/><circle cx="337.4" cy="202.4"/><circle cx="361.5" cy="198.6"/><circle cx="355.6" cy="207.3"/><circle cx="357.4" cy="214.5"/><circle cx="370.4" cy="239.0"/><circle cx="363.6" cy="214.3"/><circle cx="361.2" cy="200.2"/><circle cx="366.0" cy="214.2"/><circle cx="366.4" cy="224.7"/><circle cx="364.8" cy="223.1"/><circle cx="372.5" cy="224.0"/><circle cx="361.6" cy="207.0"/><circle cx="369.4" cy="209.9"/><circle cx="355.9" cy="225.6"/><circle cx="355.4" cy="230.8"/><circle cx="353.7" cy="222.4"/><circle cx="327.0" cy="210.0"/><circle cx="359.6" cy="193.3"/><circle cx="339.5" cy="217.5"/><circle cx="349.9" cy="242.6"/><circle cx="351.0" cy="237.9"/><circle cx="350.9" cy="240.5"/><circle cx="384.2" cy="216.5"/><circle cx="353.4" cy="199.6"/><circle cx="356.7" cy="185.6"/><circle cx="363.1" cy="202.2"/><circle cx="352.2" cy="216.6"/><circle cx="356.1" cy="189.3"/><circle cx="367.1" cy="192.7"/><circle cx="330.6" cy="198.6"/><circle cx="394.9" cy="202.6"/><circle cx="370.5" cy="203.4"/><circle cx="381.2" cy="218.3"/><circle cx="353.8" cy="239.5"/><circle cx="317.4" cy="216.3"/><circle cx="362.2" cy="206.0"/><circle cx="370.0" cy="202.9"/><circle cx="357.4" cy="200.0"/><circle cx="342.8" cy="225.5"/><circle cx="344.1" cy="213.5"/><circle cx="360.3" cy="199.6"/><circle cx="365.4" cy="208.0"/><circle cx="354.4" cy="221.5"/><circle cx="338.9" cy="231.3"/><circle cx="344.3" cy="194.1"/><circle cx="375.5" cy="185.4"/><circle cx="350.2" cy="201.5"/><circle cx="345.7" cy="237.7"/><circle cx="358.3" cy="234.4"/><circle cx="365.7" cy="236.8"/><circle cx="382.0" cy="220.6"/><circle cx="343.0" cy="199.4"/><circle cx="338.4" cy="221.5"/><circle cx="363.6" cy="197.6"/><circle cx="370.5" cy="196.8"/><circle cx="367.8" cy="209.2"/><circle cx="370.3" cy="238.5"/><circle cx="339.9" cy="204.0"/><circle cx="373.6" cy="216.7"/><circle cx="338.8" cy="203.0"/><circle cx="373.8" cy="228.8"/><circle cx="354.4" cy="219.8"/><circle cx="351.9" cy="203.2"/><circle cx="362.9" cy="221.8"/><circle cx="381.5" cy="191.1"/><circle cx="351.9" cy="229.3"/><circle cx="379.2" cy="218.1"/><circle cx="347.6" cy="219.1"/><circle cx="335.2" cy="220.9"/><circle cx="366.6" cy="194.3"/><circle cx="352.3" cy="215.7"/><circle cx="345.4" cy="250.9"/><circle cx="354.5" cy="225.7"/><circle cx="370.0" cy="196.9"/><circle cx="384.0" cy="202.1"/><circle cx="351.0" cy="205.6"/><circle cx="328.7" cy="203.2"/><circle cx="349.7" cy="215.6"/><circle cx="369.4" cy="199.5"/><circle cx="349.8" cy="222.0"/><circle cx="351.7" cy="196.5"/><circle cx="381.3" cy="197.8"/><circle cx="358.3" cy="204.7"/><circle cx="360.3" cy="218.9"/><circle cx="360.4" cy="219.6"/><circle cx="380.5" cy="213.1"/><circle cx="354.1" cy="205.3"/><circle cx="377.7" cy="210.3"/><circle cx="358.6" cy="220.8"/><circle cx="382.4" cy="208.7"/><circle cx="360.6" cy="227.8"/><circle cx="380.4" cy="206.4"/><circle cx="351.7" cy="217.1"/><circle cx="358.9" cy="188.7"/><circle cx="338.6" cy="202.1"/><circle cx="359.7" cy="228.5"/><circle cx="366.0" cy="186.4"/><circle cx="357.0" cy="202.3"/><circle cx="348.6" cy="209.8"/><circle cx="383.3" cy="200.6"/><circle cx="343.9" cy="201.6"/><circle cx="387.1" cy="191.3"/><circle cx="369.8" cy="255.9"/><circle cx="399.9" cy="195.6"/><circle cx="361.2" cy="199.7"/><circle cx="350.8" cy="202.9"/><circle cx="367.6" cy="205.5"/><circle cx="338.5" cy="217.8"/><circle cx="363.2" cy="219.9"/><circle cx="350.6" cy="256.6"/><circle cx="368.3" cy="184.4"/><circle cx="341.7" cy="242.6"/><circle cx="361.1" cy="235.9"/><circle cx="350.4" cy="220.4"/><circle cx="340.6" cy="206.8"/><circle cx="369.6" cy="224.8"/><circle cx="350.7" cy="218.2"/><circle cx="383.4" cy="221.4"/><circle cx="344.1" cy="226.7"/><circle cx="364.1" cy="228.9"/><circle cx="329.1" cy="235.5"/><circle cx="332.5" cy="227.9"/><circle cx="344.1" cy="213.6"/><circle cx="356.5" cy="222.2"/><circle cx="365.5" cy="216.5"/><circle cx="353.0" cy="195.4"/><circle cx="372.5" cy="248.9"/><circle cx="386.3" cy="217.0"/><circle cx="366.9" cy="225.2"/><circle cx="357.7" cy="214.1"/><circle cx="340.4" cy="204.7"/><circle cx="378.8" cy="186.4"/><circle cx="360.3" cy="206.9"/><circle cx="355.6" cy="216.3"/><circle cx="353.2" cy="181.0"/><circle cx="311.8" cy="223.4"/><circle cx="353.0" cy="238.7"/><circle cx="375.2" cy="191.4"/><circle cx="386.8" cy="190.3"/><circle cx="359.4" cy="221.4"/><circle cx="352.8" cy="238.6"/><circle cx="363.6" cy="224.3"/><circle cx="344.1" cy="232.4"/><circle cx="357.2" cy="205.2"/><circle cx="362.2" cy="245.7"/><circle cx="360.7" cy="231.9"/><circle cx="360.8" cy="227.1"/><circle cx="396.4" cy="227.8"/><circle cx="323.3" cy="205.3"/><circle cx="369.6" cy="213.7"/><circle cx="343.2" cy="218.7"/><circle cx="351.0" cy="189.9"/><circle cx="369.6" cy="210.9"/><circle cx="369.3" cy="198.6"/><circle cx="344.6" cy="214.3"/><circle cx="372.0" cy="189.4"/><circle cx="368.0" cy="180.9"/><circle cx="334.3" cy="206.4"/><circle cx="351.6" cy="227.2"/><circle cx="353.0" cy="203.2"/><circle cx="358.9" cy="202.7"/><circle cx="340.5" cy="214.2"/><circle cx="368.8" cy="212.8"/><circle cx="350.4" cy="224.6"/><circle cx="355.8" cy="208.4"/><circle cx="358.5" cy="205.8"/><circle cx="371.5" cy="218.6"/><circle cx="365.1" cy="236.9"/><circle cx="375.3" cy="244.5"/><circle cx="392.6" cy="187.4"/><circle cx="360.5" cy="226.7"/><circle cx="383.0" cy="233.5"/><circle cx="321.2" cy="208.5"/><circle cx="361.2" cy="271.7"/><circle cx="365.4" cy="211.4"/><circle cx="359.2" cy="242.7"/><circle cx="385.9" cy="199.1"/><circle cx="375.6" cy="181.7"/><circle cx="350.4" cy="250.1"/><circle cx="359.7" cy="196.5"/><circle cx="358.5" cy="217.5"/><circle cx="385.6" cy="213.9"/><circle cx="368.4" cy="265.9"/><circle cx="368.5" cy="245.7"/><circle cx="330.3" cy="226.0"/><circle cx="341.5" cy="208.0"/><circle cx="368.9" cy="208.1"/><circle cx="353.2" cy="203.7"/><circle cx="326.3" cy="232.9"/><circle cx="371.3" cy="211.0"/><circle cx="349.0" cy="204.1"/><circle cx="353.5" cy="200.9"/><circle cx="356.5" cy="240.8"/><circle cx="375.4" cy="206.5"/><circle cx="357.8" cy="223.2"/><circle cx="363.0" cy="210.9"/><circle cx="335.9" cy="216.8"/><circle cx="377.4" cy="216.8"/><circle cx="372.5" cy="222.7"/><circle cx="341.7" cy="215.5"/><circle cx="371.3" cy="178.9"/><circle cx="341.6" cy="228.1"/><circle cx="361.0" cy="236.0"/><circle cx="388.1" cy="211.7"/><circle cx="373.8" cy="219.2"/><circle cx="371.2" cy="202.3"/><circle cx="359.1" cy="212.8"/><circle cx="354.2" cy="222.0"/><circle cx="361.5" cy="222.1"/><circle cx="365.2" cy="229.2"/><circle cx="339.3" cy="227.5"/><circle cx="396.7" cy="227.4"/><circle cx="348.8" cy="225.2"/><circle cx="357.2" cy="203.6"/><circle cx="382.7" cy="227.0"/><circle cx="352.9" cy="195.0"/><circle cx="350.9" cy="211.2"/><circle cx="344.9" cy="235.1"/><circle cx="327.9" cy="230.9"/><circle cx="367.0" cy="203.1"/><circle cx="364.6" cy="197.2"/><circle cx="368.8" cy="218.4"/><circle cx="371.5" cy="227.0"/><circle cx="361.9" cy="214.8"/><circle cx="351.3" cy="240.3"/><circle cx="353.7" cy="226.1"/><circle cx="379.9" cy="198.3"/><circle cx="362.2" cy="194.2"/><circle cx="361.9" cy="263.8"/><circle cx="341.2" cy="209.3"/><circle cx="356.5" cy="210.5"/><circle cx="341.2" cy="224.5"/><circle cx="340.8" cy="192.5"/><circle cx="356.1" cy="220.1"/><circle cx="352.6" cy="210.9"/><circle cx="370.9" cy="208.1"/><circle cx="348.5" cy="209.3"/><circle cx="360.5" cy="207.1"/><circle cx="352.0" cy="184.6"/><circle cx="353.5" cy="200.8"/><circle cx="405.3" cy="215.6"/><circle cx="330.1" cy="211.3"/><circle cx="343.7" cy="226.6"/><circle cx="364.3" cy="202.4"/><circle cx="365.1" cy="219.7"/><circle cx="326.9" cy="235.9"/><circle cx="350.5" cy="241.9"/><circle cx="394.9" cy="195.5"/><circle cx="346.2" cy="216.7"/><circle cx="359.8" cy="210.2"/><circle cx="362.8" cy="194.3"/><circle cx="367.7" cy="199.1"/><circle cx="358.8" cy="212.0"/><circle cx="351.7" cy="214.9"/><circle cx="365.1" cy="242.3"/><circle cx="403.5" cy="221.3"/><circle cx="372.7" cy="223.8"/><circle cx="362.0" cy="215.7"/><circle cx="360.6" cy="230.7"/><circle cx="366.2" cy="204.2"/><circle cx="371.0" cy="206.7"/><circle cx="359.4" cy="201.8"/><circle cx="353.5" cy="187.7"/><circle cx="363.3" cy="210.4"/><circle cx="361.2" cy="209.0"/><circle cx="369.2" cy="209.1"/><circle cx="364.6" cy="215.5"/><circle cx="360.3" cy="213.0"/><circle cx="359.3" cy="199.8"/><circle cx="347.6" cy="226.6"/><circle cx="368.3" cy="189.0"/><circle cx="354.0" cy="252.3"/><circle cx="356.0" cy="200.2"/><circle cx="355.2" cy="220.3"/><circle cx="392.4" cy="240.2"/><circle cx="342.9" cy="203.7"/><circle cx="351.9" cy="208.4"/><circle cx="364.1" cy="212.4"/><circle cx="361.2" cy="213.5"/><circle cx="315.2" cy="193.2"/><circle cx="374.9" cy="194.0"/><circle cx="364.7" cy="203.7"/><circle cx="358.6" cy="202.5"/><circle cx="349.3" cy="218.4"/><circle cx="344.6" cy="190.9"/><circle cx="354.9" cy="207.3"/><circle cx="381.0" cy="210.8"/><circle cx="348.1" cy="226.8"/><circle cx="381.4" cy="190.8"/><circle cx="357.7" cy="210.9"/><circle cx="376.8" cy="210.3"/><circle cx="341.9" cy="226.1"/><circle cx="368.1" cy="232.9"/><circle cx="364.9" cy="250.0"/><circle cx="361.6" cy="204.1"/><circle cx="371.2" cy="221.0"/><circle cx="350.5" cy="206.6"/><circle cx="338.5" cy="220.6"/><circle cx="350.2" cy="203.8"/><circle cx="348.5" cy="205.9"/><circle cx="383.4" cy="184.1"/><circle cx="348.2" cy="230.5"/><circle cx="374.1" cy="196.7"/><circle cx="354.8" cy="225.2"/><circle cx="362.8" cy="213.1"/><circle cx="361.1" cy="202.6"/><circle cx="358.9" cy="225.4"/><circle cx="353.7" cy="258.1"/><circle cx="363.8" cy="215.5"/><circle cx="386.2" cy="215.4"/><circle cx="357.7" cy="205.5"/><circle cx="372.1" cy="241.8"/><circle cx="375.7" cy="196.7"/><circle cx="360.3" cy="216.5"/><circle cx="364.7" cy="239.5"/><circle cx="363.0" cy="220.0"/><circle cx="373.1" cy="241.7"/><circle cx="344.5" cy="218.7"/><circle cx="350.4" cy="201.2"/><circle cx="364.0" cy="208.1"/><circle cx="371.1" cy="193.7"/><circle cx="343.4" cy="208.8"/><circle cx="387.1" cy="201.1"/><circle cx="322.9" cy="211.3"/><circle cx="353.4" cy="229.2"/><circle cx="365.3" cy="219.5"/><circle cx="394.7" cy="204.4"/><circle cx="348.2" cy="239.9"/><circle cx="313.9" cy="207.1"/><circle cx="376.7" cy="204.8"/><circle cx="361.3" cy="210.5"/><circle cx="387.5" cy="211.3"/><circle cx="352.7" cy="224.1"/><circle cx="377.5" cy="204.7"/><circle cx="364.4" cy="215.6"/><circle cx="325.5" cy="228.8"/><circle cx="368.0" cy="218.6"/><circle cx="353.2" cy="197.0"/><circle cx="363.0" cy="224.7"/><circle cx="349.6" cy="205.5"/><circle cx="364.3" cy="224.4"/><circle cx="340.4" cy="220.7"/><circle cx="377.8" cy="197.3"/><circle cx="368.5" cy="230.4"/><circle cx="364.7" cy="226.6"/><circle cx="374.0" cy="217.9"/><circle cx="336.7" cy="242.2"/><circle cx="361.2" cy="236.1"/><circle cx="355.9" cy="209.8"/><circle cx="341.1" cy="220.9"/><circle cx="337.0" cy="204.0"/><circle cx="340.6" cy="208.5"/><circle cx="322.3" cy="236.2"/><circle cx="388.1" cy="187.9"/><circle cx="348.9" cy="216.1"/><circle cx="339.5" cy="247.2"/><circle cx="363.3" cy="225.0"/><circle cx="362.5" cy="214.2"/><circle cx="323.8" cy="236.1"/><circle cx="381.5" cy="225.3"/><circle cx="373.7" cy="226.6"/><circle cx="348.1" cy="221.3"/><circle cx="373.4" cy="197.4"/><circle cx="353.7" cy="205.9"/><circle cx="364.5" cy="198.3"/><circle cx="374.6" cy="227.7"/><circle cx="358.9" cy="228.9"/><circle cx="372.6" cy="226.0"/><circle cx="348.8" cy="204.2"/><circle cx="362.5" cy="191.5"/><circle cx="350.9" cy="189.7"/><circle cx="375.4" cy="191.2"/><circle cx="360.2" cy="231.3"/><circle cx="347.0" cy="213.5"/><circle cx="337.5" cy="218.4"/><circle cx="346.3" cy="266.8"/><circle cx="351.6" cy="202.7"/><circle cx="347.7" cy="223.1"/><circle cx="350.7" cy="216.3"/><circle cx="351.5" cy="230.7"/><circle cx="381.0" cy="216.9"/><circle cx="346.5" cy="194.9"/><circle cx="345.8" cy="203.2"/><circle cx="362.5" cy="216.6"/><circle cx="355.9" cy="206.0"/><circle cx="377.5" cy="191.6"/><circle cx="366.4" cy="199.0"/><circle cx="346.6" cy="211.2"/><circle cx="355.5" cy="200.8"/><circle cx="384.2" cy="207.5"/><circle cx="359.5" cy="203.3"/><circle cx="369.3" cy="217.4"/><circle cx="365.4" cy="189.4"/><circle cx="342.4" cy="197.1"/><circle cx="358.4" cy="223.1"/><circle cx="367.8" cy="181.6"/><circle cx="369.0" cy="207.2"/><circle cx="331.9" cy="213.5"/><circle cx="353.2" cy="202.8"/><circle cx="353.7" cy="193.4"/><circle cx="374.4" cy="207.2"/><circle cx="355.0" cy="240.8"/><circle cx="380.8" cy="180.6"/><circle cx="399.9" cy="238.3"/><circle cx="358.7" cy="208.0"/><circle cx="359.1" cy="217.4"/><circle cx="352.6" cy="222.5"/><circle cx="332.0" cy="191.0"/><circle cx="359.5" cy="199.7"/><circle cx="326.3" cy="208.1"/><circle cx="366.9" cy="199.0"/><circle cx="358.4" cy="193.7"/><circle cx="366.3" cy="210.7"/><circle cx="348.1" cy="212.8"/><circle cx="380.6" cy="218.9"/><circle cx="344.8" cy="213.4"/><circle cx="361.1" cy="194.6"/><circle cx="379.3" cy="185.5"/><circle cx="390.7" cy="208.6"/><circle cx="392.1" cy="216.6"/><circle cx="360.6" cy="197.3"/><circle cx="366.3" cy="203.8"/><circle cx="338.8" cy="265.3"/><circle cx="356.1" cy="211.8"/><circle cx="346.6" cy="234.6"/><circle cx="348.6" cy="208.7"/><circle cx="356.5" cy="233.9"/><circle cx="367.9" cy="188.1"/><circle cx="361.5" cy="229.7"/><circle cx="357.4" cy="222.3"/><circle cx="388.7" cy="199.1"/><circle cx="369.6" cy="221.3"/><circle cx="374.6" cy="234.3"/><circle cx="365.7" cy="219.1"/><circle cx="383.0" cy="229.8"/><circle cx="374.5" cy="223.2"/><circle cx="362.7" cy="199.4"/><circle cx="359.6" cy="213.2"/><circle cx="373.8" cy="206.8"/><circle cx="394.6" cy="231.3"/><circle cx="356.9" cy="226.4"/><circle cx="373.0" cy="197.6"/><circle cx="350.0" cy="233.8"/><circle cx="339.3" cy="207.5"/><circle cx="379.3" cy="246.7"/><circle cx="365.2" cy="212.9"/><circle cx="369.5" cy="230.3"/><circle cx="358.4" cy="240.9"/><circle cx="364.5" cy="214.3"/><circle cx="365.9" cy="240.1"/><circle cx="361.8" cy="219.3"/><circle cx="381.6" cy="242.6"/><circle cx="345.4" cy="200.8"/><circle cx="354.2" cy="210.8"/><circle cx="344.5" cy="202.7"/><circle cx="383.0" cy="214.1"/><circle cx="342.1" cy="224.0"/><circle cx="371.3" cy="221.3"/><circle cx="326.0" cy="223.0"/><circle cx="360.0" cy="186.0"/><circle cx="337.1" cy="224.0"/><circle cx="358.6" cy="219.9"/><circle cx="343.8" cy="207.9"/><circle cx="353.8" cy="230.8"/><circle cx="373.5" cy="259.8"/><circle cx="375.1" cy="207.2"/><circle cx="341.1" cy="200.0"/><circle cx="386.6" cy="199.6"/><circle cx="370.6" cy="203.7"/><circle cx="346.9" cy="181.3"/><circle cx="353.1" cy="193.4"/><circle cx="371.5" cy="248.0"/><circle cx="394.1" cy="272.1"/><circle cx="346.0" cy="231.8"/><circle cx="361.4" cy="239.7"/><circle cx="369.3" cy="183.2"/><circle cx="351.3" cy="251.0"/><circle cx="357.2" cy="216.9"/><circle cx="352.8" cy="205.1"/><circle cx="359.8" cy="190.5"/><circle cx="401.0" cy="202.5"/><circle cx="367.1" cy="219.2"/><circle cx="346.3" cy="212.8"/><circle cx="395.7" cy="226.6"/><circle cx="381.4" cy="210.9"/><circle cx="310.9" cy="216.1"/><circle cx="365.9" cy="209.4"/><circle cx="331.8" cy="220.3"/><circle cx="349.9" cy="223.7"/><circle cx="339.7" cy="186.3"/><circle cx="360.6" cy="227.6"/><circle cx="358.6" cy="210.8"/><circle cx="358.6" cy="187.3"/><circle cx="372.8" cy="210.8"/><circle cx="385.6" cy="186.0"/><circle cx="362.2" cy="230.7"/><circle cx="347.6" cy="233.0"/><circle cx="382.8" cy="209.0"/><circle cx="355.0" cy="207.8"/><circle cx="345.0" cy="193.8"/><circle cx="351.6" cy="250.1"/><circle cx="348.0" cy="249.9"/><circle cx="352.3" cy="212.4"/><circle cx="368.3" cy="236.6"/><circle cx="362.0" cy="211.5"/><circle cx="349.8" cy="192.0"/><circle cx="346.3" cy="233.8"/><circle cx="363.2" cy="219.3"/><circle cx="375.4" cy="201.9"/><circle cx="366.3" cy="179.8"/><circle cx="320.7" cy="232.9"/><circle cx="366.9" cy="235.4"/><circle cx="343.2" cy="185.8"/><circle cx="362.8" cy="211.7"/><circle cx="351.7" cy="212.0"/><circle cx="370.1" cy="196.6"/><circle cx="347.7" cy="222.2"/><circle cx="350.3" cy="242.7"/><circle cx="370.1" cy="240.9"/><circle cx="336.3" cy="231.1"/><circle cx="375.9" cy="244.5"/><circle cx="378.5" cy="210.8"/><circle cx="349.5" cy="193.3"/><circle cx="371.5" cy="204.7"/><circle cx="356.5" cy="240.8"/><circle cx="386.4" cy="214.2"/><circle cx="357.3" cy="249.5"/><circle cx="367.3" cy="215.4"/><circle cx="344.2" cy="190.8"/><circle cx="365.0" cy="199.1"/><circle cx="346.3" cy="213.0"/><circle cx="368.8" cy="196.6"/><circle cx="345.0" cy="268.4"/><circle cx="350.4" cy="220.2"/><circle cx="348.2" cy="224.5"/><circle cx="325.8" cy="219.4"/><circle cx="355.4" cy="225.0"/><circle cx="361.7" cy="232.8"/><circle cx="379.5" cy="237.8"/><circle cx="379.1" cy="187.4"/><circle cx="389.5" cy="191.1"/><circle cx="345.0" cy="265.2"/><circle cx="326.9" cy="216.3"/><circle cx="373.4" cy="208.5"/><circle cx="358.0" cy="207.1"/><circle cx="335.9" cy="214.9"/><circle cx="357.7" cy="268.3"/><circle cx="356.9" cy="183.1"/><circle cx="350.2" cy="264.0"/><circle cx="368.7" cy="199.7"/><circle cx="354.9" cy="212.4"/><circle cx="359.1" cy="203.6"/><circle cx="357.6" cy="234.8"/><circle cx="372.1" cy="204.8"/><circle cx="353.8" cy="210.9"/><circle cx="368.7" cy="217.0"/><circle cx="356.0" cy="216.5"/><circle cx="367.2" cy="211.3"/><circle cx="366.1" cy="200.0"/><circle cx="353.9" cy="254.1"/><circle cx="375.5" cy="228.9"/><circle cx="310.7" cy="224.3"/><circle cx="354.3" cy="197.4"/><circle cx="377.2" cy="217.8"/><circle cx="370.2" cy="229.9"/><circle cx="374.9" cy="202.0"/><circle cx="365.3" cy="215.5"/><circle cx="347.4" cy="233.3"/><circle cx="372.9" cy="234.3"/><circle cx="352.8" cy="190.2"/><circle cx="349.7" cy="201.4"/><circle cx="356.2" cy="193.1"/><circle cx="343.2" cy="210.6"/><circle cx="359.7" cy="231.6"/><circle cx="327.0" cy="214.8"/><circle cx="341.9" cy="267.2"/><circle cx="350.3" cy="236.8"/><circle cx="372.6" cy="197.7"/><circle cx="353.0" cy="199.9"/><circle cx="353.8" cy="211.5"/><circle cx="379.0" cy="210.9"/><circle cx="341.6" cy="221.7"/><circle cx="371.8" cy="181.4"/><circle cx="354.6" cy="214.4"/><circle cx="372.1" cy="209.9"/><circle cx="367.6" cy="215.5"/><circle cx="375.5" cy="214.5"/><circle cx="361.2" cy="188.2"/><circle cx="366.9" cy="221.6"/><circle cx="372.5" cy="201.8"/><circle cx="413.7" cy="220.4"/><circle cx="351.3" cy="222.3"/><circle cx="362.2" cy="220.1"/><circle cx="358.4" cy="217.1"/><circle cx="365.5" cy="223.4"/><circle cx="371.6" cy="199.6"/><circle cx="373.1" cy="216.6"/><circle cx="374.1" cy="217.3"/><circle cx="341.7" cy="241.7"/><circle cx="370.7" cy="216.6"/><circle cx="373.9" cy="193.6"/><circle cx="362.2" cy="234.2"/><circle cx="359.8" cy="228.2"/><circle cx="383.7" cy="193.9"/><circle cx="368.5" cy="216.8"/><circle cx="366.6" cy="189.8"/><circle cx="378.1" cy="182.0"/><circle cx="342.4" cy="274.3"/><circle cx="315.7" cy="218.5"/><circle cx="343.2" cy="210.1"/><circle cx="393.4" cy="203.4"/><circle cx="374.0" cy="187.0"/><circle cx="349.4" cy="262.0"/><circle cx="376.2" cy="201.5"/><circle cx="345.7" cy="228.5"/><circle cx="303.0" cy="201.6"/><circle cx="368.2" cy="232.9"/><circle cx="361.1" cy="203.1"/><circle cx="359.5" cy="258.1"/><circle cx="356.8" cy="221.7"/><circle cx="346.8" cy="239.4"/><circle cx="361.5" cy="211.5"/><circle cx="351.7" cy="224.5"/><circle cx="345.3" cy="211.9"/><circle cx="343.9" cy="205.8"/><circle cx="365.6" cy="226.9"/><circle cx="313.0" cy="220.0"/><circle cx="347.9" cy="217.5"/><circle cx="364.0" cy="225.0"/><circle cx="362.3" cy="202.6"/><circle cx="356.6" cy="216.0"/><circle cx="355.9" cy="243.3"/><circle cx="372.5" cy="195.0"/><circle cx="352.7" cy="205.9"/><circle cx="353.9" cy="222.1"/><circle cx="347.4" cy="225.6"/><circle cx="395.4" cy="201.9"/><circle cx="338.5" cy="205.5"/><circle cx="358.1" cy="262.6"/><circle cx="342.9" cy="204.3"/><circle cx="347.9" cy="204.1"/><circle cx="365.3" cy="182.2"/><circle cx="358.9" cy="207.3"/><circle cx="367.4" cy="215.2"/><circle cx="379.2" cy="247.4"/><circle cx="332.9" cy="206.4"/><circle cx="344.7" cy="217.0"/><circle cx="344.1" cy="213.9"/><circle cx="354.8" cy="219.3"/><circle cx="349.1" cy="222.6"/><circle cx="370.5" cy="189.9"/><circle cx="350.7" cy="214.7"/><circle cx="361.0" cy="192.7"/><circle cx="328.6" cy="209.4"/><circle cx="346.8" cy="235.3"/><circle cx="352.9" cy="225.3"/><circle cx="326.8" cy="215.4"/><circle cx="367.8" cy="186.3"/><circle cx="361.4" cy="215.8"/><circle cx="364.0" cy="211.9"/><circle cx="349.4" cy="213.0"/><circle cx="374.5" cy="190.3"/><circle cx="405.9" cy="190.8"/><circle cx="368.1" cy="207.4"/><circle cx="360.3" cy="204.8"/><circle cx="350.8" cy="221.1"/><circle cx="359.6" cy="208.1"/><circle cx="372.5" cy="245.6"/><circle cx="389.8" cy="194.9"/><circle cx="378.0" cy="178.2"/><circle cx="358.3" cy="243.4"/><circle cx="357.2" cy="250.1"/><circle cx="354.5" cy="222.8"/><circle cx="349.9" cy="278.5"/><circle cx="353.3" cy="226.6"/><circle cx="349.6" cy="197.5"/><circle cx="359.5" cy="230.3"/><circle cx="359.1" cy="225.9"/><circle cx="353.5" cy="237.7"/><circle cx="352.8" cy="219.5"/><circle cx="356.4" cy="228.3"/><circle cx="352.6" cy="214.2"/>
</g>
<path d="M305.2 223.2 L309.7 222.8 L314.1 222.3 L318.6 221.9 L323.1 221.4 L327.5 220.9 L332.0 220.5 L336.5 220.0 L340.9 219.4 L345.4 218.9 L349.9 218.3 L354.3 217.7 L358.8 216.9 L363.3 216.2 L367.7 215.3 L372.2 214.4 L376.7 213.5 L381.1 212.5 L385.6 211.5 L390.1 210.5 L394.5 209.5 L399.0 208.5 L403.5 207.5 L407.9 206.5 L412.4 205.5 L412.4 213.3 L407.9 213.8 L403.5 214.3 L399.0 214.7 L394.5 215.2 L390.1 215.6 L385.6 216.1 L381.1 216.6 L376.7 217.1 L372.2 217.7 L367.7 218.2 L363.3 218.9 L358.8 219.6 L354.3 220.3 L349.9 221.1 L345.4 222.0 L340.9 223.0 L336.5 223.9 L332.0 224.9 L327.5 225.9 L323.1 226.9 L318.6 227.9 L314.1 228.9 L309.7 229.9 L305.2 230.9 Z" fill="#999" fill-opacity="0.45"/>
<line x1="305.2" y1="227.1" x2="412.4" y2="209.4" stroke="#000" stroke-width="1.6"/>
<rect x="299.6" y="159.0" width="117.7" height="151.5" fill="none" stroke="#505050" stroke-width="1"/>
<line x1="326.7" y1="310.5" x2="326.7" y2="308.5" stroke="#333" stroke-width="0.8"/>
<text class="tk" transform="translate(326.70,317.70) scale(1,1.080)" text-anchor="middle">−2</text>
<line x1="356.7" y1="310.5" x2="356.7" y2="308.5" stroke="#333" stroke-width="0.8"/>
<text class="tk" transform="translate(356.70,317.70) scale(1,1.080)" text-anchor="middle">0</text>
<line x1="386.7" y1="310.5" x2="386.7" y2="308.5" stroke="#333" stroke-width="0.8"/>
<text class="tk" transform="translate(386.70,317.70) scale(1,1.080)" text-anchor="middle">2</text>
<line x1="416.7" y1="310.5" x2="416.7" y2="308.5" stroke="#333" stroke-width="0.8"/>
<text class="tk" transform="translate(416.70,317.70) scale(1,1.080)" text-anchor="middle">4</text>
<line x1="299.6" y1="176.0" x2="301.6" y2="176.0" stroke="#333" stroke-width="0.8"/>
<text class="tk" transform="translate(298.00,178.26) scale(1,1.080)" text-anchor="end">2</text>
<line x1="299.6" y1="218.5" x2="301.6" y2="218.5" stroke="#333" stroke-width="0.8"/>
<text class="tk" transform="translate(298.00,220.80) scale(1,1.080)" text-anchor="end">0</text>
<line x1="299.6" y1="261.0" x2="301.6" y2="261.0" stroke="#333" stroke-width="0.8"/>
<text class="tk" transform="translate(298.00,263.34) scale(1,1.080)" text-anchor="end">−2</text>
<line x1="299.6" y1="303.6" x2="301.6" y2="303.6" stroke="#333" stroke-width="0.8"/>
<text class="tk" transform="translate(298.00,305.88) scale(1,1.080)" text-anchor="end">−4</text>
<g class="p">
<circle cx="529.6" cy="186.5"/><circle cx="460.1" cy="224.4"/><circle cx="468.2" cy="213.9"/><circle cx="466.4" cy="225.0"/><circle cx="479.1" cy="230.7"/><circle cx="494.0" cy="208.0"/><circle cx="454.9" cy="219.8"/><circle cx="476.7" cy="244.2"/><circle cx="480.0" cy="217.2"/><circle cx="498.8" cy="194.4"/><circle cx="474.1" cy="229.6"/><circle cx="499.1" cy="219.9"/><circle cx="479.3" cy="209.8"/><circle cx="527.2" cy="223.0"/><circle cx="482.6" cy="235.8"/><circle cx="500.5" cy="194.8"/><circle cx="468.7" cy="205.5"/><circle cx="495.6" cy="218.8"/><circle cx="503.1" cy="197.9"/><circle cx="465.9" cy="257.2"/><circle cx="479.3" cy="205.4"/><circle cx="500.6" cy="194.0"/><circle cx="469.8" cy="218.3"/><circle cx="476.5" cy="197.7"/><circle cx="480.5" cy="226.5"/><circle cx="465.5" cy="223.8"/><circle cx="511.4" cy="195.0"/><circle cx="487.9" cy="218.0"/><circle cx="489.0" cy="211.6"/><circle cx="486.8" cy="210.0"/><circle cx="492.0" cy="236.8"/><circle cx="494.2" cy="215.3"/><circle cx="495.1" cy="207.5"/><circle cx="465.7" cy="232.0"/><circle cx="472.4" cy="238.0"/><circle cx="465.0" cy="213.3"/><circle cx="490.8" cy="195.4"/><circle cx="491.3" cy="182.8"/><circle cx="484.8" cy="216.1"/><circle cx="482.2" cy="236.8"/><circle cx="497.8" cy="199.0"/><circle cx="487.7" cy="218.4"/><circle cx="479.1" cy="250.2"/><circle cx="459.0" cy="242.4"/><circle cx="532.9" cy="210.2"/><circle cx="496.9" cy="184.7"/><circle cx="497.8" cy="195.9"/><circle cx="485.0" cy="205.4"/><circle cx="514.1" cy="211.2"/><circle cx="459.0" cy="228.0"/><circle cx="470.3" cy="225.0"/><circle cx="500.7" cy="191.3"/><circle cx="459.2" cy="206.6"/><circle cx="484.7" cy="232.5"/><circle cx="543.3" cy="226.2"/><circle cx="505.0" cy="238.1"/><circle cx="473.0" cy="234.8"/><circle cx="471.9" cy="220.7"/><circle cx="502.3" cy="209.1"/><circle cx="488.6" cy="214.3"/><circle cx="475.8" cy="228.5"/><circle cx="486.1" cy="230.6"/><circle cx="501.1" cy="192.2"/><circle cx="447.6" cy="199.6"/><circle cx="484.6" cy="217.0"/><circle cx="473.1" cy="211.1"/><circle cx="522.3" cy="193.4"/><circle cx="502.7" cy="211.2"/><circle cx="466.1" cy="229.9"/><circle cx="479.9" cy="220.3"/><circle cx="476.3" cy="204.5"/><circle cx="487.8" cy="190.9"/><circle cx="486.8" cy="220.3"/><circle cx="483.9" cy="223.3"/><circle cx="487.7" cy="230.5"/><circle cx="476.3" cy="218.2"/><circle cx="500.8" cy="230.3"/><circle cx="480.4" cy="208.0"/><circle cx="469.3" cy="223.9"/><circle cx="472.9" cy="237.6"/><circle cx="454.0" cy="275.2"/><circle cx="478.6" cy="193.6"/><circle cx="486.3" cy="226.2"/><circle cx="461.2" cy="246.4"/><circle cx="470.0" cy="230.0"/><circle cx="493.2" cy="214.6"/><circle cx="490.8" cy="215.4"/><circle cx="465.3" cy="287.0"/><circle cx="479.2" cy="230.1"/><circle cx="479.4" cy="218.2"/><circle cx="504.9" cy="197.0"/><circle cx="503.4" cy="185.2"/><circle cx="475.9" cy="254.2"/><circle cx="502.5" cy="209.3"/><circle cx="470.2" cy="242.2"/><circle cx="469.9" cy="223.5"/><circle cx="497.0" cy="201.5"/><circle cx="461.5" cy="229.0"/><circle cx="460.0" cy="251.5"/><circle cx="504.4" cy="213.2"/><circle cx="469.7" cy="236.7"/><circle cx="474.5" cy="243.5"/><circle cx="489.5" cy="204.9"/><circle cx="490.5" cy="188.8"/><circle cx="468.7" cy="243.8"/><circle cx="457.6" cy="218.8"/><circle cx="501.3" cy="226.1"/><circle cx="521.1" cy="215.1"/><circle cx="494.6" cy="222.2"/><circle cx="486.8" cy="209.0"/><circle cx="521.7" cy="204.0"/><circle cx="463.9" cy="233.8"/><circle cx="495.5" cy="193.4"/><circle cx="461.9" cy="223.0"/><circle cx="477.3" cy="228.6"/><circle cx="491.5" cy="206.7"/><circle cx="495.3" cy="224.4"/><circle cx="464.4" cy="214.1"/><circle cx="479.7" cy="203.2"/><circle cx="476.9" cy="230.2"/><circle cx="507.3" cy="216.5"/><circle cx="489.4" cy="227.0"/><circle cx="465.1" cy="226.6"/><circle cx="496.8" cy="197.7"/><circle cx="495.0" cy="222.5"/><circle cx="493.6" cy="198.7"/><circle cx="492.3" cy="200.1"/><circle cx="477.0" cy="219.0"/><circle cx="488.3" cy="209.7"/><circle cx="462.8" cy="224.8"/><circle cx="503.2" cy="213.0"/><circle cx="508.8" cy="204.5"/><circle cx="509.9" cy="205.3"/><circle cx="474.6" cy="246.0"/><circle cx="480.5" cy="230.9"/><circle cx="508.4" cy="205.2"/><circle cx="486.2" cy="210.8"/><circle cx="460.7" cy="215.8"/><circle cx="463.4" cy="234.1"/><circle cx="472.8" cy="204.5"/><circle cx="515.2" cy="195.4"/><circle cx="475.5" cy="218.6"/><circle cx="493.2" cy="215.8"/><circle cx="487.7" cy="224.5"/><circle cx="500.0" cy="207.5"/><circle cx="489.1" cy="180.1"/><circle cx="452.4" cy="245.7"/><circle cx="484.4" cy="272.1"/><circle cx="498.3" cy="206.9"/><circle cx="482.7" cy="208.1"/><circle cx="480.9" cy="220.1"/><circle cx="474.1" cy="209.3"/><circle cx="513.6" cy="205.8"/><circle cx="486.8" cy="226.1"/><circle cx="487.2" cy="215.4"/><circle cx="490.7" cy="260.8"/><circle cx="469.9" cy="226.0"/><circle cx="480.4" cy="211.1"/><circle cx="497.8" cy="197.9"/><circle cx="499.0" cy="200.5"/><circle cx="497.3" cy="190.1"/><circle cx="468.0" cy="229.8"/><circle cx="497.8" cy="192.8"/><circle cx="489.3" cy="226.9"/><circle cx="482.7" cy="239.0"/><circle cx="512.4" cy="189.4"/><circle cx="475.4" cy="228.6"/><circle cx="493.0" cy="235.7"/><circle cx="477.1" cy="237.4"/><circle cx="475.6" cy="219.9"/><circle cx="501.1" cy="204.3"/><circle cx="486.4" cy="217.5"/><circle cx="486.7" cy="223.2"/><circle cx="493.3" cy="222.0"/><circle cx="483.4" cy="224.1"/><circle cx="466.6" cy="220.3"/><circle cx="479.9" cy="255.3"/><circle cx="466.1" cy="262.9"/><circle cx="465.0" cy="248.4"/><circle cx="522.4" cy="216.5"/><circle cx="487.3" cy="225.3"/><circle cx="502.4" cy="187.7"/><circle cx="472.3" cy="224.1"/><circle cx="470.8" cy="227.3"/><circle cx="485.6" cy="181.5"/><circle cx="493.5" cy="226.5"/><circle cx="483.6" cy="186.9"/><circle cx="468.1" cy="187.9"/><circle cx="509.7" cy="200.7"/><circle cx="476.5" cy="212.7"/><circle cx="509.2" cy="189.7"/><circle cx="483.8" cy="180.8"/><circle cx="510.7" cy="183.8"/><circle cx="493.4" cy="200.3"/><circle cx="507.1" cy="185.9"/><circle cx="491.6" cy="220.8"/><circle cx="467.4" cy="217.8"/><circle cx="492.3" cy="196.7"/><circle cx="480.5" cy="252.5"/><circle cx="519.3" cy="201.1"/><circle cx="472.5" cy="230.2"/><circle cx="474.1" cy="219.7"/><circle cx="464.7" cy="256.3"/><circle cx="463.7" cy="191.4"/><circle cx="485.4" cy="196.5"/><circle cx="462.3" cy="233.4"/><circle cx="495.3" cy="206.2"/><circle cx="470.4" cy="197.1"/><circle cx="479.6" cy="207.5"/><circle cx="500.5" cy="185.1"/><circle cx="496.4" cy="196.1"/><circle cx="528.0" cy="241.1"/><circle cx="493.6" cy="221.1"/><circle cx="502.4" cy="190.1"/><circle cx="472.6" cy="237.4"/><circle cx="463.9" cy="256.1"/><circle cx="529.6" cy="209.8"/><circle cx="510.5" cy="218.1"/><circle cx="512.1" cy="215.8"/><circle cx="497.5" cy="199.4"/><circle cx="537.8" cy="205.3"/><circle cx="482.8" cy="205.5"/><circle cx="493.0" cy="205.8"/><circle cx="466.1" cy="248.0"/><circle cx="465.9" cy="237.7"/><circle cx="471.9" cy="218.8"/><circle cx="485.3" cy="234.2"/><circle cx="474.0" cy="226.2"/><circle cx="494.6" cy="212.1"/><circle cx="496.3" cy="209.1"/><circle cx="504.4" cy="216.3"/><circle cx="492.5" cy="176.9"/><circle cx="507.5" cy="182.6"/><circle cx="502.3" cy="199.2"/><circle cx="482.9" cy="247.5"/><circle cx="495.0" cy="214.3"/><circle cx="486.3" cy="205.7"/><circle cx="521.0" cy="205.5"/><circle cx="478.2" cy="239.4"/><circle cx="482.2" cy="198.8"/><circle cx="494.5" cy="176.4"/><circle cx="488.2" cy="213.5"/><circle cx="509.2" cy="207.2"/><circle cx="484.2" cy="177.5"/><circle cx="474.4" cy="205.3"/><circle cx="482.5" cy="207.7"/><circle cx="469.4" cy="236.7"/><circle cx="516.8" cy="214.3"/><circle cx="502.3" cy="215.4"/><circle cx="511.0" cy="219.1"/><circle cx="489.6" cy="202.0"/><circle cx="494.8" cy="214.9"/><circle cx="494.0" cy="229.1"/><circle cx="539.9" cy="196.4"/><circle cx="459.6" cy="232.7"/><circle cx="530.0" cy="208.9"/><circle cx="484.0" cy="225.9"/><circle cx="506.1" cy="207.1"/><circle cx="483.6" cy="212.1"/><circle cx="501.5" cy="215.0"/><circle cx="466.9" cy="243.6"/><circle cx="458.9" cy="228.3"/><circle cx="475.8" cy="229.6"/><circle cx="462.8" cy="218.6"/><circle cx="483.0" cy="206.7"/><circle cx="472.3" cy="257.6"/><circle cx="514.1" cy="214.0"/><circle cx="484.5" cy="243.7"/><circle cx="476.4" cy="209.3"/><circle cx="504.4" cy="199.1"/><circle cx="500.8" cy="201.8"/><circle cx="453.6" cy="216.4"/><circle cx="504.4" cy="192.5"/><circle cx="469.4" cy="216.6"/><circle cx="501.9" cy="204.4"/><circle cx="499.3" cy="204.6"/><circle cx="469.7" cy="234.7"/><circle cx="480.5" cy="184.7"/><circle cx="503.1" cy="206.6"/><circle cx="502.2" cy="222.8"/><circle cx="513.7" cy="214.8"/><circle cx="495.7" cy="188.6"/><circle cx="509.5" cy="224.8"/><circle cx="482.9" cy="247.4"/><circle cx="497.6" cy="211.9"/><circle cx="466.1" cy="235.4"/><circle cx="478.0" cy="199.9"/><circle cx="539.8" cy="214.8"/><circle cx="477.8" cy="237.4"/><circle cx="502.1" cy="219.5"/><circle cx="500.6" cy="214.0"/><circle cx="503.4" cy="185.7"/><circle cx="528.3" cy="214.4"/><circle cx="486.6" cy="198.1"/><circle cx="513.0" cy="193.2"/><circle cx="449.0" cy="226.0"/><circle cx="476.8" cy="224.7"/><circle cx="504.8" cy="196.3"/><circle cx="488.0" cy="217.8"/><circle cx="493.6" cy="219.0"/><circle cx="516.4" cy="218.0"/><circle cx="507.3" cy="215.8"/><circle cx="531.0" cy="209.6"/><circle cx="487.6" cy="231.6"/><circle cx="458.8" cy="233.6"/><circle cx="461.6" cy="230.6"/><circle cx="484.8" cy="233.2"/><circle cx="490.5" cy="208.5"/><circle cx="481.6" cy="257.2"/><circle cx="480.6" cy="191.9"/><circle cx="489.4" cy="199.0"/><circle cx="471.6" cy="249.3"/><circle cx="468.2" cy="251.0"/><circle cx="480.8" cy="211.4"/><circle cx="469.8" cy="237.8"/><circle cx="468.7" cy="239.9"/><circle cx="506.0" cy="218.6"/><circle cx="510.0" cy="206.9"/><circle cx="493.6" cy="220.4"/><circle cx="503.8" cy="190.2"/><circle cx="490.2" cy="213.4"/><circle cx="502.2" cy="206.5"/><circle cx="490.2" cy="232.5"/><circle cx="468.9" cy="232.1"/><circle cx="498.3" cy="226.8"/><circle cx="494.6" cy="226.0"/><circle cx="466.3" cy="260.9"/><circle cx="479.5" cy="228.4"/><circle cx="474.5" cy="214.7"/><circle cx="519.7" cy="185.5"/><circle cx="441.5" cy="227.0"/><circle cx="507.5" cy="187.3"/><circle cx="481.4" cy="193.8"/><circle cx="505.6" cy="219.2"/><circle cx="466.2" cy="207.2"/><circle cx="472.3" cy="229.0"/><circle cx="487.8" cy="199.6"/><circle cx="467.1" cy="225.4"/><circle cx="479.3" cy="222.2"/><circle cx="490.7" cy="231.9"/><circle cx="519.8" cy="188.2"/><circle cx="477.1" cy="182.1"/><circle cx="508.9" cy="178.9"/><circle cx="493.1" cy="221.9"/><circle cx="504.9" cy="215.8"/><circle cx="465.3" cy="212.3"/><circle cx="465.5" cy="232.7"/><circle cx="498.4" cy="192.6"/><circle cx="451.6" cy="230.0"/><circle cx="500.0" cy="197.0"/><circle cx="504.0" cy="199.2"/><circle cx="471.5" cy="223.3"/><circle cx="488.6" cy="208.6"/><circle cx="480.8" cy="236.1"/><circle cx="493.1" cy="212.9"/><circle cx="458.4" cy="216.4"/><circle cx="498.5" cy="217.2"/><circle cx="484.0" cy="213.3"/><circle cx="473.3" cy="232.3"/><circle cx="499.6" cy="205.0"/><circle cx="478.3" cy="227.8"/><circle cx="491.5" cy="207.9"/><circle cx="492.6" cy="209.0"/><circle cx="465.9" cy="206.7"/><circle cx="476.5" cy="202.0"/><circle cx="490.6" cy="279.8"/><circle cx="504.6" cy="185.2"/><circle cx="476.0" cy="237.3"/><circle cx="479.1" cy="229.7"/><circle cx="492.4" cy="206.7"/><circle cx="482.2" cy="229.8"/><circle cx="472.0" cy="198.8"/><circle cx="474.3" cy="196.0"/><circle cx="477.0" cy="229.2"/><circle cx="473.1" cy="284.1"/><circle cx="507.3" cy="208.9"/><circle cx="510.6" cy="218.1"/><circle cx="468.5" cy="221.8"/><circle cx="507.7" cy="202.7"/><circle cx="485.1" cy="241.3"/><circle cx="489.3" cy="212.4"/><circle cx="469.1" cy="227.6"/><circle cx="492.5" cy="200.7"/><circle cx="529.6" cy="193.6"/><circle cx="502.6" cy="187.3"/><circle cx="515.7" cy="205.4"/><circle cx="488.0" cy="233.7"/><circle cx="506.6" cy="222.3"/><circle cx="460.3" cy="240.8"/><circle cx="507.6" cy="204.6"/><circle cx="477.6" cy="250.3"/><circle cx="541.7" cy="213.4"/><circle cx="483.6" cy="215.8"/><circle cx="494.7" cy="207.1"/><circle cx="505.1" cy="213.8"/><circle cx="491.4" cy="187.8"/><circle cx="498.2" cy="200.6"/><circle cx="468.6" cy="222.4"/><circle cx="508.2" cy="197.9"/><circle cx="482.9" cy="225.9"/><circle cx="479.3" cy="222.7"/><circle cx="488.0" cy="195.4"/><circle cx="480.9" cy="202.6"/><circle cx="505.0" cy="209.5"/><circle cx="488.9" cy="214.4"/><circle cx="490.8" cy="217.9"/><circle cx="507.1" cy="220.2"/><circle cx="499.7" cy="210.2"/><circle cx="503.4" cy="211.4"/><circle cx="490.0" cy="194.6"/><circle cx="531.2" cy="227.4"/><circle cx="487.3" cy="202.0"/><circle cx="473.3" cy="213.9"/><circle cx="497.7" cy="206.8"/><circle cx="489.9" cy="199.7"/><circle cx="476.1" cy="228.9"/><circle cx="488.7" cy="214.5"/><circle cx="472.0" cy="225.2"/><circle cx="483.3" cy="208.4"/><circle cx="480.1" cy="195.7"/><circle cx="478.5" cy="227.4"/><circle cx="479.8" cy="217.1"/><circle cx="483.3" cy="225.7"/><circle cx="489.7" cy="213.5"/><circle cx="480.7" cy="213.6"/><circle cx="481.8" cy="207.4"/><circle cx="511.5" cy="222.7"/><circle cx="502.1" cy="221.0"/><circle cx="517.8" cy="180.7"/><circle cx="485.5" cy="208.9"/><circle cx="467.1" cy="227.9"/><circle cx="490.1" cy="189.8"/><circle cx="479.2" cy="213.8"/><circle cx="468.7" cy="229.1"/><circle cx="490.6" cy="206.0"/><circle cx="476.1" cy="215.3"/><circle cx="477.3" cy="240.4"/><circle cx="503.0" cy="191.3"/><circle cx="533.5" cy="197.3"/><circle cx="502.5" cy="202.6"/><circle cx="472.1" cy="241.0"/><circle cx="503.7" cy="204.6"/><circle cx="513.3" cy="195.4"/><circle cx="485.6" cy="201.7"/><circle cx="468.8" cy="240.4"/><circle cx="475.7" cy="221.0"/><circle cx="473.9" cy="222.3"/><circle cx="510.4" cy="186.6"/><circle cx="478.2" cy="215.5"/><circle cx="498.9" cy="213.4"/><circle cx="541.4" cy="215.1"/><circle cx="488.1" cy="194.7"/><circle cx="477.9" cy="257.5"/><circle cx="446.9" cy="208.4"/><circle cx="491.7" cy="210.7"/><circle cx="468.0" cy="228.3"/><circle cx="463.8" cy="228.8"/><circle cx="530.4" cy="232.2"/><circle cx="469.3" cy="223.6"/><circle cx="518.7" cy="204.3"/><circle cx="491.9" cy="211.1"/><circle cx="460.4" cy="235.0"/><circle cx="489.4" cy="196.4"/><circle cx="492.1" cy="186.5"/><circle cx="492.4" cy="231.7"/><circle cx="484.4" cy="235.5"/><circle cx="459.8" cy="220.8"/><circle cx="491.1" cy="204.0"/><circle cx="472.3" cy="232.7"/><circle cx="488.8" cy="240.0"/><circle cx="473.2" cy="216.9"/><circle cx="505.3" cy="212.4"/><circle cx="489.3" cy="212.1"/><circle cx="486.6" cy="235.5"/><circle cx="482.9" cy="219.6"/><circle cx="473.6" cy="269.5"/><circle cx="492.9" cy="249.9"/><circle cx="483.0" cy="243.1"/><circle cx="485.8" cy="190.5"/><circle cx="478.8" cy="187.3"/><circle cx="533.9" cy="213.8"/><circle cx="504.6" cy="205.4"/><circle cx="448.9" cy="211.2"/><circle cx="490.7" cy="205.9"/><circle cx="487.2" cy="234.8"/><circle cx="460.1" cy="226.3"/><circle cx="482.9" cy="211.3"/><circle cx="494.0" cy="233.3"/><circle cx="487.5" cy="212.8"/><circle cx="499.1" cy="208.2"/><circle cx="481.6" cy="221.3"/><circle cx="474.3" cy="205.6"/><circle cx="481.5" cy="237.4"/><circle cx="483.2" cy="208.6"/><circle cx="464.3" cy="246.4"/><circle cx="465.7" cy="219.5"/><circle cx="485.4" cy="191.6"/><circle cx="484.1" cy="220.5"/><circle cx="509.4" cy="182.7"/><circle cx="491.6" cy="210.7"/><circle cx="507.3" cy="205.4"/><circle cx="504.0" cy="194.5"/><circle cx="497.7" cy="214.4"/><circle cx="487.7" cy="207.4"/><circle cx="490.8" cy="220.0"/><circle cx="504.1" cy="210.8"/><circle cx="494.1" cy="226.4"/><circle cx="462.4" cy="228.3"/><circle cx="495.1" cy="215.3"/><circle cx="467.3" cy="213.3"/><circle cx="497.6" cy="223.6"/><circle cx="455.0" cy="237.5"/><circle cx="485.0" cy="221.3"/><circle cx="489.2" cy="186.2"/><circle cx="484.2" cy="224.2"/><circle cx="496.7" cy="200.1"/><circle cx="492.2" cy="197.4"/><circle cx="492.2" cy="232.8"/><circle cx="504.3" cy="188.2"/><circle cx="481.2" cy="197.7"/><circle cx="492.6" cy="207.1"/><circle cx="486.9" cy="215.1"/><circle cx="466.3" cy="209.9"/><circle cx="500.6" cy="236.8"/><circle cx="504.0" cy="227.8"/><circle cx="481.9" cy="220.5"/><circle cx="472.2" cy="224.3"/><circle cx="489.6" cy="202.4"/><circle cx="510.1" cy="204.0"/><circle cx="503.3" cy="197.3"/><circle cx="487.4" cy="222.2"/><circle cx="491.7" cy="216.5"/><circle cx="475.2" cy="223.7"/><circle cx="483.8" cy="243.1"/><circle cx="512.1" cy="204.8"/><circle cx="483.8" cy="239.9"/><circle cx="500.2" cy="195.0"/><circle cx="478.1" cy="219.5"/><circle cx="502.7" cy="201.5"/><circle cx="476.2" cy="218.5"/><circle cx="514.1" cy="203.7"/><circle cx="490.9" cy="205.2"/><circle cx="514.0" cy="204.0"/><circle cx="459.6" cy="262.2"/><circle cx="492.2" cy="223.7"/><circle cx="479.1" cy="262.9"/><circle cx="490.7" cy="188.1"/><circle cx="476.2" cy="214.3"/><circle cx="466.1" cy="261.7"/><circle cx="480.4" cy="217.2"/><circle cx="480.3" cy="225.7"/><circle cx="537.8" cy="200.3"/><circle cx="478.8" cy="244.1"/><circle cx="489.8" cy="197.0"/><circle cx="490.0" cy="238.7"/><circle cx="501.4" cy="221.6"/><circle cx="481.2" cy="204.1"/><circle cx="511.7" cy="177.0"/><circle cx="494.1" cy="218.1"/><circle cx="469.6" cy="240.3"/><circle cx="473.7" cy="221.3"/><circle cx="464.9" cy="235.7"/><circle cx="491.8" cy="208.3"/><circle cx="501.1" cy="210.8"/><circle cx="472.0" cy="215.1"/><circle cx="485.2" cy="205.1"/><circle cx="506.1" cy="200.3"/><circle cx="482.8" cy="218.2"/><circle cx="463.1" cy="210.5"/><circle cx="495.0" cy="226.5"/><circle cx="473.7" cy="266.3"/><circle cx="497.7" cy="198.6"/><circle cx="462.2" cy="252.9"/><circle cx="488.1" cy="225.2"/><circle cx="492.6" cy="255.1"/><circle cx="499.4" cy="221.9"/><circle cx="466.6" cy="234.8"/><circle cx="502.0" cy="214.4"/><circle cx="503.3" cy="219.5"/><circle cx="491.9" cy="214.3"/><circle cx="483.1" cy="209.2"/><circle cx="513.1" cy="206.7"/><circle cx="532.9" cy="209.1"/><circle cx="507.6" cy="221.9"/><circle cx="460.5" cy="216.7"/><circle cx="502.6" cy="223.3"/><circle cx="475.3" cy="239.2"/><circle cx="465.1" cy="221.9"/><circle cx="487.4" cy="198.7"/><circle cx="484.6" cy="204.0"/><circle cx="492.0" cy="234.1"/><circle cx="540.0" cy="220.6"/><circle cx="543.3" cy="225.7"/><circle cx="473.1" cy="211.9"/><circle cx="472.2" cy="228.1"/><circle cx="490.5" cy="208.3"/><circle cx="484.5" cy="199.4"/><circle cx="489.8" cy="210.8"/><circle cx="499.4" cy="183.4"/><circle cx="473.6" cy="213.6"/><circle cx="488.3" cy="205.4"/><circle cx="486.6" cy="232.4"/><circle cx="483.0" cy="240.6"/><circle cx="475.6" cy="214.7"/><circle cx="490.0" cy="218.3"/><circle cx="515.8" cy="191.6"/><circle cx="486.3" cy="221.4"/><circle cx="499.8" cy="190.9"/><circle cx="490.5" cy="220.0"/><circle cx="500.6" cy="209.5"/><circle cx="499.4" cy="197.7"/><circle cx="482.4" cy="207.4"/><circle cx="485.9" cy="206.8"/><circle cx="468.6" cy="213.2"/><circle cx="484.0" cy="226.0"/><circle cx="459.8" cy="219.7"/><circle cx="476.3" cy="241.6"/><circle cx="503.1" cy="200.2"/><circle cx="497.3" cy="210.2"/><circle cx="460.8" cy="212.8"/><circle cx="512.0" cy="209.5"/><circle cx="489.6" cy="211.3"/><circle cx="451.9" cy="247.4"/><circle cx="487.4" cy="233.5"/><circle cx="473.2" cy="216.0"/><circle cx="488.8" cy="218.9"/><circle cx="486.1" cy="192.7"/><circle cx="459.2" cy="267.4"/><circle cx="492.9" cy="207.2"/><circle cx="491.6" cy="223.8"/><circle cx="473.6" cy="251.2"/><circle cx="483.9" cy="216.6"/><circle cx="508.3" cy="199.1"/><circle cx="493.2" cy="220.3"/><circle cx="497.2" cy="209.8"/><circle cx="489.7" cy="195.5"/><circle cx="500.7" cy="223.0"/><circle cx="511.6" cy="203.5"/><circle cx="500.1" cy="177.4"/><circle cx="499.8" cy="226.8"/><circle cx="480.8" cy="194.9"/><circle cx="524.0" cy="199.7"/><circle cx="507.4" cy="201.6"/><circle cx="471.5" cy="220.2"/><circle cx="492.0" cy="195.4"/><circle cx="467.1" cy="243.3"/><circle cx="493.8" cy="204.0"/><circle cx="489.3" cy="197.9"/><circle cx="473.1" cy="211.5"/><circle cx="497.5" cy="193.6"/><circle cx="472.7" cy="246.9"/><circle cx="520.2" cy="195.7"/><circle cx="488.7" cy="213.4"/><circle cx="475.9" cy="219.3"/><circle cx="471.5" cy="218.7"/><circle cx="481.4" cy="215.7"/><circle cx="479.7" cy="232.9"/><circle cx="466.0" cy="245.1"/><circle cx="495.5" cy="195.6"/><circle cx="494.1" cy="251.3"/><circle cx="509.6" cy="187.5"/><circle cx="474.8" cy="212.1"/><circle cx="481.0" cy="245.6"/><circle cx="489.0" cy="204.5"/><circle cx="470.4" cy="258.5"/><circle cx="487.2" cy="253.1"/><circle cx="494.2" cy="196.9"/><circle cx="513.4" cy="202.0"/><circle cx="483.9" cy="204.8"/><circle cx="493.7" cy="208.2"/><circle cx="457.9" cy="219.0"/><circle cx="471.0" cy="219.4"/><circle cx="482.4" cy="210.8"/><circle cx="493.9" cy="192.1"/><circle cx="468.1" cy="219.7"/><circle cx="470.1" cy="246.7"/><circle cx="477.7" cy="226.8"/><circle cx="512.2" cy="192.6"/><circle cx="460.8" cy="234.2"/><circle cx="474.5" cy="196.8"/><circle cx="489.0" cy="203.6"/><circle cx="475.9" cy="249.0"/><circle cx="466.7" cy="256.2"/><circle cx="508.3" cy="231.1"/><circle cx="467.7" cy="220.3"/><circle cx="483.8" cy="251.2"/><circle cx="524.3" cy="193.1"/><circle cx="494.1" cy="207.0"/><circle cx="471.5" cy="224.3"/><circle cx="513.3" cy="206.6"/><circle cx="498.5" cy="206.6"/><circle cx="482.9" cy="228.1"/><circle cx="489.0" cy="208.4"/><circle cx="488.8" cy="220.3"/><circle cx="497.1" cy="188.2"/><circle cx="455.4" cy="268.0"/><circle cx="480.0" cy="223.6"/><circle cx="476.9" cy="206.3"/><circle cx="467.3" cy="206.1"/><circle cx="478.2" cy="231.4"/><circle cx="534.9" cy="204.9"/><circle cx="499.3" cy="224.1"/><circle cx="474.8" cy="215.0"/><circle cx="478.0" cy="235.5"/><circle cx="496.3" cy="209.8"/><circle cx="495.3" cy="209.9"/><circle cx="490.1" cy="239.5"/><circle cx="469.2" cy="229.4"/><circle cx="498.5" cy="215.2"/><circle cx="505.0" cy="195.8"/><circle cx="472.8" cy="224.0"/><circle cx="481.5" cy="208.6"/><circle cx="472.4" cy="230.5"/><circle cx="483.9" cy="220.0"/><circle cx="530.8" cy="213.3"/><circle cx="473.9" cy="278.6"/><circle cx="511.3" cy="220.4"/><circle cx="495.9" cy="226.3"/><circle cx="472.8" cy="214.2"/><circle cx="489.4" cy="214.9"/><circle cx="478.5" cy="236.7"/><circle cx="512.1" cy="201.2"/><circle cx="508.6" cy="212.0"/><circle cx="479.3" cy="236.1"/><circle cx="485.2" cy="224.9"/><circle cx="487.5" cy="212.6"/><circle cx="503.5" cy="198.3"/><circle cx="476.4" cy="222.2"/><circle cx="473.1" cy="192.9"/><circle cx="485.3" cy="223.5"/><circle cx="487.7" cy="219.9"/><circle cx="527.2" cy="199.3"/><circle cx="461.1" cy="265.1"/><circle cx="472.1" cy="211.1"/><circle cx="477.5" cy="200.8"/><circle cx="530.6" cy="216.4"/><circle cx="456.1" cy="212.8"/><circle cx="479.5" cy="216.3"/><circle cx="474.9" cy="208.8"/><circle cx="480.8" cy="240.6"/><circle cx="454.1" cy="238.5"/><circle cx="492.7" cy="212.7"/><circle cx="506.4" cy="198.2"/><circle cx="512.6" cy="192.5"/><circle cx="461.7" cy="238.0"/><circle cx="489.1" cy="201.8"/><circle cx="538.8" cy="199.0"/><circle cx="494.4" cy="240.4"/><circle cx="470.3" cy="250.2"/><circle cx="471.7" cy="224.8"/><circle cx="476.7" cy="285.3"/><circle cx="498.9" cy="222.8"/><circle cx="499.0" cy="208.2"/><circle cx="475.5" cy="221.0"/><circle cx="509.9" cy="214.3"/><circle cx="466.6" cy="189.0"/><circle cx="477.2" cy="235.3"/><circle cx="502.3" cy="219.0"/><circle cx="499.8" cy="192.8"/><circle cx="470.3" cy="242.9"/><circle cx="493.6" cy="203.0"/><circle cx="448.9" cy="258.7"/><circle cx="468.6" cy="215.5"/><circle cx="478.3" cy="230.6"/><circle cx="481.6" cy="249.8"/><circle cx="502.9" cy="206.9"/><circle cx="484.4" cy="226.0"/><circle cx="506.8" cy="212.2"/><circle cx="488.8" cy="201.5"/><circle cx="474.0" cy="208.9"/><circle cx="503.8" cy="201.6"/><circle cx="502.3" cy="229.4"/><circle cx="503.0" cy="183.2"/><circle cx="473.8" cy="209.2"/><circle cx="495.1" cy="209.7"/><circle cx="461.6" cy="227.0"/><circle cx="454.6" cy="208.7"/><circle cx="485.2" cy="238.1"/><circle cx="518.1" cy="212.3"/><circle cx="472.6" cy="258.9"/><circle cx="469.5" cy="214.8"/><circle cx="503.5" cy="220.4"/><circle cx="508.1" cy="182.4"/><circle cx="480.9" cy="230.0"/><circle cx="473.0" cy="178.3"/><circle cx="477.5" cy="249.8"/><circle cx="492.3" cy="213.4"/><circle cx="492.0" cy="215.9"/><circle cx="473.3" cy="215.7"/><circle cx="495.6" cy="190.6"/><circle cx="491.1" cy="197.4"/><circle cx="502.5" cy="216.0"/><circle cx="496.8" cy="208.1"/><circle cx="487.6" cy="234.5"/><circle cx="507.0" cy="179.2"/><circle cx="494.1" cy="210.6"/><circle cx="477.4" cy="224.7"/><circle cx="486.0" cy="235.4"/><circle cx="495.7" cy="212.3"/><circle cx="460.5" cy="205.8"/><circle cx="465.1" cy="233.6"/><circle cx="477.2" cy="222.0"/><circle cx="481.8" cy="215.1"/><circle cx="472.5" cy="242.3"/><circle cx="464.9" cy="222.4"/><circle cx="502.9" cy="204.3"/><circle cx="466.6" cy="241.0"/><circle cx="454.0" cy="247.3"/><circle cx="497.7" cy="179.4"/><circle cx="523.5" cy="228.5"/><circle cx="500.8" cy="213.0"/><circle cx="460.2" cy="210.1"/><circle cx="487.8" cy="214.9"/><circle cx="493.9" cy="226.5"/><circle cx="483.4" cy="206.9"/><circle cx="508.0" cy="176.5"/><circle cx="490.3" cy="218.3"/><circle cx="484.0" cy="230.2"/><circle cx="466.5" cy="216.1"/><circle cx="482.1" cy="201.5"/><circle cx="502.4" cy="185.0"/><circle cx="516.4" cy="221.3"/><circle cx="495.5" cy="220.0"/><circle cx="456.8" cy="212.1"/><circle cx="463.0" cy="229.3"/><circle cx="502.1" cy="209.4"/><circle cx="474.0" cy="247.5"/><circle cx="471.5" cy="199.2"/><circle cx="467.2" cy="249.7"/><circle cx="471.5" cy="221.4"/><circle cx="474.7" cy="228.0"/><circle cx="481.0" cy="214.9"/><circle cx="492.5" cy="203.3"/><circle cx="488.7" cy="220.6"/><circle cx="496.2" cy="204.6"/><circle cx="483.9" cy="229.0"/><circle cx="503.4" cy="215.0"/><circle cx="488.6" cy="201.5"/><circle cx="484.5" cy="223.6"/><circle cx="485.2" cy="246.0"/><circle cx="477.3" cy="188.0"/><circle cx="458.5" cy="258.6"/><circle cx="480.3" cy="203.2"/><circle cx="477.1" cy="220.9"/><circle cx="496.4" cy="186.1"/><circle cx="504.5" cy="185.3"/><circle cx="490.7" cy="202.0"/><circle cx="489.6" cy="201.9"/><circle cx="461.9" cy="236.3"/><circle cx="480.2" cy="239.9"/><circle cx="497.0" cy="195.0"/><circle cx="478.9" cy="242.6"/><circle cx="456.2" cy="216.3"/><circle cx="480.1" cy="244.0"/><circle cx="482.4" cy="239.4"/><circle cx="473.5" cy="209.9"/><circle cx="495.0" cy="222.8"/><circle cx="502.6" cy="208.7"/><circle cx="468.7" cy="239.0"/><circle cx="470.0" cy="200.5"/><circle cx="488.3" cy="254.4"/><circle cx="504.5" cy="208.3"/><circle cx="505.5" cy="217.5"/><circle cx="499.2" cy="202.3"/><circle cx="481.1" cy="234.6"/><circle cx="488.7" cy="197.0"/><circle cx="502.3" cy="239.0"/><circle cx="520.6" cy="198.7"/><circle cx="475.3" cy="260.2"/><circle cx="489.0" cy="217.9"/><circle cx="481.0" cy="211.9"/><circle cx="469.7" cy="282.7"/><circle cx="494.8" cy="211.7"/><circle cx="494.0" cy="205.2"/><circle cx="484.5" cy="192.8"/><circle cx="516.8" cy="211.5"/><circle cx="476.3" cy="263.7"/><circle cx="478.0" cy="209.2"/><circle cx="484.1" cy="198.5"/><circle cx="482.2" cy="238.4"/><circle cx="484.1" cy="197.7"/><circle cx="467.4" cy="212.0"/><circle cx="497.9" cy="196.8"/><circle cx="486.8" cy="180.4"/><circle cx="474.3" cy="224.6"/><circle cx="499.7" cy="198.7"/><circle cx="494.5" cy="209.3"/><circle cx="487.7" cy="215.3"/><circle cx="471.7" cy="212.2"/><circle cx="490.5" cy="190.3"/><circle cx="494.2" cy="221.7"/><circle cx="490.1" cy="200.0"/><circle cx="483.9" cy="200.5"/><circle cx="485.7" cy="179.1"/><circle cx="493.4" cy="202.6"/><circle cx="466.0" cy="252.3"/><circle cx="469.2" cy="234.7"/><circle cx="516.4" cy="206.2"/><circle cx="519.8" cy="183.6"/><circle cx="485.1" cy="248.9"/><circle cx="464.8" cy="217.7"/><circle cx="478.3" cy="232.0"/><circle cx="503.1" cy="211.2"/><circle cx="500.7" cy="213.4"/><circle cx="494.8" cy="220.7"/><circle cx="504.3" cy="193.5"/><circle cx="497.8" cy="201.9"/><circle cx="477.6" cy="206.0"/><circle cx="466.5" cy="221.3"/><circle cx="506.4" cy="183.0"/><circle cx="487.0" cy="209.0"/><circle cx="474.7" cy="231.6"/><circle cx="522.5" cy="235.5"/><circle cx="497.5" cy="213.9"/><circle cx="480.6" cy="218.8"/><circle cx="505.2" cy="221.9"/><circle cx="465.9" cy="213.0"/><circle cx="480.2" cy="210.9"/><circle cx="481.1" cy="242.4"/><circle cx="504.0" cy="201.7"/><circle cx="491.6" cy="221.6"/><circle cx="495.2" cy="188.2"/><circle cx="485.7" cy="231.7"/><circle cx="526.8" cy="219.3"/><circle cx="494.0" cy="218.2"/><circle cx="476.2" cy="213.2"/><circle cx="487.8" cy="201.1"/><circle cx="470.7" cy="218.2"/><circle cx="496.0" cy="214.8"/><circle cx="482.1" cy="217.1"/><circle cx="488.0" cy="222.7"/><circle cx="483.0" cy="212.3"/><circle cx="520.8" cy="199.2"/><circle cx="488.0" cy="202.1"/><circle cx="508.3" cy="196.4"/><circle cx="453.1" cy="234.9"/><circle cx="495.9" cy="193.4"/><circle cx="488.3" cy="235.7"/><circle cx="473.7" cy="213.4"/><circle cx="494.2" cy="201.7"/><circle cx="487.6" cy="215.2"/><circle cx="494.4" cy="222.9"/><circle cx="452.7" cy="230.0"/><circle cx="489.0" cy="201.7"/><circle cx="506.8" cy="202.6"/><circle cx="515.7" cy="219.0"/><circle cx="474.2" cy="237.8"/><circle cx="480.6" cy="241.2"/><circle cx="486.0" cy="221.0"/><circle cx="489.7" cy="221.1"/><circle cx="480.0" cy="205.9"/><circle cx="472.1" cy="229.7"/><circle cx="493.0" cy="194.4"/><circle cx="466.6" cy="211.9"/><circle cx="484.4" cy="217.8"/><circle cx="474.3" cy="251.4"/><circle cx="471.9" cy="234.4"/><circle cx="485.6" cy="225.0"/><circle cx="481.7" cy="220.3"/><circle cx="477.2" cy="242.8"/><circle cx="485.3" cy="196.2"/><circle cx="479.9" cy="210.4"/><circle cx="478.5" cy="202.6"/><circle cx="477.3" cy="199.0"/><circle cx="472.5" cy="217.0"/><circle cx="476.1" cy="250.6"/><circle cx="466.0" cy="219.6"/><circle cx="527.7" cy="209.9"/><circle cx="478.5" cy="249.7"/><circle cx="439.5" cy="265.4"/><circle cx="482.7" cy="195.5"/><circle cx="494.0" cy="201.6"/><circle cx="471.4" cy="209.7"/><circle cx="484.0" cy="200.5"/><circle cx="478.1" cy="194.7"/><circle cx="463.4" cy="218.6"/><circle cx="492.6" cy="215.0"/><circle cx="474.7" cy="231.5"/><circle cx="475.7" cy="219.0"/><circle cx="493.7" cy="211.3"/><circle cx="485.7" cy="207.1"/><circle cx="476.3" cy="220.5"/><circle cx="453.9" cy="252.5"/><circle cx="457.8" cy="267.2"/><circle cx="499.7" cy="231.0"/><circle cx="471.7" cy="235.4"/><circle cx="455.5" cy="225.2"/><circle cx="489.4" cy="217.8"/><circle cx="475.1" cy="208.4"/><circle cx="485.8" cy="215.1"/><circle cx="517.2" cy="197.1"/><circle cx="485.6" cy="212.6"/><circle cx="508.0" cy="180.3"/><circle cx="490.0" cy="200.8"/><circle cx="503.4" cy="212.2"/><circle cx="480.1" cy="189.7"/><circle cx="481.5" cy="218.5"/><circle cx="462.6" cy="258.9"/><circle cx="475.4" cy="220.0"/><circle cx="477.7" cy="206.5"/><circle cx="467.2" cy="223.5"/><circle cx="487.1" cy="194.7"/><circle cx="509.5" cy="215.4"/><circle cx="480.5" cy="226.4"/><circle cx="499.8" cy="199.0"/><circle cx="489.0" cy="254.3"/><circle cx="473.2" cy="190.8"/><circle cx="490.1" cy="211.7"/><circle cx="456.5" cy="244.3"/><circle cx="474.8" cy="245.3"/><circle cx="486.9" cy="214.7"/><circle cx="497.6" cy="207.7"/><circle cx="486.0" cy="208.1"/><circle cx="474.8" cy="198.5"/><circle cx="486.3" cy="194.5"/><circle cx="499.8" cy="212.3"/><circle cx="499.3" cy="182.5"/><circle cx="507.8" cy="190.8"/><circle cx="495.2" cy="247.7"/><circle cx="497.8" cy="208.3"/><circle cx="481.2" cy="186.6"/><circle cx="478.2" cy="196.1"/><circle cx="487.6" cy="200.3"/><circle cx="479.6" cy="209.9"/><circle cx="488.2" cy="209.2"/><circle cx="488.0" cy="212.9"/><circle cx="501.5" cy="186.5"/><circle cx="513.0" cy="184.4"/><circle cx="474.6" cy="223.0"/><circle cx="491.4" cy="214.2"/><circle cx="470.8" cy="186.4"/><circle cx="474.2" cy="214.5"/><circle cx="467.7" cy="242.7"/><circle cx="463.3" cy="274.0"/><circle cx="471.4" cy="210.8"/><circle cx="503.8" cy="204.7"/><circle cx="495.2" cy="203.9"/><circle cx="494.9" cy="212.5"/><circle cx="525.7" cy="196.5"/><circle cx="478.1" cy="223.1"/><circle cx="483.3" cy="218.5"/><circle cx="503.7" cy="191.6"/><circle cx="475.3" cy="223.2"/><circle cx="498.1" cy="210.0"/><circle cx="508.4" cy="199.3"/><circle cx="492.6" cy="181.5"/><circle cx="467.6" cy="245.2"/><circle cx="484.2" cy="211.6"/><circle cx="489.9" cy="228.0"/><circle cx="516.3" cy="213.7"/><circle cx="476.9" cy="214.0"/><circle cx="490.1" cy="214.7"/><circle cx="476.3" cy="199.0"/><circle cx="499.6" cy="221.1"/><circle cx="493.2" cy="197.2"/><circle cx="484.1" cy="199.3"/><circle cx="487.7" cy="223.7"/><circle cx="492.1" cy="216.7"/><circle cx="479.3" cy="247.2"/><circle cx="474.6" cy="232.7"/><circle cx="471.8" cy="229.3"/><circle cx="472.8" cy="222.3"/><circle cx="459.5" cy="232.9"/><circle cx="478.3" cy="251.1"/><circle cx="504.6" cy="199.2"/><circle cx="470.7" cy="216.5"/><circle cx="472.2" cy="224.4"/><circle cx="492.7" cy="230.2"/><circle cx="510.2" cy="205.4"/><circle cx="469.9" cy="243.8"/><circle cx="488.7" cy="243.4"/><circle cx="489.6" cy="243.9"/><circle cx="472.8" cy="199.8"/><circle cx="495.6" cy="210.1"/><circle cx="485.5" cy="221.1"/><circle cx="538.0" cy="219.1"/><circle cx="476.7" cy="222.3"/><circle cx="472.6" cy="238.2"/><circle cx="516.0" cy="223.1"/><circle cx="487.6" cy="209.4"/><circle cx="495.8" cy="210.6"/><circle cx="498.5" cy="209.8"/><circle cx="469.1" cy="234.1"/><circle cx="489.2" cy="219.0"/><circle cx="459.3" cy="237.7"/><circle cx="482.9" cy="209.8"/><circle cx="510.8" cy="213.2"/><circle cx="486.2" cy="204.6"/><circle cx="473.1" cy="239.9"/><circle cx="478.6" cy="234.9"/><circle cx="499.7" cy="205.4"/><circle cx="464.1" cy="234.2"/><circle cx="484.1" cy="202.4"/><circle cx="499.4" cy="229.3"/><circle cx="467.2" cy="210.8"/><circle cx="469.9" cy="258.7"/><circle cx="479.8" cy="241.5"/><circle cx="472.2" cy="211.7"/><circle cx="491.0" cy="190.4"/><circle cx="505.6" cy="188.2"/><circle cx="484.7" cy="216.4"/><circle cx="484.1" cy="200.5"/><circle cx="487.3" cy="226.8"/><circle cx="462.8" cy="212.3"/><circle cx="475.6" cy="221.0"/><circle cx="500.3" cy="201.1"/><circle cx="492.5" cy="217.2"/><circle cx="493.8" cy="195.4"/><circle cx="458.6" cy="243.1"/><circle cx="508.8" cy="184.6"/><circle cx="500.9" cy="215.8"/><circle cx="479.8" cy="230.3"/><circle cx="470.7" cy="221.6"/><circle cx="490.0" cy="219.6"/><circle cx="499.9" cy="200.8"/><circle cx="474.7" cy="208.1"/><circle cx="493.7" cy="198.4"/><circle cx="476.1" cy="227.1"/><circle cx="511.8" cy="207.8"/><circle cx="524.8" cy="214.6"/><circle cx="500.9" cy="228.4"/><circle cx="492.6" cy="186.4"/><circle cx="477.8" cy="205.6"/><circle cx="449.2" cy="258.7"/><circle cx="488.5" cy="226.8"/><circle cx="454.1" cy="255.7"/><circle cx="493.0" cy="211.1"/><circle cx="481.5" cy="213.9"/><circle cx="492.1" cy="181.2"/><circle cx="481.4" cy="210.4"/><circle cx="484.6" cy="188.7"/><circle cx="485.6" cy="251.6"/><circle cx="460.0" cy="248.0"/><circle cx="474.0" cy="227.5"/><circle cx="515.6" cy="197.2"/><circle cx="466.3" cy="235.7"/><circle cx="472.0" cy="214.1"/><circle cx="477.6" cy="220.0"/><circle cx="477.5" cy="232.5"/><circle cx="515.3" cy="202.2"/><circle cx="481.0" cy="193.8"/><circle cx="462.7" cy="219.8"/><circle cx="527.3" cy="229.1"/><circle cx="482.8" cy="249.5"/><circle cx="476.0" cy="212.6"/><circle cx="503.3" cy="225.4"/><circle cx="474.9" cy="252.5"/><circle cx="460.3" cy="234.2"/><circle cx="513.5" cy="213.2"/><circle cx="496.0" cy="198.4"/><circle cx="507.4" cy="194.6"/><circle cx="459.0" cy="225.4"/><circle cx="497.5" cy="199.0"/><circle cx="488.2" cy="186.4"/><circle cx="502.5" cy="217.0"/><circle cx="484.4" cy="200.7"/><circle cx="464.9" cy="258.3"/><circle cx="480.9" cy="195.3"/><circle cx="486.8" cy="198.9"/><circle cx="484.1" cy="240.4"/><circle cx="486.5" cy="213.7"/><circle cx="495.2" cy="214.8"/><circle cx="480.2" cy="228.6"/><circle cx="478.7" cy="224.6"/><circle cx="508.8" cy="186.3"/><circle cx="510.0" cy="188.4"/><circle cx="466.5" cy="241.8"/><circle cx="478.3" cy="245.8"/><circle cx="487.7" cy="224.7"/><circle cx="492.9" cy="232.2"/><circle cx="471.6" cy="218.4"/><circle cx="487.7" cy="220.4"/><circle cx="489.2" cy="206.2"/><circle cx="502.7" cy="209.0"/><circle cx="503.2" cy="196.6"/><circle cx="517.1" cy="213.9"/><circle cx="481.3" cy="223.4"/><circle cx="486.9" cy="236.8"/><circle cx="494.5" cy="211.3"/><circle cx="498.3" cy="228.0"/><circle cx="469.6" cy="218.0"/>
</g>
<path d="M438.8 237.3 L443.2 235.5 L447.7 233.7 L452.1 231.9 L456.6 230.0 L461.0 228.2 L465.5 226.3 L469.9 224.4 L474.4 222.5 L478.8 220.6 L483.3 218.5 L487.7 216.4 L492.1 214.2 L496.6 211.9 L501.0 209.5 L505.5 207.1 L509.9 204.7 L514.4 202.3 L518.8 199.8 L523.3 197.4 L527.7 194.9 L532.2 192.5 L536.6 190.0 L541.1 187.5 L545.5 185.1 L545.5 194.8 L541.1 196.6 L536.6 198.4 L532.2 200.2 L527.7 202.0 L523.3 203.8 L518.8 205.6 L514.4 207.5 L509.9 209.3 L505.5 211.2 L501.0 213.0 L496.6 215.0 L492.1 216.9 L487.7 219.0 L483.3 221.1 L478.8 223.4 L474.4 225.7 L469.9 228.0 L465.5 230.4 L461.0 232.8 L456.6 235.3 L452.1 237.7 L447.7 240.2 L443.2 242.6 L438.8 245.1 Z" fill="#999" fill-opacity="0.45"/>
<line x1="438.8" y1="241.2" x2="545.5" y2="189.9" stroke="#000" stroke-width="1.6"/>
<rect x="433.6" y="159.0" width="117.7" height="151.5" fill="none" stroke="#505050" stroke-width="1"/>
<line x1="451.5" y1="310.5" x2="451.5" y2="308.5" stroke="#333" stroke-width="0.8"/>
<text class="tk" transform="translate(451.50,317.70) scale(1,1.080)" text-anchor="middle">−2</text>
<line x1="486.3" y1="310.5" x2="486.3" y2="308.5" stroke="#333" stroke-width="0.8"/>
<text class="tk" transform="translate(486.30,317.70) scale(1,1.080)" text-anchor="middle">0</text>
<line x1="521.1" y1="310.5" x2="521.1" y2="308.5" stroke="#333" stroke-width="0.8"/>
<text class="tk" transform="translate(521.10,317.70) scale(1,1.080)" text-anchor="middle">2</text>
<line x1="433.6" y1="176.0" x2="435.6" y2="176.0" stroke="#333" stroke-width="0.8"/>
<text class="tk" transform="translate(432.00,178.26) scale(1,1.080)" text-anchor="end">2</text>
<line x1="433.6" y1="218.5" x2="435.6" y2="218.5" stroke="#333" stroke-width="0.8"/>
<text class="tk" transform="translate(432.00,220.80) scale(1,1.080)" text-anchor="end">0</text>
<line x1="433.6" y1="261.0" x2="435.6" y2="261.0" stroke="#333" stroke-width="0.8"/>
<text class="tk" transform="translate(432.00,263.34) scale(1,1.080)" text-anchor="end">−2</text>
<line x1="433.6" y1="303.6" x2="435.6" y2="303.6" stroke="#333" stroke-width="0.8"/>
<text class="tk" transform="translate(432.00,305.88) scale(1,1.080)" text-anchor="end">−4</text>
<text class="an" transform="translate(40.00,15.80) scale(1,1.080)"><tspan font-style="italic">F</tspan> = 7.80, df = 1, <tspan font-style="italic">P</tspan> = 0.005</text>
<text class="an" transform="translate(172.10,15.80) scale(1,1.080)"><tspan font-style="italic">F</tspan> = 12.16, df = 1, <tspan font-style="italic">P</tspan> = 0.0005</text>
<text class="an" transform="translate(305.10,15.80) scale(1,1.080)"><tspan font-style="italic">F</tspan> = 72.82, df = 1, <tspan font-style="italic">P</tspan> &lt; 2.2e<tspan class="s" font-size="4.3px" dy="-3.2">−16</tspan></text>
<text class="an" transform="translate(438.90,15.80) scale(1,1.080)"><tspan font-style="italic">F</tspan> = 325.79, df = 1, <tspan font-style="italic">P</tspan> &lt; 2.2e<tspan class="s" font-size="4.3px" dy="-3.2">−16</tspan></text>
<text class="an" transform="translate(40.00,171.80) scale(1,1.080)"><tspan font-style="italic">F</tspan> = 1.01, df = 1, <tspan font-style="italic">P</tspan> = 0.314</text>
<text class="an" transform="translate(172.10,171.80) scale(1,1.080)"><tspan font-style="italic">F</tspan> = 22.01, df = 1, <tspan font-style="italic">P</tspan> = 3.04e<tspan class="s" font-size="4.3px" dy="-3.2">−6</tspan></text>
<text class="an" transform="translate(305.10,171.80) scale(1,1.080)"><tspan font-style="italic">F</tspan> = 22.83, df = 1, <tspan font-style="italic">P</tspan> = 2.00e<tspan class="s" font-size="4.3px" dy="-3.2">−6</tspan></text>
<text class="an" transform="translate(438.90,171.80) scale(1,1.080)"><tspan font-style="italic">F</tspan> = 140.47, df = 1, <tspan font-style="italic">P</tspan> &lt; 2.2e<tspan class="s" font-size="4.3px" dy="-3.2">−16</tspan></text>
<text class="pl" transform="translate(1.50,14.20) scale(1,1.050)">a</text>
<text class="pl" transform="translate(156.00,14.00) scale(1,1.050)">b</text>
<text class="pl" transform="translate(288.30,14.20) scale(1,1.050)">c</text>
<text class="pl" transform="translate(422.00,14.00) scale(1,1.050)">d</text>
<text class="pl" transform="translate(555.00,14.20) scale(1,1.050)">e</text>
<text class="pl" transform="translate(-0.50,169.60) scale(1,1.050)">f</text>
<text class="pl" transform="translate(155.60,169.80) scale(1,1.050)">g</text>
<text class="pl" transform="translate(289.00,169.60) scale(1,1.050)">h</text>
<text class="pl" transform="translate(420.40,169.60) scale(1,1.050)">i</text>
<text class="pl" transform="translate(553.40,169.60) scale(1,1.050)">j</text>
<text class="at" transform="translate(8.90,73.80) rotate(-90) scale(1,1.080)" text-anchor="middle">Productivity</text>
<text class="at" transform="translate(19.80,73.80) rotate(-90) scale(1,1.080)" text-anchor="middle">(NDVI<tspan class="s" font-size="5px" dy="1.6">max</tspan><tspan dy="-1.6">, log)</tspan></text>
<text class="at" transform="translate(8.90,235.30) rotate(-90) scale(1,1.080)" text-anchor="middle">Stability</text>
<text class="at" transform="translate(20.20,235.50) rotate(-90) scale(1,1.080)" text-anchor="middle">(Mean–to–SD ratio of NDVI<tspan class="s" font-size="5px" dy="1.6">max</tspan><tspan dy="-1.6">, log)</tspan></text>
<text class="at" transform="translate(93.10,326.80) scale(1,1.080)" text-anchor="middle">FD<tspan class="s" font-size="5px" dy="1.6">is</tspan><tspan dy="-1.6"> of</tspan></text>
<text class="at" transform="translate(93.10,339.00) scale(1,1.080)" text-anchor="middle">resource economics traits</text>
<text class="at" transform="translate(225.60,325.60) scale(1,1.080)" text-anchor="middle">FD<tspan class="s" font-size="5px" dy="1.6">is</tspan><tspan dy="-1.6"> of</tspan></text>
<text class="at" transform="translate(225.60,337.70) scale(1,1.080)" text-anchor="middle">plant size traits</text>
<text class="at" transform="translate(358.50,325.60) scale(1,1.080)" text-anchor="middle">CWM<tspan class="s" font-size="5px" dy="1.6">PC1</tspan></text>
<text class="at" transform="translate(358.50,337.70) scale(1,1.080)" text-anchor="middle">(Resource economics)</text>
<text class="at" transform="translate(492.30,325.60) scale(1,1.080)" text-anchor="middle">CWM<tspan class="s" font-size="5px" dy="1.6">PC2</tspan></text>
<text class="at" transform="translate(492.30,337.70) scale(1,1.080)" text-anchor="middle">(Plant size)</text>
<text class="at" transform="translate(634.10,327.60) scale(1,1.080)" text-anchor="middle">Standardized coefficient</text>
<line x1="595.4" y1="3.0" x2="595.4" y2="145.5" stroke="#111" stroke-width="0.8" stroke-dasharray="2.2 1.8"/>
<path d="M584.0 3.0 H684.2 V145.5" fill="none" stroke="#505050" stroke-width="1"/>
<line x1="584.0" y1="2.5" x2="584.0" y2="146.0" stroke="#999" stroke-width="1.7"/>
<line x1="584.0" y1="145.5" x2="684.2" y2="145.5" stroke="#505050" stroke-width="1.1"/>
<line x1="595.4" y1="145.5" x2="595.4" y2="143.3" stroke="#222" stroke-width="0.9"/>
<text class="tk" transform="translate(595.40,151.90) scale(1,1.080)" text-anchor="middle">0.0</text>
<line x1="623.6" y1="145.5" x2="623.6" y2="143.3" stroke="#222" stroke-width="0.9"/>
<text class="tk" transform="translate(623.64,151.90) scale(1,1.080)" text-anchor="middle">0.2</text>
<line x1="651.9" y1="145.5" x2="651.9" y2="143.3" stroke="#222" stroke-width="0.9"/>
<text class="tk" transform="translate(651.88,151.90) scale(1,1.080)" text-anchor="middle">0.4</text>
<line x1="680.1" y1="145.5" x2="680.1" y2="143.3" stroke="#222" stroke-width="0.9"/>
<text class="tk" transform="translate(680.12,151.90) scale(1,1.080)" text-anchor="middle">0.6</text>
<line x1="584.0" y1="22.8" x2="586.6" y2="22.8" stroke="#111" stroke-width="0.9"/>
<line x1="598.7" y1="22.8" x2="613.9" y2="22.8" stroke="rgb(35,190,163)" stroke-width="1.4"/>
<circle cx="606.0" cy="22.8" r="2.4" fill="rgb(35,190,163)"/>
<text class="lb" transform="translate(582.60,25.00) scale(1,1.080)" text-anchor="end">FD<tspan class="s" font-size="4.3px" dy="1.4">is</tspan><tspan dy="-1.4">_RE</tspan></text>
<line x1="584.0" y1="56.9" x2="586.6" y2="56.9" stroke="#111" stroke-width="0.9"/>
<line x1="603.0" y1="56.9" x2="622.7" y2="56.9" stroke="rgb(35,190,163)" stroke-width="1.4"/>
<circle cx="613.0" cy="56.9" r="2.4" fill="rgb(35,190,163)"/>
<text class="lb" transform="translate(582.60,59.10) scale(1,1.080)" text-anchor="end">FD<tspan class="s" font-size="4.3px" dy="1.4">is</tspan><tspan dy="-1.4">_PS</tspan></text>
<line x1="584.0" y1="91.2" x2="586.6" y2="91.2" stroke="#111" stroke-width="0.9"/>
<line x1="615.5" y1="91.2" x2="627.7" y2="91.2" stroke="rgb(35,190,163)" stroke-width="1.4"/>
<circle cx="621.6" cy="91.2" r="2.4" fill="rgb(35,190,163)"/>
<text class="lb" transform="translate(582.60,93.40) scale(1,1.080)" text-anchor="end">CWM<tspan class="s" font-size="4.3px" dy="1.4">PC1</tspan></text>
<line x1="584.0" y1="125.3" x2="586.6" y2="125.3" stroke="#111" stroke-width="0.9"/>
<line x1="663.0" y1="125.3" x2="679.7" y2="125.3" stroke="rgb(35,190,163)" stroke-width="1.4"/>
<circle cx="671.0" cy="125.3" r="2.4" fill="rgb(35,190,163)"/>
<text class="lb" transform="translate(582.60,127.50) scale(1,1.080)" text-anchor="end">CWM<tspan class="s" font-size="4.3px" dy="1.4">PC2</tspan></text>
<text class="an" transform="translate(642.00,19.20) scale(1,1.080)"><tspan font-style="italic">R</tspan><tspan class="s" font-size="5px" dy="-3">2</tspan><tspan dy="3"> = 0.46</tspan></text>
<text class="an" transform="translate(642.00,29.40) scale(1,1.080)"><tspan font-style="italic">P</tspan> &lt; 2.2e<tspan class="s" font-size="4.3px" dy="-3.2">−16</tspan></text>
<line x1="595.4" y1="159.0" x2="595.4" y2="312.5" stroke="#111" stroke-width="0.8" stroke-dasharray="2.2 1.8"/>
<path d="M584.0 159.0 H684.2 V312.5" fill="none" stroke="#505050" stroke-width="1"/>
<line x1="584.0" y1="158.5" x2="584.0" y2="313.0" stroke="#999" stroke-width="1.7"/>
<line x1="584.0" y1="312.5" x2="684.2" y2="312.5" stroke="#505050" stroke-width="1.1"/>
<line x1="595.4" y1="312.5" x2="595.4" y2="310.3" stroke="#222" stroke-width="0.9"/>
<text class="tk" transform="translate(595.40,318.90) scale(1,1.080)" text-anchor="middle">0.0</text>
<line x1="623.6" y1="312.5" x2="623.6" y2="310.3" stroke="#222" stroke-width="0.9"/>
<text class="tk" transform="translate(623.64,318.90) scale(1,1.080)" text-anchor="middle">0.2</text>
<line x1="651.9" y1="312.5" x2="651.9" y2="310.3" stroke="#222" stroke-width="0.9"/>
<text class="tk" transform="translate(651.88,318.90) scale(1,1.080)" text-anchor="middle">0.4</text>
<line x1="680.1" y1="312.5" x2="680.1" y2="310.3" stroke="#222" stroke-width="0.9"/>
<text class="tk" transform="translate(680.12,318.90) scale(1,1.080)" text-anchor="middle">0.6</text>
<line x1="584.0" y1="180.4" x2="586.6" y2="180.4" stroke="#111" stroke-width="0.9"/>
<line x1="591.4" y1="180.4" x2="608.4" y2="180.4" stroke="rgb(199,127,204)" stroke-width="1.4"/>
<circle cx="599.8" cy="180.4" r="2.4" fill="rgb(199,127,204)"/>
<text class="lb" transform="translate(582.60,182.60) scale(1,1.080)" text-anchor="end">FD<tspan class="s" font-size="4.3px" dy="1.4">is</tspan><tspan dy="-1.4">_RE</tspan></text>
<line x1="584.0" y1="217.2" x2="586.6" y2="217.2" stroke="#111" stroke-width="0.9"/>
<line x1="611.2" y1="217.2" x2="632.9" y2="217.2" stroke="rgb(199,127,204)" stroke-width="1.4"/>
<circle cx="622.0" cy="217.2" r="2.4" fill="rgb(199,127,204)"/>
<text class="lb" transform="translate(582.60,219.40) scale(1,1.080)" text-anchor="end">FD<tspan class="s" font-size="4.3px" dy="1.4">is</tspan><tspan dy="-1.4">_PS</tspan></text>
<line x1="584.0" y1="254.5" x2="586.6" y2="254.5" stroke="#111" stroke-width="0.9"/>
<line x1="605.2" y1="254.5" x2="618.7" y2="254.5" stroke="rgb(199,127,204)" stroke-width="1.4"/>
<circle cx="612.0" cy="254.5" r="2.4" fill="rgb(199,127,204)"/>
<text class="lb" transform="translate(582.60,256.70) scale(1,1.080)" text-anchor="end">CWM<tspan class="s" font-size="4.3px" dy="1.4">PC1</tspan></text>
<line x1="584.0" y1="290.9" x2="586.6" y2="290.9" stroke="#111" stroke-width="0.9"/>
<line x1="641.8" y1="290.9" x2="661.0" y2="290.9" stroke="rgb(199,127,204)" stroke-width="1.4"/>
<circle cx="651.6" cy="290.9" r="2.4" fill="rgb(199,127,204)"/>
<text class="lb" transform="translate(582.60,293.10) scale(1,1.080)" text-anchor="end">CWM<tspan class="s" font-size="4.3px" dy="1.4">PC2</tspan></text>
<text class="an" transform="translate(642.70,177.40) scale(1,1.080)"><tspan font-style="italic">R</tspan><tspan class="s" font-size="5px" dy="-3">2</tspan><tspan dy="3"> = 0.32</tspan></text>
<text class="an" transform="translate(642.70,187.60) scale(1,1.080)"><tspan font-style="italic">P</tspan> &lt; 2.2e<tspan class="s" font-size="4.3px" dy="-3.2">−16</tspan></text>
</svg></body></html>
